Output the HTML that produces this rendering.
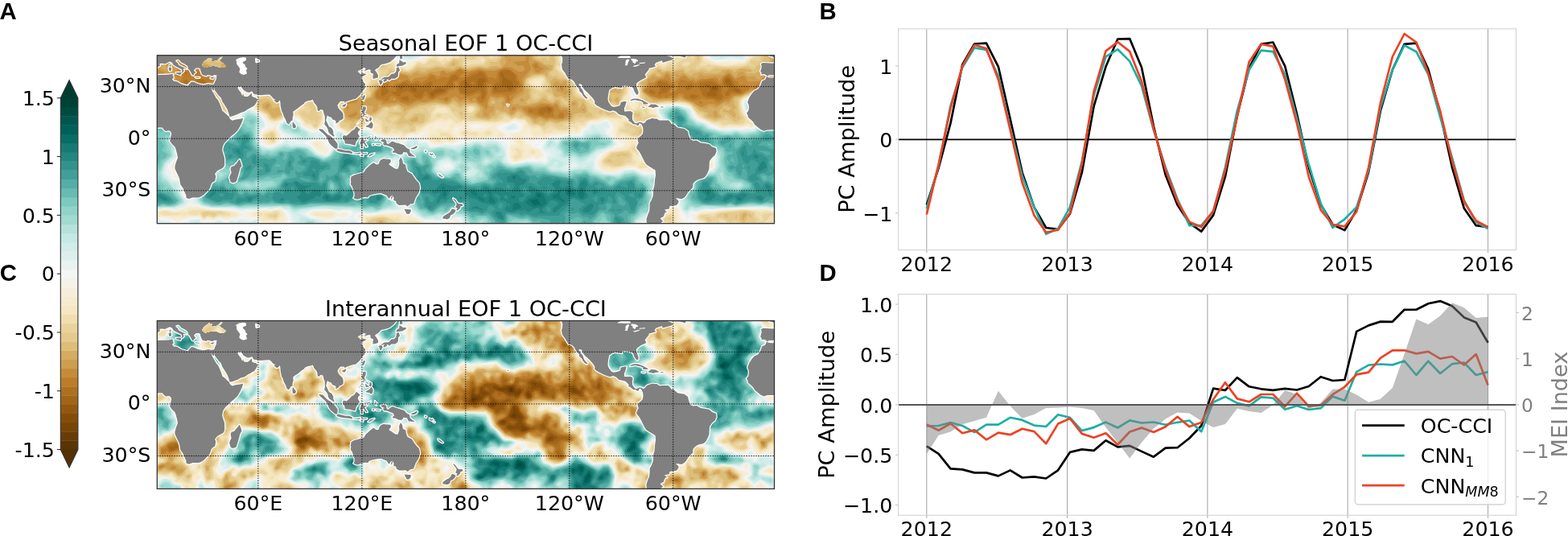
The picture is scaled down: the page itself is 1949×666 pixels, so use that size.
<!DOCTYPE html><html><head><meta charset="utf-8"><title>EOF figure</title><style>html,body{margin:0;padding:0;background:#fff;}svg{display:block;}</style></head><body><svg width="1949" height="666" viewBox="0 0 1949 666" font-family="'DejaVu Sans', 'Liberation Sans', sans-serif">
<rect width="1949" height="666" fill="#fff"/>
<g transform="translate(0,0)">
<clipPath id="clipA"><rect x="195.3" y="68.8" width="767.2" height="208.9"/></clipPath>
<clipPath id="bsA"><path d="M251.1 80.7L252.2 78.5L253.9 76.4L256.5 74.2L259.7 71.9L264.0 73.2L261.8 74.5L264.0 76.4L267.2 75.7L270.4 74.9L273.7 71.4L276.5 70.6L274.7 73.2L272.6 74.5L273.7 76.4L276.9 78.3L281.2 81.8L278.0 83.9L273.7 84.1L269.4 82.4L265.1 81.8L260.8 82.4L256.5 83.5L254.3 83.5Z"/></clipPath>
<g clip-path="url(#clipA)">
<g id="fldA"><rect x="185" y="60" width="790" height="225" fill="#f4f5f5"/><path fill="#e9f2f1" fill-rule="evenodd" d="M491 48l39 1l1 2l-5 5l-3 5l4 6l-1 2l-4 3l-11 3l-11 0l-8 -2l-3 -4l0 -5l-2 -5l0 -5zM718 51l0 -1l6 2l2 -3l3 0l2 7l4 5l-6 2l-13 7l-8 -3l0 -4l8 1zM880 48l48 0l3 8l-1 8l-3 8l-4 3l-13 -2l-21 2l-7 -3l-3 -11zM739 64l3 -1l1 1l-1 1zM786 111l2 -1l1 4l-1 7l-4 -5l0 -2zM926 124l3 -1l5 1l5 3l8 2l3 4l5 -5l3 0l21 2l4 2l10 9l0 59l-7 5l-4 8l6 7l2 8l3 1l0 30l-8 1l-16 -1l-8 1l-11 -2l-27 0l-21 2l-5 -1l-11 2l-8 -1l-8 2l-5 2l-6 -1l-1 2l-1 5l-5 3l0 -6l-4 -2l-4 -8l-3 -3l1 -5l-1 -3l-5 -5l-4 3l0 5l-4 4l-6 2l-6 7l-4 8l-10 8l3 2l0 6l-1 3l-6 2l1 5l-226 0l3 -3l1 -5l-3 -8l0 -7l-2 -2l-5 0l-5 3l-6 -1l-8 2l-18 -1l-11 -4l-8 -7l-13 -2l-8 2l-8 -1l-14 3l-10 1l-11 -2l-6 3l-2 3l7 5l0 11l2 5l0 5l-92 0l5 -5l0 -3l-4 -8l4 -5l0 -2l-2 -8l-10 -7l-14 2l-5 -1l-11 2l-13 0l-5 2l-11 -3l-29 -1l-10 -2l-6 -3l-5 1l-6 -2l-5 5l-11 2l-13 -1l-8 2l-32 -1l0 -103l5 -7l1 -5l-1 -1l-5 2l0 -18l8 3l8 -2l11 2l5 -2l11 3l4 2l5 6l11 5l9 7l13 2l6 -1l8 3l8 -1l9 -2l4 -3l5 0l6 -3l3 -2l2 -8l2 -4l8 1l12 8l8 11l-1 5l-5 4l-2 9l2 3l0 5l8 4l5 -1l14 -6l1 -8l-7 -8l0 -2l2 -5l6 -4l13 -1l6 4l5 7l11 5l8 0l3 -1l2 -5l5 -3l0 -10l6 -2l2 2l-1 5l4 12l8 2l5 5l5 3l8 -1l3 -3l2 -5l6 -2l3 0l5 5l8 3l24 4l5 5l3 -1l5 -7l11 0l3 6l8 -1l5 6l3 1l16 -3l10 1l32 -7l5 2l6 -2l11 1l8 2l5 3l0 18l2 4l6 2l16 -3l13 1l5 -2l3 2l3 -1l0 -8l-6 -8l3 -8l3 -2l8 -4l5 2l13 -4l6 -1l5 2l8 -2l1 -4l9 -9l3 -1l5 1l11 -4l3 1l3 7l-5 5l0 3l7 3l8 10l-7 5l-13 5l-6 5l-2 6l-1 7l10 7l11 1l16 -5l11 0l13 6l8 0l16 -2l11 0l3 -1l1 -3l-1 -5l-5 -8l-1 -8l-2 -5l3 -10l-1 -8l-3 -6l-1 -5l-6 -5l-1 -5l-4 -5l2 -7l21 -3l16 4l3 3l3 8l4 4l11 4l5 4l11 4l19 -1l8 1l8 -2l5 2l3 -1l6 -5l1 -5l-5 -5l-13 -8l-2 -8zM221 196l-6 4l-7 7l6 8l-2 5l4 3l5 1l4 2l1 2l-2 5l4 11l4 3l5 0l4 -11l-1 -13l1 -8l7 -3l0 -5l-8 -8l-11 -3l-3 1l-2 -2zM232 181l-5 3l0 5l2 5l10 -5l0 -2l-5 -6zM391 173l-13 3l1 3l7 2l8 8l11 4l3 -1l3 -5l1 -3l-4 -3l0 -5l-9 -3zM490 201l-3 3l-4 1l4 1l3 -1zM554 204l-3 1l0 2l3 2l8 -2l-3 -4zM798 277l-1 1l1 1l3 -1zM886 191l-17 9l-3 7l1 3l14 3l5 -3l2 -3l1 -13zM386 262l-5 3l1 2l3 3l25 5l8 -3l13 0l4 -2l3 -5l-2 -3l-10 -1l-5 2l-8 -3zM638 153l4 0l3 5l0 2l-14 4l-8 -4l2 -2zM590 158l1 -1l1 1zM666 179l2 -1l2 3l-5 0zM199 273l9 1l2 -1l7 5l3 5l-4 1l-3 4l4 5l1 3l-21 0l0 -5l-3 -5l0 -8l0 -3zM235 273l13 -1l5 5l5 -2l8 1l6 -4l10 4l6 -4l5 2l8 -3l10 3l8 -2l3 3l0 5l3 6l2 7l-1 3l-21 0l-2 -2l-1 2l-43 0l1 -3l-2 -1l-3 4l-32 0l1 -3l4 -2l1 -3l-7 -2l-1 -3l7 -8l4 0zM232 276l-3 2l1 2l2 3l2 -3zM859 275l2 0l1 1l-1 4l-2 3l-5 2l-1 -2l0 -3zM970 275l4 -1l7 1l4 4l8 -4l0 8l-6 10l0 3l-19 0l1 -8l-3 -8zM859 291l3 -2l3 1l1 1l1 5l-10 0zM541 293l2 -1l5 4l-9 0z"/><path fill="#ddefed" fill-rule="evenodd" d="M492 48l31 0l1 2l4 1l-6 10l3 6l-1 2l-4 3l-9 2l-11 0l-8 -3l-1 -2l-1 -5l-2 -5l0 -5zM882 48l45 0l3 8l-1 8l-3 8l-3 2l-13 -2l-13 2l-8 0l-6 -2l-1 -3l-2 -8zM718 56l3 -2l3 3l5 0l1 2l-1 2l-8 2l-3 -2zM786 114l2 -2l0 5l-2 -1zM928 124l6 1l5 3l6 1l5 5l5 -5l3 0l21 2l3 1l11 9l0 43l-2 3l2 2l0 8l-4 5l-5 3l-5 8l-1 5l1 1l3 -2l3 1l3 5l1 5l4 2l0 28l-8 2l-16 -2l-8 2l-11 -2l-27 0l-21 1l-5 0l-11 1l-8 0l-13 3l-6 -1l-5 5l-6 -5l-4 -8l0 -8l-5 -7l-6 -1l-2 1l-2 5l1 5l-2 3l-10 2l1 3l-7 12l-6 4l-10 2l-3 3l5 4l6 1l0 3l-7 5l0 5l-223 0l5 -8l-4 -8l0 -7l-3 -3l-5 0l-5 2l-8 0l-6 2l-10 -2l-8 1l-9 -3l-7 -6l-10 -4l2 -3l-3 -3l-3 0l0 3l-2 3l-6 1l-10 0l-14 4l-10 0l-11 -2l-5 2l-6 -4l-10 -1l-5 2l-11 -2l-19 0l-16 5l11 6l8 1l8 3l3 2l4 1l4 8l2 -3l-3 -5l6 -5l11 1l5 2l2 -3l6 1l2 1l0 3l3 18l-90 0l7 -5l-5 -8l4 -8l1 -5l-5 -8l-10 -4l-14 2l-5 -2l-11 3l-13 -1l-5 2l-11 -3l-29 -1l-8 -1l-8 -4l-5 -1l2 -16l0 -21l6 -2l1 -3l-1 -4l-8 -9l-3 -2l-4 -1l7 0l2 -2l-2 -5l-6 -9l-2 0l-3 3l-6 0l-1 6l-3 2l2 5l-13 11l-3 10l8 9l8 1l3 2l0 6l3 11l7 5l0 3l-5 5l-11 3l-13 -2l-8 2l-13 -1l-6 1l-8 -2l-5 1l0 -101l7 -8l2 -5l-4 -4l-5 2l0 -14l8 2l8 -1l11 2l5 -2l11 2l4 2l4 6l11 5l10 7l32 6l16 -7l5 0l8 -3l5 -11l6 -3l13 8l7 11l0 5l-4 2l-3 11l1 3l0 5l2 2l5 2l8 0l13 -5l6 -6l5 7l3 -3l3 3l10 0l8 3l8 8l11 4l4 -2l3 -5l1 -6l-2 -2l2 -6l3 -2l-1 -3l3 -4l3 -1l5 2l10 8l9 -2l3 -3l2 -5l5 -1l13 7l27 6l5 4l3 -1l5 -6l8 -1l3 1l3 6l8 -1l5 6l19 -3l10 1l32 -6l5 1l6 -2l10 1l4 1l7 8l2 8l0 8l3 2l6 2l16 -3l16 0l5 2l3 0l2 -3l0 -6l3 0l1 -2l-4 -5l-2 1l-3 -1l-1 -3l3 -8l2 -2l7 -3l5 3l5 -3l8 -2l19 0l2 -6l6 -3l2 -5l3 -1l5 2l11 -5l3 2l1 5l-1 1l-6 -1l3 5l0 3l2 2l6 3l5 8l-5 5l-19 8l-2 2l-1 6l0 7l1 3l13 5l11 1l8 -2l5 -3l11 0l13 6l8 0l16 -2l8 1l9 -3l-2 -8l-5 -8l-1 -8l-2 -5l3 -10l-2 -11l-2 -8l-7 -5l-1 -5l-4 -5l1 -6l10 -3l11 0l16 4l5 10l5 5l10 3l6 5l11 3l13 1l6 -1l8 1l8 -2l5 1l8 -4l3 -4l-3 -8l-16 -9l-1 -7l1 -4zM490 199l-3 3l-5 0l-2 3l2 2l5 2l5 -4l1 -5zM548 202l-2 6l0 2l5 2l11 -2l2 -3l-1 -2l-4 -4zM711 204l-8 3l5 2l9 -2l0 -2l-1 -2zM817 238l0 1l5 3l4 -1l-2 -2zM883 191l-2 3l-13 6l-3 7l-3 3l0 2l19 1l5 -2l3 -4l1 -13l-4 -4zM407 147l3 -2l2 2l3 11l-2 5l1 5l-9 5l-11 -2l-8 3l-11 2l-8 -2l-3 -3l-13 -6l-4 -5l0 -2l2 -5l5 -3l13 -1l6 4l2 5l11 7l13 0l6 3l2 -2l-4 -6l4 0l1 -2zM635 155l4 -1l3 4l-1 2l-10 2l-2 -2l1 -2zM243 273l5 -1l2 5l3 1l13 -2l6 -3l10 5l6 -5l5 2l5 -2l13 2l8 -3l2 3l0 8l4 5l0 5l-1 3l-17 0l-4 -5l-2 0l-1 5l-39 0l1 -5l-1 -1l-6 1l-1 -3l1 -2l-2 -1l-3 1l0 5l3 2l0 3l-17 0l-2 -2l-4 -1l1 -5l-6 -5l1 -1l3 0l5 5l2 -4l-1 -8l2 -2zM277 288l0 3l3 0zM197 275l5 -1l8 2l6 3l0 1l-3 3l-2 8l5 2l0 3l-18 0l0 -5l-3 -8zM971 275l6 0l8 6l8 -4l0 4l-7 10l-1 5l-16 0l-1 -3l3 -5l-3 -8zM859 278l1 0l-1 4l-2 2l-3 -1l1 -3zM860 291l5 0l1 5l-8 0zM541 296l2 -2l4 2z"/><path fill="#d2ede9" fill-rule="evenodd" d="M492 48l29 0l1 8l-1 8l1 3l0 2l-11 4l-11 -1l-7 -3l-4 -10l1 -3l2 -2zM883 48l43 0l3 8l-1 8l-5 8l-18 -1l-8 2l-6 -2l-5 1l-3 -2l-2 -9zM927 127l7 -1l5 3l6 1l5 5l8 -6l21 2l14 11l0 39l-3 1l-1 2l3 10l-5 8l-5 3l-5 8l-1 5l3 3l6 2l2 5l6 4l0 26l-8 1l-8 -1l-14 1l-13 -2l-53 1l-11 2l-8 -1l-13 3l-6 -2l-5 4l-5 -2l-3 -8l0 -5l-5 -11l-5 -2l-11 1l-8 -2l-4 4l1 2l11 4l3 4l-3 2l-3 -1l-2 0l-3 3l-5 14l-3 3l-8 1l-9 4l0 5l6 5l3 1l-3 0l-3 5l0 5l-219 0l5 -8l-2 -5l-2 -3l0 -7l-2 -3l-8 -1l-5 2l-8 0l-11 2l-5 -2l-8 1l-7 -2l-9 -8l-6 -2l-2 -6l-6 -2l-5 2l1 3l-4 3l-10 0l-14 4l-10 1l-16 -3l-6 -2l-15 1l-19 -2l-11 0l-16 3l-4 3l3 2l12 5l6 1l7 3l8 5l6 8l4 -6l-1 -5l3 -3l10 1l2 3l3 0l2 -4l5 0l2 3l0 8l3 5l0 5l-15 0l3 -5l0 -3l-3 -1l-2 0l-2 4l1 5l-6 0l-1 -5l-1 2l-6 3l-49 0l2 -8l-3 -2l5 -6l-3 -5l5 -2l0 -3l-1 -2l-5 -2l-6 -6l-5 0l-8 -3l-8 2l-8 -1l-11 2l-13 -1l-5 1l-11 -2l-26 0l-11 -2l-8 -4l-2 -3l-1 -26l2 -8l4 0l2 -5l-1 -3l-7 -10l5 -3l-8 -15l-7 -3l-3 3l-5 0l-3 2l0 3l-4 5l2 5l-13 11l-2 10l9 10l3 2l3 -1l3 2l0 5l3 8l6 8l0 3l-1 2l-14 5l-11 -1l-8 2l-13 -1l-6 1l-8 -2l-5 0l0 -99l10 -12l1 -2l-3 -5l-8 -3l0 -7l11 3l5 -2l11 2l5 -3l11 3l3 1l5 6l10 6l8 6l30 6l5 3l5 -5l8 -1l3 -2l5 0l8 -4l5 -9l6 -4l11 6l8 11l0 5l-3 0l-2 2l-2 11l1 8l3 3l10 3l16 -6l6 -4l1 4l4 2l5 -1l11 1l8 2l8 8l11 4l5 -3l3 -5l1 -11l5 -5l-1 -3l0 -2l3 -2l5 1l10 10l11 -4l3 -6l5 -2l13 8l18 3l14 6l3 0l5 -5l3 1l5 -4l5 7l9 -1l5 6l19 -3l10 2l21 -5l3 -2l8 0l5 2l6 -3l10 1l3 1l6 7l3 8l-2 8l3 2l9 3l16 -4l24 3l5 -7l8 -3l-1 -2l1 -3l-3 -4l-2 -1l-8 1l-3 -1l3 -8l2 -2l6 -2l5 5l5 -5l8 -2l19 0l5 -6l6 -1l0 -5l2 -2l13 9l3 3l8 4l3 7l-3 3l-19 7l-12 11l-1 3l5 -2l3 0l1 4l-1 2l3 5l10 4l11 1l11 -1l5 -4l11 0l13 6l19 -1l2 4l2 -1l0 -2l4 -3l5 2l14 -2l-1 -2l-9 -16l-4 -13l2 -10l-2 -19l-8 -6l-1 -4l-4 -5l-1 -3l2 -3l12 -2l13 0l11 4l3 9l7 6l8 2l6 5l13 4l13 1l6 -2l10 2l14 -1l9 -7l0 -5l-2 -5l-2 -2l-14 -6l-2 -5zM426 280l-4 6l4 0l1 -6zM490 197l-3 3l-8 2l0 3l1 2l7 5l8 -10l-2 -5zM556 199l-8 1l-2 2l-3 8l8 4l12 -4l2 -5zM695 189l-3 0l3 2zM713 199l-10 6l-5 5l2 1l8 0l11 -4l1 -2zM724 205l2 2l2 -2zM883 190l-5 4l-11 4l-3 7l-4 5l-1 3l3 2l5 -2l8 1l11 -1l4 -6l1 -13l-5 -5zM356 150l11 0l8 9l8 4l3 4l4 1l0 3l-4 2l-13 1l-8 -5l-14 -6l-3 -3l0 -5l2 -2zM410 153l0 -1l3 1l1 2l-1 4l-3 -2zM632 158l4 -1l2 1l-2 2l-3 1zM395 168l2 -2l3 2l-1 2zM237 275l8 -2l3 1l1 4l-6 8l-3 1l-4 -7zM270 275l4 0l8 4l6 -4l2 2l8 -2l5 3l0 7l4 -2l-2 -5l12 -4l2 0l0 8l-5 1l1 3l7 2l1 3l-2 5l-11 0l-7 -8l-2 -1l-4 9l-6 0l-3 -3l-5 3l-20 0l1 -7l-5 -3l-1 -6zM274 285l-1 6l2 2l5 2l1 -4l-1 -5l-3 -3zM201 278l7 0l2 8l-2 5l-4 2l1 3l-6 0l1 -5l-2 -11zM970 278l4 -2l5 2l3 4l5 2l0 4l-5 6l-4 2l-8 0l-1 -3l4 -10zM211 293l2 0l2 3l-6 0zM247 293l4 3l-12 0zM859 293l3 -2l3 2l0 3l-6 0zM358 296l4 -1l2 1z"/><path fill="#c4e9e4" fill-rule="evenodd" d="M493 48l26 0l-2 8l2 11l-1 2l-7 3l-11 -1l-5 -2l-2 -8l4 -7l-2 -1zM514 59l-3 1l0 3l4 -2l0 -2zM883 51l2 -3l40 0l3 8l-5 14l-8 1l-13 -3l-5 4l-3 -3l-5 2l-4 -2l1 -5l-3 -1l-1 -4zM928 129l6 -1l5 3l6 0l2 5l3 1l8 -6l20 1l4 2l11 9l0 36l-3 1l-3 4l3 10l-3 6l-7 5l-4 8l-1 5l2 3l16 13l0 24l-8 1l-8 -1l-14 0l-13 -2l-67 3l-5 -1l-13 3l-6 -2l-5 4l-3 -1l-2 -2l-1 -11l-7 -13l-5 -2l-14 1l-5 -1l-3 0l-3 5l1 3l7 4l0 3l-5 5l-2 12l-3 3l-8 -1l-10 7l-1 6l6 5l-3 5l0 5l-216 0l7 -8l-3 -8l-3 -2l1 -5l-4 -4l-8 -1l-16 2l-3 0l-2 -3l-1 3l-2 2l-5 -2l-11 1l-5 -3l-6 -6l-6 -2l-3 -6l-4 -3l-5 -1l-6 -4l0 12l-2 2l-8 -1l-14 4l-10 1l-22 -5l-18 1l-16 -2l-29 3l-6 3l-2 0l-6 -5l-5 0l-5 -2l-51 2l-8 -1l-26 0l-14 -3l-6 -6l1 -5l-1 -8l2 -18l5 -5l-1 -6l-5 -7l4 -6l-5 -7l-2 -9l-10 -3l-6 3l-5 -1l-1 2l-1 5l-3 3l0 2l1 5l-12 10l-3 11l1 3l10 10l6 0l0 5l10 16l0 4l-13 5l-14 0l-5 1l-13 -1l-6 1l-8 -2l-5 0l0 -96l12 -14l1 -2l-5 -8l8 -4l11 1l5 -3l11 3l8 7l21 13l11 1l5 3l8 0l8 4l5 -5l8 0l16 -6l3 -3l2 -6l6 -4l10 5l5 7l0 3l-3 5l-1 16l1 5l4 4l10 3l22 -7l5 3l5 -1l11 1l7 2l8 8l9 3l5 -1l7 -7l2 -11l5 -2l0 -3l-2 -3l2 -3l4 1l11 10l13 -5l3 -7l16 8l8 0l11 3l13 8l8 -5l3 3l3 0l2 -6l2 4l4 2l8 0l5 4l11 -2l8 0l13 2l10 -5l8 -1l6 -2l5 0l5 3l6 -3l10 0l6 5l5 10l-3 8l3 2l8 3l19 -3l24 3l2 -1l6 -7l13 4l1 1l-1 3l-5 4l-5 -2l3 -2l1 -3l-2 -2l-3 1l-1 4l-5 2l1 3l3 1l8 -1l8 3l15 -3l3 -2l5 1l8 -5l2 6l2 3l12 4l19 1l8 -5l11 -1l13 7l8 1l8 -1l5 3l16 -5l8 2l6 -6l5 0l2 4l3 0l8 -3l5 1l11 -1l5 -7l1 -10l-1 -5l-5 -4l-3 1l-5 4l-11 4l-10 13l-5 -3l-6 1l-2 -2l-6 -10l-3 -12l1 -10l-2 -19l-8 -8l-5 -7l0 -3l1 -2l16 -3l8 1l10 4l3 8l8 7l6 1l8 6l13 4l13 1l8 -2l8 2l14 -1l10 -8l0 -10l-8 -9l-8 1l-2 -1l-2 -4zM490 196l-6 3l-11 3l14 13l3 -2l6 -11l-1 -5l-3 -2zM556 197l-10 3l-4 7l1 5l11 3l11 -5l2 -5l0 -2zM588 209l-10 6l1 3l9 0l3 -2l1 -3zM604 199l-1 1l1 2l3 -2zM165 132l2 0l0 2l-2 1zM168 134l5 0l-3 2zM352 153l10 -3l5 2l8 8l6 3l5 8l-11 1l-7 -4l-14 -4l-4 -4l-1 -2zM739 163l3 0l8 5l11 5l2 6l-2 2l-19 7l-13 10l-3 3l-5 1l-8 -6l-5 2l-3 -2l-5 1l-4 -3l1 -6l-5 -3l-3 -4l-8 3l-2 -2l1 -6l4 -3l3 1l5 6l5 -6l3 -2l5 -1l19 0l5 -4l7 -1zM375 270l16 3l3 3l5 2l3 3l5 3l2 7l-2 2l-5 0l-3 3l-31 0l0 -5l5 -11l-1 -2l0 -3zM399 284l-2 4l-3 0l5 1l1 -3zM243 275l4 0l0 3l-7 5l-2 -3l0 -2zM317 275l0 4l-3 -1zM271 278l3 -1l4 3l-4 1l-2 -1l-1 3l-2 3l-5 0l-3 -3l1 -3zM295 278l4 0l1 5l-12 4l-3 2l-3 -3l0 -4l6 -3zM436 278l3 -2l2 2l0 5l-2 2l-5 -2l0 -3zM973 278l2 0l-1 1zM202 280l4 0l-1 2zM976 280l1 0l5 5l3 1l0 2l-3 4l-5 -1l-2 5l-4 0l0 -3l3 -2zM203 286l2 -2l1 2l0 2l-1 0zM306 288l5 -2l3 2l4 3l0 5l-6 0l-3 -2zM292 291l1 -2l2 0l2 2l-1 5l-3 0zM414 291l1 -2l1 2l-1 2zM439 291l3 -2l2 1l1 6l-11 0l5 -3zM266 293l0 -1l3 1l-3 1zM861 293l2 0l1 3l-3 0zM211 296l2 -1l1 1z"/><path fill="#b4e2db" fill-rule="evenodd" d="M494 48l4 0l-3 2zM503 51l3 -3l11 0l-2 6l-7 7l3 9l-11 -1l-5 -4l-1 -4zM886 51l2 -3l8 0l-4 6l2 2l3 0l5 -3l3 2l2 -4l-1 -3l8 0l-2 3l4 5l1 5l1 2l3 0l2 -2l-3 -5l3 -7l3 7l0 3l-2 2l-1 6l-4 2l-12 0l-5 -6l-11 4l-8 -8l1 -5zM197 132l11 3l8 7l24 14l5 -1l8 5l8 -1l8 4l5 -5l11 1l3 -3l10 -4l3 -2l5 -9l3 -1l7 2l4 3l2 5l-3 8l0 18l6 8l2 2l11 0l16 -6l8 3l8 -1l8 1l5 1l9 8l10 4l5 -1l5 -3l4 -8l2 -8l5 0l2 -2l-3 -6l1 -2l3 2l4 6l6 4l14 -7l3 -5l13 8l10 -1l11 3l10 8l1 3l-3 7l-3 0l-5 2l-5 0l-6 4l-5 0l-1 2l1 5l5 2l5 4l1 2l2 3l3 0l4 -3l7 -9l0 -9l6 -5l-2 -5l4 -4l6 1l2 6l8 -3l0 -3l2 -1l11 3l11 -3l8 1l8 1l8 3l7 -6l8 -1l6 -3l5 1l5 2l3 0l3 -2l10 0l5 5l1 3l-3 4l-3 1l0 2l8 -1l-1 7l1 2l11 4l21 -3l8 2l14 1l5 5l4 2l7 -1l8 2l10 -3l19 -1l5 4l11 3l21 2l8 -4l11 -1l10 5l6 1l2 3l8 -3l6 3l8 1l8 -5l10 2l8 -5l5 3l3 1l8 -5l5 1l11 -1l4 -2l3 -6l1 -13l-4 -5l-4 -2l-3 1l-5 4l-11 3l-10 9l-3 -1l-2 -3l-3 5l-3 1l-2 -1l-5 -11l-3 -10l1 -10l-1 -19l-9 -8l-4 -10l15 -5l6 0l10 5l5 10l7 6l7 1l8 6l18 4l8 1l8 -2l8 2l14 -1l9 -6l3 -3l2 -5l-2 -8l9 -10l17 0l7 2l11 10l0 31l-7 6l-1 3l2 13l-2 3l-6 4l-4 6l-1 8l3 5l16 13l0 21l-8 1l-8 -1l-14 1l-10 -2l-22 0l-29 2l-27 -1l-10 2l-6 -2l-5 5l-4 -2l1 -8l-8 -16l-7 -4l-14 2l-8 -4l-2 1l0 2l-4 6l4 5l4 2l1 3l-4 5l0 6l-4 7l-8 -1l-11 8l-1 6l1 3l2 3l-2 10l-212 0l7 -5l1 -3l-6 -15l-5 -5l-11 -3l-10 3l-8 -2l-6 2l-13 2l-16 -12l-8 -9l-11 -6l-3 3l1 6l-1 5l-7 1l-14 5l-16 -1l-5 -3l-11 -1l-45 -1l-18 3l-6 2l-2 0l-6 -5l-5 1l-5 -2l-51 3l-8 -2l-26 0l-13 -3l-5 -5l1 -5l-3 -8l1 -8l3 -3l1 -7l3 -5l-2 -8l-4 -5l4 -6l0 -2l-4 -5l-4 -11l-10 -3l-8 3l-6 -2l0 7l-4 6l1 7l-10 9l-4 12l2 5l7 6l3 5l8 7l7 11l0 3l-10 5l-42 1l-6 -2l-5 -1l0 -92l3 -2l10 -14l1 -2l-3 -5l0 -3l5 -3l11 1zM264 214l0 1l2 1l3 -1l-3 -2zM554 196l-10 4l-4 10l3 4l5 2l8 0l10 -6l7 -10l-1 -1l-8 2l-5 -5l-3 -1zM580 204l4 3l0 3l-7 5l0 3l3 2l8 0l6 -5l1 -2l-7 -7l-5 -3zM604 197l-3 3l0 2l3 2l6 -4zM652 278l-3 0l-1 2l1 2l2 -2zM838 222l0 2l2 -1zM921 228l-8 3l5 2l3 -2zM929 132l4 0l0 2l-3 0zM353 153l9 -2l5 2l8 9l6 3l1 3l-4 3l-5 -3l-19 -6l-4 -4l1 -3zM742 166l3 0l5 5l10 3l2 2l-1 3l-8 5l-11 2l-18 13l-3 0l-8 -5l-5 1l-8 0l-1 -6l-6 -5l0 -3l4 -7l3 -1l13 -2l11 2l5 -4zM683 176l4 0l-4 5l-2 1l0 -3zM380 273l11 2l1 3l-3 6l2 6l6 3l0 3l-22 0l-3 -5zM311 288l4 3l-1 3l-4 -1l-2 -2z"/><path fill="#a0dad1" fill-rule="evenodd" d="M509 51l5 -3l0 3l-7 8l-1 7l-6 0l-2 -2l-1 -3l6 -7zM890 48l4 0l-3 3zM909 48l2 0l-1 2zM909 54l1 -2l2 4l-3 0zM891 61l3 -1l4 1l-4 4l-2 -1zM913 61l2 2l2 4l-2 1l-8 -1l-1 -3l1 -2zM194 134l3 -1l11 3l32 23l5 -2l3 1l-1 5l3 1l11 -4l3 3l5 1l8 -5l8 3l3 -4l13 -7l7 -9l9 2l2 2l1 4l-3 8l1 18l4 7l5 5l6 -1l5 1l16 -6l8 2l8 -1l11 1l10 8l11 5l3 0l5 -3l6 -7l2 -6l8 -5l5 0l5 3l19 -9l5 1l6 4l10 -1l11 4l5 3l-1 8l1 3l-5 3l-5 -2l-3 0l-5 3l-6 0l-2 2l1 12l4 5l0 3l3 2l5 -4l8 6l11 0l1 -2l-3 -7l5 -8l0 -8l5 -5l0 -4l2 1l1 3l2 1l3 0l10 -6l11 0l13 -3l3 0l5 4l3 -1l3 -1l8 5l7 -8l8 0l6 -4l5 1l5 3l16 -2l3 3l0 4l-3 1l-2 -1l-3 -4l-1 3l3 5l-1 5l-9 -2l-3 1l-3 6l1 3l5 1l13 -8l3 0l5 5l6 3l8 1l18 -3l8 3l14 1l2 3l6 2l10 1l6 1l10 -3l16 -1l8 5l13 3l6 -1l13 3l8 -5l11 -1l16 8l6 10l-4 6l8 10l-2 3l0 7l-3 5l-11 1l-8 8l-2 7l0 3l1 3l-1 10l-30 0l-2 -3l-2 3l-99 0l0 -9l-3 3l-8 2l-1 1l0 3l-39 0l-8 -2l-2 2l-14 0l5 -3l6 -7l-6 -6l-5 -10l-5 -4l-8 -1l-3 -3l-2 0l-3 3l-5 2l-8 -2l-8 3l-11 0l-19 -16l-5 -8l-8 -5l-9 5l2 8l-1 3l-19 7l-5 -2l-11 1l-5 -3l-45 -2l-35 4l-2 0l-6 -4l-10 0l-43 1l-8 1l-8 -2l-26 1l-11 -3l-6 -5l-1 -18l4 -5l0 -8l3 -8l-1 -5l-4 -5l4 -6l-1 -2l-3 -5l-4 -11l-2 -2l-5 0l-5 -4l-8 5l-3 -3l-4 -1l-5 13l2 10l-10 8l-5 13l3 8l6 3l12 13l7 10l-1 3l-5 3l-5 2l-40 0l-6 -2l-5 -1l0 -89l4 -2l4 -6l5 3l2 -2l-3 -5l4 -8l-3 -5l0 -3l3 -1l11 1zM264 209l-3 4l0 2l3 3l8 0l2 2l4 -2l-2 -3zM306 228l-2 3l5 1l3 -1zM319 227l-1 1l0 3l4 1l2 -1l-1 -3zM495 231l-2 0l2 4l1 -2zM554 194l-12 6l-3 10l1 3l3 2l5 2l8 1l11 -7l7 2l-3 -6l4 -4l6 7l-6 5l2 5l11 4l3 -1l2 -3l6 0l1 -2l-1 -5l-6 -5l0 -3l-2 -2l-6 -2l-8 1l-5 -7l-2 0l-3 4l-3 0l-8 -6zM601 272l-5 4l-1 2l1 1l3 -3l2 -1zM647 278l-1 2l3 4l3 -1l4 -5l-4 -2zM753 283l-5 1l-2 2l-3 5l2 2l5 -2l3 -7l3 0l1 -1l-1 -2zM596 288l3 3l4 -3l-2 -1zM833 134l8 -1l11 4l6 10l9 8l6 0l6 5l20 6l8 0l8 -2l8 3l16 -3l11 -7l2 -7l1 -10l5 -7l3 -1l13 1l11 5l5 6l3 1l0 27l-9 9l0 11l1 5l-6 5l-6 8l-1 8l0 2l5 6l11 7l5 5l0 19l-8 1l-8 -2l-14 1l-10 -2l-22 0l-16 2l-40 -1l-10 2l-6 -2l-3 1l-2 3l-2 0l2 -8l-6 -13l-6 -6l0 -7l2 -3l10 -3l8 2l4 -4l4 -2l5 1l14 -2l6 -8l-1 -7l1 -6l-2 -5l-7 -3l-3 0l-5 6l-11 2l-8 7l-2 0l-3 -3l-2 0l-6 5l-2 -2l-4 -7l-3 -10l0 -29l-8 -8l-3 -5l0 -2l2 -3zM910 227l-4 4l12 3l6 -3l-1 -3l-2 -1zM894 215l3 7l3 4l-2 -11l-1 -1zM360 153l5 0l6 5l3 5l-1 2l-8 0l-6 -5l-5 0l-2 -2l0 -3zM739 168l6 0l5 5l8 0l2 3l-1 3l-9 5l-8 1l-10 8l-11 3l-8 -4l-5 2l-7 -2l-2 -5l-4 -6l2 -5l3 -2l16 -2l8 2zM810 223l4 -1l6 3l5 1l2 2l0 3l-5 1l-2 0l-6 -4l-5 -2zM832 223l4 1l1 4l-4 3l-5 -3zM382 275l7 0l1 3l-4 8l5 7l-1 3l-12 0l-1 -10z"/><path fill="#8fd3c9" fill-rule="evenodd" d="M506 54l1 0l1 2l-5 7l-2 -2zM197 134l4 0l6 3l26 18l7 8l8 3l13 0l3 -1l5 0l8 -4l8 3l5 -6l11 -5l5 -7l3 -2l8 2l2 4l-4 8l2 18l5 8l5 6l6 -2l5 2l8 -4l8 -2l11 1l5 -2l11 2l10 8l11 5l9 -4l9 -13l6 -3l5 0l5 2l19 -8l5 1l6 3l10 -1l11 4l3 2l-1 8l1 3l-3 2l-5 -3l-8 2l-6 0l-5 4l-1 3l2 7l5 8l1 5l4 2l2 0l3 -3l3 1l3 3l-1 6l5 2l2 2l1 3l-9 8l3 8l-1 2l-6 1l-6 5l-5 1l-5 -3l-11 2l-5 -4l-5 1l-40 -2l-35 4l-8 -3l-10 -1l-43 1l-8 1l-8 -1l-26 0l-11 -3l-4 -4l-2 -13l0 -5l5 -5l0 -8l5 -11l-6 -7l3 -6l-5 -7l-4 -14l-8 0l-5 -7l-6 6l-2 1l-6 -5l-2 -1l-3 4l-5 0l-2 3l7 18l-1 2l-9 8l-2 8l-4 5l3 9l13 10l11 12l1 3l-1 3l-6 4l-8 1l-8 -1l-5 1l-8 -1l-13 0l-6 -2l-5 -1l0 -84l8 -8l5 1l3 -2l1 -5l-3 -2l0 -3l5 -8l8 -2zM264 206l-4 4l-1 5l5 5l10 2l9 -7l-11 -4l-6 -4zM277 206l-1 1l1 2zM319 225l-5 5l-1 -2l-7 -1l-6 1l-2 3l11 3l2 0l3 -2l11 2l13 -3l3 -3l-3 -3l-13 2zM836 134l5 -1l9 4l3 3l4 8l10 8l6 1l5 4l21 6l11 0l5 -2l11 3l13 -3l12 -7l2 -5l2 -13l1 -3l3 -3l15 0l11 5l5 6l3 1l0 25l-3 1l-9 9l2 6l-2 5l2 5l-12 13l0 10l12 13l4 2l6 4l0 17l-8 1l-32 -3l-8 1l-14 -1l-16 3l-8 -2l-5 2l-27 -2l-8 2l-9 -3l-6 -10l0 -11l-6 -1l-1 -4l-1 -2l2 -2l8 0l3 1l2 5l11 -13l5 1l16 -1l3 9l11 7l13 3l8 -5l-4 -5l-15 0l-5 -4l-6 -20l1 -13l-3 -2l-11 -2l-5 5l-11 2l-8 7l-5 -3l-2 0l-6 3l-2 -1l-3 -4l-3 -10l0 -29l-8 -8l-2 -5l2 -4zM354 155l11 0l5 3l1 2l-1 3l-4 0l-7 -8l-2 2zM737 171l5 -2l3 1l3 4l8 1l3 1l-6 5l-11 2l-10 8l-11 4l-8 -4l-8 0l-2 -1l-6 -9l1 -5l5 -2l5 0l8 -1l8 2zM589 181l7 0l5 4l6 -1l4 8l-1 2l-4 0l-5 -2l-5 8l-5 1l-11 -2l-6 -5l-2 -2l5 -8l8 0zM542 187l9 -1l2 3l0 3l-2 2l-11 3l-2 13l2 5l6 3l10 1l11 -6l6 2l3 5l12 7l15 -7l-2 -10l6 -5l13 -5l11 7l8 1l18 -3l8 4l11 -1l8 6l13 1l8 2l8 -3l8 0l5 -2l4 1l7 4l5 1l8 3l6 -2l13 3l8 -5l11 -1l5 2l5 5l3 1l6 9l-2 6l4 7l2 11l-2 4l-13 3l-2 3l-6 6l-2 10l1 10l-2 3l-26 0l-1 -5l-4 -3l4 0l1 -2l-1 -5l-2 -3l-11 5l-3 5l0 6l9 2l-94 0l0 -5l2 -5l-2 -5l0 -5l-2 -2l-9 1l-2 3l1 5l5 5l-8 3l-3 4l-33 1l-2 -3l3 -10l-4 -5l2 -3l-1 -4l-8 1l-5 8l-3 0l-8 -12l-5 -3l-5 0l-6 -6l-2 1l-6 5l-2 0l-8 -2l-8 4l-8 -1l-8 -4l-14 -13l-3 -8l0 -5l-5 -1l-3 -7l4 -5l1 -3l-4 -7l5 -8l-1 -8l4 -2l13 -2l5 -4l8 0zM562 194l2 -2l3 2l-1 3l-2 1zM832 226l2 0l0 2l-2 0zM819 228l3 -1l2 1l-2 3zM383 278l4 0l-4 7l-2 -2zM590 291l3 0l0 2l-1 3l-7 0zM381 293l2 -2l3 0l2 2l0 3l-8 0z"/><path fill="#7ccabe" fill-rule="evenodd" d="M837 134l6 0l9 5l5 12l8 5l8 2l2 3l22 7l13 0l5 -2l11 4l8 -3l5 0l14 -9l5 -21l3 -1l13 1l11 3l4 7l4 0l0 22l-3 0l-5 6l-3 1l-3 -2l-4 2l0 3l6 8l-3 5l3 5l-13 13l1 10l3 6l10 9l5 2l6 4l0 15l-8 1l-32 -4l-8 1l-14 -1l-16 3l-8 -2l-5 2l-40 -2l-7 -8l0 -5l2 -3l6 -2l2 -10l5 -7l5 0l6 -1l8 0l2 2l1 6l7 7l8 2l11 2l13 -6l-8 -6l-10 -2l-3 -3l-7 -2l-5 -18l2 -8l-3 -7l-16 0l-4 4l-10 2l-8 6l-5 -2l-8 2l-2 -1l-5 -12l1 -10l-2 -8l1 -11l-9 -9l-1 -4l1 -2zM198 137l2 -1l4 1l31 21l-1 3l-6 5l-2 4l-4 -2l-1 -10l-3 0l-2 2l0 3l-5 5l-6 0l-1 6l3 7l-1 6l5 5l-1 2l-8 6l-4 10l-1 1l-3 -2l-2 1l6 16l7 5l-2 2l1 3l6 -2l3 2l11 13l-5 5l-6 2l-11 -1l-5 2l-8 -2l-13 0l-6 -2l-5 0l0 -82l8 -7l8 -1l3 -5l-4 -8l2 -3l2 -3l2 -1l6 1zM306 150l8 -2l3 2l-3 5l-3 -1l-2 -4zM301 155l2 -2l4 5l2 1l2 -1l4 8l1 13l9 12l2 1l6 -2l2 2l3 0l10 -5l9 0l13 -3l11 2l2 4l19 9l10 -5l9 -11l3 -2l7 -1l5 1l19 -8l3 1l8 4l10 -2l11 4l2 4l-2 5l-21 3l-6 4l0 4l2 7l5 8l0 5l7 4l5 0l5 8l4 1l0 3l-6 6l-3 10l-8 8l-3 0l-5 -3l-11 2l-5 -4l-5 1l-40 -1l-35 3l-8 -3l-10 0l-43 0l-8 1l-16 -2l-10 1l-8 0l-11 -3l-3 -3l-1 -13l1 -5l4 -5l-1 -8l3 -4l5 7l11 4l5 -2l8 -7l8 -3l-3 -5l-8 2l-5 -6l-16 -4l-5 -6l-2 -5l-4 -3l-3 -7l-2 -11l8 -1l8 1l8 -1l8 -5l11 5l2 -8zM306 225l-12 3l0 3l4 3l5 0l8 2l6 -2l10 3l6 -4l10 -2l1 -3l-1 -2l-5 -2l-13 1l-6 -1l-5 3zM413 229l-2 2l2 2l1 -2zM239 166l6 2l-5 3l-3 0l-1 -3zM742 171l2 3l1 3l5 0l4 2l-4 2l-5 -1l-5 2l-8 8l-11 3l-8 -4l-8 0l-6 -10l0 -3l4 -1l5 0l8 -2l8 3l8 -3l2 1zM588 184l3 -2l6 2l1 5l-2 7l-5 1l-6 -4l-3 1l2 3l-4 0l-6 -5l3 -6l8 1zM548 187l3 1l0 4l-5 2l-8 -1l-3 4l3 8l-1 8l2 2l7 4l10 1l3 0l5 -5l6 0l2 2l3 5l13 6l17 -5l1 -3l-3 -5l1 -2l4 0l0 -3l-1 -3l2 -2l6 0l5 -3l11 6l8 1l18 -3l4 1l4 4l11 -1l8 5l13 1l8 2l6 0l2 -3l8 1l5 -3l3 1l5 4l6 0l10 5l6 -3l2 1l2 2l-3 3l1 2l3 -1l3 -3l8 -2l5 -3l11 -1l5 2l3 4l5 3l5 6l-2 8l2 3l0 5l3 8l-3 1l-2 -1l-8 4l-4 6l-4 3l-5 16l1 7l-2 3l-22 0l1 -10l-2 -6l-9 -11l-3 4l-4 10l-3 5l1 8l-27 0l-3 -2l-3 0l-2 2l-47 0l0 -8l4 -2l0 -3l-3 -3l-1 -5l-4 -3l-6 1l-10 -1l-3 2l-2 4l1 5l-3 5l1 3l-1 5l-24 0l1 -13l-2 -5l0 -5l-3 -3l-8 0l-5 4l-3 0l-8 -7l-5 -4l-5 -1l-2 -2l-4 -2l-2 0l-6 5l-2 1l-6 -2l-10 4l-6 -1l-3 -3l-5 0l-4 -2l-5 -8l-4 -3l-4 -8l0 -5l-7 -5l4 -11l-4 -5l0 -2l4 -6l0 -7l1 -3l11 -2l4 2l2 4l2 2l-1 -6l1 -6l8 0l14 -3zM603 187l4 0l1 2l-1 4l-4 -4zM255 200l1 0l1 2l-2 0zM846 226l3 -1l4 1l2 2l-1 2l-5 -1zM640 280l1 0l0 2zM382 296l1 -2l3 0l1 2z"/><path fill="#67bbb0" fill-rule="evenodd" d="M835 137l6 -2l3 1l8 7l3 7l-1 3l2 2l6 1l3 2l5 1l5 4l11 3l0 4l3 1l5 -2l11 -1l5 1l5 -1l11 4l5 -1l3 -2l8 -1l12 -10l5 -13l0 -5l2 -2l13 0l9 4l2 3l0 10l2 4l6 2l0 6l-6 1l-2 4l-2 -1l-1 -5l-3 1l-2 -6l-10 2l2 3l9 2l-6 8l1 3l6 8l-4 5l3 5l-11 10l-1 3l2 5l-2 5l11 13l16 9l0 13l-8 1l-32 -4l-8 2l-8 -2l-22 3l-8 -2l-5 2l-21 0l-11 -1l-11 -5l-1 -3l0 -5l1 -2l6 -2l0 -9l5 -7l3 -1l13 -1l3 1l1 8l4 2l3 4l10 2l11 2l5 -3l8 -1l2 -3l-2 -3l-8 -5l-8 -1l-5 -6l-5 -2l-3 -7l-2 -10l2 -5l-1 -3l-2 -5l-6 -3l-2 -2l-5 3l-10 2l-3 5l-8 2l-6 4l-5 -1l-8 2l-2 -2l-3 -10l1 -5l-3 -13l1 -11l-9 -10l1 -5zM889 229l-2 2l2 0zM205 142l0 -1l5 3l6 5l6 4l-9 5l-5 -2l-1 4l-7 4l-6 -4l-1 0l1 3l3 3l-3 5l6 4l4 6l-3 6l7 5l-3 5l-5 1l-3 8l-5 2l-2 5l3 2l4 14l2 2l0 5l14 2l9 11l-4 5l-8 1l-8 -1l-5 2l-32 -4l0 -74l1 -2l-1 -2l3 -1l5 -7l11 -3l2 -5l-4 -8l2 -4l2 -1l6 2l5 -1l5 3l3 -2zM991 150l2 -1l0 8l-4 -2l-1 -2zM224 158l2 -2l3 0l3 2l0 2l-6 4l-2 -2zM297 158l4 0l5 5l5 0l3 5l0 11l10 13l3 1l6 -1l2 2l8 -1l3 -4l3 -1l8 1l13 -4l8 2l5 6l14 4l5 3l8 -2l5 -4l11 -11l10 0l8 -5l11 -2l3 -1l8 4l10 -1l3 1l0 3l6 -1l2 3l-3 3l-5 0l-5 3l-8 1l-6 2l-5 9l9 13l-1 3l-3 0l1 2l5 3l10 3l7 7l1 3l-4 5l-1 8l-7 8l-4 1l-8 -2l-8 2l-5 -4l-3 -1l-5 2l-53 -1l-19 3l-8 -3l-21 -1l-32 1l-8 2l-16 -3l-10 2l-8 -1l-11 -3l-2 -5l0 -7l2 -7l5 -2l6 -5l8 2l16 -10l5 2l5 0l1 -4l-9 -10l-5 2l-11 -7l-10 -1l-3 -2l-5 -10l-6 -6l-1 -10l4 -3l5 1l11 -1l8 -4l11 9l4 -7l-2 -3l1 -3zM351 217l-2 3l-3 0l-5 2l-8 -2l-8 3l-6 -1l-5 3l-5 -1l-11 2l-5 -1l-3 3l1 3l7 7l8 -2l5 2l6 -2l10 3l6 -4l10 -2l6 -7l1 -3l6 -3l-2 -3zM410 228l0 6l3 2l2 0l1 -3l-2 -5l-1 -1zM431 221l-1 5l1 3l3 1l2 -2l0 -2l-2 -5zM702 176l6 1l8 -3l8 3l8 -2l2 1l1 3l-3 9l-11 3l-10 -4l-6 -6l-2 -1l-2 -1zM588 187l3 -3l5 3l0 5l-3 1l-2 -1l-3 -3zM577 189l4 0l-1 1zM526 192l6 2l5 11l-1 8l7 6l16 2l8 -5l3 0l1 2l2 5l12 6l22 -5l1 -9l4 -5l-1 -3l4 1l5 -4l11 5l8 1l5 -2l13 -1l8 6l11 0l5 2l24 5l6 0l5 -3l13 -2l5 4l6 1l13 5l5 5l3 0l5 -5l11 -4l11 -2l3 1l4 6l3 1l6 6l-1 8l1 11l-8 6l-6 9l-6 3l0 8l-3 8l0 7l-2 3l-18 0l1 -13l-4 -8l-3 -2l-2 -6l-3 -2l-2 0l-10 10l3 8l-3 5l1 8l-15 0l-3 -2l-5 2l-2 -3l5 -10l-3 -5l1 -3l-1 0l0 3l-7 8l-1 5l-4 5l-42 0l1 -2l2 0l0 -2l-2 1l-2 -2l1 -3l3 -1l1 -4l-3 -3l-2 -5l-4 -3l-2 -1l-8 1l-14 -3l-3 19l0 8l-21 0l4 -10l-3 -6l1 -5l-4 -5l-3 -2l-11 0l-5 4l-13 -11l-11 -5l-4 1l-4 4l-2 1l-3 -4l-3 0l-10 7l-6 -2l-2 -2l-8 -1l-3 -3l-2 -5l-7 -11l0 -2l1 -3l-8 -5l2 -11l-3 -5l0 -2l6 -6l-2 -5l0 -2l4 -3l6 -1l4 6l4 2l2 -2l-1 -8z"/><path fill="#55aea5" fill-rule="evenodd" d="M837 137l4 -1l2 1l8 8l2 5l-1 5l18 6l5 4l7 1l1 5l4 3l1 2l-2 4l-16 2l0 5l-11 5l-13 2l-2 -2l-1 -18l-3 -8l2 -11l-9 -10l0 -3zM962 142l1 -1l11 -1l2 2l-1 3l3 5l-1 3l-6 -2l0 8l-5 1l-2 3l0 3l2 2l6 3l0 3l-2 2l1 5l-5 6l0 2l3 1l2 -1l1 11l-7 7l1 9l-7 7l4 5l8 1l6 7l10 4l6 4l0 10l-8 1l-32 -4l-6 2l-16 -2l-16 4l-8 -3l-5 2l-21 0l-8 -1l-13 -7l2 -5l4 -5l2 -8l3 -5l10 -3l5 0l1 3l-3 8l2 2l8 1l3 3l21 2l5 -3l6 0l5 -2l0 -6l-11 -6l-6 -2l-2 -2l-2 -5l-6 0l-3 -3l0 -3l3 -5l-4 -5l2 -5l5 0l1 -3l-1 -1l-5 1l-3 -2l0 -3l-3 -2l-6 -3l-1 -5l13 -5l8 3l1 2l-2 7l3 4l5 -4l3 -7l8 -1l6 -2l5 0l11 -8l6 3l1 -3l-4 -3l2 -9l4 -4zM910 195l-3 5l6 2l0 -2zM947 219l0 1l3 4l3 -1l0 -3l-3 -2zM955 178l-2 1l3 2l3 0l0 -2zM184 147l2 -1l8 5l4 -1l1 5l1 2l2 1l-2 0l-8 -4l-3 3l-5 -6zM208 147l2 -1l2 1l3 6l-2 2l-5 -2l-1 -3zM991 153l2 -2l0 3zM978 155l1 -1l5 4l0 2l-2 2l-3 -1zM226 160l0 -1l2 1zM294 160l4 0l5 5l6 0l2 2l1 12l10 14l13 3l8 -1l3 -1l2 -5l3 0l3 3l-3 5l3 2l3 -3l0 -4l2 -3l6 0l5 -3l7 3l4 5l8 1l13 6l8 -1l3 -2l8 -1l1 -5l3 -5l4 -1l5 0l10 -6l5 1l-5 3l-1 3l1 0l3 0l11 -9l8 2l8 -1l2 2l0 6l-2 2l-8 0l-6 3l-8 10l3 7l5 4l0 2l-3 3l2 2l4 5l13 3l5 5l0 3l-3 5l-1 8l-6 7l-11 -1l-8 1l-5 -4l-5 -2l-11 3l-45 0l-8 2l-11 0l-8 -2l-16 0l-5 -2l-5 2l-27 0l-8 2l-16 -3l-10 2l-18 -5l-1 -3l1 -10l2 -2l10 -6l6 2l5 -3l5 7l3 0l3 -3l5 3l5 7l3 0l2 -3l3 -1l5 3l8 -2l8 3l6 -4l5 0l8 -4l5 -8l8 -5l-5 -4l-3 -1l-2 2l-16 1l-8 2l-14 1l-13 4l-3 -2l6 -4l1 -4l-12 -14l-2 -1l-6 3l-8 -6l-10 0l-8 -13l1 -5l-1 -3l-3 -2l0 -3l16 -1l5 -2l6 3l8 6l5 -1l-2 -2l4 -8zM343 204l-1 3l7 0l-1 -2l-2 -1zM367 204l-1 1l1 1zM399 219l-1 4l1 2l2 -2zM410 225l-2 3l1 8l4 3l2 -1l3 -2l1 -3l-4 -6l-2 -2zM415 207l0 6l1 -6zM436 208l0 7l-2 3l-3 -1l-2 -2l-4 0l0 3l2 2l2 10l2 3l5 -1l3 -4l-1 -8l5 -7l-1 -3l-3 -2zM439 188l0 4l2 0l1 -3zM988 163l5 0l0 2zM173 168l13 -1l3 1l1 6l6 5l-3 2l-5 11l1 2l8 -2l1 2l-2 8l-6 5l-1 6l6 10l2 13l8 3l5 0l10 10l-2 3l-8 3l-8 -2l-5 2l-11 -3l-21 -1l0 -71l4 -1l0 -5zM713 176l5 0l6 2l8 -1l0 7l-3 2l-5 -4l-3 1l-1 4l-2 1l-8 -7l-1 -2zM513 197l3 0l2 5l6 4l3 -1l3 -8l5 8l-1 8l9 7l16 2l5 -2l3 0l1 3l4 3l13 4l16 -3l11 1l2 -2l-4 -3l-1 -5l7 -8l4 -3l3 0l5 3l11 2l5 -3l13 0l6 6l8 1l5 -1l5 2l24 4l8 1l5 -3l11 -2l4 3l1 3l6 -2l10 5l8 5l3 0l8 -6l19 -4l2 2l3 7l5 -2l5 5l0 3l-5 18l-4 3l-4 8l-7 2l-3 3l2 10l-4 13l-2 3l-14 0l2 -10l-5 -13l0 -6l-11 -4l-4 2l-3 5l-4 3l-1 2l0 8l-1 5l2 3l1 5l-13 0l-4 -5l-1 -13l5 -5l-7 -4l-9 4l-2 5l1 5l-6 13l-35 0l1 -8l5 -8l0 -2l-2 -4l-8 1l-5 -5l-3 -1l-6 2l-16 -4l-2 0l-4 29l-16 0l4 -7l5 2l1 0l1 -3l-2 -6l-3 2l-4 -4l2 -5l-1 -2l-7 -6l-8 1l-8 -1l-2 0l-1 3l-1 -3l-11 -7l-1 -5l-3 2l-8 -3l-5 2l-3 2l-2 -2l-6 0l-10 7l-3 0l-5 -4l-6 0l-2 -2l-3 -5l-6 -8l1 -3l2 -2l0 -3l-5 -3l-6 -2l1 -5l2 -3l-1 -8l4 -5l-3 -8l1 -2zM577 254l-1 0l1 1zM285 220l3 0l-3 6l-3 -1l0 -2z"/><path fill="#419f97" fill-rule="evenodd" d="M839 140l2 -2l10 9l1 3l-5 5l2 2l21 6l5 6l3 -2l3 1l-1 3l3 5l0 3l-5 1l-5 -3l-3 0l-5 8l-8 5l-11 2l0 -7l5 -1l-2 -2l-3 1l-2 -7l2 -2l6 3l5 -1l4 -2l1 -3l-3 -3l-13 2l-3 -2l-2 -5l2 -10l-5 -6zM186 147l4 3l-1 3l-3 0l-1 -3zM966 150l2 5l-1 3l-4 2l-3 -2l1 -3zM300 168l3 -1l6 0l2 4l-2 8l4 5l0 3l-6 2l-1 7l3 0l5 -5l3 0l5 6l8 0l5 2l3 -2l4 0l2 3l-6 6l-1 7l-2 2l-10 3l-5 0l0 -3l2 -4l6 -1l-3 -3l-8 0l-9 13l-5 3l-4 0l4 -8l-1 -8l-1 -1l-6 -1l-2 -3l1 -5l-1 -1l-5 2l-6 1l-7 -5l-3 -6l-6 3l-2 -1l-5 -6l1 -8l2 -2l12 -3l6 2l5 5l11 3l2 -2l-4 -5l1 -3zM280 187l-2 2l2 4l2 -4zM950 168l3 -1l2 0l6 3l5 1l2 3l-2 8l-5 -7l-6 1l-8 0l-5 5l8 0l8 4l5 1l-2 14l-3 -1l-2 3l2 4l3 1l3 8l-9 4l-5 -3l-3 0l-3 2l1 2l3 6l2 0l5 -1l8 5l8 3l11 8l5 1l3 2l3 3l0 6l-6 1l-16 -3l-5 1l-5 -4l-3 0l-11 4l-13 -2l-19 4l-5 -3l-8 2l-11 -1l-13 1l-5 -1l-7 -6l0 -7l7 -15l10 -2l2 1l-3 8l4 4l8 4l0 2l3 2l7 -4l11 1l8 -3l14 0l0 -4l-2 -5l-7 -5l1 -8l-3 -5l-3 0l-2 8l-3 0l-5 -10l-2 2l-4 0l-1 -3l4 -2l3 2l2 0l3 -5l-3 -13l11 -13l3 0l2 4l3 1l1 -2l-1 -3l3 -2l8 -1zM945 187l-2 2l4 0l6 4l5 -1l-1 -3l-2 -1zM958 210l-1 3l1 1l1 -1zM923 204l0 5l2 -2l1 -2zM173 171l8 -2l3 2l1 3l-7 6l-6 -4zM902 171l5 0l2 3l-2 2l-10 4l-2 -4zM186 176l3 -1l2 4l-2 4l-3 1l-1 -3zM713 179l3 -2l4 2l-2 3l-2 2l-3 -3zM907 179l0 -2l2 4l-2 3l-1 0zM165 181l5 0l3 6l5 -3l3 3l2 10l3 2l3 0l3 -2l2 0l-7 13l2 10l5 6l-1 5l4 7l13 5l6 6l-1 3l-5 1l-10 -1l-6 1l-13 -4l-16 1zM176 199l0 4l2 1l0 -5zM181 216l-2 4l6 0l0 -2zM176 225l-1 1l2 2l3 0l-2 -2zM458 181l2 -1l6 1l5 -1l3 2l0 5l-14 3l-5 7l-3 1l-2 -1l1 -3l-2 -5zM427 189l2 -1l5 1l4 5l4 1l2 4l6 -1l0 2l-2 5l-4 4l-1 -2l-7 -1l-2 1l0 7l-3 0l-5 -1l-5 2l4 8l-1 5l5 10l10 -6l6 -1l1 -5l-5 -3l0 -3l6 -9l5 7l9 8l-1 2l-2 0l-6 -3l-2 3l1 5l4 3l3 4l2 0l5 -4l-5 -3l-1 -2l1 -2l14 1l5 5l0 2l-3 4l1 5l-6 7l-3 1l-10 -1l-2 -1l-1 -4l-3 1l0 3l-2 0l-8 -5l-11 5l-45 0l-8 2l-13 0l-8 -2l-6 1l-8 -1l-5 -3l-5 2l-6 -1l-2 2l-6 -3l-8 3l-8 0l-8 2l-13 -4l-13 2l-14 -6l1 -8l5 -4l5 -3l6 1l5 -1l8 6l5 -2l3 0l3 6l5 2l5 -4l5 3l11 -2l3 3l2 0l6 -4l5 1l11 -6l0 -3l5 -7l15 -4l-2 -5l0 -3l3 2l3 0l6 -4l1 -3l-2 -1l-5 -1l-4 -3l4 -3l0 -2l-2 -3l2 -2l5 4l11 0l8 3l2 3l8 0l4 3l-1 6l-5 0l-6 3l-2 4l-1 8l3 2l6 -5l0 -6l5 3l9 -5l1 -2l1 -13l4 -6zM373 220l0 3l10 3l3 -1l0 -2zM410 222l-3 4l0 10l3 4l3 1l5 -2l4 -6l-3 -5zM348 192l1 -1l2 1l-2 2zM361 192l1 0l4 5l0 3l-2 2l-1 3l3 5l-6 3l1 2l-2 1l-2 0l-3 -3l-9 2l-1 -2l2 -2l8 1l1 -7zM512 200l2 -1l2 1l3 5l5 2l8 -3l1 3l-3 3l0 3l10 8l24 2l11 6l10 2l11 0l5 -3l3 0l8 3l5 -5l0 -3l-5 -2l0 -3l8 -7l3 -1l16 4l8 -4l7 3l1 3l2 2l8 0l3 3l8 -4l37 6l3 3l0 4l2 -7l3 -3l8 0l5 7l6 -3l10 4l3 3l5 2l3 0l11 -7l2 0l14 -3l2 8l3 3l5 -2l3 1l1 3l-3 10l-5 3l-4 13l-2 3l-6 0l-2 -3l-3 -1l-3 3l-6 3l6 3l5 10l-2 11l-3 5l-11 0l3 -14l-4 -7l2 -8l-9 -5l5 -5l0 -3l-4 -2l-3 2l1 6l-1 1l-8 0l-4 4l-1 3l-8 5l0 1l0 -4l-8 -1l-6 -5l-7 2l-6 -3l-3 2l-1 2l2 3l-1 5l3 8l-5 13l-10 0l9 -5l0 -3l-4 -1l-8 3l-8 -1l-2 2l2 3l3 2l-13 0l1 -8l4 -2l2 -10l5 3l3 -1l0 -3l-2 -2l-11 -2l-8 0l-8 -4l-6 2l-5 -2l-13 -1l-2 1l0 6l-4 16l-2 -11l-6 -3l-10 -11l-8 2l-6 -2l-8 0l-4 -2l-2 -2l1 -9l-3 0l-7 3l-3 -2l-3 0l-16 2l-10 8l-3 0l-8 -5l-1 -3l1 -3l-7 -18l-8 -2l-1 -3l2 -2l0 -3l-3 -5l4 -5l-3 -11zM687 280l-1 3l1 1l2 0l0 -2zM695 278l1 2l2 0l1 -2l-2 -3zM769 243l-1 3l1 8l5 2l3 -1l1 -3zM516 244l0 -1l4 1l3 5l-1 0zM726 275l2 0l0 3l-2 4l-1 -4zM616 278l1 -2l1 2l-1 3l-2 -1zM726 291l0 -2l3 1l1 3l5 3l-7 0zM617 296l0 -2l6 2z"/><path fill="#31938b" fill-rule="evenodd" d="M841 145l3 -1l3 1l2 2l0 3l-3 1l-2 -1l-3 -3zM843 160l3 -1l2 7l-4 1l-2 -4zM864 166l1 -2l3 2l-3 1zM305 168l4 3l0 3l-4 5l0 2l5 3l-1 1l-6 -1l-1 3l1 7l-2 3l-3 0l-3 -4l-5 -2l-2 -7l10 -1l2 -2l1 -7l2 -5zM952 171l3 0l0 3l-4 0zM273 174l3 0l2 2l-6 3l0 2l-3 3l-5 1l-2 -1l2 -3l2 2l5 -4l0 -3zM864 176l2 0l-4 5l-6 -2zM285 181l2 3l-2 1l-1 -1zM925 181l2 0l2 13l5 -2l2 -3l1 -4l5 6l5 1l7 5l0 13l-1 3l-11 3l-2 2l4 5l-2 1l-3 0l-2 2l-6 -3l0 -4l8 -4l0 -5l4 -5l-1 -3l-5 -3l-3 -1l-5 6l-5 -4l-5 -11l2 -4zM165 184l0 -2l3 0l2 5l3 2l5 0l1 3l-7 8l2 5l-1 5l4 3l1 2l-5 4l-5 9l4 5l1 4l3 2l4 0l4 -6l2 -6l4 -1l0 5l4 8l10 2l4 3l4 2l0 3l-2 2l-13 -2l-3 3l-13 -6l-5 3l-11 0zM453 189l2 -2l2 2l-2 2zM286 192l3 0l0 2l-4 3l-2 -3zM428 192l3 -2l3 1l1 3l5 3l3 5l-1 3l-8 0l-3 2l0 3l-5 1l-3 0l0 -4l1 -7zM315 194l2 -1l1 1l0 6l2 2l-3 2l-3 -1l-1 -6zM359 200l3 0l-1 7l-2 1l-1 -3zM375 200l3 -2l4 2l-4 3l-3 -1zM386 200l3 -1l5 1l5 6l8 -1l-1 2l-4 3l-5 1l-3 12l-3 2l-5 -6l-5 0l-4 -1l0 -3l4 -2l5 -10zM389 209l-1 1l1 2l4 1l-1 -3zM183 202l3 1l1 2l-3 8l-2 -3l2 -3zM327 202l7 3l1 8l-2 1l-4 -1l1 -3zM307 207l4 -2l1 2l-1 4l-5 1l-1 -2zM516 207l3 0l4 3l1 6l3 1l3 -2l5 3l3 6l13 -1l5 2l6 0l18 8l11 0l5 2l5 -5l6 1l5 3l8 -7l3 0l2 2l0 -4l-8 -7l3 -4l5 1l3 -1l5 1l6 0l8 -3l4 1l1 5l6 2l-1 8l3 -1l11 6l0 -2l-3 -3l0 -2l8 -6l3 0l4 0l4 3l5 -2l8 3l11 0l1 2l0 5l4 3l3 -3l2 -8l5 -1l3 0l3 6l2 2l3 0l3 -3l2 0l2 1l-2 2l-4 1l7 4l5 -3l3 3l8 1l8 -6l11 4l0 -3l-1 -3l6 -3l3 3l2 9l3 1l5 -4l3 2l-2 3l-1 5l-2 2l-6 0l2 6l-4 9l-3 1l-4 -10l-5 -6l1 -2l-8 -5l-3 0l-2 5l2 8l-2 1l-3 -1l0 -6l-5 -3l-1 6l-5 5l-6 0l1 6l-8 7l-13 -1l-5 -6l8 -6l-1 -1l-13 -6l-4 2l-1 7l-4 1l-4 5l-3 1l-2 5l-24 0l-6 1l-13 -4l-3 2l-2 -1l-3 -2l-5 1l-8 -1l-3 1l-1 8l-2 2l-8 -4l-5 -6l0 -3l4 -2l-4 -4l-3 -1l-2 2l-1 3l-7 5l-6 -3l-9 0l-2 -2l2 -6l-2 -5l-2 -2l-8 4l-13 -4l-5 4l-6 1l-8 5l-2 3l-3 1l-2 -1l-4 -6l-1 -8l2 -2l2 1l3 6l3 0l3 -5l-9 -6l-5 1l-3 -1l-2 -9l-6 -8l3 -2l1 -6zM530 233l2 2l0 -3zM570 238l0 2l1 -1zM620 253l-1 4l4 3l3 -6l-3 -2zM631 229l-2 2l1 2l3 2l2 -4zM652 232l-3 4l6 4l0 -4zM679 259l2 4l3 -1l0 -4l-3 -1zM681 228l0 4l2 -1zM689 251l-2 1l2 1zM740 244l-4 2l4 5l2 0l1 -7l-1 -1zM782 241l-1 0l2 3l5 2l1 -2l-1 -5zM681 235l-1 4l1 1l3 -1l0 -3zM929 207l2 -1l1 1l-1 6zM918 210l0 -1l1 1zM445 218l2 -3l2 3l0 2l-2 2l-3 -1zM415 220l3 -2l3 2l1 3l-1 2l-3 0zM363 226l4 -2l8 3l19 0l5 5l3 -4l3 -1l0 12l8 4l10 -6l2 4l4 3l3 -3l4 -5l3 -2l3 -1l2 3l-4 8l-9 7l-5 -2l-5 2l-14 0l-18 -1l-11 3l-8 -2l-8 1l-5 -4l-7 4l-9 -3l-3 -3l2 -5l3 -2l7 0l-2 2l4 0l2 -5l-3 -5l3 -5l8 1zM365 231l-4 2l4 6l1 -3zM874 226l6 0l2 7l15 12l8 -5l13 1l5 -3l14 3l2 -2l1 -3l-3 -8l2 -2l3 1l5 7l3 -6l5 -1l5 4l3 10l-2 4l-8 -1l-6 7l-13 -4l-16 5l-3 0l-2 -4l-11 4l-11 -3l-13 3l-5 -2l-4 -4l-1 -7l4 -6zM274 233l3 0l8 7l3 0l2 -2l1 1l0 5l-3 4l-11 0l-5 3l-15 -5l-1 -2l1 -3l5 -5l4 -2l6 2zM274 240l-2 1l2 3l3 1l1 -4zM472 236l2 -1l1 1l-2 3l3 7l-8 6l-8 0l-4 -8l4 -1zM967 239l4 -3l8 7l8 1l1 8l-3 1l-14 -4l-5 1l-2 -4zM305 244l1 -1l11 0l2 -1l2 2l-10 7l-8 -1l-5 2l-4 0l-1 -3l2 -4l8 1zM330 244l3 -1l1 1l-1 3zM446 244l4 -3l2 3l-2 5l-5 -3zM709 260l2 -2l4 2l-4 1zM768 260l4 0l0 2l-12 0l1 -2l5 2zM765 270l1 -1l6 4l0 4l-3 1l-4 -3l-1 -2zM677 280l4 1l3 5l-5 2l-3 -2l0 -5zM769 280l3 -2l3 2l1 3l-2 5l-5 -2zM672 291l1 -1l3 6l-6 0zM766 293l4 3l-5 0zM693 296l2 -1l2 0l1 1z"/><path fill="#23867e" fill-rule="evenodd" d="M165 184l3 3l-1 5l-2 3zM293 187l2 -2l3 1l1 6l-1 0l-4 -3zM923 187l2 5l-2 1zM939 192l4 2l-1 3l-3 0l-3 -3zM431 197l3 0l5 3l0 2l-5 1l-8 6l-1 -2l2 -2l0 -5zM949 200l1 0l2 5l1 3l-9 5l-2 -3l4 -8zM165 210l0 -2l7 5l2 2l-5 3l-1 5l-3 -1zM388 218l1 -3l2 1l1 4l-1 1zM529 218l3 0l2 2l-1 3l-9 1l0 -2zM634 218l7 -2l4 2l2 3l8 2l-3 5l-7 3l3 8l3 2l1 3l-7 2l0 3l4 3l6 -8l6 -3l-4 -5l0 -5l3 0l13 7l6 3l2 3l8 -6l1 -5l-3 -2l-1 -3l6 -4l3 0l2 2l-2 5l5 3l5 -3l3 0l8 5l2 0l4 -10l4 -2l3 2l1 5l-2 2l0 3l3 8l-2 2l-5 3l-11 -4l-5 1l-3 7l-7 4l-9 8l-2 -2l0 -4l7 -5l0 -2l-5 -3l-5 0l-3 5l-7 6l1 2l4 3l-11 0l-3 0l6 -1l-1 -4l-2 -2l-4 2l-7 4l-5 -4l-3 2l-5 -1l-8 3l-8 -2l-1 -2l4 -6l-1 -2l-2 -2l-7 -1l1 -5l-5 -3l-3 0l0 3l4 2l1 3l-4 6l-16 -3l-8 -5l-6 -1l-8 -5l1 -2l7 -4l3 0l8 2l8 -5l8 4l5 -3l8 1l6 5l2 -1l4 -2l3 -5l-1 -4l-8 -1l-1 -6zM601 241l0 3l3 1l2 -1l-2 -3zM628 242l-2 2l1 2l4 2l0 -5zM633 252l-2 2l2 3l1 -3zM367 226l3 0l3 3l8 2l5 -1l1 1l-6 2l-2 3l0 3l4 3l8 -7l3 2l3 -1l2 2l0 4l-2 3l-3 -2l-5 4l-11 4l-3 0l-5 -5l-1 -2l4 -1l1 -4l-8 -11zM705 226l3 0l0 2l-3 1zM355 228l2 0l1 3l-4 1l0 -3zM541 228l3 0l-1 1zM548 228l3 -1l5 3l3 0l3 1l10 -1l3 3l-16 5l-4 8l-1 2l-6 -1l-2 4l-3 1l0 -3l4 -8l-1 -2l-6 2l-4 -2l2 -3l2 1zM951 231l2 -2l4 2l2 10l-1 2l-5 -8zM675 233l1 -1l2 1l-2 2zM165 236l0 -2l3 0l2 1l3 5l4 1l2 3l-3 3l-7 -1l-4 -3zM438 236l4 0l-3 4l-2 -1zM737 236l3 -1l4 4l-7 3zM874 236l7 -1l5 4l4 5l-7 5l-8 0l3 -5l-3 -4l-3 -1zM263 239l3 -1l2 1l0 2l-7 4l-2 -1zM184 241l2 -2l6 1l5 2l3 0l7 4l1 3l-4 0l-7 -4l-8 2l-4 -3zM404 241l3 0l6 4l8 -4l4 3l0 2l-4 3l-16 1l-5 -4l1 -2zM793 241l3 0l0 3zM921 241l2 -1l3 1l2 0l0 3l-7 6l-5 -1l-3 -5l-11 6l-4 -1l4 -5l3 -2l5 0l3 2zM969 241l2 -1l2 1l0 3l-4 2l-1 -2zM281 244l1 -2l2 2zM468 244l3 -1l3 3l-3 3l-3 -1l-1 -2zM939 244l6 -1l2 1l2 2l-2 3l-2 0l-5 -3zM307 246l2 -1l5 1l-2 3l-3 1zM350 246l2 0l1 3l-5 0zM430 246l3 0l-2 2zM571 246l1 -2l3 2l-3 2zM746 246l2 -1l3 1l0 3l-3 3zM734 252l3 2l1 3l-4 5l-2 2l-3 0l-5 -2l1 -2zM532 257l3 -1l1 1l-1 1zM587 257l6 -1l3 2l5 2l-2 1l-8 -2l-5 1zM616 265l1 -2l3 0l3 1l3 6l-1 3l-6 -3zM678 283l3 0l1 3l-3 0z"/><path fill="#167a72" fill-rule="evenodd" d="M638 218l3 1l0 3l-2 1l-3 -2zM550 231l1 0l4 8l-1 5l-4 0l1 -6l2 -2l-2 0l-2 -3zM723 233l1 0l3 8l-3 6l-3 -1l-3 -5l-2 0l-3 2l-8 0l-2 -2l0 -5l5 -2l4 2l4 5l2 0zM604 236l3 0l3 3l0 5l5 5l0 3l-5 0l-3 -3l2 -5l0 -3zM694 236l3 0l-1 5l1 5l5 3l-2 3l-5 -4l-8 -2l0 -4l5 -1l2 -2zM166 239l2 -2l2 2l1 2zM585 239l3 -2l5 2l0 5l-7 -3zM666 239l5 0l4 2l4 8l0 4l-6 4l-10 1l-10 -6l4 -5l8 -3zM878 239l3 -2l1 2l-1 4zM404 244l3 -1l2 3l-2 2l-2 -1zM635 244l1 -1l5 1l-2 3l-3 -1zM594 246l2 -2l7 5l-4 1zM917 246l1 -1l2 1l1 3l-3 0zM641 252l3 0l4 5l-1 2l-8 2l-2 -1l1 -6z"/><path fill="#086d65" fill-rule="evenodd" d="M707 236l3 3l-2 1l-3 -1zM668 241l3 0l2 3l-5 1zM659 249l9 -2l4 7l-9 1z"/><path fill="#f5f2e8" fill-rule="evenodd" d="M165 48l325 0l-4 6l2 15l4 6l8 1l14 -1l8 -2l7 -4l0 -2l-5 -6l3 -5l5 -2l0 -3l-1 -3l180 0l-3 1l-2 2l0 3l2 2l5 -2l2 7l-2 2l-2 -1l-3 -3l-4 2l0 3l4 6l5 0l3 2l5 -3l5 0l3 -4l3 -2l2 0l6 5l4 -1l1 -3l-1 -3l-8 -2l-3 -3l0 -5l-2 -3l148 0l0 13l1 11l11 5l19 -3l13 2l3 -2l6 -13l0 -5l-3 -8l64 0l0 92l-11 -9l-24 -3l-3 0l-5 3l-3 -3l-5 -1l-8 -4l-5 -1l-3 1l-3 4l2 10l16 10l2 6l-1 2l-8 5l-5 -2l-8 2l-8 -1l-16 2l-30 -13l-3 -3l-4 -8l-3 -4l-13 -3l-14 0l-10 2l-2 2l-1 6l4 5l1 5l6 5l5 19l-3 10l3 8l0 5l5 8l1 5l-3 3l-11 0l-16 2l-8 0l-13 -6l-11 0l-16 6l-11 -2l-8 -6l0 -7l8 -11l22 -9l1 -1l-7 -4l-5 -7l-5 -2l0 -3l4 -3l1 -2l-5 -8l-3 -1l-11 5l-8 -2l-4 6l-6 5l-1 3l-2 1l-5 1l-8 -1l-16 3l-8 0l-7 4l-3 2l-1 3l-1 -3l0 -2l-1 -2l-3 0l-2 4l-5 3l1 2l9 3l6 8l-1 5l-8 3l-5 -3l-22 6l-4 -1l-4 -2l-2 -6l1 -10l1 -5l3 -3l-7 -2l-22 -2l-6 2l-5 -2l-11 2l-2 2l-8 -1l-13 4l-8 -1l-6 2l-10 0l-3 -1l-5 -5l-6 1l-2 -1l-3 -5l-11 0l-5 7l-3 1l-5 -5l-24 -3l-8 -4l-5 -5l-3 0l-7 3l-4 7l-8 0l-5 -2l-13 -9l-2 -14l-1 -2l-2 -1l-7 3l-1 10l-5 3l-3 5l-8 0l-11 -4l-5 -8l-5 -4l-14 1l-7 5l-2 5l0 2l5 6l1 9l-8 4l-8 3l-9 -3l0 -5l-3 -3l2 -7l7 -6l0 -5l-2 -3l-6 -8l-9 -5l-1 -3l-11 -4l-3 2l-2 11l-4 4l-9 2l-7 4l-14 3l-4 -1l-4 -3l-6 1l-13 -2l-8 -6l-11 -5l-5 -6l-5 -3l-11 -2l-8 1l-11 -1l-5 1l-8 -3zM591 155l-4 3l4 1l4 -1l-1 -3zM639 151l-6 3l-10 2l-3 2l1 2l10 5l13 -2l3 -3l2 -5zM737 69l-2 3l2 1zM785 111l-2 5l5 7l2 -7l0 -5l-2 -2zM796 63l-1 1l1 2zM796 73l-2 1l2 3l1 -3zM165 150l0 -2l4 2l-4 6zM386 176l11 -2l5 1l2 1l2 5l3 3l1 3l-3 5l-5 0l-8 -4l-8 -9l-3 0zM231 184l3 0l3 3l-1 2l-4 3l-3 -3zM882 194l4 -2l2 2l0 11l-2 4l-5 3l-12 -2l-2 -3l3 -7zM221 197l19 3l8 9l-6 3l-2 3l-1 8l1 13l-3 8l-3 3l-5 -3l-3 -8l-1 -3l2 -5l0 -2l-3 -3l-10 -3l1 -5l-4 -8l5 -7zM992 202l1 27l-3 -3l1 -3l-8 -10l4 -8zM554 207l2 -2l3 2zM835 244l2 0l2 2l-3 2zM831 252l2 -2l3 0l2 4l7 6l1 6l3 1l0 6l8 2l-5 8l2 4l5 -2l5 -7l0 -3l-6 -5l1 -5l6 0l5 -3l8 -1l8 1l11 -2l5 0l21 -1l27 0l11 2l8 -2l16 2l8 -2l0 15l-8 1l-3 -2l-8 0l-5 2l-4 5l2 8l0 8l-99 0l0 -5l-6 -3l-5 3l-1 5l-56 0l0 -5l6 -3l1 -8l0 -2l1 -3l7 -8l2 -4zM234 254l6 2l5 -1l5 2l14 3l26 1l11 3l5 -2l13 0l11 -2l5 1l14 -2l7 6l3 8l0 2l-4 5l4 8l0 3l-4 5l-25 0l-8 -22l-3 -3l-9 2l-9 -3l-8 3l-5 -2l-6 4l-10 -4l-6 4l-8 -1l-5 2l-5 -5l-11 0l-8 2l-8 6l-8 -6l-13 -2l-7 4l0 11l3 5l0 5l-31 0l0 -36l32 1l8 -2l13 2l11 -3zM330 279l-1 1l3 0zM387 262l23 -1l5 0l6 3l8 -1l5 2l0 2l-2 3l-3 1l-11 -1l-8 4l-11 -1l-13 -4l-3 -2l0 -2zM472 265l12 -2l6 1l8 -2l10 1l4 2l5 5l15 5l19 1l5 -2l6 1l2 -3l6 0l2 1l0 7l3 6l-3 1l-7 -1l2 2l8 1l0 2l-1 2l-3 3l-22 0l-6 -5l-3 1l-2 4l-90 0l1 -5l-2 -5l1 -13l-4 -1l-2 -2l2 -3l6 -2l8 2zM215 286l4 0l1 2l-2 3l-4 -3zM992 286l1 -1l0 7zM224 288l3 0l-1 2z"/><path fill="#f6eedb" fill-rule="evenodd" d="M165 48l319 0l1 13l2 3l1 8l4 4l11 2l11 -2l16 -5l1 -4l-5 -6l1 -2l5 2l3 -2l-2 -11l164 0l3 2l3 -1l1 2l1 5l-4 5l1 11l3 2l3 0l3 -3l5 3l10 -3l3 -2l3 -4l4 2l-2 2l-4 3l-1 3l13 4l2 -2l-5 -5l2 -3l4 -1l2 -7l-2 -2l-5 -1l-2 -2l0 -5l-3 -3l143 0l1 8l-1 5l1 6l0 5l12 6l11 -2l11 1l5 -1l5 1l3 -1l7 -12l0 -8l-3 -8l63 0l0 91l-11 -9l-24 -3l-8 3l-3 -3l-5 0l-8 -5l-5 0l-3 0l-3 5l1 10l2 3l14 7l2 6l-2 2l-6 4l-5 -2l-8 2l-8 0l-16 1l-29 -13l-11 -15l-13 -3l-24 2l-4 6l0 3l4 5l1 5l6 5l0 8l3 3l2 8l-3 10l4 16l3 2l2 5l0 3l-5 3l-8 -1l-19 2l-10 -2l-8 -4l-8 1l-19 5l-11 -1l-4 -3l-4 -4l0 -4l8 -11l8 -4l17 -6l1 -2l-12 -8l-3 -8l-2 0l2 0l2 -3l0 -2l-6 -8l-4 -1l-11 4l-8 -1l-5 6l-5 2l-3 6l-3 0l-2 1l-5 -1l-24 2l-11 5l-5 -3l-11 5l-5 -3l-2 4l2 3l2 -1l6 5l8 2l5 7l0 2l-8 4l-5 -3l-22 7l-6 -2l-2 -3l0 -14l3 -4l3 0l-1 -5l-5 -2l-2 -4l2 -2l11 -2l5 -4l1 -7l-6 -1l-3 -2l-2 0l-6 3l-10 2l-5 3l1 2l6 4l5 4l-5 4l-10 -1l-14 2l-5 -1l-11 1l-2 2l-6 -1l-2 -3l-2 0l-4 5l-7 3l-8 -2l-6 3l-8 -1l-8 -4l-2 -6l-6 5l-2 -3l6 -5l-1 -1l-3 0l-5 3l-11 0l-8 8l-5 -6l-13 0l-11 -2l-8 -4l-5 -5l-8 2l-3 2l-3 6l-10 -1l-16 -10l0 -11l-2 -5l-1 -1l-2 -1l-8 5l0 8l-6 5l-2 4l-3 1l-16 -5l-8 -11l-13 -1l-3 1l-10 8l0 5l5 6l-2 8l-4 5l-8 2l-6 -2l-5 -11l1 -2l8 -7l5 0l4 -4l-9 -3l-8 -10l-9 -5l-2 -4l-8 -4l-6 0l-2 3l0 8l-5 6l-8 2l-11 5l-13 2l-5 -4l-6 2l-13 -3l-8 -6l-11 -5l-5 -6l-5 -2l-11 -3l-5 1l-14 -1l-5 1l-8 -3zM314 97l-1 1l4 7l2 -2l0 -5l-2 -2zM429 73l0 2l1 -1zM439 66l3 6l5 -3l1 -2zM543 154l-2 1l2 1l2 -1zM551 61l-2 3l2 1l2 -1zM567 159l-1 1l1 3l3 -1l1 -2zM588 154l-4 4l4 2l14 -2l-3 -3l-8 -1zM657 166l-2 2l2 1l1 -1zM729 85l-3 0l0 2l4 0zM788 107l-3 2l-2 7l2 9l3 1l2 -2l2 -8l-1 -5zM796 61l-3 3l3 5l2 -5l-1 -3zM812 74l-3 0l3 2l1 -2zM814 52l-2 2l2 1l1 -1zM825 63l-2 1l1 3l4 -1l0 -3zM726 100l-1 1l-1 2l2 5l3 1l0 -3zM796 70l-4 4l1 3l3 1l3 -4zM485 48l5 0l-3 2zM711 59l2 -1l0 2zM165 150l1 0l1 3l-2 2zM388 176l6 -1l8 1l2 5l5 6l-2 2l-2 3l-11 -5l-7 -8zM231 189l1 -2l1 2zM884 194l2 0l-2 3l3 8l-1 3l-5 3l-11 -2l-1 -2l1 -5zM217 200l7 -1l1 1l1 5l3 0l8 -3l3 0l6 5l0 3l-4 1l-3 4l-1 8l1 5l0 8l-5 9l-3 -1l-5 -11l3 -5l-1 -5l-10 -3l-1 -5l-4 -8l0 -2zM992 205l1 17l-9 -9l3 -6zM992 226l1 -2l0 2zM832 252l4 1l8 7l0 7l2 6l6 5l-1 8l3 2l4 0l-3 3l0 5l-45 0l-3 -10l2 -4l5 -4l-2 -5l4 -6l1 -3l5 -5zM233 257l1 -2l6 2l5 -1l5 2l11 2l29 2l9 3l2 2l-8 5l-5 -1l-6 2l-10 -2l-6 3l-8 -2l-5 3l-5 -5l-11 0l-10 3l-3 3l-3 0l-8 -4l-13 -2l-5 3l-3 2l0 11l3 5l1 5l-31 0l0 -35l29 1l11 -2l11 2l13 -3zM342 260l7 -1l6 6l2 8l0 2l-4 3l0 2l5 8l-4 8l-6 0l4 -5l-3 -3l-4 5l-5 3l-5 0l-5 -5l-2 -5l0 -3l7 -3l-1 -2l-4 -1l-5 3l-3 -8l-3 -2l-8 0l-2 -3l0 -2l5 -2l16 -2l5 1zM918 260l32 -1l11 2l8 -1l16 1l8 -1l0 13l-11 -1l-11 1l-4 2l-3 5l2 16l-97 0l1 -5l-8 -5l3 -6l3 -2l-7 -8l-2 -3l6 0l5 -4l8 -1l5 1l14 -3zM390 262l23 0l6 3l2 2l8 -3l2 1l1 2l-6 3l-5 -2l-8 4l-14 0l-14 -5l0 -2zM483 265l12 -1l5 1l8 -1l6 5l16 7l21 1l5 -2l5 3l2 2l-1 6l8 6l2 0l0 1l-2 1l-2 2l-17 0l-3 -4l-5 -2l-3 1l-4 5l-6 -2l-1 2l-80 0l-1 -16l2 -7l-5 -3l1 -3l4 -1l8 2zM530 288l0 3l2 -3zM551 289l-1 2l1 1l1 -1zM566 273l4 0l1 2l0 8l-1 1l-3 -1l-4 -8zM801 293l3 -1l2 1l-2 2z"/><path fill="#f6ebcf" fill-rule="evenodd" d="M165 48l273 0l4 4l2 -1l0 -3l38 0l5 24l5 6l10 2l1 2l3 1l2 -3l11 -5l8 0l8 -7l7 -1l-1 -3l-4 -3l-3 -13l21 0l-2 3l3 3l4 -3l-1 -3l137 0l4 16l-1 10l9 2l3 -3l2 1l9 8l2 3l0 3l2 2l8 0l5 -8l3 -1l3 -4l0 -3l-3 -2l3 -1l4 -7l4 -3l-3 -8l-2 -1l-6 1l-2 -2l0 -3l74 0l-3 3l-1 3l2 3l2 1l4 -4l-3 -6l62 0l1 8l-2 5l3 6l-2 5l12 6l16 0l5 2l8 -3l5 1l2 -1l10 -10l-2 -16l-2 -3l62 0l0 91l-11 -10l-11 -2l-18 0l-6 -2l-5 1l-7 -5l-6 0l-3 1l-4 5l1 7l3 7l14 9l1 3l-2 2l-5 3l-5 -2l-8 2l-24 1l-28 -12l-4 -4l-5 -9l-3 -2l-13 -3l-24 1l-4 4l-1 6l4 5l2 8l5 2l0 3l-1 4l-5 4l8 7l3 1l0 2l-3 5l1 11l2 8l5 3l1 4l-1 3l-3 2l-24 0l-5 -3l-8 2l-6 -3l-8 -1l-21 6l-11 -1l-3 -2l-3 -8l6 -9l8 -6l19 -5l2 -3l1 -5l-3 -1l-3 -3l-2 0l-3 2l-3 0l-2 -4l1 -10l-1 -5l-11 -5l-11 3l-8 0l-7 7l-3 1l-3 4l-5 3l-5 -2l-6 2l-18 1l-11 4l-5 -2l-6 2l-2 -1l-6 -8l-7 6l-1 3l3 9l18 7l4 5l-1 1l-2 0l-3 4l-5 -3l-8 1l-3 2l-11 4l-4 -1l-3 -6l1 -5l-1 -5l2 -3l6 -2l-2 -3l0 -5l-5 -3l3 -2l9 -1l4 -5l1 -7l-3 -2l-5 0l-3 -2l-2 0l-6 4l-10 0l-6 2l-2 3l2 4l9 4l1 2l-2 3l-10 -2l-14 3l-5 -1l-16 2l-10 -5l1 -5l3 -3l0 -2l-7 -1l-2 1l-2 5l1 3l4 5l-3 5l-6 1l-5 -2l-6 4l-5 0l-8 -3l-2 -2l0 -16l-1 -1l-13 10l-11 0l-8 7l-5 -5l-16 0l-10 -3l-6 -3l-5 -6l-10 3l-4 7l-2 1l-8 -1l-14 -9l-1 -3l0 -5l-2 -10l-4 -2l-8 4l-2 11l-4 3l-2 4l-3 2l-16 -5l-4 -7l-4 -4l-3 0l-10 -1l-14 8l-8 -1l-8 -10l-9 -5l-4 -5l-4 -3l3 -5l-2 -2l-2 0l-6 4l-2 1l-1 -6l-2 -2l-3 8l3 10l-3 5l-5 4l-5 1l-5 3l-8 2l-6 0l-5 2l-5 -5l-6 2l-13 -1l-8 -7l-11 -4l-8 -8l-13 -4l-19 0l-5 2l-8 -5zM295 110l0 4l3 2l0 3l3 -3l0 -5l-3 -2zM311 95l-2 3l5 4l1 6l-7 6l1 2l2 1l8 -10l2 -6l0 -6l-7 -2zM421 53l-2 1l1 2l3 0l-1 -2zM429 70l-6 6l-2 1l-1 3l3 0l3 -2l3 1l2 -2l1 -5zM434 82l0 3l2 2l4 -2l-1 -2zM439 64l-2 0l-1 3l3 5l-1 5l1 4l5 -1l-2 -6l5 -2l5 0l1 -3l-3 -5l-3 -1l-3 2zM543 152l-4 3l1 3l8 1l6 3l3 -2l-1 -4l-5 1l-5 -4zM548 61l-2 3l5 3l5 -3l7 0l-1 -4l-6 4l-1 -3l-4 -1zM591 153l-8 2l-3 3l8 4l11 0l10 -4l2 -3zM713 86l-1 1l1 2l2 -2zM724 98l-1 5l2 8l9 6l-1 -9l-3 -7zM737 93l-1 8l1 2l3 0l0 -2l-2 -3zM782 87l0 1l2 -1zM793 51l-10 3l10 3l2 2l-2 1l-2 4l3 5l-1 3l-3 2l1 3l5 3l5 -6l-2 -5l2 -13zM817 68l-12 6l1 4l3 1l4 -2zM828 61l-8 3l0 3l8 1l2 -4zM450 82l-2 0l2 3l1 0l1 -3zM556 151l-1 2l1 2l3 -2l0 -1zM788 105l-4 3l-2 8l3 13l3 0l2 -3l3 -7l-1 -8zM798 178l-4 3l2 3l4 -3l1 -2zM336 160l5 -1l2 2l4 5l1 2l-5 9l-2 2l-6 1l-5 -2l-5 -10l2 -3zM390 176l9 0l2 3l-1 2l1 3l-4 2l-3 -2l-5 -5zM875 200l6 -1l5 6l0 2l-5 3l-8 0l-3 -3l0 -2zM216 202l5 -2l2 5l3 1l6 1l5 -3l6 3l-4 6l-4 7l-3 1l-8 -2l-6 -4l-4 -8zM991 210l2 -2l0 11l-4 -4zM233 226l1 -1l3 0l0 8l-1 3l-4 2l-3 -1l-2 -4zM831 254l2 -1l8 7l2 2l-1 5l2 8l6 3l-1 8l2 7l0 3l-39 0l-4 -10l8 -8l-1 -5l4 -8l4 -5zM244 257l17 4l21 0l14 4l2 2l-5 3l-5 0l-6 2l-10 -2l-6 3l-8 -2l-5 3l-5 -5l-11 0l-8 2l-8 -1l-5 1l-16 -2l-7 4l-2 5l0 10l3 4l1 4l-30 0l0 -34l29 0l11 -2l11 2l16 -2l2 -2l6 0zM921 260l24 1l5 -1l11 2l32 -2l0 12l-8 -2l-8 2l-6 -1l-5 4l-3 5l-1 8l2 8l-93 0l4 -5l0 -3l-2 -3l-3 2l-6 -1l3 -3l4 0l1 -5l-8 -8l6 -6zM322 262l8 -1l5 1l11 -2l5 2l2 3l1 8l-3 5l0 7l-2 0l-8 7l-3 1l-3 -2l1 -3l-2 -5l8 -3l1 -2l-10 -2l-8 0l-3 -5l-10 -4l0 -2zM410 262l5 1l2 2l0 2l-7 4l-11 -1l-12 -3l0 -2l4 -2l14 0zM452 267l6 2l16 -3l16 0l5 -1l8 4l5 -3l3 4l19 7l21 1l5 -2l3 2l1 2l-1 4l-3 2l-18 4l-1 -4l-2 -1l-8 -1l-2 2l3 7l0 3l-78 0l0 -16l2 -7l-1 -3zM352 286l3 0l-1 3zM559 288l3 0l3 3l0 5l-5 0l-3 -3zM553 296l1 -2l1 2z"/><path fill="#f5e7c0" fill-rule="evenodd" d="M165 48l270 0l7 6l2 0l4 0l1 -3l-3 -3l5 0l1 3l2 -3l27 0l3 8l-2 5l3 6l0 5l7 7l7 1l4 4l3 1l8 -4l3 -4l5 -1l5 1l13 -9l6 1l2 4l2 -4l4 -1l5 3l3 -2l6 0l1 -2l-5 -13l-3 0l3 -1l1 -5l130 0l1 8l3 8l-2 10l6 4l11 2l1 2l-6 3l1 2l10 11l2 10l-2 3l0 3l9 2l3 4l5 -1l3 -3l1 -2l-4 -6l1 -2l5 -3l-2 -5l1 -5l-3 -6l1 -2l5 -3l3 -8l1 -7l6 -6l-2 -5l0 -5l-1 -3l42 0l-12 2l-2 1l-1 3l2 2l9 3l0 2l-1 6l-6 7l2 6l-4 7l1 6l3 -1l3 -7l0 -3l2 -2l6 2l-5 5l5 3l3 -3l0 -7l2 -3l3 3l5 1l5 -4l6 -8l2 0l5 3l-5 8l3 1l1 -1l4 -6l0 -5l3 -5l5 -4l3 0l3 1l2 0l1 -2l-3 -3l-6 2l-2 -1l-2 -1l-1 -8l42 0l2 8l-2 5l2 6l-2 2l0 3l14 7l21 2l8 -3l5 1l3 -1l11 -10l-1 -12l2 -5l-1 -3l56 0l0 90l-11 -9l-11 -2l-18 -1l-6 -2l-5 1l-5 -4l-8 -1l-7 4l-1 5l1 5l4 8l5 5l7 3l1 3l-2 2l-3 2l-5 -2l-8 2l-14 0l-10 1l-26 -11l-6 -5l-4 -8l-4 -3l-13 -3l-24 1l-8 7l-4 -2l3 6l3 1l4 4l-2 13l2 8l-1 2l-6 3l3 4l8 -1l7 2l-3 5l0 13l4 6l6 4l0 5l-6 2l-26 -3l-8 2l-6 -4l-8 0l-21 5l-5 -1l-6 0l-2 -2l-3 -6l5 -7l8 -7l20 -4l4 -3l3 -7l-11 -6l-2 0l-6 2l0 -4l3 -13l-1 -3l-2 -1l-5 0l-8 -2l-11 3l-8 0l-8 7l-4 1l-4 6l-2 0l-3 -2l-8 3l-10 0l-19 3l-5 -1l-6 2l-3 -3l-2 -6l-3 -1l-2 1l-2 -2l1 -5l-2 -3l-13 -2l-8 4l-8 0l-8 2l-24 -2l-15 1l-6 2l-6 0l-2 5l-2 -5l2 -2l-1 -3l-2 -1l-8 3l-3 -2l-8 2l-10 4l-11 10l-11 0l-8 5l-2 -4l-3 0l-16 1l-13 -5l-3 -3l-2 -5l-3 0l-11 5l-5 6l-11 -1l-10 -8l-1 -17l-6 -3l-1 -3l-3 -1l-8 9l-1 11l-6 7l-4 1l-5 -4l-8 -2l-2 -5l-6 -5l-8 0l-5 -2l-8 6l-6 2l-5 1l-3 -2l-7 -8l-9 -5l-6 -8l3 -5l-2 -5l3 -3l6 -13l0 -5l2 -5l-3 -2l-5 1l-3 -3l-3 0l0 4l-5 8l-8 2l0 3l-3 1l-2 4l-1 3l3 2l1 3l-3 8l3 10l-6 8l-5 1l-5 3l-19 3l-5 -4l-6 2l-13 -1l-8 -6l-11 -5l-4 -6l-4 -2l-8 -1l-5 -2l-13 0l-6 -2l-5 3l-5 -4l-3 -1zM375 96l-1 2l1 1l2 -1zM386 63l-1 4l1 1l3 0l1 -1l0 -3zM407 56l-5 3l-2 2l2 3l9 -5l1 -3zM415 50l0 4l9 7l-2 8l-6 11l2 2l11 1l7 6l5 -2l3 -3l6 5l3 1l4 -5l0 -3l-8 -5l0 -3l6 -2l-1 -5l-4 -6l-16 0l-3 -5l-2 -3l-3 1l-5 -3zM466 155l-1 0l3 2l2 -2zM548 137l4 0l-1 -1zM668 100l-2 1l-1 2l1 3l5 1l2 -6l-2 -2zM780 144l-1 1l1 3l1 -1zM788 96l-2 2l0 5l-5 11l-1 10l5 10l3 1l1 -1l1 -5l3 -5l1 -8l-2 -8l-3 -5l0 -5zM854 49l-3 7l3 3l3 -8zM812 181l2 1l1 -1zM319 116l-1 3l2 0zM407 123l-1 1l1 0zM431 92l-2 1l6 0zM444 91l-1 2l1 1l2 -1zM450 100l-3 3l3 4l2 -1l1 -3l-1 -3zM668 160l0 1l1 -1zM788 173l-3 1l5 2l2 -2l-2 -2zM793 178l-1 3l4 5l2 0l5 -5l1 -2l-3 -3zM798 191l-6 6l4 3l4 -3l0 -3zM796 48l14 0l-3 6l5 4l2 1l6 -5l0 -3l-3 -3l7 0l4 6l1 2l-1 3l-11 5l-5 6l-8 3l-3 -1l-1 -3l3 -8l0 -7l-5 -2zM547 54l1 -2l3 0l5 4l4 0l-1 3l-11 1l-2 3l-7 -2l0 -2l6 -3zM432 69l2 -1l1 1l1 3l-2 2zM717 85l4 0l1 5l2 3l8 -1l0 3l-6 0l-2 -2l-6 -1zM820 158l2 -2l3 2l-3 3l-3 -1zM545 160l9 3l5 -2l6 10l0 3l-3 2l-4 0l-4 -3l-3 1l-3 3l-2 0l-11 -3l-1 -3l1 -4l3 -1l5 2l1 -2l-2 -3zM606 160l3 0l3 2l2 4l-1 2l-12 3l-5 -2l-5 2l-11 -1l-7 -2l-2 -2l2 -3l4 -2l8 2l8 0l6 2zM333 163l8 -2l5 5l-2 8l-3 4l-7 1l-7 -8l-1 -3l1 -2zM619 166l4 -1l3 3l-3 2l-3 -1zM643 174l1 -2l5 3l1 4l-1 5l4 3l-4 10l-8 3l-2 -1l-3 -5l3 -5l-3 -2l-1 -3l11 -3l-3 -5zM391 179l3 -1l2 1l-2 2zM657 187l3 -2l5 1l2 1l0 2l-2 3l-5 1l-3 -1zM874 202l4 -2l5 3l2 2l-1 2l-6 3l-5 -2l-2 -1l1 -2zM217 205l1 -2l3 3l11 3l5 -3l2 1l0 3l-5 4l-2 4l-3 1l-5 -2l-6 -5l-2 -5zM229 233l4 0l-1 2zM830 257l3 -2l7 7l1 13l7 5l-4 8l5 5l0 3l-34 0l-1 -1l-2 -7l8 -13l3 -8l1 -5l1 -1l3 0zM830 262l-1 0l1 1zM238 260l7 -1l16 2l19 1l10 2l5 3l-13 4l-10 -2l-6 3l-8 -2l-5 3l-5 -5l-14 0l-5 1l-29 -1l-8 5l-3 5l0 10l5 5l0 3l-29 0l0 -34l13 1l6 -1l10 2l11 -3l11 3l16 -2zM329 262l6 1l11 -2l3 1l3 5l-9 8l-8 -1l-8 1l-4 -5l-9 -3l1 -2zM894 262l29 -2l22 2l5 -1l11 2l8 -2l13 1l11 -1l0 10l-6 -2l-8 0l-2 2l-5 -1l-1 -1l-7 6l-5 16l-4 0l-1 5l-79 0l4 -5l-3 -5l-2 -8l-7 -5l-1 -3l1 -3l3 -2l16 -1zM390 265l4 -1l11 2l5 -2l5 1l0 2l-5 2l-19 -1l-1 -1zM471 267l19 1l5 -2l4 4l1 4l3 0l5 -2l8 1l19 7l-3 3l-5 -1l-4 4l0 2l2 3l1 5l-76 0l3 -26zM540 280l6 -2l10 1l1 1l-1 3l-2 2l-6 1l-2 -1zM338 283l8 0l-5 4l-4 -1z"/><path fill="#f0deb0" fill-rule="evenodd" d="M165 48l237 0l4 6l-6 5l-1 5l3 2l8 -4l5 -5l5 4l-1 6l-1 1l-3 -1l0 2l-2 3l-6 0l-2 2l0 5l-4 1l-1 2l3 0l2 -2l10 4l7 1l3 2l1 5l3 3l5 1l8 0l3 2l0 3l-4 2l1 3l10 6l3 -6l5 -5l1 -6l1 -2l7 -3l-5 -5l-1 -5l-5 0l-6 -3l4 -3l2 -6l5 2l5 -9l-2 -3l-9 -4l0 -6l22 0l4 8l-3 5l1 3l3 3l0 7l8 7l6 0l3 4l5 1l5 -1l8 -8l8 2l5 -5l8 -4l3 0l3 5l2 1l6 -4l2 3l8 -5l6 1l1 -4l-2 -6l1 -1l5 2l1 -3l-4 -3l-2 1l-3 -3l1 -6l126 0l0 8l4 8l-3 10l4 6l-5 5l9 8l3 0l2 -4l5 6l5 4l2 7l-3 5l0 3l4 4l5 0l6 5l10 -4l1 -3l-3 -8l5 -5l-3 -5l1 -3l4 -10l1 -5l3 -6l-1 -7l8 -6l-4 -5l0 -8l23 0l-5 6l1 2l1 2l10 1l3 2l0 3l-5 7l-7 1l1 2l4 2l2 4l-3 13l3 3l2 5l-3 7l-1 8l-4 5l-1 6l2 4l3 -1l5 6l3 1l4 -3l1 -2l2 -16l-2 -8l-3 -5l1 -8l-3 -2l0 -3l2 0l3 2l5 -1l6 -8l5 0l3 -1l10 -11l1 3l-4 6l6 2l8 -7l3 -6l-1 -2l3 -4l3 -1l5 2l3 -4l3 0l7 3l6 -1l1 -3l-4 -3l-4 -8l16 0l1 8l-1 5l1 6l-1 5l1 4l11 4l16 2l24 -3l14 -12l-2 -6l2 -7l5 -6l48 0l0 89l-11 -9l-40 -5l-5 -4l-8 1l-8 4l0 8l2 8l4 5l3 5l1 2l5 1l-2 2l-3 -2l-2 0l-6 3l-16 -1l-8 2l-2 -1l-3 -2l-8 -1l-13 -6l-6 -5l-8 -10l-5 -3l-10 -2l-24 2l-8 4l-6 -1l-1 2l4 8l5 0l3 3l-3 5l0 14l-5 4l1 8l-1 2l-3 1l-5 -4l-5 0l-6 -5l-5 0l-11 -4l-5 1l-1 -1l1 -7l5 -4l0 -3l2 -2l6 1l3 -1l-3 -7l-2 -2l-8 7l-22 -2l-8 3l-8 0l-5 3l-3 4l-8 -1l0 7l-5 -4l-2 1l-6 4l-13 0l-3 -1l-5 3l-8 1l-5 -7l-3 -1l-5 2l-7 -5l-1 -3l-3 -3l-13 -1l-7 2l-17 2l-30 -1l-8 -1l-10 3l-8 -7l-5 3l-6 -2l-10 4l-16 9l-6 5l-8 0l-5 3l-3 0l0 -2l-2 -2l-6 2l-5 -2l-5 3l-5 -1l-3 -3l-2 -8l-6 -4l-11 3l-13 10l-6 1l-5 -2l-9 -5l-1 -3l1 -5l-2 -5l1 -8l-6 -2l-2 -5l-3 1l-8 7l-1 4l0 5l-7 13l-5 -2l-3 -3l-6 0l-3 -5l-7 -7l-8 0l-5 -3l-3 5l-5 4l-8 2l-6 -2l-5 -7l-10 -5l-4 -8l2 -8l5 -2l1 -3l-3 -2l1 -5l3 0l2 3l3 -3l-3 -6l-2 -5l3 -5l-3 -5l-3 -1l-3 2l-8 -3l-2 7l-4 2l-2 4l-9 2l0 5l-5 8l0 2l5 3l0 2l-3 3l0 3l4 10l-5 7l-5 0l-5 3l-6 -2l-5 4l-8 -1l-3 -2l-8 3l-10 -1l-22 -11l-3 -5l-5 -3l-8 -1l-5 -2l-13 0l-6 -7l-1 2l1 3l-2 3l-4 0l-4 -5l-3 0zM269 58l0 2l2 -1zM274 66l-2 1l-1 2l3 2l4 -2l0 -2zM365 64l0 2l2 -2zM373 94l-2 1l2 5l2 1l3 -1l2 -2l-1 -3zM378 84l-3 4l6 5l3 8l5 0l-4 -6l-2 -8zM386 61l-4 6l0 5l1 2l8 -4l1 -3l0 -3zM405 121l-1 6l3 0l3 -2l1 -4l-1 -1zM418 105l-5 3l5 10l4 -2l-1 -8zM543 134l-4 6l1 2l3 -3l8 2l7 -1l-4 -6zM583 133l-1 1l1 4l2 1l3 -2l0 -3l-3 -1zM599 73l-2 1l2 3l2 0l1 -3zM665 98l-6 3l0 2l6 5l6 1l2 -1l3 -10l-3 -1zM838 70l-1 2l1 1l1 -1zM846 67l-2 0l0 5l6 -3zM945 55l-3 1l0 3l3 2l1 -2zM375 118l-4 6l2 3l5 -3l0 -4zM381 105l-4 3l0 3l4 0l1 -3zM417 48l13 0l1 3l3 -1l2 2l4 4l0 3l-4 1l-1 -1l-4 -8l-5 1l-5 -3zM799 48l6 0l-1 2l-3 1zM836 48l14 0l0 3l-1 3l-3 0l-2 -4l-3 1l-3 5l-2 -2zM822 54l3 -2l2 4l-2 3l-5 2l-2 -2zM547 56l4 -2l2 2l-5 2zM453 61l2 -1l2 1l1 3zM807 61l2 -2l4 2l1 3l-5 5l-5 1l0 -3zM465 160l1 0l2 0zM335 163l6 -1l3 6l-2 8l-4 2l-8 -5l-3 -5zM575 163l5 0l5 2l6 -1l3 2l-1 2l-2 1l-8 -2l-6 1l-4 -2zM604 163l5 0l2 3l-2 2l-5 0l-1 -2zM547 166l1 -2l11 2l4 5l0 3l-4 1l-3 -1l-2 -5l-6 1l-1 -2zM536 171l2 -1l8 1l1 3l-1 2l-1 0zM816 176l2 0l1 3l-3 0zM785 181l3 -2l2 1l6 9l-3 4l-6 -4l0 8l1 2l3 1l-1 3l-3 2l-7 0l-11 3l-8 1l-5 -2l-6 0l-2 -5l0 -2l10 -11l22 -3zM641 187l0 -3l7 3l0 7l-2 3l-5 1l-2 -1l-1 -3l4 -2l1 -3zM662 187l3 2l-2 2l-3 -2zM800 187l4 -3l5 3l5 -1l3 2l3 0l2 -3l3 1l0 11l10 8l0 2l-3 3l-5 0l-4 -3l0 -2l-6 -3l-8 5l-13 2l-2 -2l1 -2l8 -8l-3 -8zM878 202l4 3l0 2l-4 1l-5 -1l1 -2zM223 210l3 -1l3 1l1 5l-4 1l-2 -2l-2 -1zM202 262l5 0l9 3l5 -1l5 1l-5 2l-16 1l-7 -3zM236 262l6 -1l32 1l13 3l0 2l-5 2l-10 -1l-6 3l-8 -2l-5 3l-5 -6l-6 2l-10 -3l-3 2l-3 -2l6 0zM341 262l5 0l2 3l-1 5l-4 4l-10 -2l-3 -2l-2 -5l10 -1zM899 262l27 -1l13 1l6 2l8 -2l10 2l6 -2l5 2l19 -2l0 8l-6 -2l-10 0l-3 -3l-8 2l0 3l-4 3l0 5l-5 10l-4 3l-1 5l-55 0l-3 -3l-3 3l-12 0l3 -5l-5 -5l-1 -11l-7 -2l-2 -3l2 -3l4 -1l13 -1zM915 280l-2 2l0 5l3 -4zM942 285l-2 3l2 5l1 -5zM165 265l0 -2l13 1l6 -1l10 3l2 1l-10 11l2 5l-5 3l10 10l-28 0zM168 292l0 4l3 -3zM173 278l-4 5l1 4l5 -1l4 -8l-3 -3zM321 265l6 0l-2 4l-5 -2zM834 265l2 -1l1 1l2 5l0 5l5 5l-3 8l7 8l-30 0l-2 -5l4 -4l-1 -4l1 -3l2 -2l6 7l2 2l1 -1l1 -3l-3 -5l-4 0l-3 -3l1 -2l5 -7zM461 270l15 -2l16 4l3 -3l2 6l6 2l5 -3l11 1l5 3l1 2l-4 8l3 4l1 4l-9 0l-5 -3l-1 0l1 3l-18 0l-1 -3l-1 3l-40 0l2 -5l-1 -11l3 -7l0 -2zM495 292l-3 1l3 1l2 -1zM548 283l3 -1l2 1z"/><path fill="#e9d39d" fill-rule="evenodd" d="M165 48l87 0l4 2l2 -2l104 0l3 2l1 -2l9 0l3 2l1 -2l10 0l2 8l6 0l2 3l-2 5l2 3l3 2l3 -3l5 1l-5 3l-8 2l-2 -3l1 -5l-10 -7l-5 1l1 3l-3 6l0 10l2 4l2 -1l5 2l-5 2l-5 -2l-4 3l-1 6l-3 0l-5 -3l-2 2l0 3l4 5l0 3l3 -1l2 3l3 1l1 2l-4 2l2 8l-6 8l-1 2l-2 -2l-3 0l0 5l6 5l-3 6l-3 0l-5 -3l-4 8l-4 3l-8 2l-6 -2l-3 -6l-10 -5l-5 -8l2 -6l11 -8l2 -7l-5 -10l3 -4l3 1l3 -2l-6 -3l-3 -3l-2 -7l-3 -1l-3 7l-2 1l-6 -3l-5 8l-8 5l-8 -3l-5 7l-2 5l3 2l0 8l2 5l-1 8l-5 5l0 6l1 2l-1 3l-5 0l-3 -5l-2 -1l-6 7l-8 -2l-8 3l-10 0l-21 -10l-6 -8l-11 -2l-5 -3l-13 0l-3 -5l-3 -2l-13 4l0 -48l8 -4l-2 -2l-6 -1zM173 52l-2 2l3 2l1 5l1 2l2 0l-2 -9zM277 50l-3 1l-2 4l-5 1l-1 5l2 3l-10 -3l-2 5l-4 1l0 2l4 2l2 -3l6 -1l2 3l6 3l2 1l4 -2l2 -3l0 -3l-7 -5l7 -7zM319 60l-1 1l1 1zM335 60l-2 9l3 0zM359 104l-1 4l1 2l3 1l2 -5l-2 -2zM367 61l-5 3l1 3l2 4l5 1l2 -5zM280 110l0 4l1 0zM468 48l9 0l0 3l3 5l-2 8l3 3l1 2l-3 5l8 6l2 2l1 3l2 2l6 -3l8 4l7 -3l6 -6l3 -1l2 2l5 0l6 -6l5 0l11 6l3 -3l5 -1l5 -4l6 1l2 -4l0 -6l5 2l4 -1l-5 -8l-3 -2l6 -6l22 0l0 3l3 1l4 -4l85 0l-1 8l4 8l-3 10l3 6l-4 2l-1 3l12 10l15 6l1 5l-4 5l1 5l5 4l5 1l9 8l2 1l5 -3l3 -8l-2 -11l6 -5l0 -2l-4 -2l0 -4l4 -2l-1 -6l2 -4l6 -6l-3 -8l0 -2l5 -3l2 -3l-4 -5l0 -8l19 0l-4 3l-1 3l2 5l-4 5l4 2l4 1l-2 2l-2 0l-2 3l2 2l8 6l-2 10l-3 3l0 2l6 3l1 5l-3 3l-1 10l-4 5l-1 3l1 10l4 6l-4 3l-5 2l-8 1l-11 -2l-8 3l-14 3l-4 3l-6 -2l-5 3l-8 0l-1 1l3 3l-2 3l-10 0l-11 -4l-8 6l-1 -3l-4 -3l-3 -1l-5 1l-4 -2l-7 -7l-5 0l-6 -2l-5 2l-8 -4l-3 4l-8 3l-10 0l-8 -1l-14 0l-5 -2l-8 2l-10 -10l-4 -6l-4 -2l-11 -1l-7 9l0 5l-1 5l-11 7l-7 1l0 5l-3 1l-11 1l-3 -3l-8 0l-2 -2l-3 0l-5 5l-3 0l-3 -2l-1 -3l-1 -12l-3 2l-1 -3l-2 0l-8 1l-1 2l-5 3l-12 9l-6 2l-13 -6l-1 -3l1 -5l-1 -5l1 -5l-1 -8l1 -3l-5 1l-6 -3l1 -3l2 -3l8 -2l2 -3l-3 -10l-1 -2l-3 0l-5 2l-2 2l2 8l-8 3l-4 5l-6 5l6 5l0 3l-2 5l1 5l-5 11l-4 1l-5 -6l-3 -1l-2 1l-11 -13l2 -3l8 -3l-4 -5l4 -5l-2 -8l1 -2l4 -1l3 1l3 6l2 1l3 -5l-1 -5l1 -1l5 3l2 -2l0 -3l-4 -8l-6 0l-3 -5l1 -4l5 0l5 -4l9 -2l3 5l-4 5l6 4l4 -1l-2 -5l6 -6l2 3l3 7l10 1l3 3l-2 2l1 3l9 5l3 4l5 1l1 -2l0 -6l5 -5l2 -8l8 -2l2 -3l-2 -3l-5 -2l-1 -3l0 -5l1 -2l7 -3l0 -3l-3 -2l0 -6l-6 -7zM591 58l-4 3l1 2l3 1l2 -3zM593 71l-2 3l-6 1l-5 -1l-3 2l-1 4l4 2l5 -2l16 -1l3 -5l-2 -2l-3 -2zM609 67l-1 5l1 1l5 -1l-1 -3zM673 95l-10 2l-6 3l0 3l6 6l10 4l5 -12l-2 -5zM750 129l-1 3l4 0zM402 91l0 3l4 -1l-1 -3zM583 132l-4 2l2 6l4 1l5 -4l0 -3l-3 -2zM860 48l13 0l-3 7l-3 1zM947 51l0 -3l46 0l0 88l-8 -7l-3 -1l-11 -3l-17 -1l-12 -3l-5 -3l-8 1l-6 2l-4 6l2 13l5 7l-1 6l-10 2l-8 -1l-8 1l-5 -4l-8 1l-11 -5l-8 -6l-8 -10l-5 -3l-10 -1l-24 1l-8 3l-6 -1l-3 2l-2 2l3 3l1 5l10 3l-4 5l1 8l-5 10l-1 3l2 3l-2 2l-2 -2l-8 -1l-3 -3l-8 -1l-3 -3l-12 -3l2 -3l5 1l-1 -6l1 -3l8 1l3 -3l-6 -10l-3 -3l9 1l8 -2l3 4l1 2l1 1l2 -1l-3 -5l1 -3l-5 -5l0 -13l-1 -8l-4 -5l2 -8l10 -5l2 -5l1 -1l3 2l8 -5l8 4l8 -6l5 4l3 -5l11 -6l2 -5l8 -1l8 -8l3 9l-1 10l-2 5l5 0l6 -2l2 1l19 2l21 -1l6 -2l5 -7l11 -4l4 -10zM798 151l-1 4l1 2l8 1l2 -3l-2 -4zM852 77l-4 3l3 2l6 -2l0 -3zM859 67l-1 2l1 3l3 1l0 -3zM822 56l2 0l-2 3zM414 61l1 -1l2 1l-2 2zM781 61l2 0l-1 1zM849 64l3 -1l1 1l-1 1zM387 74l2 0l0 3l-3 1l-1 -1zM459 74l3 0l-2 1zM392 82l2 0l0 3l-3 2l-3 -2l1 -2zM383 106l3 -3l3 1l3 4l-6 1zM172 124l1 -2l2 2l-2 1zM734 124l2 0l-2 1zM289 134l1 -1l2 1l-1 6l-2 2l-2 0l3 -5zM544 142l4 0l0 3l-5 1l-1 -1zM334 166l4 -3l4 3l0 5l-1 5l-3 0l-3 -3l-5 -2l0 -3zM558 171l1 -1l1 1l-1 3zM786 184l2 -2l2 1l2 4l-2 1l-3 -1zM761 189l21 -2l4 5l-1 5l0 5l-5 0l-4 3l-7 2l-8 0l-11 -4l-1 -3l1 -2zM805 192l7 -3l5 4l3 -1l2 5l0 3l-8 -2l-3 -4zM808 200l4 0l-1 2l-2 2l-9 1l1 -3zM828 205l5 -1l1 3l-4 2l-2 -1l-1 -1zM252 262l17 1l5 -1l7 3l-4 2l-5 -1l-6 4l-8 -2l-5 3l-4 -6zM917 262l9 -1l11 2l2 2l0 2l5 6l1 3l4 -3l-2 -6l4 -2l10 0l1 2l-4 1l-9 10l-1 2l8 6l-5 5l0 5l-8 0l3 -8l-4 -10l-3 1l-1 4l0 8l2 5l-42 0l-1 -8l-3 1l-5 6l-3 -1l-1 -1l1 -5l-3 -2l-3 0l1 -5l3 -1l-3 0l-6 -7l-5 -3l1 -3l7 0l4 0l4 3l5 -5zM894 272l0 4l5 2l2 5l1 1l3 -2l0 -4l-3 -3l-5 -3zM913 277l-5 14l5 2l3 -2l3 -11l-3 -2zM894 278l-2 2l2 1zM165 265l3 1l16 -2l7 3l0 3l-5 4l-5 2l-5 -3l-11 7zM340 265l3 -1l2 1l1 2l-3 5l-8 -2l-2 -3zM981 265l12 -2l0 5zM832 267l4 0l1 3l-1 5l2 5l0 3l-5 -3l-3 -5l-5 0l0 -3zM469 270l12 0l9 5l7 3l-4 5l4 5l-7 5l-2 3l-36 0l3 -5l-1 -8l2 -8l7 -4zM957 275l4 0l-3 4zM508 278l1 0l-1 2zM517 280l2 -1l2 1l-2 6l0 5l-3 2l-5 -3l-5 -7l2 -3l6 3zM179 291l6 0l1 3l4 2l-17 0zM820 291l2 -3l6 5l10 -3l9 6l-25 0zM500 293l3 -2l6 5l-13 0z"/><path fill="#e4ca8c" fill-rule="evenodd" d="M165 51l1 0l2 5l4 3l0 5l-7 -3zM176 48l75 0l2 4l3 1l4 -5l6 0l-2 12l-6 -1l-2 5l-6 -1l-1 4l7 7l5 -5l5 4l8 2l7 -3l-2 -11l4 -2l0 -8l-5 -3l14 0l3 2l1 -2l18 0l3 8l-2 3l2 5l8 2l5 -1l1 7l4 2l-5 2l-11 -4l-1 2l-1 10l-6 -3l-4 4l-1 3l-3 -4l-2 -1l-3 4l0 3l-3 3l-5 -2l-2 1l-6 10l-5 2l-2 10l2 3l6 2l2 5l-5 8l0 6l-3 1l-5 -1l-6 4l-8 0l-8 3l-10 1l-19 -9l-8 -9l-9 -1l-7 -4l-11 0l-3 -4l-5 -4l-13 5l0 -40l3 -5l2 0l3 3l3 -3l2 -8l6 -3l-3 -2zM269 127l-3 5l0 1l3 -1l2 -3zM293 56l0 3l2 2l3 -1l1 -1l-2 -3zM306 51l0 5l3 1l3 -1zM293 73l-3 1l0 4l3 0l1 -1l1 -3zM309 66l-3 1l2 2l4 0l-1 -2zM268 48l6 0l-5 4l-2 -1zM318 48l6 0l-2 3zM326 48l25 0l0 3l1 -3l8 0l5 5l3 -2l1 -3l3 0l6 6l-3 8l-8 -3l-7 2l2 11l8 3l3 5l0 2l-3 7l-5 -4l-4 2l-6 11l0 3l2 12l3 6l-3 1l-5 7l2 7l-2 11l-11 4l-4 -2l-4 -5l-11 -7l-3 -6l1 -5l2 -2l11 -3l0 -13l-3 -8l5 -2l2 -3l-2 -6l-2 0l-4 -2l1 -2l5 -3l1 -6l4 -5l-2 -10l-3 -2l-5 -1l-5 6l-3 -2l-2 -4l2 -2l5 1l1 -1l-1 -5zM346 97l0 4l3 0l1 -3zM354 81l-2 4l1 2l1 3l3 0l1 -3l-1 -7zM357 61l-1 0l2 0zM359 75l-2 2l0 3l3 0l1 -3zM382 48l5 0l0 6l-4 0zM470 51l1 -2l3 0l2 5l-2 7l-6 -5l-1 -2zM582 48l16 0l1 6l7 5l2 5l-2 5l-2 2l-3 -2l-2 -3l-6 2l-5 4l-9 -3l6 -4l6 1l4 -2l-1 -5l-3 -3l-8 5l-2 -2l4 -5zM609 51l2 -3l75 0l-1 6l-4 7l0 2l3 -1l5 -3l4 2l1 3l-3 8l1 5l-2 5l1 5l4 5l13 8l8 1l0 2l-4 5l3 11l11 4l8 9l8 2l0 -5l3 -2l2 -6l0 -7l-2 -6l11 -10l0 -5l-6 -5l2 -3l12 -10l5 0l4 2l3 3l1 7l-1 3l-4 3l0 5l5 3l3 0l-3 6l-1 9l-4 8l0 5l-1 5l3 6l-16 4l-8 -2l-2 1l-6 -1l-2 4l-8 2l-8 -1l-8 2l-3 2l-13 2l0 5l-8 -1l-8 -4l-3 0l-5 5l-8 -3l-5 0l-11 -9l-5 1l-6 -2l-5 2l-8 -5l-3 1l-4 4l-4 2l-5 0l-5 1l-19 -3l-6 -2l6 -1l4 -10l-2 -2l-5 -1l-5 1l-3 2l2 11l-4 3l-2 -1l-6 -9l-3 1l-2 -1l-3 -5l-16 -3l-13 4l4 8l-3 8l-7 5l-8 0l0 5l-2 3l-4 0l-1 -5l-3 -2l-11 4l-5 -6l-3 -1l8 -6l-3 -2l-9 2l3 3l1 3l-3 0l-5 -2l-1 -4l1 -2l3 0l-1 -3l2 -5l-1 -3l-3 0l-5 6l-8 5l-6 0l-3 5l-7 3l-11 8l-3 1l-5 -4l-6 0l-1 -3l1 -5l-1 -5l1 -16l-2 -4l-5 2l-2 -3l11 -5l-3 -13l5 -3l0 -2l5 -1l1 6l11 8l4 4l8 0l2 -2l-3 -5l1 -3l24 -18l0 -4l-8 1l-6 -3l-1 -4l1 -4l6 -1l2 1l6 9l5 0l5 4l6 -2l8 2l5 -1l8 -7l5 2l11 0l8 -3l9 2l12 -9l10 1l1 3l-1 3l3 3l6 0l10 -2l8 0l3 -1l3 -6l8 1l2 0l2 -3l-1 -3l-7 -5l1 -4l5 -3l2 -6l-2 -2l-2 0l-6 6l-1 -1zM665 95l-8 3l-2 5l8 8l5 3l-5 3l0 3l2 3l5 -2l-1 -5l7 -2l6 -8l-6 -11zM748 128l-3 4l4 2l4 0l2 -2l-1 -3l-4 -2zM761 129l-1 3l4 5l2 2l2 -2l-3 -5l-1 -3zM490 134l-1 0l1 3l3 0l1 -3l-2 -1zM522 137l2 1l2 -1l-2 -2zM681 119l3 4l1 -2l-1 -3zM758 48l14 0l-5 3l2 5l0 4l-5 2l-3 -1l-4 -5zM861 48l11 0l-2 4l-3 1l-2 0zM950 48l43 0l0 87l-8 -7l-14 -4l-8 0l-29 -7l-8 2l-7 5l0 13l5 10l-6 6l-5 0l-11 -4l-13 2l-12 -4l-3 -2l-1 -3l-6 -2l-8 -10l-7 -3l-22 -1l-10 1l-8 3l-6 -2l-5 2l-3 -2l0 -9l-2 -11l-4 -5l1 -2l8 -7l5 -2l8 -8l3 -1l8 4l8 -4l5 3l3 -1l3 -6l5 4l5 1l5 -5l4 -2l2 -10l2 -3l3 0l1 8l-1 5l-5 5l0 3l2 1l8 -2l6 3l8 -4l24 1l18 -3l6 2l1 -1l-1 -1l-3 -1l-1 -3l1 -2l3 0l5 1l3 -2l6 -15zM392 59l5 0l-3 1zM758 67l3 0l1 2l-1 5l-6 -5zM375 72l0 -1l1 1l-1 1zM420 93l1 0l0 2zM390 95l1 -1l4 1l-4 2zM401 98l4 -1l5 4l-5 4l-3 0l-2 -4zM367 108l5 6l-1 5l-4 2l-4 -2zM404 108l4 0l-1 6l-2 -3zM380 116l3 -1l2 1l1 6l-3 0zM386 127l3 -1l2 6l7 5l-1 5l-3 -1l-1 1l4 2l0 3l-3 6l0 3l-3 1l0 -3l3 -1l-3 -4l-4 1l-13 -8l1 -3l3 -1l5 3l4 -4l-5 -8zM785 140l11 -1l2 8l8 -2l0 3l-8 0l-3 2l1 8l2 2l6 -1l2 1l0 6l-5 5l-3 1l-8 -5l-2 1l-3 -2l3 -3l2 1l0 -4l-8 -2l1 -3l5 0l4 -5l-1 -3l-6 -4zM779 155l3 0l-2 3zM478 158l4 -1l0 5l-3 1l-1 -3zM336 166l3 0l2 5l-1 3l-2 0l-3 -6zM771 189l10 0l3 3l-2 5l-6 0l-1 5l-3 3l-6 1l-14 -4l-1 -2l10 -9zM764 196l-2 1l2 2l1 -2zM829 207l1 -1l1 1zM923 262l5 0l9 3l0 5l3 3l-4 10l1 3l-1 5l2 5l-27 0l12 -5l3 -5l5 1l2 -4l-4 -3l-6 5l0 -5l-2 -3l-8 -3l-3 1l-3 3l-1 -3l-9 -5l-6 1l0 -1l0 -3l3 -2l11 -1l8 0zM251 265l5 -2l13 2l-1 2l-2 2l-5 -3l-8 3zM179 267l5 -1l3 4l-6 3l-4 -3zM340 267l3 0l1 3l-4 0zM165 270l0 -2l3 5l-3 3zM830 270l4 0l0 3l-4 0zM876 270l5 0l4 5l-4 1zM462 273l12 -3l5 1l2 2l1 3l5 8l5 1l3 3l-5 2l-4 6l-33 0l7 -6l0 -2l-2 1l-2 -6l2 -8zM466 277l-4 3l1 4l6 -1l0 -3zM474 288l0 3l2 2l3 -1l3 -4l-3 -2zM906 283l1 -2l0 6l-4 1l0 -2zM510 286l6 -1l0 6l-5 -3zM888 286l1 -2l2 0l1 2l-1 3l-2 3zM901 293l1 -1l4 4l-6 0zM179 296l2 -2l1 2zM501 296l2 -1l3 1zM826 296l12 -2l2 2zM946 296l1 -2l1 2z"/><path fill="#ddbe78" fill-rule="evenodd" d="M181 51l3 2l1 -5l64 0l4 6l3 2l0 3l-3 3l-3 -2l-3 4l2 5l7 7l5 1l3 -3l8 4l10 -5l2 -1l-2 -8l6 -6l2 1l7 8l-2 2l-8 5l2 6l4 1l2 -2l2 -7l1 -3l3 0l13 4l1 4l-9 5l-5 -1l-8 8l-3 -2l-3 0l-5 12l-5 2l-3 2l0 5l-2 11l-4 2l-3 8l-4 2l-1 6l-10 5l-10 2l-19 -8l-8 -9l-8 -1l-8 -5l-8 1l-11 -8l-13 4l0 -35l9 -1l4 -10l8 -4l1 -7l3 -2l-6 -5l-3 0zM287 51l2 3l-1 1l-2 -1zM300 48l2 0l-1 8l-2 -2zM329 48l18 0l-2 3l6 5l-1 5l2 6l-1 1l-2 2l-7 -3l-2 -3l1 -2l4 -3l-4 -1l-6 -4l-3 0l-2 -2zM356 51l1 -2l8 7l2 -1l3 -3l3 0l3 2l0 2l-3 2l-16 -2l-2 -2zM584 48l3 0l-2 1zM591 51l2 -2l2 2l1 4l-3 0l-2 -1zM622 48l48 0l1 3l5 -1l0 -2l8 0l-5 11l-8 5l-3 3l-1 5l4 2l5 -2l5 4l2 -2l0 -7l4 -3l2 -1l1 1l-1 5l1 8l-2 10l-4 3l0 3l3 2l5 -1l3 3l5 0l7 4l5 13l0 5l3 2l11 3l2 3l4 12l5 3l-2 3l-6 1l-3 -2l-2 0l-3 2l-5 -2l-3 4l-2 2l-14 2l-5 2l-8 -3l-5 2l-3 3l-3 0l-2 -2l-8 0l-6 -7l-5 -2l-6 0l0 -3l-2 -1l-8 5l-8 -5l-3 0l-4 1l-4 5l-5 0l-5 2l-11 -1l-3 -1l-3 -2l0 -3l4 -5l0 -3l-3 -4l-11 0l-8 5l-5 -3l-3 -3l-8 2l-13 -2l-19 3l-15 5l-6 8l1 2l2 2l10 -8l3 0l9 1l0 8l-2 3l-10 0l-5 3l-5 -3l-11 2l-2 -2l4 -6l1 -3l-10 -2l-1 -1l-3 0l0 -1l14 -1l1 -2l-4 -5l-3 -1l-8 3l-2 -1l-6 1l-5 6l-5 3l-7 2l-4 4l-5 2l-11 8l-3 0l-2 -6l-5 -1l-2 -2l-2 -5l2 -16l-2 -5l4 -5l0 -12l2 -1l8 5l8 8l5 1l6 0l2 -1l1 -3l-2 -8l9 -4l16 -14l1 -3l7 3l6 -2l10 2l11 -6l8 1l11 -1l5 -2l11 2l10 -10l7 3l-2 3l4 2l7 3l13 -3l11 1l4 -1l1 -2l-1 -3l9 0l5 -5l-1 -3l-6 -5l0 -3l4 -2zM663 94l-8 4l-2 5l2 4l6 4l-1 5l1 8l7 1l8 -7l3 1l2 5l3 1l4 -1l1 -3l-4 -5l-6 -2l4 -6l1 -2l-6 -11l-5 -2zM697 121l0 3l3 5l5 2l2 -2l-2 -4l-2 0zM863 48l7 0l-3 3l-2 0zM960 48l33 0l0 87l-6 -8l-16 -4l-8 0l-4 -2l-4 -6l-10 3l-11 -2l-8 2l-10 6l2 18l3 5l-6 4l-2 0l-11 -9l-3 5l-10 3l-11 -4l-2 -1l-1 -5l-5 -1l-10 -10l-7 -2l-9 -2l-6 2l-8 -2l-18 3l-6 -2l-2 1l-3 -2l1 -4l-5 -7l0 -8l-3 -3l1 -2l6 -3l1 -3l6 -2l9 -8l8 3l8 -1l5 1l8 -3l3 0l5 5l5 -4l8 2l6 -2l8 3l8 -4l24 1l16 -3l8 4l11 -13l6 -15l-1 -5l5 -2zM259 54l2 -1l2 3l-4 0zM759 54l2 -2l3 1l3 3l0 3l-5 0l-3 -3zM305 59l6 2l0 3l-5 0l-2 -3zM356 69l1 -1l1 1zM867 69l1 0l1 3l-2 3zM340 74l3 1l6 -2l3 4l-2 5l0 11l-7 5l3 5l5 2l4 3l0 6l-3 2l1 5l-4 5l-3 0l-8 -4l-2 -3l1 -5l-2 -3l0 -10l5 -8l-2 -13zM367 77l3 2l0 1l-5 0zM765 77l4 0l4 3l2 7l-5 3l-1 3l0 9l5 1l2 3l-1 8l-4 7l0 8l-2 3l-5 -4l-3 -1l-3 2l-2 1l-3 -3l-4 -8l3 -5l-1 -3l-3 -3l9 -7l4 -8l-3 -3l-5 -2l1 -3zM764 118l-2 1l2 1zM471 80l3 -2l3 2l1 2l-4 2zM367 116l3 -2l0 3l-3 1zM276 121l4 1l2 2l-5 5l-3 -2zM322 124l8 -2l5 2l6 5l2 -1l6 2l2 4l0 9l-2 2l-8 3l-3 -1l-5 -7l-6 -3l-5 -5l-1 -5zM272 132l2 -2l3 4l-11 4l0 -1l3 0zM756 134l2 -1l3 4l1 3l-3 2l-3 1l-4 -3l0 -3zM745 137l4 0l0 3l-4 1l-1 -1zM571 140l4 -2l0 6l-3 -2zM787 142l6 -1l3 1l-3 4zM794 163l2 -2l5 0l3 2l0 3l-6 4l-4 -4zM766 192l11 -1l4 1l-3 2l-6 -1l-3 2l-2 -1zM754 200l4 -3l3 5l9 0l-9 0zM920 265l6 -2l5 2l3 2l0 4l-3 -2l-2 0l-2 6l-1 2l-3 0l-4 -4l0 -6zM899 267l3 -2l3 1l0 4l-3 1zM914 267l3 0l-2 6l-1 -3zM470 273l7 0l6 10l-9 2l-3 -1l0 -4l-4 -5zM465 288l1 -2l2 2l0 4l3 0l5 4l-6 0l-2 -2l-4 2l-9 0l10 -5zM484 291l1 5l-5 0zM925 293l4 -2l2 0l3 1l2 4l-15 0z"/><path fill="#d4ac62" fill-rule="evenodd" d="M188 48l60 1l2 5l-5 7l2 8l-4 3l2 2l3 -1l5 4l16 8l3 -1l2 1l1 -5l2 -3l5 -2l3 1l1 4l-5 5l3 5l-1 3l-3 5l-6 2l-2 3l1 5l-1 5l-3 2l-5 1l-3 2l-5 -2l-3 2l4 6l-1 4l-6 1l-1 3l1 1l3 -3l3 0l2 2l-1 5l-9 4l-11 1l-16 -7l-8 -10l-8 -1l-5 -4l-11 0l-8 -7l-3 0l-13 4l0 -32l11 0l2 -3l1 -8l2 -1l5 -2l2 -2l3 -8l3 -2l0 -3l-7 -2zM202 115l0 1l3 0zM332 48l2 0l-1 2zM624 48l43 0l-1 6l5 5l-1 2l-5 3l-2 8l3 2l7 3l4 3l10 1l0 5l-6 4l0 6l-5 -4l-13 1l-10 5l-1 8l3 4l3 1l-1 5l2 5l-5 6l1 1l2 1l11 -2l8 -5l8 5l3 1l5 -4l3 1l2 6l11 3l3 -9l5 -1l3 5l-1 6l3 -2l4 -6l4 7l0 6l-3 1l-5 -1l-8 2l-2 5l-3 2l-16 3l-8 -2l-8 2l-3 -2l-2 0l-6 3l-5 -6l-8 -4l-5 -4l-3 -1l-8 6l-8 -5l-5 0l-6 -3l-2 8l-3 0l-5 4l-14 -3l0 -3l4 -5l0 -3l-6 -6l-14 1l-5 3l-5 -5l-3 -1l-8 4l-16 -3l-13 3l-5 0l-17 7l-2 3l-2 -6l-6 -4l-11 3l-6 -1l-4 2l-8 7l-8 1l-3 6l-8 2l-5 -1l-3 3l-2 -2l-6 -1l-2 -3l-2 -4l0 -18l4 -5l0 -7l21 11l8 -2l6 -13l16 -14l5 -2l3 1l8 -3l13 1l8 -4l8 3l5 -3l11 -3l21 2l3 -3l5 0l5 3l6 0l13 -3l8 2l11 -3l8 1l-2 -6l3 -5l-4 -8l2 -3l-1 -5l3 -5zM711 134l-3 0l3 1zM612 124l-2 3l1 2l4 0l1 -2zM960 51l1 -3l32 0l0 85l-6 -8l-8 0l-8 -3l-8 -1l-2 -1l-6 -7l-5 0l-5 3l-11 -2l-13 6l-7 1l-2 3l1 7l3 3l-5 3l2 1l2 4l-2 5l-8 -7l-6 -1l-1 -2l1 -2l6 3l5 -4l-8 -3l-3 0l-1 3l-4 3l0 4l3 4l-8 3l-6 -3l-4 0l1 -5l-10 -3l-13 -10l-13 -3l-6 2l-5 -1l-21 1l-14 -12l0 -3l2 -5l-2 -2l-2 -1l5 -1l3 -5l8 -5l2 -1l3 4l3 0l2 -3l-4 -2l-1 -3l3 0l2 3l3 0l5 -2l6 3l5 -3l8 -1l1 3l9 4l3 -3l11 -2l2 2l16 0l5 -1l1 -3l8 -1l5 1l3 3l5 -4l5 -1l11 2l0 2l-3 1l-2 -2l-1 2l1 2l5 -1l3 1l5 -3l5 2l3 -1l-1 -3l-4 -2l0 -3l1 -2l7 -4l2 1l2 -3l-2 -3l-2 -1l0 -3l2 -3l9 0l-1 -4l-6 -4zM372 54l1 0l0 2zM300 72l5 0l3 2l-2 3l-5 2l-3 -2zM564 77l2 3l-2 2l-3 -2zM343 80l3 0l3 7l-3 6l-3 0l-2 -3zM764 80l5 -1l3 3l-1 3l-5 6l-2 -1l-7 -5zM687 98l2 -1l8 3l6 -1l2 2l1 7l4 6l0 2l-5 5l-2 1l-6 -3l-5 2l-3 -2l-3 -8l-2 -10zM762 98l5 0l-3 3zM337 101l1 -2l3 0l2 4l-5 2zM757 103l2 0l1 3l-4 2l-2 -2zM762 106l2 -2l2 0l3 4l-3 3l3 2l0 -5l3 -1l1 1l-1 6l-3 3l-3 -2l-8 0l-2 -1l1 -3l4 -3zM347 108l2 -1l2 0l2 4l-2 2l-5 1l-1 -3zM345 119l4 0l1 2l-4 3l-2 -3zM757 121l1 -1l3 4l3 0l2 -3l3 0l0 6l-3 1l-2 -3l-3 -1l-3 3l-2 0l-1 -3zM330 127l3 -1l2 1l2 2l1 5l3 1l2 -2l4 1l3 8l-9 4l-3 -1l-3 -5l-9 -6l0 -5zM756 137l2 0l1 3l-3 0zM516 145l3 -1l1 6l-6 2l-5 -2zM924 265l4 0l0 2l-5 7l-1 -4zM471 275l3 -1l1 1l5 5l-1 2l-5 -1zM928 293l3 0l4 3l-10 0z"/><path fill="#cd9d50" fill-rule="evenodd" d="M191 48l50 0l6 6l-5 5l3 8l-4 2l-1 3l4 5l1 5l3 1l5 -2l3 0l16 8l8 -1l1 2l-1 4l-10 7l-1 2l3 5l-3 4l-5 1l-6 2l-5 -1l-8 7l0 3l3 3l-2 5l2 2l2 2l6 -3l0 2l-8 4l-8 2l-16 -6l-11 -12l-8 -2l2 -7l-2 -3l-3 -1l-5 0l-8 6l-11 -5l-13 5l0 -29l11 0l6 -7l-1 -4l5 3l3 -5l3 -10l5 -5l0 -3l-7 -5zM202 68l-2 17l8 3zM216 72l-2 2l2 2l1 -2zM224 68l0 3l2 3l3 2l3 -1l-1 -3l-5 -4zM186 90l3 3l0 -5zM202 95l0 3l3 0l1 -3zM627 48l13 0l3 3l3 5l-7 3l-6 5l8 1l3 -1l5 -13l3 1l3 -1l0 -3l10 0l-2 6l1 2l3 3l-5 5l-1 10l8 3l14 8l-7 5l-8 2l-8 -2l-5 5l-4 6l1 13l-1 2l-2 2l-3 1l-2 2l-5 3l-3 6l8 -1l3 2l10 0l16 -4l14 2l5 -2l5 7l8 0l5 6l0 5l-2 2l-13 3l-11 -2l-5 2l-8 -4l-6 3l-12 -7l-6 -6l-3 0l-8 7l-3 -3l-1 -8l-6 0l-1 5l-1 -3l1 -2l-2 -3l3 -5l-1 -1l-2 -1l-6 2l-5 -3l-3 2l-2 6l2 3l5 0l1 2l-3 6l-3 0l-2 5l-6 0l-1 -3l0 -8l-9 -7l-6 1l-5 -3l-8 3l-8 -5l-2 0l-2 4l-4 2l-13 -3l-16 2l-5 0l-14 5l-8 -1l-5 -3l-19 2l-5 -2l-2 8l-6 3l1 -8l-6 -1l-3 1l-3 5l-6 0l1 5l7 3l-4 2l-3 1l-5 -1l-6 1l-5 -3l-3 -8l0 -10l3 -6l3 -2l8 1l8 4l2 4l3 -4l7 -3l3 -7l9 -12l8 -6l5 1l3 0l8 -6l13 3l5 -4l3 0l3 2l8 0l5 -3l5 0l11 -2l5 1l8 0l8 -4l11 4l13 -4l8 2l19 -1l7 -8l-4 -8l0 -2l3 -3l4 -8l-2 -6zM649 84l-1 1l1 1zM963 48l15 0l1 2l6 1l3 -3l5 0l0 55l-6 -2l-8 -2l-4 -4l-1 -3l-3 1l-3 5l3 -1l3 1l3 5l2 1l6 -1l8 3l0 24l-6 -7l-8 1l-4 -3l1 -5l-2 -2l-4 0l-2 5l-2 1l-5 -2l-2 -4l2 -2l4 -1l-1 -3l-3 -3l-3 1l-3 4l-7 1l-3 3l-11 -1l-13 6l-8 1l-4 4l-2 5l-8 -1l-8 6l-2 0l-6 -3l-2 1l-3 3l-8 -1l-8 -6l-16 -6l-8 3l-5 -2l-18 1l-9 -4l-7 -6l0 -3l4 -5l3 -8l3 -1l3 -3l2 2l8 0l6 -6l2 0l4 3l3 5l1 1l3 -4l-2 -2l2 -2l3 3l5 -3l8 6l5 -1l3 2l2 -1l3 -5l5 2l24 -1l3 -4l3 -1l2 1l6 6l2 1l3 -6l5 -1l6 6l10 0l1 3l5 1l1 -4l7 -5l3 -10l4 -6l0 -5l6 -4l3 -3l4 -1l4 -2l-6 -1l-2 1l1 -5l-7 -1zM985 70l-5 4l2 2l7 -4zM280 77l3 0l0 3l-3 2l-3 -2zM765 82l2 0l-1 3zM949 82l1 -1l0 1zM688 103l4 -2l5 3l6 -3l1 2l0 8l3 3l-2 2l-2 2l-8 -4l-3 0l-1 -3l0 -3l-3 -2zM249 124l4 -2l2 2l-2 2l-3 0zM646 124l1 -2l2 0l3 2l-3 3l-2 -1zM712 127l3 0l1 2l-3 3l-3 -3zM331 129l4 0l0 3l-2 3l-3 0l-1 -3zM723 137l1 -2l2 0l1 2l-1 1zM886 140l3 -3l2 2l1 6l-4 0zM928 296l1 -1l4 1z"/><path fill="#c48b3a" fill-rule="evenodd" d="M195 48l26 0l3 2l2 -2l13 0l4 6l-6 4l-3 -3l-2 0l-3 3l-5 0l-6 -3l-2 -5l-8 -1l-1 5l2 2l1 2l8 1l5 5l-5 5l-16 -6l-8 -12zM633 48l6 1l3 5l-1 2l-2 0l-3 -1l-2 -1zM657 48l4 0l-1 3l-3 -1zM989 51l4 -1l0 22l-7 -8l4 -5l-4 -3l0 -2zM652 56l2 3l-2 2l-3 1l0 -3zM982 56l0 3l2 2l-2 1zM194 64l2 0l4 12l-3 5l-6 -1zM231 64l6 -2l2 2l1 3l-3 5l4 5l-1 3l-6 -5l-2 -6l-4 -2zM974 64l3 3l-4 0zM657 67l1 2l-1 8l3 8l-1 2l-10 11l1 10l-1 5l-10 7l-6 9l-2 0l-3 -2l0 -4l-3 -3l-8 1l-8 -2l-3 8l0 7l-2 2l-3 -4l-8 -5l-2 -5l-3 0l-3 4l-2 -3l-3 -1l-8 3l-5 -5l-5 1l-6 6l-13 -4l-16 4l-8 -1l-11 5l-13 -4l-19 2l-2 -3l-6 -1l-3 -4l1 -6l9 -12l7 -4l8 1l8 -8l8 2l5 7l5 -4l14 -2l5 -4l11 4l2 -6l3 -1l5 3l3 -1l5 -1l8 -4l8 4l3 0l13 -3l8 2l11 0l13 -5l8 1l8 5l5 0l3 -2l0 -4l-3 -2l-5 1l-6 -5l14 -1l2 -2l-1 -5zM490 122l-2 2l2 1l2 -1zM495 100l-1 1l5 0l-1 -2zM630 69l2 0l-1 2zM966 69l3 -1l3 6l-1 6l3 4l19 -12l0 20l-6 -2l-5 -5l-3 2l1 3l7 5l-2 3l-6 -1l-2 -6l-3 -3l-8 5l-1 0l-8 -11zM221 74l10 6l3 3l5 -1l1 -2l0 2l8 4l2 0l6 -3l8 4l5 5l7 1l-2 2l-5 2l-5 11l-3 -3l-5 0l-4 6l-9 8l-1 5l2 5l-1 3l2 5l-8 0l-11 -3l-13 -14l-4 -1l1 -5l-5 -8l1 -3l4 -5l0 -3l1 3l5 4l3 -4l-3 -5l-3 1l-1 -1l1 -3l3 1l4 -4zM216 105l2 4l6 -1l0 -2zM633 74l0 -1l2 1l-2 2zM208 77l0 -1l2 -2l6 6l-3 4l-3 -1l-2 -3zM661 80l4 -3l3 1l5 6l4 1l-8 5l-3 0l-5 -8zM181 87l1 0l0 3l4 4l3 1l3 -2l2 -6l3 0l8 3l-7 5l6 8l0 3l-18 7l-5 -3l-16 4l0 -15l3 -6l2 -2l6 0zM827 93l3 -1l5 9l3 1l11 -8l3 0l5 5l5 0l3 2l8 -4l2 1l14 -2l4 2l1 3l3 -5l8 -5l2 0l7 7l9 -4l3 1l3 6l2 1l14 -1l5 -6l5 5l8 -3l6 6l2 -2l3 5l10 5l-5 7l-5 -7l-11 -7l-5 -2l-5 6l-6 1l-5 4l-8 -2l-13 7l-9 1l-7 7l-3 -1l-8 5l-3 1l-5 -2l-5 0l-8 4l-6 -2l-5 -4l-10 -3l-6 -5l-8 4l-5 -1l-13 1l-11 -3l-9 -6l0 -3l4 -3l2 -5l3 -1l3 1l5 -4l8 -2zM696 108l4 -1l0 6l-4 -2zM986 108l7 1l0 3zM988 116l5 -1l0 13l-6 -9zM430 124l4 -3l11 3l-1 3l-2 1l-8 1l-2 3l2 2l-3 3l-1 -10zM673 129l8 0l6 2l5 -2l3 6l2 2l6 -1l2 1l2 5l-7 6l-5 0l-11 -1l-5 1l-8 -3l-6 1l-2 -1l-7 -3l-7 -8l3 -1l13 -1zM449 132l2 0l0 2l-2 0zM636 134l3 -1l3 1l-3 3l-3 1zM441 140l1 -2l2 2l0 3l-8 3l-3 -1l1 -2zM603 142l1 -2l1 2z"/><path fill="#bb7d2a" fill-rule="evenodd" d="M199 48l1 0l1 3l-1 1zM228 48l9 0l0 3l-8 0zM202 54l3 2l0 3l-3 0zM221 54l0 -2l3 0l3 2l-3 1zM637 54l2 -2l1 2zM990 54l3 -2l0 4zM211 61l5 0l3 3l-1 2l-2 -1l-3 -1zM991 64l2 -2l0 7l-3 -2zM963 77l3 -1l3 1l2 8l-5 4l-5 -4l-1 -3zM990 77l3 -1l0 15l-6 -4l-2 -5zM664 80l3 0l1 4l-3 0zM223 87l1 -1l2 2l6 -3l5 2l5 -1l8 4l6 -5l2 2l-2 4l-4 2l-1 2l5 2l8 -4l1 2l-2 6l-10 4l-5 7l-8 1l-3 8l4 6l-1 2l-6 -1l-2 4l-3 2l-5 -2l-8 -13l5 -8l5 -3l1 -2l-3 -5l4 -6l-2 -1l-5 1l-3 -2zM234 107l0 2l2 -1zM569 87l3 -1l5 4l-5 3l0 3l3 1l10 -6l11 -4l8 3l3 6l5 0l5 2l1 -8l2 -2l8 -3l5 1l10 7l1 5l4 8l0 2l-4 1l-3 6l-9 4l2 5l-3 3l-1 -6l-2 -2l-5 -2l-8 1l-4 -2l-1 -2l2 -8l-3 -2l-3 2l0 10l-2 8l-3 3l-2 1l-3 -1l-3 -3l0 -3l3 -2l0 -3l-3 0l-10 4l-11 -3l-5 -9l2 -2l0 -3l-2 -2l-2 2l2 5l-3 4l-5 0l-5 6l-8 1l-8 5l-6 -2l-2 -3l-3 1l-3 4l-5 0l-11 4l-9 -1l-7 -6l-5 -2l-3 2l0 3l-5 2l-5 -3l-6 -1l-1 -3l0 -3l10 -13l7 -1l-1 4l1 3l3 0l5 -5l6 -1l8 -4l5 4l8 -3l5 3l8 -5l3 -4l3 -1l2 2l3 4l8 -4l5 2l4 -4l7 -3zM169 95l4 -1l5 1l3 -2l3 1l2 3l4 1l2 3l2 0l3 -2l3 1l1 3l0 3l-7 0l-2 3l-6 2l-2 -6l-8 4l-2 -6l-5 -2l-1 -3zM901 95l4 -2l2 0l6 7l4 1l2 5l2 0l2 -1l6 1l3 2l-1 3l-10 6l-11 0l-3 3l-2 2l-3 0l-8 5l-3 0l-5 -4l-8 1l-5 -2l-3 2l-8 1l-8 -2l-3 -2l-2 -4l-3 -1l-2 0l-6 5l-5 -2l-5 3l-3 -2l-5 2l-10 -3l-8 -5l0 -3l4 -2l3 -3l3 1l5 -6l3 -2l10 1l8 6l-6 8l1 2l8 -4l2 -9l3 -4l3 0l5 2l5 0l6 3l5 -4l16 -2l3 1l5 5l3 -1l1 -5zM165 103l3 1l2 7l-5 2zM947 103l3 -1l1 1l-3 3l-3 1l-3 4l-4 0l-2 -3l3 -2zM209 106l1 -2l1 2l-1 2zM990 119l3 0l0 1zM553 121l4 0l-1 4l-4 -1zM869 127l1 -2l3 2l0 2l-4 0zM672 132l9 -1l8 3l-1 6l1 5l-5 0l-5 1l-23 -6l0 -3l1 -3l8 1zM696 140l4 0l1 2l0 3l-4 2l-4 -2z"/><path fill="#ad7021" fill-rule="evenodd" d="M991 80l2 -2l0 11l-5 -4l0 -3zM625 87l8 0l6 4l2 4l0 4l4 4l-1 3l-8 8l-21 1l-3 -4l3 -7l6 -3l-1 -11zM229 90l3 -1l0 4zM240 90l2 -2l5 2l-5 6zM595 90l4 -1l2 2l5 7l1 3l-3 2l-1 8l1 5l-1 3l-2 3l-2 2l-1 -3l1 -2l-1 -5l-2 -2l-13 5l-11 -2l-1 -4l1 -9l16 -9l5 -1zM585 102l0 1l3 3l3 -3l-3 -2zM561 95l3 -2l3 0l3 5l-7 3l0 7l-7 3l-2 4l-11 3l-5 4l-3 -1l-5 -8l-3 2l-3 6l-2 1l-6 -1l-3 -5l-7 -3l-8 3l0 3l-3 1l-7 -4l-2 -2l7 0l-1 -6l2 -2l9 -4l5 3l11 -1l5 3l11 -6l3 2l-3 5l3 3l5 -4l5 1l6 -2zM904 95l3 1l7 10l7 5l1 3l-1 1l-3 1l-8 -2l-3 1l-1 4l-4 0l-1 -3l5 -5l-2 -3l-5 -2l0 -5l1 -3zM171 98l10 -2l3 2l-1 3l-5 2zM248 98l9 3l-9 8l-3 0l-5 -3l5 -7zM228 101l4 -2l2 2l-1 2l-4 3l6 8l-3 2l-3 0l-3 -2l3 -8zM885 101l13 7l-2 8l3 3l-3 5l-18 -3l-4 -2l-2 -3l0 -2l-3 -6l1 -5zM817 103l3 -2l9 2l5 5l-6 8l-6 0l-2 3l-2 -3l2 -2l0 -6l-3 -1zM165 106l0 -1l3 3l-3 3zM854 106l5 -2l2 2l1 2l-5 4l-3 0l-2 -1l0 -3zM475 108l1 -1l3 1l5 6l-8 6l-2 -1l0 -8zM846 111l0 -1l1 1zM806 114l3 -3l3 1l3 4l-3 1zM221 116l3 1l2 4l4 8l-1 3l-3 0l-2 -7l-5 -4zM858 119l1 -2l11 2l-8 4l-5 -2zM498 121l0 -1l2 1l6 -2l3 5l-3 1l-6 -1zM673 134l8 -2l5 2l1 3l-3 4l-3 1l-2 -3l-3 3l-3 1l-4 -3l0 -3zM658 137l4 0l-2 3z"/><path fill="#a16518" fill-rule="evenodd" d="M991 82l2 -1l0 7l-3 -3zM623 90l2 1l1 4l5 4l5 2l2 5l-2 5l-3 1l-5 -6l-3 1l-2 -1l2 -8l-3 -5zM594 98l5 -1l4 1l0 3l-2 2l-2 6l-6 -1zM903 98l3 0l6 10l-2 1l-8 -5l-1 -3zM577 103l3 -2l5 7l-2 2zM499 106l4 0l-1 2l-2 3l-2 1l-3 -4zM876 106l2 -1l3 0l2 2l6 -1l2 0l3 5l-3 3l-1 2l2 3l-3 1l-10 -1l0 -3l3 -2l0 -3l-1 -3l-3 0zM510 108l6 1l2 2l-1 3l-3 0l-3 -2zM615 108l2 0l1 3l-3 1zM542 111l4 -1l6 1l0 3l-12 2l-2 4l-2 -1l-1 -4l3 -1zM824 111l1 -1l1 1l-1 2zM912 111l1 -2l2 1l3 1l2 3l-5 0zM680 134l4 0l1 3l-4 1z"/><path fill="#93580f" fill-rule="evenodd" d="M886 108l4 0l1 3l-5 1l-2 -1z"/></g>
<path d="M179.3 95.1L177.4 99.0L173.7 100.5L171.4 106.7L168.4 110.8L164.1 112.8L160.8 116.2L157.6 121.2L155.5 127.0L157.0 130.2L157.4 133.4L156.5 137.8L154.4 140.6L155.9 143.3L156.1 145.7L159.3 148.5L162.6 151.5L164.1 154.5L167.3 157.3L171.6 160.8L175.9 162.7L180.2 161.4L185.6 161.2L189.9 161.4L194.1 159.3L197.4 158.6L201.7 158.6L204.0 161.4L206.0 162.9L208.1 162.5L210.3 162.3L212.6 164.0L213.1 166.8L212.2 170.0L212.0 173.3L210.9 174.8L213.5 178.7L217.4 182.5L218.4 185.1L219.9 190.5L221.0 195.9L218.9 201.3L217.4 206.6L217.4 209.4L218.9 213.1L222.1 219.6L223.2 222.8L224.2 229.3L227.5 233.8L229.6 238.9L231.3 242.8L231.5 245.8L233.9 246.9L235.0 247.1L239.3 245.4L247.0 245.4L250.0 244.3L253.2 242.2L257.5 237.9L260.8 234.2L262.1 230.3L262.7 228.2L264.0 226.7L267.2 224.9L268.3 219.6L267.2 215.7L270.4 212.0L274.7 209.9L278.0 207.7L279.2 204.5L279.0 195.9L276.9 189.4L276.2 186.2L276.9 181.9L278.6 178.2L281.2 175.4L284.4 172.2L287.6 169.0L290.9 166.6L295.2 162.5L298.4 157.1L301.2 150.7L302.2 146.8L298.4 147.7L293.0 148.5L288.7 149.8L285.5 147.4L285.1 145.3L283.3 143.8L280.8 141.4L278.0 138.8L276.5 138.0L275.0 133.4L272.4 127.0L271.1 124.4L268.5 121.4L265.5 115.8L264.0 113.4L262.1 108.0L261.6 104.8L258.6 104.2L256.0 105.0L252.2 105.5L246.2 104.2L241.4 102.0L238.2 101.4L235.0 104.4L233.9 106.5L230.7 105.9L225.3 104.4L220.4 101.4L216.1 100.7L213.9 98.4L215.9 96.4L214.6 93.6L215.6 92.3L213.1 91.9L209.2 92.8L202.7 93.0L198.4 93.0L194.1 93.6L189.9 96.0L187.3 96.6L182.3 96.4ZM953.0 95.1L951.0 99.0L947.4 100.5L945.0 106.7L942.0 110.8L937.7 112.8L934.5 116.2L931.3 121.2L929.1 127.0L930.6 130.2L931.0 133.4L930.2 137.8L928.0 140.6L929.5 143.3L929.8 145.7L933.0 148.5L936.2 151.5L937.7 154.5L940.9 157.3L945.2 160.8L949.5 162.7L953.8 161.4L959.2 161.2L963.5 161.4L967.8 159.3L971.0 158.6L975.3 158.6L977.7 161.4L979.6 162.9L981.8 162.5L983.9 162.3L986.3 164.0L986.7 166.8L985.8 170.0L985.6 173.3L984.6 174.8L987.1 178.7L991.0 182.5L992.1 185.1L993.6 190.5L994.7 195.9L992.5 201.3L991.0 206.6L991.0 209.4L992.5 213.1L995.7 219.6L996.8 222.8L997.9 229.3L1001.1 233.8L1003.2 238.9L1005.0 242.8L1005.2 245.8L1007.5 246.9L1008.6 247.1L1012.9 245.4L1020.7 245.4L1023.7 244.3L1026.9 242.2L1031.2 237.9L1034.4 234.2L1035.7 230.3L1036.3 228.2L1037.6 226.7L1040.9 224.9L1041.9 219.6L1040.9 215.7L1044.1 212.0L1048.4 209.9L1051.6 207.7L1052.9 204.5L1052.7 195.9L1050.5 189.4L1049.9 186.2L1050.5 181.9L1052.2 178.2L1054.8 175.4L1058.0 172.2L1061.3 169.0L1064.5 166.6L1068.8 162.5L1072.0 157.1L1074.8 150.7L1075.9 146.8L1072.0 147.7L1066.6 148.5L1062.3 149.8L1059.1 147.4L1058.7 145.3L1057.0 143.8L1054.4 141.4L1051.6 138.8L1050.1 138.0L1048.6 133.4L1046.0 127.0L1044.7 124.4L1042.1 121.4L1039.1 115.8L1037.6 113.4L1035.7 108.0L1035.3 104.8L1032.3 104.2L1029.7 105.0L1025.8 105.5L1019.8 104.2L1015.1 102.0L1011.8 101.4L1008.6 104.4L1007.5 106.5L1004.3 105.9L998.9 104.4L994.0 101.4L989.7 100.7L987.6 98.4L989.5 96.4L988.2 93.6L989.3 92.3L986.7 91.9L982.8 92.8L976.4 93.0L972.1 93.0L967.8 93.6L963.5 96.0L960.9 96.6L956.0 96.4ZM188.8 78.8L189.2 76.4L189.4 73.2L187.3 70.8L182.3 69.3L181.3 68.0L182.3 66.7L183.4 53.8L256.5 21.5L406.9 10.7L503.6 21.5L496.1 58.1L493.9 67.8L489.6 73.2L484.3 77.5L477.8 79.6L474.6 80.1L472.9 81.1L470.7 83.9L467.1 86.1L466.0 87.2L468.1 89.7L470.1 93.6L469.9 96.4L467.7 97.1L463.6 98.1L463.4 94.7L464.1 91.7L461.3 90.8L460.2 89.1L460.8 87.2L459.1 86.3L454.8 87.4L452.7 88.7L453.5 86.9L454.8 85.0L452.0 84.1L448.8 86.5L445.6 87.8L444.7 89.3L446.7 90.4L447.7 92.1L451.2 91.0L455.3 92.1L454.6 93.0L451.0 94.7L448.4 96.8L450.5 98.4L451.8 102.0L454.0 103.9L454.0 105.7L453.1 107.2L454.2 108.0L453.1 110.6L451.2 112.8L449.0 115.6L447.7 117.7L445.6 119.7L442.4 122.7L438.7 123.5L435.9 124.4L432.7 125.5L429.7 126.6L429.0 128.5L428.0 126.1L425.2 125.7L423.0 126.1L421.1 128.3L419.4 131.1L420.9 134.5L423.0 137.1L425.6 139.5L426.7 142.5L426.7 147.4L424.1 149.2L421.9 149.8L420.9 151.7L417.2 153.7L417.6 150.9L416.4 149.6L413.3 148.5L411.6 145.7L408.8 144.9L406.9 143.3L405.2 149.6L406.7 152.4L407.5 154.3L409.0 157.3L412.1 159.1L414.2 162.5L414.4 166.2L416.1 169.2L414.4 169.4L412.3 167.9L409.7 166.0L408.0 163.6L407.5 160.4L405.8 157.6L403.2 154.5L403.9 150.7L403.7 144.2L402.2 140.3L401.5 136.7L398.7 136.0L396.2 138.2L394.7 137.3L394.4 133.4L392.9 130.6L390.4 127.8L389.7 125.9L388.6 123.8L386.5 124.8L383.3 125.3L381.5 125.7L379.0 127.0L377.9 128.7L374.7 130.9L372.5 132.8L369.3 135.2L366.7 136.9L364.3 138.8L364.6 143.1L363.7 146.4L363.5 150.0L361.8 150.2L360.1 153.0L358.5 154.8L356.4 152.8L354.9 148.5L352.7 144.6L351.7 141.0L350.0 137.8L348.7 131.5L348.4 127.0L347.8 124.4L345.7 127.0L343.5 127.4L340.3 124.2L342.9 123.1L340.3 122.9L339.0 121.6L336.6 118.8L334.9 117.5L329.5 117.7L324.2 118.2L318.8 117.5L315.1 116.7L313.8 114.1L312.6 113.6L309.8 114.9L307.0 114.5L302.7 112.1L301.2 109.8L299.4 107.2L296.9 107.6L295.2 108.7L296.2 110.8L297.7 113.0L299.4 114.7L299.9 116.2L301.2 119.0L302.2 116.0L302.9 119.2L304.8 120.1L308.0 120.1L311.3 117.3L312.6 115.6L313.2 117.7L313.2 119.5L315.6 121.0L317.9 121.4L320.5 123.8L318.4 128.1L316.2 131.3L314.1 132.4L311.3 134.1L308.0 135.8L304.2 138.6L299.4 139.9L295.2 142.1L288.7 144.6L285.5 144.9L284.0 139.9L282.3 135.6L279.0 130.2L276.2 125.9L274.7 121.6L271.5 118.4L268.3 114.1L266.6 111.9L267.2 108.7L266.4 110.2L265.7 112.6L264.0 111.3L262.1 107.8L261.4 105.0L265.5 104.8L266.1 104.2L267.2 101.6L268.3 99.4L269.1 96.8L268.9 95.1L269.8 93.4L268.3 93.4L266.6 93.0L264.0 94.5L260.8 93.6L257.8 93.0L256.5 94.3L252.2 93.2L250.7 91.9L250.0 89.3L248.9 87.2L249.4 85.2L251.1 85.2L254.3 83.9L253.2 84.8L250.0 85.6L248.3 85.4L247.9 84.4L244.0 84.4L242.5 85.4L241.0 87.2L242.1 88.7L243.6 90.0L241.4 91.5L240.4 93.8L238.6 93.0L237.8 90.8L237.1 89.7L235.4 86.9L233.5 85.2L233.9 83.9L232.8 81.8L229.6 79.6L225.3 77.5L223.2 74.9L221.4 73.8L218.4 74.5L218.4 76.4L221.0 78.3L222.1 80.7L226.4 83.1L230.7 84.8L231.8 85.9L229.2 85.0L227.7 85.4L228.7 88.2L226.6 90.4L225.5 90.4L226.4 88.4L225.7 86.1L222.1 84.4L218.4 82.4L215.6 80.7L213.9 77.7L210.9 76.6L208.1 77.9L204.9 79.4L201.7 78.8L198.4 79.0L198.9 81.8L196.7 83.1L193.9 84.6L191.4 87.2L192.4 88.7L190.5 91.2L187.5 93.2L182.3 93.2L180.0 94.7L178.5 93.0L175.9 92.1L172.7 92.5L173.1 90.6L171.6 88.7L172.9 83.9L173.1 81.8L172.0 79.6L174.8 78.1ZM962.4 78.8L962.8 76.4L963.1 73.2L960.9 70.8L956.0 69.3L954.9 68.0L956.0 66.7L957.0 53.8L1030.1 21.5L1180.5 10.7L1277.2 21.5L1269.7 58.1L1267.6 67.8L1263.3 73.2L1257.9 77.5L1251.5 79.6L1248.2 80.1L1246.5 81.1L1244.4 83.9L1240.7 86.1L1239.6 87.2L1241.8 89.7L1243.7 93.6L1243.5 96.4L1241.4 97.1L1237.3 98.1L1237.1 94.7L1237.7 91.7L1234.9 90.8L1233.8 89.1L1234.5 87.2L1232.8 86.3L1228.5 87.4L1226.3 88.7L1227.2 86.9L1228.5 85.0L1225.7 84.1L1222.4 86.5L1219.2 87.8L1218.4 89.3L1220.3 90.4L1221.4 92.1L1224.8 91.0L1228.9 92.1L1228.2 93.0L1224.6 94.7L1222.0 96.8L1224.2 98.4L1225.5 102.0L1227.6 103.9L1227.6 105.7L1226.7 107.2L1227.8 108.0L1226.7 110.6L1224.8 112.8L1222.7 115.6L1221.4 117.7L1219.2 119.7L1216.0 122.7L1212.3 123.5L1209.6 124.4L1206.3 125.5L1203.3 126.6L1202.7 128.5L1201.6 126.1L1198.8 125.7L1196.7 126.1L1194.7 128.3L1193.0 131.1L1194.5 134.5L1196.7 137.1L1199.2 139.5L1200.3 142.5L1200.3 147.4L1197.7 149.2L1195.6 149.8L1194.5 151.7L1190.9 153.7L1191.3 150.9L1190.0 149.6L1187.0 148.5L1185.3 145.7L1182.5 144.9L1180.5 143.3L1178.8 149.6L1180.3 152.4L1181.2 154.3L1182.7 157.3L1185.7 159.1L1187.8 162.5L1188.1 166.2L1189.8 169.2L1188.1 169.4L1185.9 167.9L1183.3 166.0L1181.6 163.6L1181.2 160.4L1179.5 157.6L1176.9 154.5L1177.5 150.7L1177.3 144.2L1175.8 140.3L1175.2 136.7L1172.4 136.0L1169.8 138.2L1168.3 137.3L1168.1 133.4L1166.6 130.6L1164.0 127.8L1163.3 125.9L1162.3 123.8L1160.1 124.8L1156.9 125.3L1155.2 125.7L1152.6 127.0L1151.5 128.7L1148.3 130.9L1146.2 132.8L1142.9 135.2L1140.4 136.9L1138.0 138.8L1138.2 143.1L1137.3 146.4L1137.1 150.0L1135.4 150.2L1133.7 153.0L1132.2 154.8L1130.0 152.8L1128.5 148.5L1126.4 144.6L1125.3 141.0L1123.6 137.8L1122.3 131.5L1122.1 127.0L1121.4 124.4L1119.3 127.0L1117.1 127.4L1113.9 124.2L1116.5 123.1L1113.9 122.9L1112.6 121.6L1110.3 118.8L1108.5 117.5L1103.2 117.7L1097.8 118.2L1092.4 117.5L1088.8 116.7L1087.5 114.1L1086.2 113.6L1083.4 114.9L1080.6 114.5L1076.3 112.1L1074.8 109.8L1073.1 107.2L1070.5 107.6L1068.8 108.7L1069.9 110.8L1071.4 113.0L1073.1 114.7L1073.5 116.2L1074.8 119.0L1075.9 116.0L1076.5 119.2L1078.5 120.1L1081.7 120.1L1084.9 117.3L1086.2 115.6L1086.8 117.7L1086.8 119.5L1089.2 121.0L1091.6 121.4L1094.2 123.8L1092.0 128.1L1089.9 131.3L1087.7 132.4L1084.9 134.1L1081.7 135.8L1077.8 138.6L1073.1 139.9L1068.8 142.1L1062.3 144.6L1059.1 144.9L1057.6 139.9L1055.9 135.6L1052.7 130.2L1049.9 125.9L1048.4 121.6L1045.2 118.4L1041.9 114.1L1040.2 111.9L1040.9 108.7L1040.0 110.2L1039.4 112.6L1037.6 111.3L1035.7 107.8L1035.1 105.0L1039.1 104.8L1039.8 104.2L1040.9 101.6L1041.9 99.4L1042.8 96.8L1042.6 95.1L1043.4 93.4L1041.9 93.4L1040.2 93.0L1037.6 94.5L1034.4 93.6L1031.4 93.0L1030.1 94.3L1025.8 93.2L1024.3 91.9L1023.7 89.3L1022.6 87.2L1023.0 85.2L1024.7 85.2L1028.0 83.9L1026.9 84.8L1023.7 85.6L1021.9 85.4L1021.5 84.4L1017.6 84.4L1016.1 85.4L1014.6 87.2L1015.7 88.7L1017.2 90.0L1015.1 91.5L1014.0 93.8L1012.3 93.0L1011.4 90.8L1010.8 89.7L1009.0 86.9L1007.1 85.2L1007.5 83.9L1006.5 81.8L1003.2 79.6L998.9 77.5L996.8 74.9L995.1 73.8L992.1 74.5L992.1 76.4L994.7 78.3L995.7 80.7L1000.0 83.1L1004.3 84.8L1005.4 85.9L1002.8 85.0L1001.3 85.4L1002.4 88.2L1000.2 90.4L999.2 90.4L1000.0 88.4L999.4 86.1L995.7 84.4L992.1 82.4L989.3 80.7L987.6 77.7L984.6 76.6L981.8 77.9L978.5 79.4L975.3 78.8L972.1 79.0L972.5 81.8L970.4 83.1L967.6 84.6L965.0 87.2L966.1 88.7L964.1 91.2L961.1 93.2L956.0 93.2L953.6 94.7L952.1 93.0L949.5 92.1L946.3 92.5L946.7 90.6L945.2 88.7L946.5 83.9L946.7 81.8L945.7 79.6L948.4 78.1ZM297.9 198.0L299.9 203.4L300.5 206.4L298.6 208.8L296.9 215.3L294.1 224.9L293.0 226.2L289.1 227.3L286.6 226.0L285.1 220.6L285.9 218.1L287.6 214.8L286.6 209.9L287.6 207.1L290.9 206.2L293.4 203.4L295.2 201.3L296.7 199.1ZM363.7 158.2L363.5 154.5L363.9 151.1L366.1 153.7L368.0 156.5L367.4 158.9L365.0 159.5ZM396.8 160.1L401.5 161.0L404.1 164.0L407.8 167.5L410.1 168.5L414.4 172.2L416.4 174.4L419.8 178.7L419.4 184.7L416.6 184.7L411.8 180.8L409.0 177.6L407.3 173.3L404.8 169.0L402.6 166.8L399.4 164.0L396.6 161.4ZM418.1 186.8L419.8 184.9L424.7 185.8L429.2 187.1L434.2 187.1L437.8 188.8L438.1 190.9L432.7 190.1L428.4 189.6L424.1 189.0L420.7 188.1ZM426.2 169.0L427.5 167.9L430.5 168.8L434.8 165.3L437.0 162.5L440.2 161.0L443.0 157.1L444.7 158.2L447.7 161.0L445.6 162.9L444.7 165.7L447.3 170.0L445.2 171.1L444.5 173.9L442.4 176.5L441.7 180.8L438.1 180.0L434.8 179.1L431.6 178.7L428.8 178.4L428.4 175.4L426.7 172.8L426.0 170.5ZM448.6 184.0L450.7 184.3L450.7 178.4L452.0 178.0L455.0 182.5L456.8 182.1L453.1 176.3L457.0 174.1L452.7 174.4L451.2 173.3L452.0 171.1L457.4 170.5L461.1 168.8L459.1 171.3L453.1 171.6L450.3 171.3L449.5 172.0L447.3 178.2L448.6 179.7ZM473.1 174.4L476.7 173.1L480.0 174.1L480.6 177.6L482.1 179.3L487.5 175.4L492.9 177.4L495.0 177.8L502.5 180.4L505.8 184.0L509.0 185.5L509.6 189.4L512.2 191.8L516.1 194.6L513.3 194.4L507.9 193.9L505.8 189.6L501.5 189.0L500.2 191.6L498.2 192.2L495.0 191.8L490.7 189.6L489.0 190.3L487.7 188.3L490.1 186.8L488.6 183.8L484.3 182.1L480.0 180.6L477.8 180.8L475.7 178.4L477.8 177.4L475.7 176.3L473.9 175.4ZM510.7 184.3L514.4 183.0L517.6 181.2L519.1 181.9L517.6 184.0L514.4 185.5L510.9 185.1ZM544.4 215.7L547.7 217.4L550.9 220.2L549.8 220.6L546.6 218.7L544.4 216.6ZM436.3 219.6L437.4 219.1L440.2 217.4L443.4 216.6L447.7 215.3L452.0 214.2L454.8 209.9L457.4 207.5L460.6 204.5L464.5 201.9L467.5 204.3L470.3 204.3L472.0 200.2L473.5 198.5L477.0 197.0L478.9 197.6L485.3 198.0L486.0 200.6L483.4 204.5L486.4 206.4L491.4 209.7L494.6 209.7L496.3 204.5L496.1 199.3L498.2 195.2L500.2 199.1L501.0 203.2L504.2 204.5L504.7 208.2L506.4 213.1L511.8 215.9L514.4 219.8L516.9 223.2L521.0 227.7L522.1 233.6L520.8 238.9L518.6 242.8L516.9 245.2L514.4 251.9L514.1 252.9L510.1 253.6L506.6 256.4L503.6 254.4L502.1 254.7L496.1 254.9L492.9 252.9L492.0 250.1L489.0 248.8L489.6 246.5L488.6 243.2L487.5 246.0L486.4 248.2L486.0 245.8L488.1 242.2L485.3 244.3L483.8 247.1L482.5 245.8L480.4 242.8L475.7 241.1L473.5 240.0L469.2 240.5L462.8 241.7L458.5 243.2L457.6 245.2L453.1 245.0L448.8 246.3L445.6 247.6L442.4 247.6L439.3 246.0L440.6 243.9L440.6 240.2L439.1 235.7L437.4 231.0L435.9 229.3L436.3 225.2L435.7 223.9L436.3 221.7ZM502.7 259.8L510.7 260.3L510.7 263.1L508.5 265.9L505.8 266.1L504.0 263.1L503.0 260.9ZM563.1 246.3L565.9 248.0L568.1 251.4L570.2 253.2L574.5 253.2L575.6 255.5L572.4 256.6L571.9 258.8L568.7 261.8L567.2 261.1L568.5 259.0L565.9 257.2L567.2 255.5L567.4 252.5L563.8 248.0ZM563.1 259.4L566.6 261.1L565.5 263.7L563.3 266.1L559.9 267.8L559.0 271.0L555.8 272.5L549.8 271.2L550.9 269.1L553.7 266.9L558.4 264.3L560.6 261.5L561.6 259.4ZM450.1 122.7L451.8 124.8L454.0 119.5L453.1 117.7L451.2 119.5ZM425.4 130.9L429.5 128.9L430.5 130.0L428.4 132.8L425.6 132.4ZM466.0 168.3L467.1 170.0L468.6 171.1L467.1 172.2L468.1 173.9L466.6 173.3L466.2 170.5ZM467.1 179.1L473.1 179.5L472.4 180.6L467.5 180.0ZM462.8 178.9L465.4 179.1L464.9 180.4L463.0 180.2ZM261.4 96.8L266.4 95.3L265.1 97.7L261.8 97.5ZM242.5 95.6L248.5 96.2L247.9 96.8L243.6 96.8ZM218.6 90.2L225.5 89.7L224.4 93.2L218.6 91.2ZM209.6 84.1L212.6 83.5L213.1 87.2L211.3 88.4L210.1 87.8ZM210.5 80.7L212.2 79.6L212.4 81.8L211.8 83.1L210.7 82.2ZM697.7 68.0L699.2 72.7L698.9 78.1L697.9 80.1L698.7 85.2L699.6 87.2L702.4 90.8L703.7 93.4L706.5 97.9L711.0 99.0L713.8 101.8L714.9 104.2L716.6 107.0L718.5 108.7L720.2 111.3L719.6 112.6L721.7 114.5L723.4 116.2L724.7 119.0L727.1 121.6L729.5 122.9L730.5 121.8L728.6 120.1L726.0 116.7L724.3 111.9L721.7 108.7L719.1 104.2L722.8 104.8L724.5 108.7L727.1 112.3L730.3 115.1L733.5 118.4L737.0 122.3L739.4 125.9L738.9 128.5L741.5 131.1L746.4 133.7L751.0 136.0L755.0 137.5L758.3 138.6L761.9 137.3L765.8 138.8L769.0 142.1L772.2 142.9L776.5 143.8L777.6 144.4L779.8 146.4L781.5 148.5L781.3 150.7L783.0 151.1L785.1 152.8L787.3 154.5L790.1 154.5L792.6 156.3L793.7 155.8L794.8 153.0L796.9 153.9L798.0 156.1L799.1 158.0L799.5 162.5L798.7 166.6L796.3 169.0L793.7 171.1L792.6 174.4L793.7 177.2L791.6 181.5L790.9 184.0L793.7 187.3L795.9 190.5L799.1 197.0L801.2 201.3L803.4 204.5L807.7 207.3L812.0 209.9L814.6 211.6L815.0 217.4L814.1 222.8L813.5 230.3L812.0 235.7L811.8 243.2L809.8 248.6L807.7 252.3L807.5 258.3L807.0 262.6L805.5 265.9L803.4 272.3L803.8 276.6L803.4 284.2L815.2 292.8L823.8 290.6L819.5 284.2L818.4 279.9L820.2 277.7L824.2 275.1L820.6 271.2L824.9 269.1L825.5 266.9L827.0 263.7L829.2 263.9L826.0 260.5L831.8 259.6L832.4 256.2L841.0 255.1L842.1 253.8L843.8 250.6L842.5 248.6L839.9 246.5L841.4 246.3L847.4 247.3L850.7 245.4L852.6 243.2L856.0 237.9L861.2 233.1L861.4 228.2L863.6 225.8L866.1 223.9L870.0 222.4L873.2 221.7L875.6 220.6L877.5 218.5L879.3 215.3L881.4 210.3L882.0 200.2L885.1 195.9L888.7 192.7L890.6 188.3L890.0 184.0L885.1 182.3L881.8 179.3L877.5 178.2L871.1 177.4L865.7 174.4L861.4 174.8L858.2 173.3L857.5 171.6L856.0 167.9L855.0 163.2L850.7 160.1L846.4 159.3L842.1 158.6L837.8 154.5L834.6 153.7L831.3 149.6L828.1 149.4L823.8 149.4L819.5 149.6L816.3 147.4L813.1 147.4L810.9 146.8L808.1 147.9L805.5 148.5L803.4 149.8L801.7 152.2L799.5 153.5L798.0 152.2L794.8 151.5L791.6 153.3L789.0 152.8L786.2 148.9L785.8 145.3L786.6 140.1L784.0 138.0L779.8 138.2L776.1 138.4L775.9 134.5L777.6 130.2L778.7 125.9L775.5 125.9L771.6 127.0L771.2 129.6L770.1 131.3L766.9 132.2L762.6 133.0L759.8 131.7L758.3 129.6L756.5 127.0L755.5 123.8L755.9 118.4L756.8 114.1L757.2 111.9L761.5 109.1L764.7 108.0L769.0 108.7L773.3 109.3L773.3 107.0L776.5 106.5L780.8 107.0L785.1 107.8L787.3 109.8L788.1 113.0L789.9 115.8L791.6 117.9L793.3 117.1L793.7 114.5L792.4 110.8L790.9 106.5L791.1 103.7L793.7 101.6L796.9 99.4L800.2 97.7L803.4 96.2L801.7 92.8L802.5 91.5L804.3 89.3L806.6 86.5L806.6 84.8L810.9 83.9L815.2 82.6L815.2 82.2L813.5 80.7L815.2 78.1L819.5 76.6L822.7 75.3L823.8 77.9L829.2 76.2L834.6 74.7L836.7 73.2L834.6 71.0L828.1 68.9L828.1 64.5L836.7 62.4L845.3 60.2L836.7 43.0L707.8 32.3L686.3 53.8L697.0 64.5ZM838.2 69.7L845.3 69.7L851.7 71.7L852.6 69.9L850.7 66.7L846.4 65.6L846.4 61.1L843.1 61.5L838.8 67.8ZM783.0 125.0L785.1 123.3L788.3 122.5L792.6 122.5L798.0 124.2L802.3 126.6L806.2 128.7L803.4 129.4L799.1 129.4L799.5 127.6L796.9 125.7L792.6 125.0L789.4 124.2L786.2 124.8L783.2 125.3ZM805.5 132.6L809.2 129.4L815.2 129.8L818.9 132.2L818.0 133.0L815.2 133.0L812.0 134.3L809.2 133.2L805.8 133.0ZM797.4 132.6L801.9 133.0L800.6 133.9L797.6 133.2ZM821.2 132.4L824.7 132.6L824.7 133.4L821.2 133.4ZM630.2 129.8L632.5 130.2L631.3 131.5ZM439.1 189.6L440.6 190.3L439.6 191.1ZM441.3 190.1L442.8 190.1L442.4 191.4L441.3 191.1ZM443.0 190.5L447.7 189.6L447.9 190.9L443.4 191.6ZM449.5 190.3L456.3 189.9L455.9 190.9L449.9 191.4ZM457.4 194.4L460.6 191.6L465.6 190.3L464.9 191.1L459.6 194.2ZM447.7 192.9L451.6 193.1L451.0 194.4L448.2 193.5ZM528.3 186.8L530.5 187.9L529.4 189.4L527.9 187.9ZM533.7 189.9L537.6 192.0L536.9 193.3L534.1 192.0ZM537.3 190.3L539.1 192.2L538.4 192.9L536.9 191.1ZM538.6 194.2L540.8 194.8L540.1 195.5L538.6 194.8ZM473.3 99.0L474.6 97.7L477.8 95.8L483.2 95.6L485.3 93.0L487.1 91.5L489.6 91.7L492.0 89.3L492.9 86.1L492.6 84.4L495.4 83.3L496.1 85.0L497.2 87.2L495.0 89.7L495.0 92.5L494.6 95.1L492.4 97.1L490.7 97.7L486.4 97.7L486.0 98.4L483.8 100.1L482.1 98.4L477.8 98.1L474.6 99.0ZM476.7 101.2L477.8 101.8L480.4 100.5L481.5 98.8L478.9 98.1L476.7 99.2ZM470.5 100.5L472.4 99.2L474.6 99.9L475.7 101.2L474.4 104.6L472.9 105.5L471.8 104.8L471.6 101.8L470.7 101.6ZM492.9 82.9L495.4 82.2L500.0 81.8L504.9 79.0L504.2 76.8L501.5 77.5L496.5 74.2L496.1 78.5L493.9 79.2L492.9 80.7ZM496.9 73.2L500.4 72.7L499.3 65.6L497.2 65.6ZM451.0 132.4L454.6 132.4L454.8 135.6L453.1 138.8L453.3 141.6L458.5 144.2L458.7 145.3L456.3 143.1L452.0 142.9L451.2 141.4L449.9 140.1L449.5 137.1L450.7 136.7L451.2 132.8ZM459.1 145.3L461.7 145.9L462.1 148.5L460.6 150.7L458.5 149.4L459.6 147.4ZM454.2 146.8L456.3 148.5L456.8 150.7L455.3 151.7L454.2 149.6ZM457.0 148.7L458.5 150.2L457.4 151.5L456.3 150.2ZM452.0 145.9L453.1 143.6L450.5 143.1L451.6 145.3ZM454.2 157.1L457.0 155.4L458.5 154.5L461.7 151.1L463.8 154.5L463.2 158.2L461.5 160.1L458.9 158.4L454.8 157.6ZM443.9 154.1L448.8 149.6L449.2 147.7L446.7 150.7Z" fill="#808080" stroke="#fff" stroke-width="2.4" stroke-linejoin="round" paint-order="stroke"/>
<g clip-path="url(#bsA)"><use href="#fldA"/></g>
<path d="M293.0 74.2L297.3 71.9L302.7 71.0L305.9 71.7L306.1 74.7L302.7 76.4L301.6 77.9L304.8 80.7L305.5 83.5L307.6 85.2L305.9 87.2L307.0 91.5L302.7 93.0L299.4 91.7L297.3 89.7L298.4 85.4L296.2 82.2L294.1 79.6L294.1 76.4ZM317.1 72.1L319.9 72.5L322.9 74.2L323.3 76.8L320.5 78.5L317.5 77.9L317.1 74.9ZM767.7 71.7L772.2 71.9L776.5 72.1L779.8 72.1L783.8 72.1L783.4 69.9L780.8 67.8L774.4 67.8L767.9 71.0ZM777.0 81.3L777.6 78.5L777.4 76.4L778.7 74.2L780.8 73.4L782.3 74.2L781.3 76.4L780.4 78.5L779.8 81.3ZM784.0 73.4L786.2 72.9L790.5 73.4L792.6 74.7L793.3 76.2L790.9 76.2L790.1 78.3L788.6 79.6L788.1 78.3L786.4 77.7L786.6 76.2L784.9 74.7ZM786.4 82.4L789.4 82.9L793.7 81.6L795.9 80.1L792.6 80.5L788.3 81.6ZM794.1 79.0L798.0 78.9L801.7 78.5L801.9 77.3L799.1 77.7L795.0 78.1Z" fill="#ffffff"/>
<line x1="320.9" y1="68.8" x2="320.9" y2="277.7" stroke="#000" stroke-width="1" stroke-dasharray="1.5,1.5" opacity="0.85"/>
<line x1="449.9" y1="68.8" x2="449.9" y2="277.7" stroke="#000" stroke-width="1" stroke-dasharray="1.5,1.5" opacity="0.85"/>
<line x1="578.8" y1="68.8" x2="578.8" y2="277.7" stroke="#000" stroke-width="1" stroke-dasharray="1.5,1.5" opacity="0.85"/>
<line x1="707.8" y1="68.8" x2="707.8" y2="277.7" stroke="#000" stroke-width="1" stroke-dasharray="1.5,1.5" opacity="0.85"/>
<line x1="836.7" y1="68.8" x2="836.7" y2="277.7" stroke="#000" stroke-width="1" stroke-dasharray="1.5,1.5" opacity="0.85"/>
<line x1="195.3" y1="107.6" x2="962.5" y2="107.6" stroke="#000" stroke-width="1" stroke-dasharray="1.5,1.5" opacity="0.85"/>
<line x1="195.3" y1="172.2" x2="962.5" y2="172.2" stroke="#000" stroke-width="1" stroke-dasharray="1.5,1.5" opacity="0.85"/>
<line x1="195.3" y1="236.8" x2="962.5" y2="236.8" stroke="#000" stroke-width="1" stroke-dasharray="1.5,1.5" opacity="0.85"/>
</g>
<rect x="195.3" y="68.8" width="767.2" height="208.9" fill="none" stroke="#333" stroke-width="1.3"/>
<text x="578.9" y="63.2" font-size="27.2" text-anchor="middle">Seasonal EOF 1 OC-CCI</text>
<text x="187.4" y="115.2" font-size="25.3" text-anchor="end">30°N</text>
<text x="187.4" y="179.8" font-size="25.3" text-anchor="end">0°</text>
<text x="187.4" y="244.4" font-size="25.3" text-anchor="end">30°S</text>
<text x="320.9" y="304.6" font-size="25.3" text-anchor="middle">60°E</text>
<text x="449.9" y="304.6" font-size="25.3" text-anchor="middle">120°E</text>
<text x="578.8" y="304.6" font-size="25.3" text-anchor="middle">180°</text>
<text x="707.8" y="304.6" font-size="25.3" text-anchor="middle">120°W</text>
<text x="836.7" y="304.6" font-size="25.3" text-anchor="middle">60°W</text>
</g>
<g transform="translate(0,329.7)">
<clipPath id="clipC"><rect x="195.3" y="68.8" width="767.2" height="208.9"/></clipPath>
<clipPath id="bsC"><path d="M251.1 80.7L252.2 78.5L253.9 76.4L256.5 74.2L259.7 71.9L264.0 73.2L261.8 74.5L264.0 76.4L267.2 75.7L270.4 74.9L273.7 71.4L276.5 70.6L274.7 73.2L272.6 74.5L273.7 76.4L276.9 78.3L281.2 81.8L278.0 83.9L273.7 84.1L269.4 82.4L265.1 81.8L260.8 82.4L256.5 83.5L254.3 83.5Z"/></clipPath>
<g clip-path="url(#clipC)">
<g id="fldC"><rect x="185" y="60" width="790" height="225" fill="#f4f5f5"/><path fill="#e9f2f1" fill-rule="evenodd" d="M165 51l0 -3l3 6l-3 0zM213 51l1 -3l23 0l4 6l4 13l-2 13l6 7l0 19l3 8l1 1l1 -4l4 -3l8 2l3 -2l3 -5l10 0l6 3l1 2l-3 6l5 5l-1 5l-10 3l-6 -2l-4 7l2 2l0 2l-4 -2l-1 -2l-6 -2l-16 1l-5 3l1 6l-6 7l-6 2l-9 -7l-4 -9l-6 -3l-5 -7l-5 -2l-3 1l-1 2l1 11l-8 0l-2 2l-1 4l-2 0l-6 4l-8 2l-1 3l4 4l5 -5l2 4l-2 3l-2 3l-6 -1l-5 2l0 -27l1 -4l-1 -6l3 -2l5 3l3 7l5 -2l1 -2l-6 -9l-8 3l-3 -3l0 -47l3 3l5 1l7 12l-3 6l1 6l8 -2l8 3l4 -2l2 -7l2 0l3 -1l4 -5l1 -11l3 -2l0 -3l-3 -5l-5 -3l3 -5l2 1l1 -1zM237 57l-1 2l0 2l4 2l1 -2l0 -2zM333 51l2 -1l1 1l-1 1zM348 48l4 0l-3 3zM462 48l43 0l3 1l2 2l-4 8l6 5l1 3l-2 3l-7 2l-1 3l-3 2l0 5l3 2l1 3l0 8l-9 2l-4 4l-1 6l-8 1l1 3l4 4l8 -1l3 2l2 -1l3 -3l9 -17l3 -15l-2 -6l6 0l4 -2l-5 -8l1 -3l5 -2l2 -8l-1 -3l21 0l1 3l1 0l3 -3l80 0l-8 4l-8 0l-2 2l-1 2l3 4l10 0l8 -8l2 -4l11 0l-3 11l1 2l5 -3l1 3l-1 3l-5 4l-3 5l-13 4l-11 -9l-3 4l0 2l6 8l3 8l2 3l3 1l11 -4l5 2l10 11l3 5l5 6l1 10l-3 0l-3 -2l-5 5l-8 1l-5 2l-3 0l-11 -3l-8 -7l-32 3l-10 -2l-8 6l1 5l-9 9l-5 -7l-8 -2l-3 2l0 3l4 3l2 7l0 8l-3 5l-5 3l-1 3l4 8l7 7l8 2l32 0l13 2l3 4l4 11l6 4l8 10l3 2l11 2l3 2l-6 7l-8 2l-6 -1l-3 3l4 4l10 2l8 -6l6 1l8 -4l8 3l5 -3l6 5l1 8l1 3l11 5l13 -2l7 -6l3 -5l6 -3l5 4l5 -1l4 5l7 5l21 0l5 6l2 8l0 13l-2 2l1 3l2 0l3 -4l5 -4l8 3l7 7l1 3l-4 5l5 8l-26 0l-1 -1l-4 1l-59 0l-1 -6l-3 1l1 5l-20 0l1 -3l-5 3l-5 0l-4 -8l-2 -2l-3 0l-4 2l3 8l-14 0l1 -5l-5 -5l-6 -11l-2 -1l-5 0l-3 -5l-5 5l-5 1l0 3l1 5l-1 5l2 8l-4 0l-1 -2l-3 0l0 2l-14 0l0 -3l4 -7l-3 -6l-1 -5l-12 -7l-2 -8l-4 -7l-10 -7l-3 -3l-5 0l-8 -1l-12 -6l-2 -3l-3 -10l-1 -8l-3 -5l-8 -4l-1 -6l-7 -4l-8 0l-6 2l-2 -1l0 -3l1 -2l-1 -2l-6 0l-1 2l-1 5l-6 5l-1 3l4 4l6 1l-1 3l-7 2l5 5l0 3l0 3l-6 2l3 16l-8 8l-3 1l-2 0l-2 -4l0 -5l-4 -5l0 -6l1 -2l-1 -5l1 -6l-3 -5l-3 -2l-8 0l-5 -7l-8 -1l-6 -4l-5 2l-8 -6l-13 -1l-5 -2l-7 -5l-6 -8l3 -5l0 -2l-5 -6l4 -2l5 1l8 0l16 -5l7 4l4 6l5 -1l3 0l8 -5l2 1l3 -1l0 -3l-3 -2l-2 1l-2 -7l2 -5l-2 -3l4 -7l-3 -11l-5 -1l-1 1l2 5l-1 3l-2 1l-11 -1l-2 -3l2 -3l5 0l5 -4l0 -6l-3 -2l0 -3l9 -6l8 4l5 -11l6 -8l2 -1l2 1l-1 3l2 1l3 0l2 -3l3 0l3 3l1 -1l-1 -3l-6 0l-6 -8l-8 -2l-2 -26zM484 134l-2 0l0 3l2 -1l1 -2zM495 132l-4 2l4 3l2 -3zM506 134l-2 3l4 2l7 -5l-4 -2zM663 272l-2 3l4 2l2 -2l0 -2zM769 282l-1 1l-1 3l2 2l3 0l1 -2l-1 -3zM463 201l-3 4l3 2l3 -2zM707 48l4 0l5 4l10 1l3 -2l0 -3l7 0l-1 6l7 11l5 -4l1 -5l-7 -8l32 0l-3 11l2 5l4 5l-2 13l1 3l13 12l13 1l5 3l6 2l3 8l-3 6l-10 4l0 6l7 4l5 0l6 4l5 -1l13 8l8 -6l6 1l10 1l5 -3l5 -6l9 -7l3 -8l0 -3l-5 -5l0 -8l-4 -7l-2 -3l-6 1l-7 -7l1 -8l-4 -4l-6 -1l1 -10l-1 -3l-5 -2l1 -6l97 0l-4 8l1 3l1 10l9 8l2 5l2 0l6 -3l1 1l2 2l-3 3l-4 0l-2 -2l-2 4l-3 0l3 1l5 10l5 2l2 -2l0 -3l1 -2l4 -3l1 -3l3 1l9 -11l0 -5l4 -8l-2 -16l8 0l0 94l-11 -5l-3 -5l-5 3l-3 -2l-8 0l-5 9l-7 0l-1 8l3 5l-5 5l0 3l7 8l11 -2l13 5l6 -2l2 4l6 3l0 16l-2 2l2 1l0 8l-6 1l-10 5l-6 -1l-2 -1l-8 -12l-3 -1l-13 6l-16 2l-6 -2l-2 0l-6 1l-5 3l-5 -2l-3 0l-8 6l-5 2l0 2l0 5l2 2l9 4l3 5l7 0l5 3l6 -1l2 2l3 4l8 0l5 4l2 -2l0 -5l1 -1l5 1l6 -2l5 2l5 7l0 3l-2 4l-6 0l-8 4l-2 3l2 3l14 1l5 6l5 0l3 6l3 0l-3 -6l5 -4l2 4l4 3l8 0l0 26l-31 0l-4 -5l0 -3l2 -2l-2 -6l0 -2l-4 -5l-7 -5l-2 0l-8 5l-6 -7l-4 -1l6 -5l0 -3l-3 -3l2 -5l-1 -3l-2 -1l-3 1l-5 6l-11 -4l-13 0l-6 2l-5 -2l-8 -4l-1 -3l1 -10l3 -5l-3 -2l-8 -1l-8 -5l-5 -5l-11 -1l-3 6l-2 1l-16 -5l-13 3l-2 1l-2 2l-3 11l4 4l13 6l2 5l-4 6l-6 -1l-5 4l-5 0l-8 -5l-8 0l-9 -6l-18 -17l-5 0l-3 -7l-3 -1l-13 3l-6 6l-3 -8l-1 -20l-9 -2l-7 4l-2 -5l-3 -5l-1 -5l-10 -8l2 -3l6 -2l5 3l18 5l6 -3l8 0l6 5l1 3l-2 5l3 6l2 0l6 -1l8 3l10 -6l14 -2l21 4l11 -2l8 3l8 -3l2 1l6 -2l4 -4l2 -2l-1 -3l-8 0l-1 -3l1 -2l3 -2l2 1l8 -4l4 -16l-1 -4l-11 3l-5 -3l-11 1l-5 6l-4 2l3 3l0 2l-4 3l-8 -1l-3 -1l-3 -6l-8 -3l-7 -7l-6 -1l-3 -2l-2 -3l-3 -8l-8 -5l-8 -2l-5 -5l-7 0l-2 -3l0 -5l0 -5l-2 -3l-3 -1l-1 -7l1 -5l3 1l2 -1l2 -5l-2 -6l5 -5l-7 -7l-3 -1l-1 -2l1 -3l-2 -2l-6 2l-2 -2l1 -6l-4 -1l-5 0l-6 -4l-2 0l-2 3l3 5l-1 2l-3 1l-8 -2l-1 -1l2 -3l4 -2zM814 163l0 1l3 -1zM942 143l-1 4l1 3l3 1l4 -4l-4 -4zM966 121l-8 2l0 4l13 2l1 -2l-1 -3zM969 112l-1 2l3 5l1 -5zM971 100l-2 1l2 1l2 -1zM742 201l0 3l4 1l1 -3l-2 -2zM753 204l-2 3l2 4l3 0l1 -4l-1 -2zM841 196l-2 1l2 0zM857 180l-2 1l2 1zM942 167l-2 4l2 1l3 -1l1 -3l-1 -1zM721 48l4 0l-1 2zM778 48l5 0l-3 2zM265 56l1 -1l3 1l-3 2zM350 59l4 -2l2 2l-1 2l-4 0zM701 69l2 -1l3 4l-3 3l-3 -3zM345 72l4 2l0 3l-6 11l-1 -1l1 -7l-1 -6zM330 74l3 -1l3 1l-4 6l2 5l3 2l0 3l-4 3l5 8l3 2l-3 11l3 5l0 2l-6 -1l-2 1l-3 19l-3 4l-6 3l2 6l5 2l0 3l-1 2l-2 2l-6 0l-2 1l-11 10l-8 -4l-3 3l-7 -2l-6 2l-2 -2l-3 0l-5 3l-3 1l-5 -2l-6 2l-8 -2l-4 -12l4 -10l3 -2l1 7l2 4l4 -1l4 -5l5 0l8 -3l5 3l6 -4l21 3l4 -5l1 -6l9 -4l1 -3l-3 -7l5 -8l-7 0l-3 -3l0 -2l5 -6l1 -2l-8 -13l2 -6l8 -7l1 -3zM304 80l2 -1l3 3l-3 2l-2 -2zM305 90l4 3l-3 3l-2 -3zM741 95l1 -2l2 2l-2 3zM364 98l1 0l0 4zM305 101l5 2l-1 3l-3 2l-8 2l0 -4zM726 108l3 2l0 4l-3 0l-2 -3zM688 114l2 0l1 7l-2 3l-3 0l-1 -8zM366 121l5 0l-3 3l-3 1l-2 -1zM363 132l4 -2l6 2l1 5l-1 3l-3 1l-5 -1l-2 -6zM276 140l1 -2l2 2l-2 1zM401 155l1 -1l1 1zM165 163l0 -2l1 5l7 2l7 6l4 1l8 -3l5 1l5 -3l6 1l5 2l5 -3l3 0l7 6l-11 3l0 8l4 3l16 -1l8 2l5 -1l4 2l-6 1l-4 12l-2 1l-8 -3l-2 1l-3 3l-8 -3l-3 0l-8 5l-5 0l-5 4l-3 1l-5 -4l-3 -12l-11 -1l-5 5l-8 0zM325 171l5 -1l8 4l5 -2l14 0l10 6l3 0l3 -4l2 0l3 4l3 0l2 -4l1 0l-1 10l-2 1l-11 -3l-13 6l-6 -4l-8 0l-5 -2l-13 0l-6 -6l0 -2zM298 205l3 -2l16 1l10 3l11 0l8 4l9 12l4 3l1 2l0 3l-6 4l-11 2l-10 1l-6 6l-8 1l-5 5l-11 0l-5 3l-3 -1l-2 -2l-4 -1l-4 3l-8 3l-3 3l-2 0l-1 -4l4 -2l-2 -6l1 -2l5 -11l7 -10l1 -10l6 -4zM974 215l1 0l-1 1zM648 223l1 -2l3 1l1 1l-1 4zM165 228l0 -1l2 1l1 5l2 2l19 1l4 8l-4 7l-5 -1l-3 -3l-7 5l2 8l-4 10l-7 5zM441 231l6 -1l5 8l3 8l-3 3l2 8l-1 3l-6 2l-5 -4l-8 3l-8 -4l-8 -1l-3 1l-5 8l0 2l5 6l6 2l1 5l-1 5l-6 4l-8 3l-4 4l-6 0l-3 -2l-2 2l-16 0l3 -3l1 -2l0 -3l-4 -5l0 -5l6 -3l2 -2l-3 -3l-11 2l-10 -5l-2 -2l4 -5l-1 -3l2 -3l18 -9l2 -1l6 1l5 -5l5 -1l16 2l6 2l2 -1l4 -6l-1 -3l3 0l2 3l3 -1zM402 271l-2 7l2 1l8 -4l0 -2zM931 231l3 -1l3 3l-3 4l-5 -4zM831 246l5 0l0 3l-8 2l-2 -2l2 -1zM186 260l3 -3l4 13l1 1l7 -6l4 -1l8 1l3 6l8 2l3 2l0 5l4 3l1 3l-6 5l0 2l6 -2l1 2l-1 3l-49 0l-1 -8l2 -1l5 1l0 -5l2 -5l-7 -8l-1 -8zM249 267l1 -1l5 9l3 1l6 -6l1 10l-1 2l-6 -1l-4 5l1 2l9 5l0 3l-20 0l3 -5l-1 -18zM313 267l6 -1l4 1l2 21l5 5l0 3l-26 0l3 -5l1 -5l-7 -6l0 -2l6 -8zM444 278l3 0l0 4l-3 1l-1 -3zM165 288l0 -2l3 10l-3 0zM910 288l3 -2l2 2zM867 296l3 -2l4 2z"/><path fill="#ddefed" fill-rule="evenodd" d="M165 51l0 -1l1 1l-1 3zM215 48l22 0l3 4l0 4l-3 1l-2 2l2 5l3 0l2 -2l2 5l-2 13l6 7l0 19l2 10l3 1l2 -6l3 -2l6 2l5 -1l5 -7l11 1l3 4l-4 8l6 3l-2 5l-8 2l-6 -1l-5 6l-16 -5l-4 3l-9 3l0 8l-6 7l-5 2l-8 -7l-5 -10l-6 -2l-2 -5l-5 -4l1 -5l-2 -1l-2 1l-1 3l-4 2l1 13l-8 0l-10 10l-8 1l-2 5l2 3l7 2l-12 4l0 -25l2 -5l-2 -5l3 -1l3 1l5 8l6 -3l1 -2l-7 -10l-11 1l0 -46l3 3l5 1l6 11l-3 6l2 8l8 -3l6 3l5 -1l2 -2l1 -6l5 -1l3 -4l4 -13l3 -2l-2 -10l-6 -1l1 -3l2 3zM189 118l0 2l4 -1zM192 105l-1 3l1 1l2 -1zM463 48l40 0l6 3l-1 3l-2 2l-3 1l0 2l5 2l3 3l1 3l-3 2l-6 3l-4 5l-1 3l2 5l4 2l-1 8l-5 -1l-7 7l-1 5l-6 0l-3 2l1 3l5 5l8 -1l3 2l2 -1l3 -3l10 -18l2 -18l1 -2l6 -1l2 -2l-1 -3l-4 -2l0 -3l0 -3l7 -2l-1 -11l20 0l-2 4l-3 2l6 6l3 -1l-4 -5l6 -2l1 -4l17 0l1 3l2 1l2 -4l42 0l-4 6l-1 2l4 5l1 0l-3 13l4 8l3 2l2 6l3 4l3 1l10 -5l3 1l13 12l2 5l5 6l2 9l-3 0l-3 -2l-2 1l-3 4l-8 1l-8 3l-11 -3l-8 -7l-32 3l-10 -2l-9 6l1 5l-8 7l-3 -5l-12 -2l-2 2l0 3l3 3l3 7l0 8l-2 4l-6 3l-1 4l5 8l4 5l11 5l32 -1l13 2l3 4l1 5l3 6l6 5l8 10l3 2l10 1l3 2l-5 6l-5 2l-8 -1l-6 3l-2 -1l-2 2l4 2l16 4l3 0l5 -5l6 1l8 -4l8 3l5 -3l6 4l0 8l2 4l6 1l5 4l13 -3l7 -6l4 -5l5 -2l5 4l5 -1l6 7l5 3l21 -1l4 6l3 8l-3 15l2 4l2 1l1 8l5 1l2 -3l-1 -3l-6 -3l2 -5l5 -3l6 0l9 8l0 3l-4 5l2 5l3 3l-24 0l-2 -2l-4 2l-58 0l0 -5l2 -3l-1 -8l-4 8l-3 3l1 5l-18 0l1 -3l-1 -2l-6 4l-3 1l-5 -9l-2 -2l-5 1l-3 2l4 8l-13 0l2 -5l-7 -5l-6 -11l-2 -2l-5 0l-3 -4l-11 6l2 8l-8 13l-13 0l1 -3l5 -7l6 3l1 -1l-1 -2l-3 -2l-3 1l-4 -5l-1 -5l-13 -7l-4 -14l-12 -9l-3 -3l-8 0l-17 -6l-2 -3l-3 -10l0 -8l-4 -6l-9 -4l1 -8l-11 -1l-11 1l-1 -3l2 -2l-1 -3l-10 0l0 7l-6 3l-1 3l-1 3l2 3l7 2l0 3l-8 2l6 5l0 3l-6 5l3 8l0 5l-8 11l-2 1l-2 -1l-1 -8l-5 -5l0 -6l2 -2l-2 -5l1 -6l-3 -7l-3 -2l-5 1l-3 -1l-5 -5l-3 -2l-5 -1l-6 -4l-5 3l-8 -6l-10 0l-8 -3l-6 -4l-2 -2l0 -4l-4 -2l2 -7l-4 -6l3 -2l13 2l6 -3l5 0l5 -2l6 3l5 7l8 -1l5 -4l3 -1l2 1l4 -2l-1 -4l-5 -4l1 -8l-2 -3l4 -7l-3 -8l-1 -3l-4 -2l-6 -8l1 -3l7 -5l8 4l5 -11l3 6l2 -2l0 -2l-4 -3l5 -6l5 3l8 -2l3 2l2 -2l-2 -4l-6 0l-2 -2l-3 -5l-8 -2l-3 -26zM482 134l-1 3l1 1l2 -1l3 -3l-3 -1zM492 131l-2 3l5 4l1 -1l2 -3l-2 -2zM511 132l-5 1l-3 4l3 2l2 0l8 -5zM663 271l-2 2l-1 2l5 2l3 -2l0 -2l-3 -2zM668 282l0 2l3 0l3 -1zM679 282l-2 1l2 3l0 -3zM463 199l-4 6l4 4l4 -4l-1 -4zM636 48l9 0l-3 11l-2 2l4 3l3 -3l1 0l-7 11l-2 2l-11 2l-8 -7l-1 -5l1 -2l5 -1l8 -8zM708 48l3 1l7 5l-5 4l-2 -2zM730 48l5 0l0 6l5 10l-6 3l0 -6l-2 -2l-3 -2l-5 3l-4 -4l1 -2l5 1l3 -1zM742 48l31 0l-1 6l-3 2l0 3l2 5l5 5l-1 8l-2 5l1 5l3 1l11 10l13 0l5 4l5 1l3 8l-2 5l-11 5l0 6l8 5l5 0l6 3l5 -1l13 9l8 -7l6 2l10 0l5 -2l6 -7l8 -5l4 -10l-1 -3l-4 -5l0 -8l-5 -8l-2 -2l-6 -1l-6 -5l-1 -2l1 -6l-8 -7l1 -3l-1 -8l-5 -2l-1 -3l1 -3l6 1l2 -1l87 0l-3 6l0 5l-4 5l0 8l3 2l3 -2l3 1l5 4l1 5l-4 4l0 4l6 2l5 8l13 4l3 -2l0 -2l-3 -2l-2 2l-3 -5l8 -5l9 -10l1 -8l4 -8l-2 -16l7 0l0 94l-9 -5l-1 -3l2 -2l0 -3l-3 0l-8 4l-2 -1l1 -5l-3 -6l2 -2l1 -5l-2 -2l-5 -1l2 8l-5 1l-2 -1l0 -3l-3 0l-1 3l1 2l-7 6l2 1l8 -1l5 2l0 3l-3 0l-5 9l-5 -1l-6 4l-5 -2l-2 5l2 4l8 0l3 4l-6 5l0 3l7 8l7 1l8 -1l10 4l6 -2l1 3l7 4l0 14l-3 0l0 3l3 2l0 7l-6 1l-10 4l-6 0l-2 -1l-8 -13l-3 -1l-14 6l-13 3l-2 0l-8 -3l-6 1l-5 3l-5 -2l-6 2l-5 4l-5 1l-1 4l1 5l2 3l8 3l3 5l8 1l5 3l6 -1l5 6l8 0l3 4l3 0l2 -7l5 0l6 -2l5 3l4 6l0 2l-1 3l-6 -1l-8 5l-3 4l1 3l16 2l3 5l7 2l3 6l3 -1l2 -4l-3 -3l3 -3l1 3l2 3l11 1l0 25l-30 0l-4 -5l2 -8l-3 -8l-8 -6l-5 -2l-8 5l-4 -5l-4 -2l5 -5l0 -3l-2 -3l1 -5l-2 -3l-5 -1l-8 5l-5 -2l-16 -1l-6 2l-5 -2l-6 -3l-2 -3l1 -10l3 -5l-4 -3l-6 0l-9 -5l-6 -6l-3 0l-8 -1l-5 7l-16 -4l-13 2l-3 2l-5 10l2 5l14 8l3 3l-3 6l-8 1l-4 3l-3 0l-4 -3l-13 -2l-3 -2l-12 -8l-12 -13l-5 -1l-3 -6l-3 -1l-5 3l-8 0l-5 7l-4 -8l1 -10l-2 -5l3 -5l-12 -2l-5 3l-2 0l-5 -9l0 -5l-8 -6l-2 -2l2 -3l5 -1l5 3l18 5l6 -3l8 0l2 1l4 6l-2 5l2 5l-5 5l1 3l3 1l4 -6l7 -2l8 3l10 -7l11 -1l13 1l11 3l11 -3l8 5l8 -4l5 4l1 -5l4 -2l4 -5l-1 -8l3 -1l1 3l4 2l2 -2l-6 -5l3 -5l1 -7l3 -6l0 -3l-3 -3l-8 4l-8 -3l-11 1l-8 7l-2 1l-6 -1l-2 2l2 5l6 -4l2 2l1 2l-6 2l-6 -2l-5 -6l-7 -2l-1 -2l-8 -6l-5 -1l-3 -2l-5 -11l-8 -5l-8 -2l-5 -5l-6 1l-2 -3l0 -10l-6 -7l0 -4l0 -2l7 -3l1 -5l-2 -6l5 -2l0 -3l0 -2l-3 -1l-5 -7l-1 -5l4 -5l2 -6zM942 166l-2 2l0 3l2 2l4 -2l1 -3l-2 -2zM753 203l-2 2l0 5l2 2l3 0l2 -5l-2 -3zM707 61l4 -1l2 1l1 3l-8 0zM702 69l3 3l-2 2l-2 -2zM343 74l3 -1l2 1l1 3l-3 4l-3 -3zM328 77l2 -1l2 1l-1 5l4 5l-3 6l0 2l8 8l-1 8l-5 3l2 2l4 3l-2 1l-2 -1l-1 -2l0 2l-4 2l0 6l-1 5l0 8l-3 3l-7 4l2 6l5 4l-1 3l-4 2l-3 -1l-13 11l-8 -4l-3 4l-7 -3l-6 2l-2 -1l-11 3l-5 -2l-6 3l-2 0l-6 -3l-4 -11l4 -9l6 9l5 -2l3 -4l5 0l8 -3l8 4l0 4l3 -9l21 4l5 -7l0 -5l10 -5l1 -3l-4 -7l1 -3l5 -3l0 -2l-2 -2l-6 1l-2 -2l0 -2l5 -6l0 -2l-7 -13l2 -4l10 -9zM957 82l4 -2l1 2l-1 2zM302 103l4 -2l3 2l-3 5l-5 0l-2 -2zM688 121l1 -2l0 4zM441 129l1 -1l2 6l-2 4l-6 -2l-2 1l-4 -3l1 -2l3 0l2 2l1 -2zM364 132l3 -1l6 2l1 4l-2 3l-2 1l-4 -1l-2 -6zM177 153l1 -1l0 2zM168 168l4 0l12 7l2 1l6 -3l5 0l5 -2l6 0l5 3l3 -1l2 -3l3 1l3 5l-8 3l0 8l8 7l8 -4l5 0l7 2l3 2l-4 11l-11 -2l-3 3l-3 0l-5 -3l-3 0l-8 5l-5 0l-5 5l-3 0l-4 -3l-1 -3l0 -5l-3 -5l-11 0l-5 4l-8 1l0 -32zM326 171l6 0l3 4l3 0l5 -2l14 0l10 6l3 0l3 -4l2 0l3 6l3 1l-3 1l-8 -2l-4 3l-7 0l-2 2l-6 -2l-8 0l-5 -3l-12 0l-6 -5l0 -2zM843 179l2 0l1 2l-2 3l-3 -1l-1 -2zM299 205l2 -1l16 0l8 3l13 0l8 6l13 16l-4 4l-12 4l-10 1l-6 5l-8 1l-8 6l-8 0l-5 2l-8 -4l-3 1l-2 3l-5 1l-6 -5l0 -4l5 -11l8 -10l0 -10l6 -2zM165 228l2 3l1 4l2 1l19 1l3 7l-1 2l-5 4l-2 -1l-3 -4l-8 7l1 8l-4 10l-5 5zM442 231l5 0l5 8l2 5l-3 5l2 8l-1 3l-5 1l-5 -3l-8 2l-8 -3l-11 -1l-6 9l-1 5l-6 -1l-3 9l3 3l10 -6l1 -2l6 2l2 3l0 2l-6 8l-10 4l-3 4l-4 0l-1 -4l-5 1l-1 3l-14 0l3 -3l1 -5l-5 -8l1 -2l6 -3l2 -2l-4 -4l-14 1l-6 -3l-2 -2l4 -5l-1 -3l1 -3l10 -3l8 -5l8 -1l5 -4l5 -1l16 2l6 2l2 -2l3 -4l10 -3zM933 231l3 2l-2 2l-4 -2zM185 262l4 -2l1 2l1 8l-2 3l-4 -3zM202 265l11 1l3 5l8 2l2 2l0 5l4 3l1 3l-6 5l-2 5l-39 0l-1 -8l6 2l1 -7l3 -5l-1 -3zM250 267l4 8l4 3l0 2l-5 6l0 2l9 5l1 3l-18 0l2 -3l1 -13l-2 -7zM314 267l7 0l3 13l0 8l3 3l2 5l-24 0l6 -10l-8 -6l-1 -2l6 -8zM444 280l0 -1l3 1l-3 2zM165 288l2 8l-2 0zM614 293l2 3l-2 0zM225 296l4 -2l1 2zM868 296l2 -2l3 2z"/><path fill="#d2ede9" fill-rule="evenodd" d="M216 48l20 0l3 6l-5 5l3 6l5 0l1 2l-2 13l7 9l-2 17l4 12l3 1l2 -3l1 -2l2 -4l6 1l5 0l3 -2l2 -4l3 -1l5 2l3 -1l3 3l-6 8l6 3l0 4l-8 2l-6 -1l-5 6l-3 0l-10 -5l-8 1l-3 3l-8 3l0 2l3 3l-1 3l-7 7l-3 1l-7 -6l-6 -10l-5 -3l-7 -8l1 -5l-3 -2l-8 4l-5 -2l-2 3l1 2l6 1l1 2l-1 10l-8 -1l-6 9l-10 2l-3 6l5 5l-7 3l0 -24l2 -2l1 -8l4 3l2 5l2 1l8 -4l0 -2l-8 -10l-11 0l0 -44l3 2l5 2l5 10l-3 6l2 8l1 1l8 -2l3 10l5 1l2 -5l-2 -3l8 -5l-1 -3l7 -8l4 -10l4 -3l0 -2l-3 -13zM463 48l39 0l6 3l0 3l-2 1l-5 1l1 3l6 3l3 5l-8 4l-5 6l-1 3l2 5l4 3l0 5l-7 0l-6 8l-1 5l-5 -1l-3 3l2 6l4 2l5 0l6 1l5 -3l12 -21l-1 -3l2 -14l6 -1l3 -3l1 -3l-4 -1l-3 -4l3 -3l5 0l-1 -13l17 0l-5 3l1 3l7 8l10 1l6 -2l-2 -2l-8 -3l-1 -2l2 -6l14 0l1 6l2 1l4 -1l2 -6l39 0l-4 6l0 2l3 8l-2 8l2 8l-1 2l5 3l3 5l4 5l3 0l11 -4l2 0l12 12l2 5l5 6l2 7l-2 1l-3 -2l-2 1l-3 4l-16 5l-11 -4l-8 -7l-16 2l-5 -1l-11 2l-10 -2l-10 7l-1 5l-4 5l-4 -5l-13 0l-3 5l7 10l0 8l-1 3l-6 3l-1 5l4 8l5 6l11 4l32 0l13 2l6 14l7 5l8 10l3 2l9 1l3 2l-4 5l-5 2l-3 1l-5 -1l-6 1l-5 0l-2 3l5 3l18 4l3 -1l5 -4l6 0l8 -2l8 2l5 -3l5 3l0 8l3 5l5 1l6 3l13 -2l8 -6l4 -6l4 -2l5 4l5 0l5 6l6 4l8 0l5 -2l6 0l5 6l3 8l-2 15l4 15l6 0l3 -4l-1 -3l-5 -3l0 -3l5 -4l6 0l8 7l0 3l-4 5l3 8l-21 0l-2 -3l-3 1l-2 2l-56 0l2 -10l-2 -7l-3 1l-2 8l-4 3l2 5l-16 0l1 -3l-2 -5l3 -5l-3 -2l-10 -1l-2 -2l3 -5l-5 -3l-6 3l-1 2l8 5l-1 3l-9 3l-3 2l4 5l1 3l-12 0l3 -5l-7 -5l-6 -11l-3 -2l-5 -1l-3 -4l-12 7l2 8l-3 3l-3 0l-4 -3l-6 -2l-3 -8l-12 -6l-4 -13l-16 -13l-8 1l-16 -6l-3 -3l-2 -10l-1 -8l-3 -5l-8 -5l-1 -2l1 -6l-1 -2l-3 1l-19 -1l2 -6l-2 -2l-5 2l-5 -1l-2 1l2 5l-3 3l-3 0l-4 5l0 3l7 5l-6 5l7 5l0 3l-7 5l4 8l0 5l-8 11l-1 0l-2 -3l1 -3l-1 -2l-5 -5l-1 -3l3 -5l-2 -5l1 -8l-5 -8l3 -5l-2 -5l-3 -2l-3 1l-2 6l2 5l-2 1l-11 -8l-5 -1l-6 -5l-5 4l-8 -6l-8 1l-6 -2l-7 -3l-4 -4l0 -3l-3 -3l1 -7l-4 -6l2 -1l13 2l6 -3l5 0l5 -2l7 4l1 7l5 -3l6 0l5 -4l6 0l4 -2l0 -3l-6 -5l-1 -3l2 -5l-2 -3l3 -7l-3 -11l-2 -2l-1 -7l-5 -1l-1 -3l3 -3l3 0l8 4l5 -9l2 3l2 0l2 -3l-1 -5l1 -4l5 1l8 -1l5 3l2 -1l-4 -7l-6 -1l-5 -6l-6 -2l-1 -3l-3 -23zM490 131l-8 2l-2 4l2 2l5 -4l3 0l5 3l4 -4l-1 -2l-3 -1zM508 132l-6 5l3 3l3 0l10 -6l-4 -2zM577 57l-1 2l1 2l2 -2zM596 59l3 2l0 -2l0 -1zM607 82l-2 3l2 2l4 -2zM636 51l1 -3l8 0l-4 11l-3 2l5 6l-2 5l-2 1l-11 2l-7 -8l1 -3l3 -1l5 -7l3 -1zM710 51l1 -1l4 4l-2 2l-2 -1zM732 48l1 0l1 11l-3 -3zM743 48l29 0l0 5l-4 3l0 3l7 10l0 8l-3 10l5 3l11 9l13 0l8 5l4 7l-2 5l-11 5l1 6l2 2l6 4l5 0l3 2l8 0l13 8l8 -6l6 3l10 -1l5 -2l6 -7l8 -5l5 -11l-1 -3l-4 -5l-1 -8l-5 -9l-2 -2l-6 -1l-5 -4l-1 -2l1 -6l-6 -7l1 -4l-3 -7l-5 -4l0 -2l5 0l4 -2l85 0l-2 3l-4 3l1 5l-3 5l0 8l4 3l3 -2l3 0l4 4l1 4l-4 4l-1 5l10 7l3 4l8 3l5 0l3 0l1 -3l-4 -4l-2 1l-2 -3l7 -3l4 -7l5 -3l3 -5l0 -5l3 -11l-3 -13l7 0l0 93l-4 -1l-1 -3l2 -3l-5 -7l-11 4l-2 -10l2 -4l0 -4l-8 -4l-3 1l-2 4l-5 2l-1 3l1 2l-3 4l-6 -6l-1 2l2 8l2 1l11 -1l1 0l0 3l-4 7l-8 1l-3 2l-5 -2l-3 2l0 8l3 2l7 1l2 2l-4 4l-2 5l-6 4l0 3l3 2l4 -2l1 -3l3 0l5 5l6 0l5 -1l13 3l6 0l8 6l0 13l-3 -1l-1 1l0 3l4 2l0 6l-6 1l-10 4l-6 0l-2 -1l-7 -12l-4 -1l-16 6l-11 2l-2 0l-8 -3l-6 0l-5 5l-5 -3l-11 6l-5 0l-2 6l2 7l2 2l6 2l3 5l10 2l5 3l6 -1l8 7l5 0l1 2l4 1l3 -1l3 -6l8 -1l5 3l3 4l0 2l0 2l-7 -2l-1 3l-8 5l-2 3l1 3l9 2l8 1l2 6l7 1l4 6l8 -5l11 0l0 25l-30 0l-2 -8l3 -5l-2 -3l-1 -5l-16 -9l-8 4l-6 -5l3 -5l1 -3l-2 -11l-2 -1l-5 0l-8 4l-21 -2l-6 2l-10 -5l-2 -3l1 -10l4 -5l-3 -3l-8 -1l-9 -4l0 -3l-5 -2l-2 -4l-3 2l-5 -2l-3 1l-5 8l-16 -5l-13 2l-3 2l-5 9l1 7l17 11l-2 5l-8 1l-3 2l-3 0l0 -3l-2 -1l-6 2l-10 -2l-3 -1l-11 -8l-13 -15l-3 1l-2 -2l-3 -5l-3 -1l-5 3l-8 1l-5 5l-3 -6l0 -5l1 -5l-1 -5l3 -5l-6 -2l-8 -1l-2 1l-3 2l-2 0l-4 -8l1 -5l-3 -3l-6 -3l-2 -2l2 -3l4 -1l5 3l18 6l6 -4l8 0l2 1l3 6l-1 5l1 5l-3 3l-1 2l0 3l4 2l3 -2l3 8l2 0l3 0l2 -3l0 -3l-2 -4l-6 -1l8 -3l6 3l6 -5l7 -3l11 -1l21 5l11 -3l4 2l4 4l4 -4l4 0l2 3l3 0l2 -6l3 -1l7 -9l6 0l1 -3l-5 -5l4 -8l-2 -2l4 -8l-2 -6l-2 -1l-8 4l-5 -2l-14 0l-5 5l-5 2l-19 1l-3 -4l-5 -4l-11 -4l-3 -9l-2 -3l-8 -5l-8 -1l-5 -5l-6 0l-1 -2l1 -10l-8 -11l9 -5l0 -8l4 -3l0 -7l-5 -3l-4 -10l6 -11l-4 -6l-3 0zM865 212l0 3l2 0l3 -2l-3 -2zM722 56l2 -1l2 1l-2 3zM702 72l1 -1l0 1l0 1zM345 74l2 0l0 3l-1 1zM322 85l8 -1l3 3l-3 8l2 3l6 5l1 3l-1 5l-3 1l-2 -2l-1 4l1 2l-3 2l-12 -2l0 -2l5 -8l-3 -5l-3 -8l3 -3zM303 103l3 -1l2 1l-1 3l-4 1l-2 -1zM964 116l2 -1l0 4zM324 124l3 -2l3 2l0 5l-2 3l1 8l-2 2l-5 3l-5 -1l-1 -2l6 -3l4 -5l-4 -6zM440 132l2 0l0 4zM365 134l2 -2l3 1l3 1l0 3l-3 3l-3 0zM316 147l1 -1l5 9l3 0l2 3l-2 3l-6 -1l-13 12l-8 -5l-3 4l-7 -2l-6 1l-2 -1l-8 3l-8 -2l-8 3l-4 -2l-2 -5l-2 -3l0 -5l2 -4l3 7l3 1l5 -3l4 -4l12 -3l6 3l0 5l5 6l3 -3l-3 -5l2 -5l13 0l6 2zM816 168l4 -2l1 2zM165 171l5 -2l11 6l5 1l6 -3l16 -1l7 4l0 11l5 5l1 4l3 0l5 -4l5 -1l9 1l3 2l-1 3l-3 6l-2 1l-8 -3l-3 4l-3 0l-5 -4l-11 6l-5 1l-5 4l-3 0l-4 -5l0 -5l-4 -6l-11 0l-8 5l-5 0zM328 171l2 0l5 4l3 1l5 -3l16 1l2 2l1 5l3 -2l3 2l-3 2l-6 -2l-2 3l-14 -1l-5 -3l-11 1l-4 -2l-2 -3l1 -2zM217 174l1 -2l3 1l1 3l-4 0zM375 176l1 3l-1 1l-2 0l-1 -1zM841 181l3 -1l0 1l0 2zM300 205l17 0l8 2l12 0l9 6l6 10l6 5l-4 5l-11 3l-10 1l-6 4l-8 2l-8 6l-8 0l-5 3l-5 -3l-5 -1l-5 4l-2 0l1 -3l-2 -2l-3 1l-3 -1l0 -1l4 -5l2 -7l7 -11l1 -3l-1 -2l1 -4l2 -2l5 1l0 -3zM165 228l3 8l18 2l3 1l2 5l-2 3l-3 1l-5 -4l-8 6l-1 4l1 6l-8 14l0 -29l2 -1l-2 -4zM439 233l3 -2l5 1l5 7l1 5l-2 5l1 8l-1 3l-4 1l-5 -3l-8 2l-5 -4l-14 -1l-8 14l-5 -2l-4 8l4 16l-3 2l-2 -2l-6 0l-1 5l-12 0l2 -3l2 -7l-4 -3l-1 -3l1 -2l5 -1l2 -4l-2 -3l-5 -2l-11 2l-5 -3l-2 -2l4 -5l-1 -3l1 -3l9 -3l8 -5l5 1l8 -5l8 -1l16 3l-6 5l1 2l2 1l5 -3l0 -3l6 -7zM186 265l0 -2l3 0l1 4l-1 4l-3 -2zM201 267l4 -2l5 1l3 2l3 4l8 1l1 2l1 7l3 1l1 3l-6 5l-2 5l-36 0l5 -8l0 -5l4 -5l1 -5zM316 267l3 0l2 3l3 10l-2 7l-3 1l-2 0l-8 -4l-6 -4l0 -2l5 -3l4 -5zM250 270l6 8l1 2l-4 3l-2 5l11 8l-16 0l3 -5l-2 -5l3 -6l-2 -2l-1 -5zM410 278l5 -3l6 3l-6 8l-8 4l-3 -2l0 -8zM601 288l0 -1l6 4l1 2l-1 3l-11 0l0 -3zM667 288l1 -2l3 1l5 -1l2 2l-5 6l-2 1zM309 291l2 -3l5 8l-10 0zM319 291l0 -2l6 0l4 4l0 3l-12 0zM869 296l1 -1l3 1z"/><path fill="#c4e9e4" fill-rule="evenodd" d="M217 48l19 0l1 6l-4 5l1 5l-2 3l2 2l7 -2l1 2l-3 5l1 6l7 10l-1 11l-2 5l4 5l2 9l3 1l3 -3l2 -7l13 0l3 -5l3 -1l3 3l5 -2l2 2l-2 4l-3 2l-1 2l6 5l-2 2l-11 0l-2 1l-3 5l-3 1l-13 -8l-8 0l-2 7l-7 3l-1 2l3 3l-1 3l-8 5l-7 -3l-4 -10l-8 -4l-5 -7l0 -5l-5 -3l-2 -2l-1 -3l8 -10l1 -5l7 -15l5 -4l-4 -15zM213 99l-1 2l1 4l2 -2l0 -2zM464 48l37 0l5 3l1 3l-7 1l0 1l0 3l10 5l0 3l-7 3l-5 6l-2 6l7 8l-8 2l-5 7l-3 1l-5 -7l-6 -1l-5 -6l-5 -1l-2 -3l-2 -15l0 -11zM527 48l10 0l0 6l9 10l16 0l2 -2l1 -3l-10 -3l-1 -2l0 -6l12 0l0 8l6 1l3 4l2 2l3 -2l1 -2l-4 -5l1 -6l36 0l-4 8l3 8l-2 8l2 8l-1 1l-5 -1l-3 2l0 6l3 0l5 -2l5 0l4 7l7 3l8 -4l5 0l11 11l2 5l6 8l0 5l-3 -2l-2 1l-3 4l-16 5l-13 -5l-6 -5l-16 2l-5 -1l-11 2l-10 -3l-8 5l-5 7l-19 0l-4 6l2 5l5 5l1 8l-7 5l-2 6l10 14l11 4l29 0l16 2l2 8l6 8l4 3l9 11l3 1l8 1l3 2l-3 4l-5 3l-8 -1l-6 1l-2 -1l-6 2l-1 3l7 4l18 3l3 0l5 -4l11 -2l11 2l5 -3l5 2l0 8l3 5l5 1l6 4l13 -3l8 -5l5 -7l3 -1l5 4l5 0l4 5l7 4l8 1l5 -2l6 0l5 5l3 8l-3 15l4 16l-6 2l-1 3l-55 0l3 -10l-3 -9l-3 1l-2 8l-5 5l2 5l-15 0l2 -5l-1 -3l2 -5l-4 -3l-8 -1l-2 -1l2 -7l-6 -3l-8 4l-2 3l5 2l4 3l0 3l-9 2l-6 3l-5 -1l-8 -13l-3 -2l-2 0l-6 -5l-13 8l2 8l-2 2l-3 -1l-2 -2l-7 -2l-1 -5l-2 -2l-12 -6l-4 -13l-6 -6l-8 -4l-3 -4l-8 1l-16 -5l-2 -3l-3 -10l0 -8l-3 -5l-8 -5l-1 -3l1 -5l-2 -3l-3 1l-16 -1l-1 -7l-7 1l-5 -1l-3 2l1 5l-1 2l-3 -1l-5 6l-6 1l0 3l3 2l3 -1l5 4l-2 3l-5 2l10 5l0 3l-8 5l5 7l0 5l-5 6l-3 0l-6 -7l-1 -3l3 -5l-2 -5l1 -6l-1 -7l-3 -3l2 -5l-3 -7l-3 -1l-3 1l-5 10l-8 -6l-5 -1l-6 -5l-5 4l-8 -7l-10 2l-12 -6l-5 -10l1 -5l-2 -3l2 -2l10 1l6 -3l2 0l3 1l5 -3l6 3l0 8l2 1l4 -3l7 -2l5 -3l8 0l3 -2l0 -4l-7 -8l1 -5l-1 -3l2 -7l-3 -13l0 -8l2 -2l3 1l5 -7l3 1l3 -1l0 -8l2 -2l8 -1l3 0l4 3l-3 5l0 3l4 4l3 2l11 1l4 -2l6 -11l3 -2l3 -6l4 -2l-3 -5l1 -12l6 -2l6 -7l-1 -2l-5 0l-2 -3l2 -3l3 0l2 3l1 -3zM554 69l2 2l2 -2l-2 -2zM570 65l-2 2l4 2l0 -4zM596 55l-1 1l0 3l4 3l2 -3l-2 -3zM695 270l-2 3l2 0l1 0zM484 132l-4 2l-1 3l3 3l5 -4l3 0l5 3l5 -2l3 3l5 0l14 -6l8 1l2 -1l-8 -3l-2 3l-11 -3l-5 1l-6 4l-1 -4l-4 -2zM638 48l6 0l-3 9l-7 2l8 8l-1 2l-2 4l-11 1l-5 -7l8 -9l2 0zM748 48l20 0l3 3l-4 5l1 5l7 11l-4 18l6 1l11 8l13 0l8 7l3 5l0 3l-3 2l-7 3l-4 2l4 8l7 5l5 0l3 2l8 0l13 8l3 -1l5 -6l6 5l5 -2l5 0l6 -3l5 -5l5 -3l3 -3l5 -12l0 -3l-4 -5l-2 -11l-5 -7l-8 -3l-5 -4l-1 -1l2 -6l-4 -5l0 -5l-5 -10l1 -3l4 -3l67 0l3 1l13 -1l-6 6l0 5l-2 5l0 8l5 4l6 -2l2 2l2 4l-5 5l0 5l11 8l3 5l4 0l3 3l-12 13l-6 -2l-4 4l0 6l2 2l5 2l8 0l1 1l-1 5l-3 2l-5 0l-3 2l-5 -2l-3 1l-2 10l13 5l-11 12l-1 4l1 2l3 1l8 -4l5 3l14 0l14 3l9 5l1 12l-6 -1l1 5l5 3l0 5l-3 -1l-11 5l-8 1l-2 -2l-3 -6l-5 -7l-8 1l-11 5l-11 2l-16 -4l-2 1l-3 4l-5 -2l-11 6l-5 0l-2 2l-1 5l2 8l-2 2l-5 -3l-6 0l-5 -4l-3 0l3 0l5 -5l-8 -3l-5 2l-5 -6l-3 2l-5 -1l-3 1l-5 9l-3 -1l-2 -2l-8 -1l-16 0l-10 13l2 7l2 3l15 8l-1 4l-3 1l-8 0l-5 -2l-6 2l-10 -1l-3 -2l-11 -7l-11 -16l-5 0l-6 -8l4 -1l3 -4l1 -3l-4 -5l2 -2l6 4l8 -8l13 -2l27 4l8 -3l3 2l5 5l5 -4l8 3l4 -7l9 -9l3 2l2 5l1 0l1 -11l-5 -5l0 -2l4 -3l1 -3l-1 -5l4 -5l-5 -8l-2 -2l-8 6l-5 -2l-14 0l-8 7l-16 0l-2 1l-3 -1l-3 -4l-16 -7l-1 -8l-4 -4l-8 -4l-8 -2l-5 -5l-6 0l1 -11l-8 -11l10 -5l0 -8l4 -3l-1 -9l-5 -4l-3 -7l2 -7l4 -1l-1 -3zM867 157l-1 3l6 0l-2 -3zM881 209l-2 1l2 1zM934 115l0 4l1 0zM937 120l-1 1l3 0zM985 180l-2 4l2 3l1 -3zM987 48l6 0l0 9l-3 1l-1 -2zM711 54l2 -1l1 1l-1 1zM991 61l2 -1l-1 20l1 0l0 61l-3 -1l2 -6l-6 -7l-1 -2l-8 4l-3 -3l-1 -5l2 -7l-1 -3l-6 -3l-1 -2l7 -1l2 -2l0 -2l-2 -6l1 -2l4 -7l6 -3zM165 74l8 5l1 3l3 5l-3 6l2 2l0 6l2 1l6 0l2 3l3 8l3 1l-3 0l-3 5l3 6l3 -2l2 2l-2 7l-6 -3l2 -2l-4 -3l-8 -8l-11 0zM327 85l3 1l2 4l-2 2l-6 3l3 4l3 0l5 4l3 3l0 2l-3 2l-2 -3l-3 8l-11 2l-1 -3l5 -6l1 -2l-4 -5l-1 -8zM305 103l1 0l-1 3l-2 0zM486 103l2 0l-1 2zM443 116l1 -1l3 1l-3 3zM952 121l1 -2l1 2zM325 124l2 -1l3 3l-3 5l-2 0l-2 -4zM170 129l0 -1l3 4l3 2l6 -2l2 2l-5 8l-9 1l-1 2l-2 5l3 5l-5 2l0 -21zM327 134l0 -1l2 4l-2 4l-5 3l-4 -2l7 -3zM367 134l4 0l1 3l-2 3l-3 -2zM314 150l3 -2l2 2l2 5l5 3l-1 2l-6 -2l-13 13l-8 -4l-5 2l-2 -1l1 -5l-3 -5l1 -3l3 -1l10 0l6 4l3 -3zM276 153l5 2l0 5l5 6l-1 2l-5 0l-11 3l0 -7l-4 4l-9 4l-3 -1l-1 -3l1 -3zM250 158l0 -2l0 6zM166 171l4 -1l11 6l5 1l6 -3l10 -2l7 2l4 3l1 10l4 5l2 8l-10 7l-8 1l-2 3l-3 -1l-2 -3l-1 -5l-5 -7l-11 0l-8 5l-5 1l0 -29zM324 174l6 -3l8 7l1 -2l4 -2l14 -1l3 3l-1 3l-5 3l-11 1l-5 -4l-8 2l-5 -2l-2 -3zM699 176l4 -1l8 5l8 1l7 3l6 -3l9 0l3 6l0 10l-3 3l-1 2l2 5l3 2l3 -1l0 2l-1 3l2 2l-1 3l-6 2l-5 0l-5 2l-2 -7l3 -5l-2 -5l2 -5l-7 -3l-10 0l-3 3l-5 -8l0 -7l-8 -4l-2 -2zM231 192l11 0l3 2l-1 3l-4 6l-8 -3l-6 4l-2 -2l0 -2zM298 207l3 -2l16 0l10 3l9 -1l10 7l3 4l1 5l6 5l-2 3l-8 4l-13 2l-6 3l-8 2l-8 7l-8 -1l-5 3l-8 -4l-5 1l-5 -4l-1 -8l10 -13l0 -3l-1 -5l2 -1l5 1l2 -2l0 -3zM889 226l6 0l3 5l17 6l6 0l6 7l-9 4l-21 -2l-6 2l-4 -2l-6 -3l-1 -4l1 -8l9 -3zM165 231l0 -2l0 4zM439 233l5 -1l3 1l4 6l1 5l-2 5l1 8l-1 3l-3 0l-5 -3l-8 2l-5 -5l-11 0l1 -2l3 -3l0 -3l4 -5zM165 239l0 -3l3 2l13 0l8 3l1 3l-4 2l-5 -3l-8 5l-2 4l2 8l-6 7l-2 6l0 -27l3 -2zM944 241l1 -1l3 1l-3 2zM276 244l3 0l-2 2zM393 244l9 -2l10 2l-1 8l2 2l-6 12l-2 1l-3 -1l-2 1l-3 11l3 10l-3 1l-6 -3l-5 -2l-3 -3l-2 2l-3 -1l0 -2l3 -1l2 1l4 -5l0 -2l-2 -3l-7 -3l-11 2l-4 -2l-2 -2l4 -5l-1 -3l1 -3l8 -2l8 -5l5 0zM956 244l2 -1l1 1l-1 2zM934 246l8 0l3 1l2 -2l3 1l1 3l-4 2l-3 3l-1 3l0 3l2 1l16 3l2 8l6 -2l5 7l8 -5l11 0l0 24l-29 0l-1 -5l1 -3l6 -2l-1 -3l-3 0l-3 -3l-2 -7l-3 -1l-13 -7l-8 3l-5 -3l3 -5zM476 249l0 -2l1 2l-1 1zM187 267l2 -1l0 3zM203 267l2 -1l5 1l6 6l9 2l0 3l-2 5l6 3l-3 0l-2 4l-3 6l-24 0l-5 -1l-2 -2l2 -10l5 -5l0 -5zM314 270l3 -1l3 1l0 5l3 5l-1 4l-3 2l-2 0l-10 -6l5 -5zM249 273l1 -1l5 6l-1 2l-1 1l-5 -6zM772 275l5 -2l3 1l6 6l0 3l-4 5l4 8l-18 0l-2 -3l6 -2l4 -5l-2 -5l-4 -3zM412 278l7 0l-6 8l-6 3l-1 -1l1 -8zM311 291l1 0l2 5l-8 0l3 -4zM320 291l2 -1l3 0l3 3l0 3l-9 0zM383 291l0 -1l2 1l4 3l0 2l-9 0l3 -3zM600 291l1 -2l3 1l3 3l0 3l-10 0zM653 291l4 2l1 3l-11 0l2 -4zM670 291l1 -1l3 1l-3 1zM249 293l1 -1l6 0l4 4l-13 0z"/><path fill="#b4e2db" fill-rule="evenodd" d="M218 48l17 0l1 6l-5 5l1 5l-2 3l5 5l2 7l3 1l6 10l0 11l-4 2l-1 3l4 2l2 3l1 8l-5 2l1 6l-2 2l-5 0l-2 3l-1 8l-8 3l-3 -1l-5 -11l-5 -2l-7 -8l-1 -7l-6 -3l1 -3l4 -2l0 -5l3 -3l1 -8l6 -10l4 -3l1 -3l-3 -7l-1 -8l3 -8zM213 97l-2 1l0 3l2 6l3 -4l0 -4zM465 48l35 0l1 3l-2 5l0 3l10 5l0 3l-6 1l-5 6l-3 8l3 5l-8 11l-3 0l-5 -5l-6 -2l-5 -6l-6 -3l-2 -15l1 -6l-1 -5zM527 48l9 0l1 6l7 10l9 3l0 5l3 1l6 -5l2 -1l8 4l3 -2l0 -5l5 -1l1 -2l-2 -7l0 -6l15 0l2 1l17 -1l-5 8l0 3l4 5l-3 8l3 5l0 3l-3 0l-2 -2l-3 2l-2 10l2 1l8 -4l3 -1l2 2l2 5l9 4l8 -4l5 0l3 5l4 3l12 15l-5 3l-4 5l-15 4l-11 -4l-8 -5l-16 1l-5 -1l-11 2l-10 -2l-10 5l-3 4l-8 3l-11 0l-6 6l3 8l6 4l0 6l-6 4l-3 7l9 13l5 3l8 3l29 0l16 3l1 6l6 8l4 3l10 12l3 1l6 0l4 2l-7 6l-8 -1l-3 2l-8 -2l-5 3l-1 3l9 5l21 2l5 -4l11 -1l11 1l5 -3l3 1l2 4l-1 5l3 5l6 2l6 4l13 -3l8 -5l5 -7l3 -1l5 4l5 1l3 3l8 5l8 1l5 -3l6 0l4 5l4 10l-3 13l3 13l-1 3l-5 1l-2 4l-52 0l3 -10l-4 -10l-5 2l-2 8l-4 2l3 8l-14 0l4 -13l-6 -4l-8 -1l1 -8l-7 -3l-9 3l-3 5l2 2l5 1l3 2l0 2l-1 1l-10 2l-3 2l-5 -1l-2 -3l0 -3l-3 -3l-3 -4l-5 -2l-6 -4l-4 0l-10 8l2 5l-1 4l-5 -3l-6 -1l-2 -7l-14 -6l-1 -2l-1 -11l-7 -8l-6 -2l-6 -5l-8 2l-17 -8l-3 -10l0 -8l-3 -5l-9 -7l0 -9l-2 -2l-6 2l-10 -1l-2 -1l-1 -7l-3 0l-5 3l-5 -2l-3 2l-1 4l-7 7l-8 3l-6 -5l-4 0l-6 9l-4 -1l-4 -5l-5 0l-6 -6l-5 3l-8 -6l-8 4l-14 -6l-4 -10l0 -8l5 -1l5 2l6 -4l2 0l3 3l2 0l3 -6l5 3l-1 8l4 2l3 -1l3 -3l5 -1l5 -3l11 -2l1 -2l0 -3l-7 -8l1 -5l-1 -3l2 -7l-3 -13l1 -8l6 3l0 -6l2 -3l6 -1l1 -9l9 -2l5 2l-2 5l1 6l7 4l11 1l5 -3l5 -10l6 -3l0 -5l5 -1l1 -2l-3 -5l0 -10l11 -8l3 -5zM593 53l0 3l3 6l3 1l2 -2l1 -2l-3 -4zM695 269l-3 4l3 2l2 -1l2 -4zM484 131l-2 1l-4 5l4 3l8 -4l5 4l5 -1l8 2l14 -5l10 1l2 0l0 -3l-4 -2l-6 -1l-5 1l-11 -2l-8 3l-5 -3l-5 -1zM511 175l-2 1l1 3l3 0l2 -3zM555 48l9 0l0 7l-2 2l-4 -1l-3 -2zM638 51l1 -3l3 0l-1 8l-2 2l-2 -2l-1 -2zM749 48l17 0l4 3l-6 5l9 16l-3 18l2 2l5 0l11 8l13 -1l8 10l1 2l-1 4l-10 4l-2 2l5 8l7 5l8 3l8 0l13 9l8 -8l3 2l3 4l2 -2l8 -1l8 -4l3 -4l5 -2l3 -4l6 -13l0 -3l-5 -8l-1 -8l-6 -9l-6 -1l-7 -5l1 -6l-3 -5l1 -5l-4 -10l1 -3l3 -3l64 0l4 2l5 -2l7 0l-2 2l-4 1l-2 13l1 8l5 6l6 -3l2 2l1 3l-4 2l-1 3l0 5l5 5l5 3l1 3l-2 2l1 6l2 -3l3 -2l5 2l-6 8l-4 2l-7 0l-4 3l-4 0l-1 -3l4 -2l-2 -2l-5 1l-2 3l2 5l3 3l3 5l10 4l5 -1l3 2l-3 4l-10 1l-6 -1l-2 2l-3 8l5 5l7 2l-3 5l-5 6l-1 5l2 3l11 -3l5 3l25 2l2 3l0 5l4 5l1 8l6 5l0 1l-3 0l-8 4l-11 2l-2 -2l-2 -5l-6 -8l-8 2l-11 4l-11 2l-10 -4l-8 0l-3 4l-5 -1l-11 6l-6 0l-3 3l1 13l-11 -2l-1 -3l7 -3l2 -5l-2 -5l-8 5l-8 -1l-3 1l-1 -3l-2 -2l-7 0l-6 2l-5 8l-5 -2l-4 0l-2 -4l-5 3l-8 1l-5 -2l-12 15l2 2l2 7l16 9l-1 2l-2 2l-8 0l-5 -2l-6 2l-12 -2l-12 -8l-3 -7l-5 -4l-2 -5l-6 -1l-2 -3l-1 -3l5 -5l1 -4l3 1l0 -2l8 -8l13 -3l27 5l8 -3l2 1l6 8l2 -1l3 -5l8 3l11 -13l2 -1l2 4l3 2l2 -2l1 -11l-4 -5l0 -2l4 -3l1 -5l1 -3l9 -3l-3 -5l-5 2l-8 -12l-3 1l-5 7l-5 -3l-14 0l-10 8l-14 0l-2 1l-6 -5l-15 -7l-1 -7l-5 -5l-8 -4l-8 -1l-5 -6l-2 0l-3 -13l-6 -8l9 -2l1 -3l-2 -5l6 -6l-2 -7l-3 -6l0 -5l-4 -2l0 -4l6 -2l1 -2zM931 166l0 4l3 -2l1 -2zM988 48l5 0l0 8l-3 0l-2 -2zM568 59l2 0l2 2l-5 3l-1 -3zM630 61l1 -1l10 7l-2 5l-8 1l-4 -1l-1 -5zM521 64l3 -1l2 1l-2 3l-2 -1zM991 64l2 -2l0 15l-3 2l-2 -5l2 -6l2 -1zM238 69l2 0l0 1zM165 77l0 -2l3 2l8 10l-6 2l-1 4l4 0l2 2l0 6l13 13l-4 8l-8 -7l-11 0zM987 80l6 1l0 52l-2 -4l-6 -5l-6 3l-2 1l-2 -1l-1 -6l3 -8l3 -2l0 -3l-3 -1l-3 2l-4 -1l1 -1l5 -1l1 -5l-2 -6l1 -2l4 -6l7 -2zM326 87l1 -1l3 1l0 4l-3 1l-2 -2zM321 98l1 -1l10 6l-3 11l-2 1l-8 0l6 -9l-4 -5zM275 108l2 0l3 3l2 0l3 -4l0 4l-3 0l-2 3l0 2l2 5l4 0l-12 1l-8 7l-5 -2l-6 -6l4 -7l13 -1zM191 127l1 -2l1 2l-1 1zM324 127l3 -2l2 2l-2 3l-2 -1zM170 132l0 -1l6 3l5 -1l1 1l-4 7l-2 1l-6 0l-2 3l-2 5l2 5l-3 1l0 -19l3 -1zM327 137l0 -1l0 3zM367 137l3 -1l1 1l-1 1zM992 137l1 -1l0 4zM315 150l2 -1l1 1l1 5l-2 5l-11 10l-5 -3l-6 -1l-5 -8l3 -3l10 0l3 5l3 1l1 -3l3 -3zM272 155l5 -2l3 2l-1 8l4 3l-1 1l-2 -1l-6 3l-2 -1l1 -8l-3 -2zM266 160l0 3l-4 5l-6 3l-3 -3l5 -5zM168 171l2 0l16 7l3 0l3 -3l10 -2l6 1l3 2l2 4l0 9l4 3l0 5l2 3l-9 6l-8 1l-2 3l-4 -3l-1 -5l-6 -7l-11 0l-8 4l-5 1l0 -28zM325 174l5 -2l3 2l2 5l-5 1l-5 -1zM340 176l3 -1l14 -1l2 2l-7 5l-6 1l-4 -1l-3 -2zM701 176l2 0l5 4l10 2l6 3l2 0l8 -4l6 0l2 2l0 14l-2 3l-1 2l3 8l5 5l0 3l-5 1l-10 1l-2 -5l1 -2l6 -3l-3 -1l-2 -4l2 -5l-2 -3l-6 -1l-10 0l-3 2l-4 -6l0 -8l-4 -2l-5 -1l-1 -2zM987 181l3 0l3 3l0 8l-5 -3zM229 194l3 -2l10 1l2 1l0 3l-4 4l-11 -3zM299 207l2 -1l16 -1l10 3l11 1l8 6l2 3l0 5l4 3l2 2l-1 3l-10 4l-10 1l-8 4l-6 0l-8 8l-5 -1l-8 3l-13 -4l-5 -7l0 -3l7 -10l3 -2l0 -9l3 2l4 -2l2 -2l-1 -3zM290 226l-1 5l4 1l1 -4l-1 -2zM470 207l1 -2l5 5l3 -2l3 2l-3 3l-3 -2l-5 1l-2 -2zM472 218l2 -2l11 4l1 3l-9 5l5 4l2 4l0 3l-5 4l-5 -1l-4 -3l0 -3l3 -5l-2 -5l2 -6zM884 231l10 -1l19 7l8 1l4 3l0 3l-4 2l-32 1l-8 -6l0 -3zM440 233l4 0l7 6l1 5l-3 5l1 9l-8 -1l-8 1l-3 -4l-8 -2l0 -6l3 -4zM170 239l11 -1l7 3l0 3l-2 1l-5 -3l-5 3l-3 -1l-3 -1zM395 244l7 -1l8 1l0 8l2 5l-5 7l-2 2l-6 -1l-2 13l1 8l-1 2l-3 -4l-7 -1l0 -3l3 -5l-1 -3l-11 -6l-11 2l-3 -1l-2 -2l3 -5l0 -6l8 -1l8 -5l5 0zM167 246l3 -1l1 1l1 14l-4 6l-3 1l0 -20zM937 246l4 0l5 3l-4 8l1 5l-6 4l-3 -1l2 -8l-1 -8zM946 265l1 -2l6 1l5 0l3 2l0 4l-3 1zM202 270l3 -2l5 1l6 5l8 1l0 5l-4 3l3 3l0 2l-3 8l-19 0l-9 -3l1 -10l6 -5l-1 -5zM315 273l2 -3l1 5l4 4l0 4l-5 2l-8 -5zM964 273l5 -2l2 5l3 2l8 -5l11 0l0 23l-28 0l-1 -5l6 -3l2 -2l-1 -3l-5 -2l-3 -3zM250 275l0 -1l0 2zM774 275l6 0l5 5l-4 8l3 8l-6 0l-6 -3l5 -7l-2 -6l-4 -2zM409 280l4 -1l1 1l-1 5l-3 1l-3 0zM322 291l3 0l3 5l-8 0l0 -3zM601 291l3 0l2 2l0 3l-9 0zM252 293l4 0l2 3l-9 0zM309 293l2 0l2 3l-6 0zM650 293l5 -1l3 4l-11 0z"/><path fill="#a0dad1" fill-rule="evenodd" d="M219 48l16 0l-1 5l-3 3l-2 2l-3 0l-1 1l1 3l3 -3l1 2l-2 6l5 5l1 5l-1 3l7 2l2 3l3 8l0 8l-5 2l-1 3l7 5l0 5l-4 5l1 6l-6 2l-3 2l-2 9l-6 2l-2 -1l-6 -12l-5 -1l-6 -7l0 -5l-5 -5l4 -5l0 -3l2 -3l5 9l3 -2l1 -4l-1 -5l-5 -3l-1 -2l0 -4l6 -4l0 -5l5 -3l-4 -10l-1 -8l3 -8zM466 51l0 -3l33 0l0 3l-2 5l1 3l10 5l0 3l-5 0l-6 7l-4 8l3 5l-6 10l-3 0l-4 -4l-7 -3l-4 -5l-6 -3l-3 -15l2 -6l-2 -5zM529 48l5 0l2 6l6 7l1 6l5 0l6 7l2 0l8 -5l11 3l1 -5l6 -6l-2 -7l1 -6l10 0l2 3l-1 5l4 8l8 -3l0 -2l-5 -5l0 -3l2 -3l10 0l-4 3l-2 8l5 2l1 3l-1 3l-3 4l0 3l-5 3l0 10l-4 6l3 3l7 -6l7 -3l2 3l0 3l11 6l11 -6l3 2l0 3l5 3l11 15l-9 8l-5 0l-8 3l-11 -4l-5 -4l-5 -1l-11 1l-11 -1l-10 3l-8 -3l-5 4l-13 5l-3 3l-11 0l-5 4l-14 -4l-5 1l-11 -1l-8 2l-10 -4l-12 6l-1 3l2 2l3 2l8 -4l5 4l11 0l18 -5l11 3l4 6l5 2l1 6l0 2l-5 3l-5 8l13 15l11 4l29 0l13 3l3 1l1 5l5 8l5 3l10 12l3 2l5 -1l4 2l-9 6l-3 -2l-5 2l-8 -2l-7 4l0 3l9 5l22 3l8 -4l19 0l5 -3l3 1l1 3l-1 5l3 5l7 3l6 3l16 -4l5 -3l5 -7l3 -1l18 11l8 3l3 0l5 -3l6 0l3 4l4 10l-3 13l-1 8l3 5l-1 2l-4 1l-7 5l-46 0l4 -10l-5 -13l-3 0l2 -3l-2 -2l-3 0l-5 2l-1 3l6 5l-2 6l-5 4l4 8l-12 0l3 -8l4 -2l-1 -3l-7 -4l-8 -3l0 -7l-8 -4l-2 -3l-2 5l-6 2l-3 6l-5 0l-6 3l-2 -2l-1 -3l-7 -3l-3 -3l-3 -1l-5 1l-10 8l2 7l-3 -2l-5 -7l-3 1l-16 -8l-1 -9l2 -3l-6 -5l0 -3l3 -2l0 -3l-3 -1l-5 5l-5 -2l-6 -5l-8 2l-16 -7l-4 -10l0 -8l-2 -5l-9 -8l-1 -11l-2 0l-6 1l-10 -1l-1 -4l-2 -3l-8 3l-5 -2l-3 1l-2 6l-9 7l-5 1l-8 -4l-3 1l-5 7l-3 1l-5 -6l-5 0l-6 -6l-7 -1l-6 -3l-2 0l-1 3l-5 2l-13 -5l-5 -10l2 -7l8 2l6 -5l2 0l6 5l2 -7l4 1l0 3l-1 5l5 3l3 0l4 -5l6 -2l3 -2l8 0l4 -2l1 -2l-1 -6l-5 -5l-1 -8l1 -10l-2 -11l3 -3l3 1l2 -3l-1 -5l1 -1l6 -1l2 -11l3 -1l5 0l3 1l-2 11l7 4l14 1l6 -3l4 -8l8 -5l0 -4l3 0l3 -4l-3 -5l-1 -10l11 -8l3 -4l3 -1l-3 -2l-1 -4zM570 79l-3 1l5 0zM591 66l-4 3l1 2l3 -2l1 -2zM514 173l-9 3l1 3l5 2l3 -1l2 -4zM524 166l0 3l3 1l2 -2l-2 -2zM468 131l-1 1l1 2l2 -2zM557 48l5 0l1 6l-1 1l-5 -1zM751 48l7 2l2 -2l5 0l1 3l-8 5l-5 -4zM859 51l3 -2l4 2l-4 5l-3 -2zM868 48l55 0l6 3l3 0l2 3l-2 7l1 11l6 7l3 -3l3 0l1 1l0 3l-4 4l0 6l3 4l6 4l1 3l-1 7l2 6l-8 1l-6 -5l-7 4l-2 2l3 5l5 6l1 4l8 2l8 0l1 1l0 3l-3 1l-14 -2l-5 6l-2 5l2 3l7 5l1 3l-3 4l-9 4l1 10l3 3l3 -5l5 1l8 -2l5 2l24 2l2 2l1 8l3 5l4 10l-3 3l-15 3l-1 -1l-4 -7l-5 -7l-8 2l-11 5l-11 1l-13 -5l-5 0l-6 5l-5 0l-8 5l-8 1l-5 -3l-8 1l-3 3l-3 0l-13 -6l-8 4l-5 7l-9 -3l-1 -5l2 -4l8 2l11 -12l2 0l5 4l2 -1l3 -10l-2 -5l-3 -3l0 -2l6 -3l0 -5l2 -3l6 0l2 5l3 0l1 -2l-7 -11l-2 -1l-5 1l-5 -10l0 -3l10 -3l4 -5l4 -1l5 -8l5 -11l0 -3l-5 -8l-1 -5l-5 -11l-1 -5l-6 2l-7 -4l1 -6l-3 -5l1 -5l-1 -5l1 -3l3 1l2 -2zM988 48l5 0l0 7l-4 -1zM638 54l1 -2l2 2l-2 2zM760 61l1 -2l3 0l7 10l1 3l-4 2l2 6l-1 11l3 2l8 1l8 7l13 -1l8 11l0 3l-4 2l-8 3l-2 2l1 3l13 11l5 1l3 3l8 -1l5 4l-3 3l1 5l-8 7l-16 0l-6 -4l-13 -5l-2 -3l0 -5l-3 -5l-8 -4l-11 -2l-7 -8l-1 -7l-6 -11l9 0l1 -5l-2 -5l3 -3l2 -3l-5 -13l1 -6l-4 -1l0 -3l1 -1l7 1zM793 107l-1 1l1 3l3 0l1 -3zM629 64l2 -2l2 3l3 0l3 2l0 2l-2 3l-8 0l-2 -5zM992 69l1 7l-4 -2l1 -3zM165 77l0 -1l2 1l1 3l-3 1zM608 77l1 -1l1 1l-1 1zM989 82l4 0l0 47l-8 -6l-8 4l-3 -3l3 -9l4 -4l1 -3l-4 -5l-1 -9l5 -7l5 2zM165 85l3 -1l1 1l0 2l-2 3l0 3l7 2l0 6l6 7l4 2l2 4l-2 6l-3 -1l-5 -5l-11 1zM327 90l0 -1l1 1zM325 103l2 -1l3 1l-1 8l-2 3l-4 0l3 -8zM957 106l4 0l-3 3zM262 114l15 0l1 5l-1 2l-5 1l-3 5l-3 1l-2 0l-7 -7zM178 134l3 0l-3 6l-2 1l-8 0l-3 9l0 -11l3 0l2 -4l6 1zM846 140l1 0l3 5l-1 5l-11 -3l3 0zM832 145l1 -1l5 3l-5 2l-2 -2zM317 150l1 3l-2 7l-5 4l-1 -1l1 -5l4 -3l0 -2zM165 153l0 -3l0 4zM274 155l3 -1l2 1l-2 5l-3 -2zM294 155l9 1l2 4l4 4l0 2l-1 2l-2 1l-11 -5l-4 -6zM274 163l3 -1l1 4l-4 2l-1 -2zM258 166l3 -3l1 3l-1 1zM165 174l5 -2l19 8l5 -5l8 -1l6 1l5 9l-3 5l6 3l-1 5l0 3l-5 5l-8 0l-2 3l-3 -1l-4 -10l-4 -3l-11 0l-8 4l-5 1zM326 174l4 -2l2 2l2 5l-4 1l-4 -1zM342 176l9 0l2 3l-5 2l-5 1l-2 -3zM699 179l4 -2l2 2l-2 2zM710 184l6 -2l10 4l6 -3l8 -1l2 2l0 3l-1 7l-3 6l2 8l-3 0l-3 -2l0 -1l2 -5l-4 -4l-11 0l-3 -1l-5 1l-3 -4zM990 189l3 -2l0 5zM230 194l4 -1l3 3l3 1l2 -3l1 3l-11 1zM773 197l15 -2l24 5l5 -4l4 1l5 8l0 5l-4 1l-5 0l-3 -2l-2 1l-8 11l-4 2l-2 3l4 5l-1 5l11 4l5 4l0 2l-8 2l-8 -3l-3 2l-10 0l-14 -10l-2 -7l-6 -4l-2 -5l-6 -1l-2 -5l5 -4l4 -1l0 -5zM307 207l10 -1l10 3l11 1l8 6l2 2l-1 5l6 5l-4 4l-8 3l-8 1l-8 4l-3 -1l-3 -6l-2 0l-1 8l-5 6l-5 0l-8 2l-10 -4l-3 -1l-4 -8l6 -5l1 -3l0 3l2 2l5 -2l-3 -11l1 -2l5 -3l3 -7l2 1zM739 213l6 1l1 4l-4 1l-10 -1l0 -5zM475 220l7 0l1 0l1 3l-5 2zM882 220l1 -1l1 1zM474 231l2 -2l6 4l2 3l-1 3l-4 3l-5 0l-3 -3l-1 -3zM441 233l4 0l5 6l1 5l-3 5l1 5l-2 3l-13 0l-3 -3l-5 -4l-1 -4l3 -5zM888 233l3 -1l8 1l11 3l3 2l8 1l3 2l0 3l-3 1l-16 2l-8 -1l-6 1l-9 -6l0 -2zM176 241l2 -1l1 1zM398 244l10 0l1 2l-1 6l3 5l-4 6l-2 1l-8 -4l-3 1l0 3l3 1l1 5l-4 12l-5 0l-1 -2l4 -5l-1 -3l-2 -2l-11 -5l-11 3l-4 -3l3 -5l-1 -3l1 -3l7 0l8 -5l5 -1zM165 249l3 -1l1 1l2 11l-6 6zM936 249l3 -2l4 2l1 3l-2 2l-2 8l-1 1l-2 -2l0 -7zM957 265l2 2l-1 2l-3 -2zM199 273l6 -3l5 1l6 7l4 -3l4 3l-8 7l-11 -9l-3 1l-2 -1zM965 273l4 0l2 7l11 -6l11 0l0 22l-3 0l0 -2l-3 -1l-1 3l-21 0l1 -5l8 -3l-3 -7l-5 -1l-2 -2zM777 275l5 5l-2 4l0 -4l-6 -2zM313 278l1 -2l3 1l3 3l-3 3l-3 -1l-3 -2zM199 280l6 2l8 4l8 1l0 4l-3 5l-15 0l-1 -3l-8 0l-1 -2l0 -5l1 -4zM644 280l3 -1l10 -1l5 2l-3 3l-7 1l-5 3l-3 -1l-1 -3zM777 288l0 -1l3 0l0 6l-3 0l-2 -2zM321 293l4 -1l2 4l-5 0zM599 293l2 -2l3 1l1 4l-7 0zM654 293l3 3l-9 0zM250 296l3 -2l4 2zM308 296l1 -1l3 1zM779 296l1 -2l3 2z"/><path fill="#8fd3c9" fill-rule="evenodd" d="M220 48l7 0l2 6l-4 2l-2 5l4 3l1 5l5 5l-1 4l-4 2l6 3l6 0l3 4l1 6l0 5l-5 5l0 3l6 5l0 5l-4 3l0 8l-7 3l-2 8l-3 2l-5 -1l-6 -12l-5 0l-5 -7l-3 -9l3 -4l2 0l3 6l3 1l1 -3l0 -10l-5 -11l10 -13l-4 -10l-1 -8l4 -5zM230 48l4 0l-2 3zM467 48l31 0l0 3l-4 10l4 0l8 3l0 2l-3 -1l-3 3l-4 6l-4 8l2 5l-4 9l-3 0l-3 -3l-7 -3l-3 -5l-7 -3l-3 -15l2 -6l-2 -5zM531 51l1 -2l8 11l1 1l-1 4l-2 0l-6 -3l-2 -8zM582 48l8 0l2 3l-2 5l4 5l-1 3l-9 5l1 4l3 0l8 -7l11 -4l3 2l-1 3l-3 2l-2 5l-3 2l-10 3l-6 -1l-1 2l4 5l8 0l3 -2l1 4l-4 6l3 4l2 1l5 -5l6 -4l3 0l2 6l11 5l5 -5l6 -1l2 1l0 4l6 2l9 13l0 2l-7 7l-8 1l-5 2l-19 -9l-13 2l-13 -2l-8 3l-8 -3l-3 1l-3 3l-13 4l-3 4l-10 0l-5 3l-14 -3l-5 1l-11 -1l-8 2l-9 -4l-1 -2l-4 4l-4 2l-5 3l-1 3l6 4l8 -3l5 3l11 1l18 -5l11 4l3 4l5 3l1 5l-9 12l-3 1l16 16l11 4l29 0l14 3l7 13l6 4l10 12l10 2l-4 4l-6 -1l-5 2l-8 -2l-8 5l-2 3l10 5l24 3l8 -4l19 1l5 -3l3 0l0 3l-2 5l4 5l3 3l5 0l6 4l16 -4l5 -3l5 -8l3 0l10 6l16 8l3 0l5 -3l6 0l3 3l4 10l-5 18l-4 3l0 8l-4 5l-45 0l4 -10l-4 -11l0 -8l-2 -1l-6 0l-6 4l-1 3l0 2l5 3l0 3l-3 2l-5 -3l-3 -5l-3 2l-6 -2l0 -8l-7 -2l-2 -3l-3 -1l-9 6l-2 6l-11 3l-2 -4l-14 -7l-7 2l-9 7l-5 -3l-3 0l-12 -4l-4 -4l0 -5l3 -4l-6 -5l3 -5l-2 -5l-3 0l-5 3l-5 -2l-3 -4l-3 -1l-3 4l-5 1l-16 -7l-3 -10l0 -8l-2 -5l-9 -8l0 -10l-4 -2l-8 1l-3 -1l-3 -1l-3 -5l0 -3l6 2l3 -1l3 -6l-1 -3l-13 2l0 6l-5 4l-11 -1l-3 6l-8 8l-5 1l-5 -3l-6 0l-5 7l-3 1l-5 -6l-5 0l-7 -9l-1 -8l2 -5l3 -2l5 -1l3 -2l5 0l8 -1l1 -4l-1 -6l-4 -5l-2 -8l1 -10l-1 -10l7 -3l-1 -8l8 -2l0 -8l2 -3l8 0l-3 11l1 2l6 1l2 2l6 2l10 -2l7 -5l3 -6l9 -5l3 -4l2 -4l-4 -5l-1 -9l13 -11l3 -2l13 1l5 11l3 1l5 -9l6 -2l4 2l1 2l-7 6l5 1l4 -1l4 -13l6 -6l-3 -7zM524 165l-1 1l-1 2l2 3l3 0l4 -3l-2 -2zM468 129l-3 3l1 3l6 -1l-1 -4zM871 48l50 0l8 4l2 0l2 2l-2 3l-3 2l4 13l8 10l2 11l9 8l-1 10l-3 2l-2 0l-3 -3l-3 -1l-8 4l-2 3l3 5l5 6l2 7l-7 8l-1 5l1 3l7 5l0 3l-1 2l-9 6l1 10l1 3l3 1l5 -4l8 -2l19 2l5 2l6 -1l2 1l2 9l5 10l0 3l-3 5l-6 1l-2 1l-4 1l-2 -6l-6 -9l-2 -1l-10 2l-9 4l-13 1l-11 -5l-5 1l-6 5l-5 1l-8 4l-8 0l-5 -2l-8 1l-6 2l-10 -5l-5 -1l-2 2l-6 4l-3 5l-8 -4l0 -3l5 1l6 -2l8 -10l10 4l3 -13l-3 -8l3 -2l2 0l3 3l3 1l1 -7l6 -3l-1 -5l-5 -5l-1 -4l-8 -1l-4 -8l4 -4l6 -1l7 -5l6 -8l5 -13l-11 -27l0 -5l-3 -2l-2 3l-3 0l-7 -3l2 -6l-3 -5l0 -8l6 -5zM966 187l-1 2l1 1l5 -1zM989 48l4 0l0 7l-3 -1zM629 67l2 -2l5 1l2 3l-2 2l-5 0l-2 -2zM760 67l4 -2l2 0l4 4l-5 8l4 8l-1 5l1 3l3 1l8 1l10 8l8 -3l3 1l2 2l4 11l-4 2l-8 3l-3 2l14 13l7 3l1 3l3 0l5 -2l4 2l2 2l-2 3l1 5l-7 6l-16 0l-6 -4l-12 -5l-1 -2l0 -5l-7 -8l-1 -4l-8 2l-8 -2l-4 -4l-1 -3l-1 -7l-5 -8l0 -1l6 1l4 -5l-3 -8l4 -6l-5 -15l2 -5zM764 100l0 3l2 1l2 -1l-1 -2zM793 105l-3 2l0 3l3 2l3 0l3 -4zM991 72l2 -2l0 6l-3 -2zM944 77l1 0l0 2zM989 85l4 -2l0 23l-4 5l4 0l0 15l-8 -4l-8 4l-2 -2l2 -7l6 -6l0 -3l-5 -5l-1 -8l5 -6l5 2zM165 87l0 -1l2 1l-1 6l2 2l6 0l0 3l-1 3l5 8l7 5l-1 3l-3 1l-5 -5l-11 1zM327 106l0 6l-1 -1zM260 116l6 -2l10 5l-4 2l-6 7l-3 -1l-4 -6zM951 134l3 0l-1 2zM172 137l7 0l-3 3l-4 0zM845 142l1 -2l1 2l1 3l-2 2l-3 -2zM165 145l0 -2l0 4zM292 158l3 -2l6 1l2 1l5 8l-2 2l-11 -6zM311 160l3 -2l0 3zM866 166l4 -2l2 2l-5 6l-1 -4zM411 171l4 -1l3 4l5 1l3 3l4 3l-2 3l2 5l-4 0l-3 -2l-2 -1l-2 6l-4 1l-13 -5l-2 -7l-2 -2l1 -5l8 1zM423 171l0 -1l3 1zM167 174l11 2l11 5l5 -5l8 -1l5 1l2 5l0 8l5 3l1 2l-5 11l-2 0l-6 -1l-2 2l-8 -12l-8 -2l-6 1l-8 5l-5 1l0 -25zM327 174l4 0l2 2l0 3l-6 0l-1 -3zM343 176l3 0l4 3l-4 2l-3 0l-1 -2zM712 184l6 -1l6 4l10 -4l6 0l1 4l0 5l-4 5l-19 -3l-5 1l-2 -3zM231 194l4 0l0 3l-3 0zM775 197l10 -2l11 2l5 3l0 3l2 -3l4 0l5 2l5 -5l3 0l2 3l3 5l0 5l-6 0l-5 -4l-10 14l-6 3l0 3l4 5l-2 5l1 4l5 -1l6 2l3 3l-2 2l-4 1l-8 -3l-5 2l-8 1l-14 -11l-2 -8l-4 -2l-4 -6l-6 -2l0 -3l3 -3l5 0l1 -7zM737 202l0 4l-1 -1zM310 207l7 0l10 3l9 0l10 7l0 7l5 4l-2 3l-8 3l-8 1l-8 4l-6 -8l-2 0l-3 2l1 8l-4 5l-5 0l-8 2l-11 -4l-2 -5l11 -8l0 -3l-3 -5l0 -3l5 -3l3 -5zM732 215l10 -1l3 1l0 3l-6 0l-2 -2zM479 223l0 -2l3 2zM476 231l6 2l1 3l-1 4l-6 2l-4 -3l-1 -3zM439 236l3 -2l2 1l6 5l0 4l-3 10l-11 3l-10 -8l0 -3l3 -4zM888 236l3 -2l11 0l11 5l8 1l2 1l0 3l-8 -1l-5 2l-19 1l-7 -5l0 -2zM391 246l14 -2l2 1l1 1l-1 6l3 5l-5 7l-8 -5l-3 1l-2 5l5 5l-3 9l-2 -1l1 -3l-2 -7l-8 -1l-5 -4l-8 3l-6 -1l2 -3l1 -7l8 -1l6 -5l5 0zM937 249l2 -1l3 1l1 3l-4 2zM165 252l0 -3l3 3l2 5l0 3l-5 6zM939 257l0 4l-1 -1zM202 273l2 0l0 2l-3 0zM965 275l1 -2l3 0l0 6l-3 0zM982 275l3 4l4 -4l4 0l0 21l-2 0l1 -5l-2 -1l-5 3l0 3l-19 0l0 -3l3 -3l5 2l3 -3l5 1l1 -2l-1 -4l-3 0l-2 2l-4 -6zM313 280l1 -1l2 1zM646 280l3 0l2 3l-4 3l-4 -3zM653 280l7 0l-3 2zM195 283l5 -2l4 2l-2 3l0 5l-5 2l-3 -1l-1 -6zM209 288l9 1l1 2l-3 4l-3 0l-5 -4zM686 291l3 -1l4 6l-11 0zM601 293l3 0l0 3l-4 0zM204 296l1 -1l1 1zM251 296l2 -1l2 1zM324 296l1 -2l0 2zM649 296l6 -1l1 1z"/><path fill="#7ccabe" fill-rule="evenodd" d="M221 48l3 0l0 3zM467 48l30 0l0 3l-5 10l9 3l-7 13l-6 8l4 2l-2 8l-3 0l-3 -4l-6 -1l-11 -16l-2 -7l2 -6l-2 -5zM583 48l5 0l2 3l-1 8l2 2l-1 3l-7 4l-1 -1l3 -6l-2 -5zM872 51l4 -3l43 0l7 5l6 1l-6 2l2 11l10 15l4 12l3 4l5 3l-3 11l-2 0l-3 -4l-3 0l-8 4l-3 4l2 5l6 6l2 7l-4 6l-6 2l0 3l3 5l7 5l0 3l-2 2l-6 3l-2 3l1 10l2 5l3 1l5 -5l8 -2l19 2l5 3l6 -2l2 1l0 8l6 7l0 6l-14 7l0 -5l-6 -8l8 -5l-2 -2l-5 -2l-6 7l-10 2l-8 3l-11 -1l-5 1l-8 -6l-5 2l-6 6l-5 1l-8 4l-8 0l-5 -2l-14 2l-6 -2l-1 -2l5 -3l0 -8l3 -2l-2 -8l1 -2l6 4l2 -9l6 -4l-3 -8l-3 -2l-2 -7l-6 1l-2 0l-2 -7l2 -3l8 -2l5 -4l7 -9l4 -13l0 -3l-3 -5l-8 -19l1 -5l-6 -5l0 -3l-6 0l-4 -5l1 -8l5 -5zM915 183l-2 1l0 5l4 -5zM992 48l1 6l-3 -3zM532 54l0 -1l8 8l-2 2l-4 -2zM220 56l2 0l0 5l1 3l9 10l-2 3l-4 1l-2 -1l-6 -10l0 -8zM597 67l4 0l3 2l0 4l-5 3l-11 1l-1 -3zM630 69l1 -1l2 0l4 1zM758 69l6 -2l3 2l-6 12l-4 -7zM532 72l3 -2l11 2l1 5l7 5l2 0l7 -5l-1 -3l2 -3l5 1l2 2l-7 3l-1 3l4 2l5 1l8 -7l5 9l3 2l5 -1l6 1l-5 6l5 6l2 0l3 -1l3 -5l5 -3l3 0l1 5l4 1l8 5l5 -5l6 -1l2 5l6 2l8 12l0 2l-6 5l-13 4l-11 -4l-5 -4l-16 1l-13 -2l-6 3l-5 0l-5 -2l-3 0l-4 4l-12 3l-5 5l-8 0l-5 2l-3 -2l-11 -1l-8 1l-8 -1l-8 2l-7 -3l-1 -3l1 -3l7 -1l8 -5l3 -7l8 -2l2 -3l7 -10l-6 -3l-2 -8l4 -2l3 -5zM532 102l-1 1l1 3l4 0l1 -3zM564 100l3 2l5 -1zM575 87l-1 3l1 0zM865 77l2 -2l4 5l-6 0zM219 82l5 -2l5 3l11 1l2 3l2 6l-1 5l-5 5l0 3l6 5l0 3l-2 1l-5 1l3 3l0 5l-6 5l-5 10l-3 0l-4 -5l-4 -13l-1 3l-4 2l-4 -7l-3 -8l2 -2l2 1l3 5l3 0l1 -1l1 -11l-2 -13zM990 85l3 -2l0 22l-7 6l4 2l3 -1l0 12l-6 -3l-2 -1l-6 4l-2 1l-1 -4l2 -5l6 -5l0 -3l-5 -5l2 -5l-2 -3l3 -4l3 2l-2 5l4 1l2 -1l-2 -5l3 -4zM762 87l2 -2l2 0l1 5l2 4l3 2l8 0l9 7l-1 5l2 5l6 0l5 -4l3 1l1 4l-12 3l-5 4l10 7l8 8l6 1l0 3l-1 2l6 3l-1 2l1 3l1 -3l-1 -5l3 -2l5 0l1 2l-2 3l1 5l-5 5l-8 1l-8 -1l-6 -4l-10 -4l-2 -2l0 -5l-6 -8l0 -3l2 -2l-5 -1l-8 3l-9 -2l-3 -6l-3 -13l7 -5l5 3l3 -3l0 -3l-8 -2l-1 -5zM165 95l0 -2l3 3l5 0l0 3l-2 2l1 2l4 2l2 5l6 4l-2 2l-6 -4l-6 2l-5 -1zM474 103l2 3l-1 5l-3 5l10 3l5 3l1 2l0 3l-12 6l-2 0l-3 -5l-3 -1l-6 5l3 5l9 -1l8 6l8 -3l5 3l13 0l16 -4l8 3l3 1l3 4l5 3l1 4l-9 11l-14 2l0 2l2 3l4 1l8 -3l13 13l11 5l21 0l3 1l5 -1l11 2l2 2l8 13l6 3l10 12l8 1l-5 3l-3 -1l-5 3l-8 -4l-3 1l-2 4l-8 3l0 3l5 4l3 -1l10 3l19 2l8 -4l19 1l5 -3l3 2l-4 5l4 5l16 8l21 -7l5 -7l3 -2l10 7l16 8l3 0l5 -4l6 0l3 5l3 8l-4 12l-1 4l-4 2l-2 6l1 5l-3 5l-43 0l3 -5l1 -5l-4 -11l0 -8l-3 -3l-8 2l-8 8l-8 1l-4 -2l3 -8l-2 -2l-5 1l-8 -4l-3 1l-11 11l-5 1l-3 0l-2 -3l-11 -5l-12 2l-7 6l-5 -3l-5 0l-8 -3l-4 -2l-1 -5l4 -6l-5 -5l2 -5l-4 -6l-8 2l-5 -3l-3 -3l-3 0l-5 5l-3 0l-8 -5l-8 -2l-3 -9l1 -8l-2 -5l-9 -8l0 -11l-3 -2l-10 1l-3 -1l-1 -2l8 -11l0 -2l-2 -2l-13 2l-5 9l-11 -1l-2 2l-1 5l-8 8l-5 1l-5 -3l-6 0l-8 8l-5 -7l-5 0l-6 -9l1 -11l13 -4l8 1l2 3l2 -2l0 -14l-6 -7l-1 -6l3 -10l-2 -8l2 -2l2 0l2 -3l1 -8l5 0l2 -2l-2 -6l3 -5zM794 103l4 -2l3 0l1 5l-1 2zM262 116l4 0l5 3l-5 8l-2 -1l-4 -5zM295 158l6 1l5 7l-3 0l-8 -5zM410 174l3 -3l2 0l3 3l5 3l4 4l-1 3l-5 0l-3 3l-1 5l-2 0l-13 -5l0 -6l-3 -2l0 -3l3 -1l5 1zM165 176l3 -1l10 2l6 2l5 5l3 -2l1 -3l3 -3l8 0l3 3l0 2l-2 3l3 5l5 5l-2 8l-3 3l-8 -2l-8 -10l-8 -3l-19 8zM327 176l3 -2l2 2l-2 3zM343 179l3 -1l2 1l-2 1zM715 184l4 0l5 4l12 -4l4 0l1 5l-1 3l-11 3l-5 -1l-3 1l-3 -2l-5 1l-1 -5l1 -5zM853 194l5 3l-1 1l-3 1l-2 -2zM777 197l11 -1l10 4l1 5l3 0l2 -3l2 -2l5 5l-7 13l-7 5l0 3l4 5l-2 5l2 5l-1 3l-2 1l-10 1l-10 -7l-3 -3l-2 -8l-4 -2l-5 -8l-4 0l-1 -3l2 -2l5 1l3 -4l0 -5l5 0l-1 -5zM815 200l5 -2l4 9l-2 2l-3 -2l0 -2l-3 -3zM845 202l1 -2l2 2l-2 1zM315 207l5 0l26 11l-1 5l1 3l4 2l-9 6l-8 0l-8 4l-6 -8l-2 -1l-5 4l1 8l-2 4l-5 0l-8 3l-10 -4l-1 -3l1 -2l9 -8l0 -3l-3 -5l1 -3l3 -1l5 -7l6 -3zM739 215l4 0l0 3zM474 233l2 -1l3 0l3 4l0 3l-6 2l-2 -1l-2 -4zM441 236l1 -1l6 4l2 2l-1 3l-4 10l-9 2l-9 -7l0 -3l4 -5zM891 236l6 -2l5 1l12 6l-4 3l-19 1l-6 -4l1 -2zM803 241l3 -1l7 4l-4 2l-5 -2zM918 241l3 0l0 2zM394 246l11 -1l2 1l-1 6l2 5l-3 5l-3 0l-5 -4l-3 1l-5 8l-3 0l-6 -2l-2 -5l-3 1l-2 4l-6 0l0 -8l3 -2l5 1l6 -6zM165 252l3 5l-3 7zM976 280l1 0l0 3zM985 280l5 -2l3 3l-1 5l-5 3l-4 -6zM196 283l5 0l-1 8l-3 1l-3 -2l0 -4zM645 283l2 -2l3 2l-3 3zM211 291l3 0l-1 2zM686 293l3 -1l3 4l-9 0zM966 293l3 -2l5 2l5 -1l3 1l1 3l-17 0zM992 293l1 -1l0 4z"/><path fill="#67bbb0" fill-rule="evenodd" d="M468 48l28 0l-1 6l-4 2l-1 5l2 3l6 0l1 3l-7 12l-6 6l-1 2l5 3l0 3l-3 1l-3 -5l-1 1l-4 0l-7 -13l-5 -3l-1 -7l2 -6l-2 -5zM585 48l3 3l0 5l-3 2l-1 -4zM874 51l6 -3l38 0l7 6l-1 5l2 10l5 3l3 5l8 19l1 2l5 3l1 2l-2 7l-8 -3l-8 4l-4 5l2 5l6 6l1 7l-5 6l-6 2l0 3l6 7l6 3l0 3l-3 2l-5 1l-2 2l-1 5l1 8l3 5l4 1l11 -6l5 2l11 -1l10 5l6 -3l0 8l8 9l-2 4l-6 2l-6 -1l-1 -7l6 -5l-7 -5l-3 0l-3 1l-2 5l-3 1l-11 3l-5 -1l-5 2l-6 -1l-5 1l-6 -6l0 -5l-2 -2l-3 -1l-4 3l-3 13l-14 6l-19 -1l-8 -4l-1 -6l1 -3l3 0l4 -2l2 -13l5 -3l2 -3l-4 -8l-4 -3l0 -7l-9 0l-1 -5l2 -3l6 0l12 -13l5 -15l0 -3l-11 -24l1 -5l-7 -10l-6 0l-2 -3l0 -8zM899 162l-1 1l7 10l1 -5zM923 167l-1 4l4 0l0 -3zM926 157l0 4l3 -3l0 -2zM883 144l3 4l3 0l2 -3l-5 -2zM883 180l-1 1l1 4l3 -1l1 -3zM221 67l3 0l6 7l-4 2l-2 -2zM596 69l3 -2l4 2l1 3l-3 2l-5 0l-2 -2zM760 69l3 0l1 3l-3 4l-3 -2l0 -3zM535 72l8 1l1 1l0 3l10 6l5 -1l3 -2l3 2l7 3l-2 5l5 2l2 -1l3 -4l3 -1l5 4l4 -3l3 0l-1 3l-2 3l7 7l2 1l8 -8l3 -2l2 4l6 2l8 4l8 -4l5 5l6 2l5 7l1 5l-4 4l-13 4l-3 0l-8 -4l-5 -4l-13 2l-16 -3l-6 4l-5 0l-5 -3l-3 0l-5 5l-3 -1l-8 3l-5 5l-8 0l-5 2l-3 -2l-19 1l-8 -2l-8 2l-6 -2l-1 -3l2 -2l11 -5l5 2l3 -2l-3 -6l2 -3l9 -2l2 -6l6 -7l-3 -3l-3 0l-2 -5l4 -5l1 -3l6 -3zM564 99l-2 4l2 1l8 -1l2 -2l-2 -2zM530 102l-1 1l3 4l6 0l1 -1l-1 -4zM567 72l2 2l-5 1l0 -1zM220 82l4 -1l10 5l6 0l3 7l-1 5l-5 5l2 5l4 3l0 3l-6 0l-2 2l4 8l-5 4l-5 9l-6 -3l-3 -13l-3 -5l2 -2l0 -3l-1 -3l2 -5l-2 -5l1 -5l-2 -6zM991 85l2 -1l0 19l-4 -10l2 -3zM764 87l4 8l0 3l-4 0l-2 -3zM165 98l0 -2l4 7l5 3l1 2l-1 3l-4 2l-5 -1zM169 98l3 0l-2 1zM775 98l2 -1l3 0l7 6l1 8l3 5l-6 5l-13 6l-3 1l-8 -2l-4 -7l1 -5l-2 -6l5 -4l5 3l3 0l3 -7zM772 111l-1 3l3 1l0 -3zM984 101l3 0l5 2l-2 1l-3 4l-2 -1l-4 -4zM796 103l5 0l0 1zM470 106l1 -1l3 1l0 5l-3 2l-2 -5zM209 114l1 -1l5 6l0 2l-2 3zM798 114l3 -3l1 3zM983 114l2 -2l2 2l3 0l3 -1l0 10l-6 -4l-2 0l-6 4l-2 -2l2 -4zM262 119l2 -2l5 2l-3 7l-4 -2zM463 119l3 -2l5 2l8 -1l8 6l0 3l-3 1l-5 1l-3 3l-2 -1l-3 -4l-6 0zM784 127l1 -2l8 1l5 3l11 11l0 4l4 1l4 7l4 -5l-2 -5l3 -1l1 1l-1 3l1 5l-3 3l-8 2l-8 -2l-6 -3l-9 -3l-2 -2l0 -8l3 -3l-2 -1l-3 0l-3 -1l-1 -3zM471 137l11 5l8 -3l5 3l11 1l18 -4l8 3l6 6l5 2l0 3l-8 9l-3 2l-8 -1l-5 3l1 5l10 3l1 0l1 -3l3 -1l13 13l11 5l11 -1l15 2l3 -1l8 1l5 3l8 13l6 3l12 12l-7 4l-6 -4l-5 0l-4 6l-8 2l1 5l4 6l13 -1l21 2l8 -3l19 1l5 -3l1 1l-4 5l1 3l7 5l8 3l3 2l3 1l21 -7l8 -8l26 14l3 0l5 -4l6 0l3 4l2 8l-3 10l-8 10l-1 14l-42 0l3 -10l-3 -13l0 -6l-1 -2l-3 -3l-8 2l-8 8l-8 2l-2 -1l2 -8l0 -3l-8 0l-8 -3l-3 1l-11 11l-5 0l-16 -7l-16 3l-1 3l-2 1l-2 -2l-8 0l-7 -2l-4 -2l-1 -3l0 -2l5 -6l-6 -5l2 -5l-8 -15l0 7l-5 2l-8 -5l-3 0l-5 5l-3 0l-8 -5l-8 -2l-2 -8l1 -8l-1 -5l-10 -8l-1 -13l-3 -1l-10 0l-1 -1l6 -13l-3 -3l-13 2l-5 8l-8 0l-5 -2l2 -1l0 -3l-8 -2l0 6l4 5l0 3l-7 9l-5 1l-8 -3l-3 1l-8 7l-5 -7l-5 -1l-5 -7l0 -8l2 -4l11 -2l6 1l4 3l5 -1l-2 -5l0 -8l3 -3l-8 -7l-2 -6l2 -6l2 1zM411 174l2 -2l2 1l8 5l1 3l-6 4l-3 6l-11 -4l2 -3l-1 -5l-4 0l6 -2zM199 176l3 0l3 3l-1 5l1 3l7 7l-3 8l-1 1l-4 -1l-3 -2l-1 -4l-3 1l-5 -6l-8 -2l-6 1l-8 6l-5 1l0 -18l3 -3l14 3l3 2l4 7l3 -1l2 -8zM328 176l2 -1l1 1l-1 2zM713 187l3 -2l2 0l4 4l0 3l-9 0zM732 187l5 -1l3 3l-11 5l-4 -2l1 -3zM779 197l6 -1l5 3l6 0l2 6l3 1l5 -4l3 3l-5 12l-8 6l0 3l4 5l-2 5l1 5l-1 3l-10 1l-12 -9l-2 -8l-5 -4l-2 -4l0 -5l5 -7l3 -1l0 -7zM308 210l11 -2l24 10l1 5l2 5l-7 5l-6 1l-6 3l-2 0l-3 -6l-5 -3l-6 5l1 8l-1 2l-5 0l-8 4l-8 -3l-2 -3l1 -2l9 -8l5 -3l0 -2l-4 -6l1 -2l1 -3zM475 233l1 -1l4 1l1 3l0 3l-5 1l-2 -1l-1 -3zM894 236l8 0l8 5l-3 3l-5 1l-12 -1l-3 -3l1 -2zM437 239l5 -2l7 4l-5 12l-8 2l-8 -6l-1 -3l5 -5zM806 241l5 3l-5 0zM398 246l7 0l1 11l-1 4l-11 -3l-3 2l-3 5l-2 1l-4 -1l-1 -3l1 -2l-4 -3l0 -3l2 -2l11 -5zM165 257l0 -1l0 2zM369 257l1 -1l4 1l-1 6l-3 0zM986 283l1 -2l3 -1l1 3l-1 3l-3 0zM195 286l2 -2l2 2l-2 4l-2 -2zM968 293l3 0l7 3l-11 0zM684 296l5 -2l2 2z"/><path fill="#55aea5" fill-rule="evenodd" d="M469 48l15 0l0 6l5 10l9 3l-6 11l-10 11l-4 -2l0 -2l-2 -3l0 -5l-8 -2l-2 -6l4 -8l-3 -5l2 -2zM485 51l2 -3l8 0l0 4l-5 3l-4 -1zM876 51l6 -3l35 0l6 6l-1 5l2 10l7 5l10 24l6 3l1 2l-1 3l-2 1l-6 -1l-8 4l-5 6l0 6l5 2l3 3l1 7l-4 5l-5 1l-3 2l1 5l5 6l-4 2l-1 8l-4 8l11 12l6 -1l8 -5l5 3l8 -2l5 1l2 2l-4 7l-3 1l-5 0l-6 4l-16 -2l-5 2l-4 -4l0 -5l-2 -3l-2 -1l-3 0l-7 4l0 5l-3 3l2 2l-1 3l-7 2l-5 3l-19 -1l-6 -4l-1 -5l6 -3l2 -2l2 -3l-1 -5l1 -5l5 -3l1 -3l-9 -13l4 -8l-4 -2l-2 0l-3 3l-3 0l0 -3l3 -1l3 1l10 -14l5 -2l3 -18l-8 -16l-3 -8l0 -5l-5 -10l-2 -2l-6 1l-1 -2l0 -8zM894 159l-2 1l8 8l2 6l3 1l5 -5l3 0l0 -2l-6 -1l-5 -6zM910 59l-1 2l1 2l4 -2zM883 178l-4 6l4 3l3 -1l2 -5zM883 141l-2 4l1 2l4 2l5 -2l1 -2l-1 -2zM902 187l-1 2l1 1l1 -1zM891 167l-1 1l1 3l4 3l1 -6l-2 -1zM598 69l2 0l2 3l-3 1l-3 -1zM528 80l2 -3l2 1l6 0l2 3l6 -1l5 4l8 0l3 -2l2 2l4 1l0 5l6 5l-4 3l-6 0l-3 5l1 3l13 -3l8 -13l1 3l7 1l5 3l5 9l2 -5l6 -7l11 3l8 5l8 -4l5 5l3 0l5 5l4 6l-1 2l-3 2l-2 0l-14 5l-8 -4l-5 -4l-13 2l-11 -1l-5 -2l-8 4l-8 -3l-3 1l-5 4l-5 0l-8 3l-3 4l-3 1l-13 -2l-19 2l-10 -1l-6 1l-5 -1l0 -3l11 -6l8 2l2 -3l5 -1l-7 -2l-1 -3l3 -2l7 -1l1 -5l3 -1l2 4l6 2l3 1l2 -2l0 -5l-8 -2l-4 -2l3 -5l0 -3l-6 -3zM546 89l-6 6l0 4l3 0l2 -1l0 -3l4 -5zM222 82l2 0l8 5l8 0l2 6l-1 5l-5 3l0 5l4 5l-5 3l-1 2l0 3l4 2l0 3l-4 3l-5 9l-6 -2l-2 -13l-2 -5l2 -5l-2 -3l2 -5l-2 -5l2 -5l-3 -6zM992 85l1 13l-3 -3l0 -2zM165 101l0 -3l3 7l5 3l-1 3l-7 0zM778 101l2 -3l6 5l0 5l3 8l-9 7l-11 4l-8 -2l-2 -6l1 -5l-2 -3l0 -3l3 -3l3 1l8 14l5 -6l-1 -3l-6 -3l1 -2l1 -3l2 -1l3 2zM983 103l2 -1l3 1l-1 3l-2 -1zM470 108l1 -2l2 2l-2 3zM992 114l1 7l-4 -2l-1 -3zM983 116l2 -1l1 1zM263 119l3 0l0 5l-2 0zM466 119l5 2l8 -2l6 5l0 3l-11 1l-3 -4l-5 -1zM979 119l3 -2l1 2l-4 2zM790 129l3 -2l3 1l8 6l3 6l1 5l4 1l2 7l-5 1l-18 -7l-3 -2l0 -5l4 -6zM467 140l4 -2l8 4l11 -1l5 2l11 0l18 -3l8 3l4 4l5 3l0 3l-9 10l-8 0l-7 3l0 2l-6 3l-11 2l-3 6l-7 0l-2 -5l-6 -4l-3 1l-3 3l2 7l4 3l0 3l-6 8l-2 2l-11 -4l-3 1l-5 5l-3 1l-2 -6l0 -6l-3 -1l-5 2l-3 -2l-1 -8l1 -3l3 0l5 0l8 -1l5 4l8 0l-4 -11l1 -5l4 0l1 -3l0 -2l-10 -3l-3 -8l1 -2zM932 155l3 0l0 3l-4 2l0 -2zM412 174l3 0l7 5l-7 8l0 2l-3 0l-5 -8l0 -2zM521 174l11 2l3 -5l13 12l11 6l11 -1l13 3l5 -1l11 2l2 2l4 6l2 5l8 4l9 11l-4 3l-5 -3l-6 -1l-5 6l-3 1l-5 -3l-3 0l3 13l5 4l8 0l6 -1l21 2l8 -4l13 1l16 13l6 1l5 4l3 0l21 -7l8 -8l26 14l3 0l5 -4l6 0l2 4l2 7l-2 8l-9 10l-1 16l-38 0l1 -13l-4 -10l2 -6l-1 -3l-5 -3l-8 1l-6 7l-2 2l-6 1l-2 0l2 -7l-2 -5l-6 0l-10 -2l-3 1l-8 6l-4 0l2 2l-1 3l-13 -3l-2 -2l1 -5l-2 -1l-5 4l-29 5l-6 -1l-4 -2l-1 -3l1 -2l3 -3l1 -3l-6 -5l3 -5l-4 -5l-4 -11l-2 -1l-1 1l-4 8l-11 -4l-5 5l-3 0l-16 -7l-2 -10l2 -5l-2 -8l-9 -5l-1 -13l-12 -3l0 -2zM167 179l3 -2l11 2l4 5l-1 3l-10 5l-4 3l-5 2l0 -14zM195 179l5 -2l4 2l-2 5l1 3l3 5l4 2l-2 8l-5 -2l0 -6l-9 -5l-1 -2zM715 187l3 0l0 2l-2 2l-3 -1zM728 189l4 -1l2 1l-5 4l-2 -1zM976 192l3 -1l3 1l2 5l-7 4l-5 -1zM783 197l13 4l2 5l3 1l6 -2l-1 5l-2 6l-9 7l0 3l4 5l-2 5l1 5l-2 3l-8 1l-3 -4l-8 -5l-3 -10l-5 -3l-1 -3l0 -5l4 -5l4 -3l1 -7zM309 210l13 -1l18 9l3 2l0 8l-5 5l-5 0l-6 3l-2 0l-3 -8l-5 -3l-3 1l-4 7l1 8l-13 5l-7 -2l-2 -3l1 -2l8 -7l5 -2l1 -4l-3 -8zM314 215l-1 3l1 2l3 -1l0 -4zM476 233l3 1l2 2l-2 3l-5 0l0 -3zM896 236l6 0l4 3l0 2l-4 3l-8 0l-5 -3zM439 239l3 -1l5 3l1 3l-4 8l-2 2l-6 1l-7 -6l-1 -3l5 -5zM388 249l14 -2l2 2l1 11l-3 0l-5 -3l-3 0l-4 3l-1 2l-3 1l-3 -1l3 -2l-5 -3l-2 -3l2 -2zM968 296l1 -2l5 2z"/><path fill="#419f97" fill-rule="evenodd" d="M471 48l12 0l-1 6l5 16l3 2l1 -5l5 0l0 2l-3 3l-2 5l-7 6l-1 -1l-2 -5l-10 -2l-3 -3l0 -5l6 -4l2 -4zM489 51l2 -3l2 0l-1 4l-2 0zM880 51l4 -3l32 0l6 6l-1 10l2 5l8 5l2 3l3 10l0 3l4 5l0 6l6 2l-1 2l-6 -1l-13 10l-1 2l1 7l7 4l1 7l-3 4l-8 2l-2 7l6 6l-3 2l-2 11l-4 5l-3 -1l-2 -4l-6 -1l-2 -2l0 -4l-8 0l-6 -2l-1 1l3 5l-2 3l-5 1l-10 -12l5 -6l8 1l3 -3l1 -2l-2 -4l-11 -1l3 -8l6 -1l2 -2l-2 -5l2 -16l-7 -13l-7 -23l-4 -4l-6 2l0 -3l0 -6l6 -3l2 -5zM902 68l-1 1l1 3l2 -3zM910 58l-3 3l1 3l11 0zM921 74l-3 3l5 1l0 -2zM878 62l-1 2l1 1l1 -1zM469 56l2 -1l1 1l-1 3zM531 80l4 -1l5 3l-3 3l-5 2l-2 -2zM545 82l3 2l0 2l-5 2l-6 10l-2 1l-4 -1l1 -4l8 -7l0 -2zM220 85l4 -2l3 2l3 5l10 -1l2 4l0 2l-2 3l-8 3l5 10l-5 5l0 3l4 5l-7 10l-3 1l-2 -3l-4 -16l3 -5l-2 -3l2 -5l-3 -5l2 -5l-3 -6zM551 87l5 -2l6 1l2 4l5 3l2 2l-7 2l-4 4l0 2l2 4l8 -1l7 1l1 -6l5 -6l8 1l4 2l6 10l4 -2l0 -5l4 -3l10 0l9 5l8 -4l5 7l-1 5l3 8l-10 3l-8 -4l-5 -4l-13 2l-6 -1l-5 0l-5 -3l-3 1l-2 3l-3 2l-6 -2l-2 -2l-8 5l-5 -1l-8 4l-6 5l-8 -3l-10 3l-14 0l-10 -2l-6 3l-4 -1l0 -3l10 -5l8 2l2 -2l6 -1l1 -2l-1 -2l-6 -3l8 -1l3 -4l11 4l2 0l3 -7l5 -5l-1 -3zM991 93l2 -3l0 7zM780 103l2 -1l2 1l2 13l-9 7l-2 -2l4 -5l0 -2l-7 -8l2 -1l3 2zM165 106l0 -2l2 4l-2 1zM643 108l1 -1l5 2l2 5l-2 2l-2 -1zM760 108l1 -1l3 1l0 5l-4 -2zM762 116l2 -2l2 1l6 9l-3 2l-4 -2l-4 -5zM991 116l2 -1l0 5l-2 -1zM475 121l4 -1l4 4l-1 3l-8 -3zM793 129l3 0l7 5l3 6l0 10l6 -3l0 6l-3 0l-3 -3l-5 0l-12 -5l1 -5l3 -6zM471 140l8 3l11 -1l5 2l11 0l18 -3l8 3l7 6l1 3l-8 9l-13 2l-3 1l-2 3l-6 3l-8 0l-5 6l-3 -1l-10 -9l-8 7l2 6l-2 3l-3 0l-2 -7l5 -2l-2 -6l0 -10l-12 -5l-2 -6l2 -2zM492 162l-1 1l1 1l2 -1zM466 166l4 2l-4 3zM887 171l2 0l5 5l5 -3l6 5l5 -6l8 3l5 1l1 3l-3 0l-3 -2l-8 5l-3 0l-2 -3l-10 13l0 2l2 2l5 -3l3 1l-11 6l-4 0l3 -6l-4 -1l-2 1l0 6l-11 0l-6 -4l-1 -2l1 -2l11 -4l2 1l3 -1l3 -4l5 -3l-5 -1l-5 -4l-1 -2zM535 174l24 16l11 -2l13 4l5 -1l5 2l6 0l2 2l6 12l8 3l7 8l0 2l-2 2l-5 -4l-6 0l-5 6l-3 1l-5 -4l-3 0l-2 2l3 8l-1 6l8 4l6 0l8 -1l21 1l8 -3l5 1l8 -1l5 6l11 8l1 2l-1 2l-5 2l-8 -1l-5 6l-8 1l-3 3l-3 1l-3 -1l-2 -2l1 -5l-1 -3l-3 0l-5 5l-29 6l-6 -1l-4 -5l1 -2l4 -3l0 -3l-5 -5l2 -8l-4 -2l-3 -11l-4 -4l-5 7l-3 1l-8 -1l-5 5l-3 0l-8 -4l-5 -1l-3 -3l-1 -8l2 -5l-2 -8l-9 -6l0 -7l-1 -5l-2 -2l-8 -1l-2 -2l5 -10l10 4zM546 199l-1 3l3 4l2 -4l-1 -2zM570 205l-1 2l3 2l4 -4l-1 -2zM572 217l-2 1l2 2l2 -2zM410 176l3 -2l2 1l5 4l-1 2l-6 4l-4 -4l-1 -2zM879 176l2 -1l1 1l-4 3zM169 179l7 0l5 1l3 4l-14 10l-5 2l0 -11zM197 179l3 -1l3 1l-2 5l2 5l0 3l-8 -5zM440 179l2 -3l2 1l11 0l12 4l1 3l6 1l5 -1l2 3l-5 2l-2 6l-14 -2l-5 5l-3 1l-2 -12l-6 -4l-2 0zM944 179l9 3l4 -3l3 0l3 2l-2 5l-3 1l-5 -1l-6 5l-10 -1l-11 -3l1 -3l10 -1zM207 194l1 3l0 2l-2 -2zM978 194l4 0l0 3l-7 3zM779 200l6 -2l10 4l3 5l6 0l1 3l-4 8l-5 2l-1 3l0 3l3 5l-2 5l1 5l-2 3l-7 0l-3 -4l-8 -5l-1 -4l1 -5l-6 -3l-2 -3l2 -7l7 -6zM311 210l11 0l8 5l8 3l2 2l-2 3l3 2l0 3l-3 4l-5 0l-6 3l-2 -1l4 -11l-7 3l-3 -1l-2 -2l2 -8l-2 -2l-3 0l-2 5l1 5l-4 10l0 8l-11 4l-5 -1l-3 -3l2 -2l6 -6l6 -2l1 -5l-3 -8l1 -3zM475 236l1 -2l4 2l-4 3zM893 239l6 -2l5 2l1 2l-3 3l-5 -1l-5 -2zM434 241l8 -2l5 2l0 3l-5 9l-6 -1l-6 -3l0 -3zM713 244l3 -1l5 1l19 10l2 3l3 -1l8 -5l4 3l2 8l-3 8l-11 3l0 2l2 3l0 18l-36 0l0 -18l-2 -5l1 -8l-5 -5l-7 -3l0 -3l10 -4zM390 249l12 0l2 8l-2 2l-5 -3l-3 0l-5 3l-8 -4l0 -1zM692 254l4 0l1 3l-7 10l-3 3l-6 0l1 -5l-2 -5l1 -2l8 -1z"/><path fill="#31938b" fill-rule="evenodd" d="M473 48l9 0l-2 6l2 2l4 16l2 2l0 3l-4 4l-2 -7l-11 0l-3 -3l0 -3l9 -7l0 -5zM886 48l24 0l0 2l3 -2l5 3l3 3l-1 5l-2 1l-8 -4l-3 1l-1 4l0 3l1 1l8 1l6 3l0 3l-8 3l-2 2l12 3l2 -3l0 -3l4 0l3 3l3 10l-4 3l0 3l3 -1l5 3l-3 6l1 2l-2 3l-10 8l-1 2l2 8l6 3l1 7l-2 3l-2 1l-6 -1l-5 -3l-3 2l0 2l6 2l0 3l-4 7l5 5l-2 11l-2 3l-5 -5l-6 -1l0 -5l-2 -4l-6 4l-10 -5l-1 5l2 5l-1 1l-6 -1l-6 -8l4 -4l8 1l4 -5l1 -5l-5 -4l-6 0l0 -4l3 -2l3 1l6 -1l-5 -5l0 -6l3 -10l6 -8l-2 -3l-6 5l-6 -10l-3 -13l-3 -5l0 -5l-3 -5l5 -3l0 -3l-3 -1l-2 1l-1 6l-5 1l-2 -1l0 -3l5 -4l3 -6l7 -2zM889 56l-2 3l2 8l4 -6zM902 66l-4 6l1 1l6 -1l1 -3l-1 -3zM905 90l0 6l2 -1l6 2l3 -2l1 -2l-2 -2zM905 103l-1 3l2 2l1 1l4 -1l-1 -2zM491 69l1 -2l3 1l0 2l-3 1zM532 82l4 0l-1 1zM221 85l3 -1l2 1l1 2l0 3l2 2l3 0l5 -2l3 1l1 2l-1 4l-6 0l-5 4l1 2l4 2l1 6l-5 8l3 5l-2 5l-2 3l-3 1l-3 -9l-1 -8l3 -5l-2 -3l0 -2l2 -3l-4 -5l3 -5l-4 -6zM553 87l3 -1l3 1l3 4l5 2l0 2l-5 3l-3 2l-1 3l4 6l2 0l6 -2l3 1l1 3l-7 7l-5 -2l-3 1l-7 4l-4 5l-8 -4l-10 4l-11 0l-13 -3l-4 4l-4 0l0 -3l5 -3l11 2l2 -3l7 -1l1 -3l-1 -2l7 -5l10 4l10 -15l0 -5zM548 110l-2 1l2 3l3 1l0 -4zM582 98l3 0l-1 5l1 1l3 -1l0 -5l5 -1l5 9l3 4l3 -1l3 -7l8 -3l5 0l8 4l8 -3l2 3l0 5l3 11l-5 1l-3 -7l-4 1l-1 4l-8 -5l-13 2l-6 -1l-5 0l-5 -3l-3 0l-4 5l-4 1l-4 -3l0 -3l6 -5l-3 -3l0 -2zM646 111l1 -1l2 0l0 4zM781 111l1 -1l0 3zM476 121l3 0l1 3l-4 0zM768 124l1 -2l1 2zM795 132l6 2l4 6l0 2l-1 6l-3 1l-10 -4l-1 -3l4 -5zM473 142l6 2l5 0l3 2l3 -2l16 1l18 -3l8 4l7 7l-7 7l-16 3l-3 5l-7 3l-6 -1l-5 5l-7 -4l-2 -5l-7 -5l-2 2l3 3l-1 2l-3 2l-2 -2l1 -5l-2 -5l-2 -3l-8 -1l-3 -3l-1 -4l1 -1l3 -2zM492 159l-2 2l-1 2l3 3l3 0l1 -3zM471 149l-1 1l1 1l4 -1zM886 174l3 -1l3 3l-3 2l-3 -2zM910 174l4 2l-1 3l-3 1l-3 -1zM411 176l2 -1l2 1l3 3l-3 3l-2 1l-3 -2l-1 -2zM471 176l3 0l1 3l-1 2l-3 -2zM521 176l3 -1l6 4l1 2l-1 4l-6 1l-5 -1l0 -4zM899 176l2 3l-3 5l0 3l-4 4l-5 0l-2 -2l2 -3l8 -5l-1 -2zM199 179l1 0l0 2zM448 179l16 2l4 6l6 2l0 3l-3 2l-11 -3l-5 6l-3 0l-1 -10l-5 -3l-1 -3zM168 181l2 -2l3 0l7 2l2 3l-9 6l-5 4l-3 1l0 -9zM535 181l3 -2l5 1l16 12l11 -3l13 4l5 -1l5 4l6 -2l5 6l2 7l9 4l5 7l0 2l-5 -3l-6 0l-5 6l-3 0l-2 -3l-6 0l-4 3l4 5l0 3l-2 5l-6 -8l0 -5l-8 -4l-5 -6l-5 5l2 5l-4 3l3 2l-4 1l-5 5l-3 1l-13 -5l-2 -2l-1 -8l3 -3l3 2l2 -1l2 -3l-2 -2l-5 1l-2 -4l-1 -8l6 2l2 6l3 -2l0 -6l0 -2l-5 -3l-3 1l-3 4l-2 1l-6 -1l-1 -2l0 -6l-1 -5zM562 212l-4 3l1 2l3 0l5 -2zM572 202l-4 3l0 2l4 5l3 -1l6 -9l-4 -2zM588 199l-4 3l4 4zM942 181l3 -1l6 4l-4 5l-2 1l-8 -1l-5 -2l7 -3zM955 181l3 -1l3 1l0 3l-3 2l-3 -2l-1 0zM871 194l4 -2l6 2l2 0l2 3l-7 1zM780 200l5 -1l8 3l5 6l6 2l-3 7l-6 3l-1 6l3 5l-2 5l1 5l-3 2l-5 -1l-3 -4l-8 -5l0 -2l1 -5l0 -3l-6 -1l-1 -2l-1 -5l2 -2l7 -6zM308 213l3 -2l2 2l-3 5l2 5l-5 10l1 6l-7 5l-6 0l-3 -3l1 -2l5 -5l5 -1l3 -2l-2 -13zM318 213l4 -2l8 6l6 1l2 2l-3 2l-8 -1l-5 4l-3 -1l0 -4l1 -2zM573 223l2 0l0 3l-2 0zM330 226l3 -3l5 4l0 3l-8 1l-1 -3zM327 233l0 -1l1 1zM476 236l2 0l-2 1zM895 239l2 -2l5 1l2 3l-2 2l-5 -1l-3 -1zM436 241l6 -1l3 1l1 3l-4 7l-3 1l-8 -5zM593 241l3 -2l8 3l11 -2l21 2l8 -3l11 0l2 1l6 6l8 5l1 3l-4 3l-8 -2l-5 7l-8 0l-6 4l-4 -1l1 -8l-5 -3l-5 7l-2 1l-22 3l-8 2l-5 -2l-1 -3l1 -2l5 -3l0 -3l-6 -5zM712 246l4 -1l8 2l14 7l4 6l8 -6l6 0l2 6l-3 7l-12 6l3 10l0 13l-34 0l1 -16l-3 -7l1 -8l-6 -8l-3 0l-1 -3l7 -3zM721 286l-3 5l0 2l3 0l2 -2l0 -3zM740 265l-3 2l-1 3l1 1l4 -1zM391 249l6 3l2 -1l2 1l1 5l-5 -2l-8 2l-7 -3zM683 260l9 -1l-1 6l-4 4l-3 0l-2 -2z"/><path fill="#23867e" fill-rule="evenodd" d="M474 48l7 0l-2 5l-3 0zM887 48l21 0l0 3l2 2l5 -2l3 2l1 1l-1 4l-3 -1l-5 -3l-3 1l-2 7l-6 3l-2 5l-6 2l6 1l2 4l0 3l0 -3l7 -5l1 -4l6 -1l3 2l-1 2l-5 3l-2 6l2 1l8 -2l5 3l6 -7l2 3l2 9l-4 3l-1 3l1 1l5 0l3 1l-3 6l0 5l-11 7l-1 3l3 8l6 3l1 2l-1 5l-5 2l-11 -4l-2 -6l-3 3l4 8l1 13l6 8l-3 10l-3 -2l0 -4l-2 -1l-3 2l-2 -3l1 -2l-2 -5l-2 -3l-3 1l-3 5l-5 0l-4 -3l5 -6l1 -5l-5 -5l1 -3l5 -2l-6 -5l0 -3l3 -13l3 -1l5 3l8 -2l3 -3l0 -2l-7 -5l1 -3l6 1l2 -1l6 -5l1 -3l-1 -3l-8 3l-3 -1l-2 -2l-1 -5l0 3l-4 5l-2 8l-2 1l-5 1l-3 2l-2 -2l-3 -5l-3 -13l-3 -5l0 -5l-2 -3l5 -5l0 -3l-6 -5l1 -2l5 0l2 2l2 11l2 2l5 -5l0 -3zM891 81l0 3l3 0l1 -2zM897 64l-1 0l2 0zM894 89l-1 4l1 2l3 -2zM478 56l1 -2l1 7l3 6l0 2l-4 3l-8 1l-1 -4l9 -8zM223 85l1 0l2 2l-2 2l-3 -2zM556 87l7 8l-5 3l0 8l6 6l4 -4l3 0l2 3l-2 3l-4 3l-5 -3l-11 6l-3 5l-2 0l-6 -5l-10 5l-11 1l-4 -2l1 -3l8 -2l1 -5l5 -4l5 1l5 4l6 -2l5 3l2 -2l-1 -3l-3 -3l-1 -2l4 -8l-1 -3l0 -2zM556 95l0 2l1 -2zM235 93l5 -1l0 3l-6 0zM224 95l2 -2l8 2l-2 1l-6 5l-3 -3zM590 101l1 -2l2 0l3 7l5 5l-5 3l-5 -5l-3 0l-5 7l-3 0l-2 -2l1 -3l4 -3l5 -2zM613 101l4 -2l8 5l11 -2l1 4l-1 4l-2 1l-7 0l-2 4l-5 -3l-11 2l-4 0l-3 -3l7 -8zM226 106l6 -1l3 3l-6 10l-3 1l-1 -3zM638 116l1 -1l0 2zM225 121l1 -2l3 0l1 2l1 6l-2 4l-3 0l-2 -7zM798 134l3 2l3 6l-3 5l-7 -2l-2 -3zM884 134l3 0l-1 2zM472 145l5 0l-3 1zM481 145l3 0l3 5l5 -6l14 1l18 -1l6 2l8 7l-6 6l-16 3l-8 8l-2 0l-6 -2l-5 6l-6 -3l-1 -3l2 -1l5 0l2 -1l1 -7l-8 -4l-3 -4l-11 8l-2 -4l2 -2l1 -6zM460 147l3 -2l3 1l3 7l-6 0l-2 -3zM880 153l4 0l2 2l0 5l-3 0l-5 -4zM484 160l3 -2l0 5l-3 -1zM412 176l5 3l-2 2l-2 0l-2 -2zM910 176l1 0l-1 3zM520 179l2 -3l5 2l2 3l-1 3l-4 1l-4 -1zM169 181l4 -1l4 1l2 3l-14 11l0 -8l3 -2zM447 181l3 -2l5 3l8 0l5 7l-2 1l-6 0l-5 6l-2 -2l-1 -7l-4 -3zM539 181l4 0l5 5l7 3l4 5l8 -4l10 2l6 3l7 -1l-7 6l-6 -1l-7 0l-5 6l0 2l4 3l2 3l-1 1l-3 0l-5 -6l-3 5l-4 2l1 3l3 1l5 -1l3 2l-5 6l-5 2l1 3l-2 2l-13 -4l-2 -3l2 -6l5 0l4 -2l1 -3l-2 -5l3 -10l6 0l-1 -2l-5 1l-3 -1l-5 -4l-6 2l-2 4l-3 2l-2 -2l4 -3l-5 -4l0 -4zM944 181l5 3l-2 3l-2 1l-3 -1l0 -3zM889 187l2 -2l6 2l-3 3l-3 0l-2 -1zM597 197l2 -1l4 4l1 7l-3 3l0 3l3 1l3 -4l5 0l5 5l-8 2l-5 5l-3 0l-2 -3l-3 0l-8 2l-11 -4l-1 -4l4 -6l3 -2l5 4l3 -9zM782 200l3 0l3 2l5 2l5 5l5 1l-2 6l-8 4l0 6l3 5l-3 11l-5 -1l-3 -5l-6 -3l-2 -2l3 -8l-9 -5l1 -3l8 -8l0 -5zM785 212l-1 1l1 0zM543 205l3 2l0 4l-3 1l-1 -5zM320 213l4 0l5 5l-7 5zM308 215l1 0l0 2zM332 218l1 0l0 2zM306 220l0 -1l3 0l1 4l-1 3l-3 -1zM331 228l2 -1l1 1zM587 228l1 -1l3 0l0 4l-3 0zM297 236l6 -1l2 1l0 3l-4 4l-4 1l-4 -3zM896 239l6 0l1 2l-6 1l-1 -1zM438 241l4 0l3 3l-3 5l-3 1l-6 -4l1 -2zM595 241l1 -1l8 3l11 -2l21 2l8 -3l11 0l2 1l1 3l-1 7l3 -5l11 6l-1 2l-5 1l-5 -3l-3 1l-2 7l-8 1l-6 4l-3 0l2 -8l-7 -5l-3 2l-2 6l-3 0l-2 0l0 -3l0 3l-6 3l-13 0l-8 4l-4 -2l-1 -3l2 -2l5 -3l2 -5l5 -3l-6 -1l-3 1l-2 -3zM713 246l11 1l13 7l2 3l0 5l-5 8l3 3l3 0l4 5l2 8l-1 6l-2 4l-20 0l1 -10l-3 -5l-1 5l-4 5l1 2l3 3l-6 0l-1 -10l1 -6l-2 -7l2 -6l-7 -13zM734 284l-1 2l1 1l5 -1zM388 252l3 -2l3 2l0 2l-5 2l-2 -2zM748 257l8 -2l1 5l-5 7l-7 2l-2 -2l-1 -2zM686 260l3 0l2 2l-2 4l-2 2l-3 -1l0 -2l0 -4z"/><path fill="#167a72" fill-rule="evenodd" d="M475 48l5 0l-4 3zM888 48l8 0l-5 3zM899 48l8 0l-2 3zM914 54l3 0l-2 1zM893 56l1 -2l8 1l2 1l1 3l-3 4l-3 -1l-5 -3zM478 64l3 0l1 3l-3 2l-4 0l1 -2zM882 67l1 -2l5 7l-1 5l2 8l2 2l0 6l2 5l-2 1l-2 -1l-3 -5l-1 -8l-4 -8l1 -5l-2 -3zM893 74l4 3l-3 2l-2 -2zM904 74l3 -1l1 4l-3 4l-3 1l1 3l-4 7l-3 -5l1 -2l5 -3l0 -5zM928 80l1 -2l0 4l3 3l-1 2l-4 3l-1 2l-2 -5l0 -2l3 -3zM911 82l4 -2l6 2l-8 6l-3 -3zM555 90l2 0l-1 1zM898 95l1 -1l0 2zM931 95l4 0l0 3l-3 3l0 5l-9 5l-3 5l4 8l5 3l2 2l-2 3l0 1l-11 -3l-1 -3l-4 -4l-5 6l5 11l-1 5l1 5l6 8l-1 2l-3 -3l-5 -1l-1 -3l2 -3l-4 -5l-4 0l0 2l-5 0l-1 -7l-3 -3l4 -5l-1 -3l-5 -2l1 -11l1 -4l3 0l5 4l4 0l8 -8l1 -2l-3 -3l1 -2l8 -5l5 5l2 0zM553 101l3 2l5 8l-1 3l-4 2l-6 -10zM615 101l2 -1l3 1l2 2l0 5l-2 3l-5 -1l-6 3l-2 0l-2 -2l2 -3zM590 106l1 -2l2 0l5 7l-2 1l-3 -1zM626 106l7 -2l2 2l-2 2l-5 1l-2 -1zM228 108l4 -2l1 2l-4 6zM568 111l2 -1l1 1l-1 3l-2 0zM526 114l4 -3l5 1l4 4l0 3l-9 6l-13 -1l0 -3l7 -1zM579 114l1 -2l2 2l-2 1zM542 116l4 -1l2 1l2 3l-2 3l-2 1l-5 -4zM225 124l1 -2l3 0l0 7l-3 -1zM798 137l4 3l0 2l-1 2l-4 -2zM513 145l9 0l8 2l5 6l-5 6l-11 2l-5 -2l-2 7l-6 3l-6 -3l1 -6l-2 -2l-10 -8l3 -4l14 0zM462 147l1 0l2 0l1 5l-3 0zM480 147l2 -1l2 1l-2 5l-3 1zM893 153l1 -2l3 2l0 1zM880 155l3 -1l0 4zM489 168l5 0l2 3l-4 0zM521 179l3 -1l2 1l2 2l-1 3l-5 0zM170 181l5 0l2 3l-2 3l-5 0l-1 0zM448 181l3 0l3 3l-4 0zM456 184l7 -1l2 4l-2 2l-5 0l-3 6l-1 -8zM539 184l4 -2l3 5l0 2l-3 3l-3 -1l-5 2l-1 -4zM944 184l3 0l-2 3zM891 187l4 0l-4 2zM165 189l0 -1l4 1l-1 3l-3 2zM549 189l5 0l1 5l-1 2l-3 -1zM565 192l2 0l2 2l-5 6l-2 -3l-1 -3zM570 194l2 -2l7 2l0 3l-4 1l-3 -1zM593 200l6 -3l3 3l0 7l-5 3l8 8l-1 2l-8 -3l-8 2l-10 -4l-1 -2l6 -6l5 4l2 -1zM556 202l8 -2l0 2l-8 11l-2 -1l-1 -2l1 -6zM782 202l0 -1l3 1l3 3l-2 2l-4 1zM788 205l5 0l8 5l0 3l-1 2l-7 3l-1 8l2 7l-4 7l-4 -7l-6 -1l-1 -1l3 -8l-2 -4l-4 -1l-2 -3l6 -3l1 3l4 1l1 -1zM608 213l1 -2l3 0l2 2l0 2l-6 0zM322 215l0 -2l3 5l-2 0zM551 220l3 -1l11 1l-3 4l-8 1l0 6l-11 -3l-1 -2l1 -3zM298 236l4 0l1 3l-2 3l-3 1l-3 -2l0 -2zM899 239l2 2l-3 0zM642 241l5 0l8 1l1 10l-4 6l-5 2l-6 4l-1 -2l1 -2l4 -3l-1 -2l-5 -1l-3 -5l2 -5zM435 244l4 -2l4 2l-1 3l-3 1l-4 -2zM595 244l1 -2l4 2l-4 2zM607 244l8 -3l10 2l8 2l3 4l-8 5l0 2l-5 -2l-3 2l0 4l-2 2l-3 1l-8 -2l-8 4l-6 0l-1 -3l1 -2l6 -2l2 -5l6 -3l0 -1l-2 -3zM714 249l7 -2l3 1l5 5l5 1l3 3l0 5l-4 11l7 2l3 5l0 11l-2 5l-15 0l0 -8l-2 -8l-8 0l-3 -7l2 -3l1 -2l5 2l3 -5l-7 -5l-1 -1l-3 2l-2 -2l-2 -5l0 -2zM734 282l-3 4l1 3l7 -1l3 -2zM389 252l3 0l0 2l-4 0zM663 252l5 0l0 2zM755 257l1 0l0 3l-3 1l-3 5l-5 1l-2 -2l1 -3l4 -3zM685 262l2 -1l2 0l0 4l-2 2l-2 -2zM714 283l2 -2l2 0l1 5l-3 3l-2 -3z"/><path fill="#086d65" fill-rule="evenodd" d="M890 48l3 0l-2 1zM894 56l8 0l2 3l-2 2l-3 0l-4 -2zM882 69l1 -1l4 4l-1 2l-3 0l0 4zM913 82l4 0l-1 3l-3 2l-2 -2zM889 87l1 3l-1 4l-3 -4l0 -1zM921 98l5 5l4 0l1 3l-8 2l-5 8l-3 0l-11 13l1 3l7 8l-2 3l-3 -1l-5 1l-3 -1l-2 -5l2 -5l-1 -3l-4 -2l-1 -3l2 -5l-1 -4l3 -1l5 4l5 0l9 -10l0 -2l-1 -3l1 -2zM617 101l3 2l-3 4l-2 -4zM552 106l2 -2l2 2l4 5l-1 1l-3 2zM608 108l1 -2l3 0l1 2l-1 3l-3 1l-3 -1zM528 114l4 -2l3 1l2 3l-1 3l-7 5l-10 0l0 -1l5 -2zM544 119l2 -3l2 3l-2 3zM917 119l1 -1l3 1l1 5l3 3l1 2l-8 -5l-2 -3zM492 147l19 0l5 -2l6 1l3 1l5 6l0 5l-11 2l-5 -4l-4 2l-1 2l2 3l-1 3l-4 3l-4 -3l0 -8l-7 -7l-3 -1zM912 153l1 0l0 1zM522 181l2 -1l2 1l-2 2zM171 184l2 -2l3 2l-3 2zM459 184l4 0l1 3l-1 0l-6 0zM165 189l2 0l0 3l-2 1zM564 194l1 0l-1 1zM573 194l3 0l-1 2zM596 200l3 -2l2 2l1 5l-9 5l-1 -3l0 -5zM556 205l1 0l0 2l-1 4l-2 -1zM790 207l3 -1l5 5l2 2l-2 2l-2 1l-6 -2l-1 -1zM583 210l5 4l5 -4l6 5l-16 0l-2 -2zM786 218l2 -1l2 1l1 8l-1 3l-8 3l-2 -1l0 -3l4 -5l-1 -3zM545 223l5 0l2 5l-6 0l-3 -2zM789 233l2 0l-1 4l-1 -1zM297 239l4 -2l1 2l-4 3zM644 241l9 3l1 8l-5 5l-11 -5l2 -8zM437 244l5 0l-3 3zM610 244l5 -2l16 3l2 1l0 3l-5 2l-3 -1l-7 4l1 6l-2 1l-2 1l-6 -4l-2 0l-8 7l-5 0l-1 -4l6 -1l5 -7l5 -1l3 3l3 -1l1 -2l-1 -2l-6 -1l-1 -3zM719 249l5 0l3 3l-3 8l-3 1l-3 -5l-5 3l-3 -2l1 -5l2 -1l3 1zM730 257l2 -2l2 1l2 6l-4 9l-6 3l-2 -1l2 -11zM746 262l2 -1l2 1l-2 4l-3 -1zM715 273l1 -2l2 0l5 4l-5 4l-2 -2zM733 278l4 -2l3 1l1 3l-1 2zM726 280l0 -1l6 0l1 1l-4 7l-3 -2zM716 283l1 3l-1 1zM729 291l1 0l-1 1zM732 291l5 -1l4 1l-2 5l-3 0l-4 -3z"/><path fill="#016058" fill-rule="evenodd" d="M897 59l2 -1l3 1zM917 101l4 -2l3 4l-1 3l-4 2l-1 5l-3 -2l3 -3l-2 -5zM556 111l0 -2l1 2zM530 114l3 0l2 2l-4 5l-4 2l-1 -2zM899 119l9 2l-1 3l-5 5l-5 -1l-3 -3zM901 134l4 1l5 5l-8 2l-3 -5zM497 147l6 2l5 -1l6 2l1 -3l4 0l3 1l6 7l-1 2l-8 2l-3 -6l-2 0l-6 3l-2 -1l-6 0l-4 -5zM505 166l1 -1l1 1zM593 202l6 -2l2 2l-1 3l-7 3zM792 210l1 -2l1 2zM785 220l3 -1l1 1l1 6l-5 4l-3 0l0 -2l2 -2zM545 226l3 -2l1 2l-1 1zM612 244l6 0l3 2l-1 5l-3 -2l-6 -3zM642 244l2 -2l7 2l2 5l-1 4l-3 1l-9 -2zM627 246l4 0l0 3l-3 0zM719 252l2 -2l3 0l1 2l-1 4l-3 0zM711 254l2 -1l2 1l-2 3zM613 257l3 0l1 3l-2 1l-2 -1zM730 260l2 -3l2 5l-4 8l-4 0l2 -8zM594 262l6 0l-4 3zM716 275l0 -1l2 0l1 1l-1 1zM736 293l1 -2l1 2l-1 2z"/><path fill="#01564d" fill-rule="evenodd" d="M920 101l2 2l-1 2l-3 -2zM529 116l3 0l-2 5zM899 121l4 0l1 3l-5 4l-3 -1l-1 -3zM902 137l3 -1l1 4l-4 0zM500 150l2 0l-2 1zM506 150l5 0l0 3l-3 1zM517 150l2 -1l6 6l-3 1zM644 244l5 1l3 4l-2 3l-9 -1l0 -4zM730 262l2 -2l1 2l-1 2z"/><path fill="#004b40" fill-rule="evenodd" d="M897 124l2 -1l2 1l-1 3l-2 0zM644 246l5 0l-1 3l-4 1l-1 -1z"/><path fill="#f5f2e8" fill-rule="evenodd" d="M166 48l46 0l-8 13l7 6l1 2l-2 5l-1 8l-4 7l-3 2l-3 -1l-3 8l-4 0l-6 -2l-8 2l-1 -5l1 -3l3 -2l4 -1l-4 0l-7 -13l-6 -1l-3 -4l0 -14l4 -1zM184 80l2 6l1 -6l-1 -2zM189 72l-2 2l2 3l1 -3zM238 48l96 0l-2 3l1 3l2 0l2 -3l-1 -3l11 0l-1 4l-6 2l3 2l6 -2l4 -6l108 0l0 3l-2 8l3 26l1 2l5 0l3 3l-1 3l-7 4l-5 8l-3 8l-8 -3l-3 0l-7 6l0 3l4 5l-1 3l-4 3l-5 1l-3 3l1 3l2 1l11 1l3 -2l1 -3l-2 -2l0 -3l4 0l1 5l3 6l-5 7l1 3l-4 1l0 2l3 4l2 9l-7 5l-3 0l-5 0l-3 -5l-8 -4l-16 4l-16 0l-2 2l1 3l4 3l1 2l-5 5l6 8l11 7l14 1l10 7l5 -2l6 4l8 1l4 3l1 4l8 0l3 2l2 4l-1 6l2 2l-2 11l4 5l-1 5l2 3l4 2l5 -2l9 -8l-5 -13l2 -3l3 0l1 -2l-1 -6l-3 -5l5 -1l1 -4l-6 -2l-3 -3l7 -8l1 -5l6 0l-2 2l2 5l2 0l8 -2l8 1l3 2l3 6l8 4l3 5l1 8l4 13l13 7l8 1l3 -1l2 0l8 9l3 0l3 2l3 13l4 4l9 4l4 11l-4 10l-190 0l2 -3l4 -1l5 1l0 -2l8 -8l-2 -8l-6 -3l-4 -5l0 -2l4 -7l3 -1l8 1l5 3l11 -2l5 4l3 -1l4 -2l-1 -11l4 -3l-5 -10l-5 -7l-5 1l-8 5l-3 -1l-2 -3l-3 0l-1 8l-4 4l-6 -3l-16 -2l-5 1l-5 5l-4 0l-2 -2l-6 4l-15 8l-1 3l1 3l-5 5l1 2l12 6l8 -3l3 0l2 3l-2 2l-3 1l-3 2l1 8l3 2l0 3l-1 2l-3 3l-44 0l0 -3l-5 -5l-2 -21l-2 -2l-16 4l-5 8l-1 3l7 6l1 2l-5 8l-38 0l1 -9l-5 3l-6 -4l3 -4l6 1l2 -3l-1 -10l-4 1l-3 4l-2 0l-6 -11l-5 9l0 20l-1 3l-11 0l1 -3l-4 -5l2 -2l0 -3l-4 -3l-3 -7l-9 -3l-3 -5l-3 -1l-8 -1l-4 2l-4 4l-5 -15l4 -10l-1 -6l-3 -3l-19 -2l-2 -5l-3 -1l0 -24l8 0l5 -5l8 0l3 2l2 10l6 5l8 -5l5 -1l8 -5l11 4l5 -4l11 2l3 -11l7 -3l-2 -3l-5 0l-3 1l-4 -1l-1 -2l-8 2l-6 -1l-5 1l-3 -1l-1 -7l1 -2l7 0l7 3l2 -3l-8 -4l-5 -6l-3 0l-5 3l-5 -2l-6 0l-5 2l-5 -1l-8 3l-4 0l-7 -7l-5 -1l-2 -6l4 -1l8 2l2 -8l-2 -5l-5 4l-3 -2l0 -2l8 -2l6 -4l3 0l2 -6l8 0l1 -2l-1 -10l3 -2l5 2l5 7l6 3l4 8l9 8l8 -3l2 -5l2 -2l0 -6l4 -3l20 1l4 4l5 2l3 6l3 -2l0 -2l-3 -4l-3 0l-2 -4l0 -3l2 -3l6 3l1 -2l4 -1l11 3l-1 -2l-4 -3l1 -5l-1 -3l-4 -2l2 -6l-1 -2l-6 -5l-13 1l-1 6l-2 1l-2 0l-6 -2l-5 4l-3 -2l-1 -11l1 -11l-5 -4l-2 -3l3 -13l-3 -11zM266 53l-3 3l3 3l4 -3zM295 90l0 1l3 -1zM303 78l0 4l3 4l4 -4l-4 -4zM338 66l-3 6l-10 3l-4 7l-7 5l-2 6l9 13l0 2l-5 6l-1 2l2 3l7 0l0 2l-3 3l-1 3l0 2l4 5l-1 3l-9 3l-2 2l0 5l-3 4l-8 0l-13 -3l-6 4l-5 -3l-8 3l-5 0l-6 6l-3 0l-1 -5l1 -6l-2 -2l-4 5l-4 10l4 8l-1 3l2 2l8 2l6 -3l8 2l5 -3l3 0l2 2l6 -2l7 2l3 -2l3 -1l2 3l3 0l11 -9l2 -1l3 0l5 -3l2 -2l-1 -3l-6 -4l0 -4l8 -5l5 -21l6 1l1 -3l-2 -5l2 -11l-5 -5l-2 -5l8 -3l5 -5l2 -8l-2 -5l-2 -1l-3 1l-2 2l0 11l-3 2l-2 -2l-3 -5l4 -6l2 -5zM351 56l-3 5l6 2l3 -2l0 -2zM362 97l2 6l2 0l0 -5l-1 -2zM397 128l-1 1l1 4l1 -4zM402 152l-3 3l3 2l3 -1l0 -3zM460 249l0 5l3 -2l6 0zM495 253l-1 4l4 2l1 -2zM511 261l-2 1l2 3l1 0l1 -3zM556 249l-3 3l1 2l2 0l2 -2zM444 277l-2 3l1 3l4 0l2 -5zM186 224l-2 2l2 2l3 -1l0 -2zM248 226l-2 2l2 1zM240 178l-3 3l1 3l2 2l2 -2l0 -3l1 -2l-1 -3zM303 89l-1 1l1 3l3 4l5 -4l-5 -4zM298 204l-12 9l-1 10l-7 10l-6 13l2 6l-5 2l3 4l2 2l3 -4l13 -7l5 4l8 -3l11 0l5 -5l8 0l6 -7l21 -2l3 -1l3 -4l0 -5l-4 -3l-10 -13l-8 -4l-13 0l-8 -3l-16 -1zM325 170l-7 4l0 2l5 5l28 4l6 4l5 -4l8 -2l3 0l5 3l5 0l3 -12l-3 -2l-2 4l-3 0l-3 -3l-2 0l-3 4l-3 0l-10 -5l-14 0l-5 2l-5 -4zM365 121l-3 3l3 2l5 -1l2 -4l-2 -1zM303 100l-7 6l0 2l2 4l3 1l0 -2l5 -1l6 -9l-3 -1l-3 -2zM367 129l-5 3l0 2l3 6l5 2l4 -2l1 -8zM301 114l-1 5l1 1l2 -1zM509 48l15 0l0 8l-7 5l0 3l5 8l-3 1l-5 -1l-3 2l3 6l-2 7l0 6l-9 19l-3 3l-2 0l-3 -2l-8 2l-3 -4l0 -3l6 -1l1 -1l1 -5l3 -3l8 0l3 -2l-1 -9l-3 -7l3 -3l0 -5l6 -1l2 -4l0 -3l-6 -5l4 -8zM547 48l3 0l-2 2zM628 51l4 0l-7 8l-10 -1l-2 -2l2 -3l8 0zM646 48l60 0l3 8l0 3l-6 5l8 4l7 -1l0 -3l-3 -5l1 -2l2 0l6 4l7 0l1 8l2 1l3 -1l3 6l5 1l5 6l-5 5l3 6l-3 1l-3 -2l-1 1l-1 2l1 6l-2 7l1 7l5 -3l0 7l4 8l7 1l5 5l8 1l8 6l2 7l3 4l3 2l5 0l7 7l9 4l2 4l4 4l8 0l4 -4l2 -2l-3 -3l7 -7l11 -1l5 4l8 -3l3 2l-3 13l-1 3l-12 4l-1 3l1 4l5 0l3 2l-2 2l-3 3l-6 -1l-10 5l-8 -3l-11 3l-5 -2l-16 -2l-14 1l-10 6l-8 -3l-6 1l-2 -1l-3 -4l3 -5l-4 -6l-4 -3l-8 1l-6 3l-18 -5l-5 -3l-6 1l-2 3l-7 -2l0 3l7 0l9 8l1 5l4 5l2 6l2 -1l5 -3l7 3l0 8l3 5l-1 5l3 8l2 1l8 -7l10 -2l3 3l0 3l-1 2l1 2l3 -2l5 1l17 15l10 6l5 0l11 5l5 0l5 -4l6 1l5 -5l3 5l8 -1l1 -2l-1 -4l-11 1l-2 -5l-17 -9l0 -4l3 -8l2 -2l14 -3l16 5l3 -1l3 -6l10 1l13 10l10 2l-2 5l-1 10l1 4l13 5l6 -2l13 1l13 6l1 -1l0 -5l2 -3l4 0l1 3l-2 5l3 3l0 3l-6 2l-1 3l6 2l6 7l2 0l6 -5l2 0l5 4l6 13l-2 2l1 3l4 5l-87 0l-4 -3l-4 3l-74 0l2 -5l-4 0l-2 -3l3 -5l-1 -3l-8 -9l-10 -2l-6 8l-2 -1l2 -3l0 -13l-3 -8l-5 -7l-21 1l-6 -5l-5 -6l-5 1l-5 -4l-6 4l-4 5l-7 5l-12 2l-11 -4l-1 -3l0 -8l-4 -4l-3 -1l-11 0l-3 -2l0 -3l-3 -3l-7 0l-5 -3l-12 -2l-10 -11l-5 -4l-4 -11l-4 -5l-13 -1l-32 0l-10 -4l-8 -13l1 -3l4 -1l2 -5l2 -10l-1 -7l-4 -3l-1 -3l2 -1l8 2l5 7l10 -10l-1 -5l7 -5l10 2l24 -1l8 -2l8 7l14 3l5 -3l8 -1l5 -4l3 2l4 -1l-1 -10l-5 -6l1 -2l-3 -3l-4 -2l-11 -11l-5 0l-8 3l-3 -1l-3 -5l-2 -7l-5 -6l0 -2l2 -2l11 8l13 -4l3 -5l6 -5l1 -5l-2 -2l-2 1l-2 -2zM687 113l-3 3l1 3l-1 5l3 1l4 -1l0 -8l3 -2zM700 69l0 4l3 2l4 -3l-4 -5zM721 68l-1 1l4 3l1 -3zM726 74l3 3l2 -3l-2 -2zM841 165l0 2l1 -1zM910 285l-1 3l1 2l8 -2l0 -3zM937 280l-4 3l0 3l1 0l7 -6l-2 -1zM724 108l-2 3l4 4l3 0l1 -4l-1 -3l-3 -1zM712 48l8 0l2 3l-6 1zM737 48l3 0l7 8l-2 7l-3 0l-1 -2l-5 -7zM774 48l3 0l3 3l4 -3l62 0l-1 6l5 2l1 3l-1 8l-2 2l4 2l5 0l3 3l-1 6l0 2l8 8l6 -1l3 4l2 5l1 8l4 8l-2 7l-16 15l-3 1l-16 -2l-8 6l-13 -8l-5 1l-6 -4l-5 1l-4 -2l-3 -2l1 -6l9 -3l3 -7l-2 -8l-1 -2l-6 -1l-5 -3l-13 -1l-8 -6l-4 -8l1 -13l-4 -5l1 -3l-2 -2zM944 48l41 0l1 16l-4 8l1 5l-9 9l-3 -1l-3 5l-3 3l-2 6l-2 0l-3 -3l-2 -6l2 -3l5 -2l2 -3l-2 -2l-2 -2l-6 3l-2 -1l-4 -6l-6 -5l1 -8l-3 -5zM237 59l2 0l1 2l-3 1zM472 95l3 0l0 3l-4 0zM969 114l3 0l-1 4zM171 121l5 -2l5 8l-3 3l-2 0l-2 -6zM960 124l9 -2l3 5l-3 1l-3 0zM165 129l0 -1l0 4zM492 134l3 -1l1 1l-1 2zM506 134l5 -1l3 1l-6 4l-3 -1zM963 134l6 0l5 2l5 -2l3 4l11 5l0 36l-5 -3l-3 -5l-6 3l-16 -7l-8 3l-6 -7l0 -3l4 -2l1 -3l-3 -5l1 -8l7 0zM942 145l3 0l1 2l-1 3l-3 -2zM452 163l1 0l-1 3zM941 168l4 0l-3 3zM955 200l3 -2l3 1l8 12l6 2l-2 2l1 3l3 -2l0 -3l4 -3l12 -3l0 63l-6 0l-2 -1l-6 -7l-5 5l-8 -1l-5 -5l-8 -2l-6 0l-1 -2l1 -3l8 -4l6 1l3 -5l-1 -5l-5 -7l-5 -1l-6 2l-5 -1l-3 2l-5 -7l-7 4l5 6l-3 0l-3 0l-3 -6l-8 0l-5 -3l-5 1l-4 -5l-11 -6l1 -7l3 -1l8 -6l3 -1l5 3l5 -4l6 -1l2 0l6 3l16 -2zM742 202l3 -1l1 1l-1 2zM462 205l1 -2l1 2zM752 207l1 -2l3 1l0 4l-3 -1zM641 223l3 -2l3 1l4 6l-4 4l-6 -1l-8 6l-12 -4l-1 -2l3 -3l8 1l8 -3zM936 236l3 1l0 5l-4 -3zM178 249l3 0l7 5l0 3l-7 5l2 8l7 8l-1 2l-2 6l-6 2l0 8l-12 0l-2 -8l-2 -3l0 -9l8 -6l1 -5l3 -3l1 -2l-4 -6l1 -2zM402 273l5 0l1 2l-6 3l-1 -3zM663 273l3 0l0 2l-4 0zM617 275l6 -1l10 1l7 11l5 5l-1 5l-26 0l0 -5l-2 -3l1 -5l-1 -5zM768 286l4 -2l1 2l-1 1zM657 288l3 -2l3 0l3 5l2 5l-8 0zM699 293l1 -1l0 4l-1 0z"/><path fill="#f6eedb" fill-rule="evenodd" d="M167 48l42 0l-5 13l6 8l-1 13l-4 7l-7 1l-1 5l-2 3l-6 -3l-3 0l-5 2l-2 -2l-1 -3l3 -3l3 1l3 -3l5 -15l-6 0l-1 5l-3 3l2 5l-3 1l-6 -12l-7 -2l-3 -5l0 -12l3 0l1 -1zM238 48l11 0l7 4l8 8l2 0l3 -1l2 -3l-2 -3l-5 -2l-2 -3l70 0l-1 6l2 1l5 -1l5 3l3 0l1 2l-1 2l8 4l3 -2l1 -4l-2 -3l-5 -2l2 -6l107 0l0 5l-2 3l3 29l-1 2l-5 6l5 1l1 -4l2 -1l6 1l-6 5l-5 8l-3 8l-11 -2l-8 6l0 4l3 3l0 5l-3 2l-5 1l-2 2l-2 5l7 2l8 1l5 -6l4 3l0 5l-8 8l0 3l5 10l0 3l-3 2l-3 2l-8 0l-3 -5l-8 -4l-24 5l-8 -1l-5 6l-8 4l-3 -3l-2 1l-3 2l-3 0l-2 -2l-19 -2l-8 2l-8 -4l-8 1l-5 4l3 5l5 4l8 -1l18 4l6 5l4 -4l9 -4l3 0l5 4l8 0l0 -11l3 -5l2 1l2 2l1 2l-4 3l-1 2l5 9l5 1l11 7l13 0l8 7l5 -2l6 4l8 0l3 3l2 5l3 2l2 1l3 -2l3 1l0 9l2 2l-2 11l4 5l1 2l-5 3l-8 -4l-4 -4l-1 -5l-3 -6l-3 -2l-5 1l-8 5l-3 -1l-2 -3l-3 0l-2 9l-3 3l-6 -2l-10 -1l-8 -3l-8 7l-6 -3l-2 1l-1 3l-4 2l-14 8l-2 3l0 3l-5 5l1 2l18 8l0 8l-1 3l5 2l1 3l-1 2l-4 3l-43 0l0 -3l-3 -5l-3 -18l1 -3l-1 -5l-19 7l-5 7l-1 4l6 6l1 2l-4 8l-38 0l3 -8l-2 -2l-5 2l-5 -2l2 -3l6 2l2 -4l0 -11l-2 -1l-6 5l-2 0l-6 -12l-6 11l1 18l-1 2l-1 3l-10 0l2 -3l0 -2l-3 -3l0 -5l-3 -3l-3 -7l-2 -2l-8 -1l-3 -6l-19 -1l-4 -6l1 -5l3 -8l-2 -9l-3 -2l-8 1l-11 -1l-1 -5l-4 -2l0 -23l8 2l5 -7l8 1l3 3l1 8l4 5l3 1l8 -5l5 -1l8 -5l11 4l5 -3l11 1l3 -10l2 -3l6 -2l-1 -3l-7 -1l-3 1l-3 -2l3 -12l-8 2l-3 0l-8 -4l-5 -5l-3 0l-5 4l-8 -3l-8 3l-5 -2l-8 4l-5 -3l-3 -5l-6 -1l-2 -2l0 -3l2 -1l4 1l2 3l5 -3l-1 -2l1 -8l-1 -3l4 -4l4 -1l2 -5l7 0l2 -3l-1 -5l1 -5l3 -1l3 2l5 7l6 3l3 7l10 8l9 -3l1 -5l3 -2l0 -6l3 -2l11 1l8 -1l4 5l4 3l2 2l-2 8l-8 1l-6 7l-2 -1l-1 -2l1 -8l0 -2l-3 -1l-4 3l-5 13l4 8l-1 3l3 3l8 2l6 -3l8 2l5 -4l3 1l2 2l6 -3l7 3l6 -3l2 3l3 0l5 -3l4 -5l4 -2l3 0l3 -1l4 -5l0 -3l-6 -5l0 -3l8 -5l4 -20l6 1l2 -2l-2 -7l2 -11l-5 -5l0 -5l3 -1l5 2l3 -5l6 1l0 -3l-5 -2l-1 -3l2 -5l-2 -5l-3 -2l-5 2l0 1l-1 -6l-2 -3l-3 2l0 3l-3 3l-8 2l-4 8l-6 4l-3 4l-4 -3l4 -2l0 -3l-5 -5l-3 0l-1 3l1 7l-8 2l-2 1l2 3l6 -2l3 7l-9 7l-1 3l0 3l4 5l-1 5l4 1l4 -3l1 -3l-3 0l0 -5l3 0l8 -10l3 -1l4 6l-6 8l0 2l2 4l5 0l-3 9l4 5l-1 3l-9 3l-2 2l1 5l-3 3l-8 1l-13 -4l-6 4l-3 -1l-2 -3l4 -5l0 -2l-7 -6l-1 -5l1 -1l6 3l2 -4l3 -1l10 5l2 -2l-2 -4l-2 -1l0 -8l-4 -2l0 -8l-5 -5l2 -3l-1 -2l-7 5l-9 0l-3 2l1 3l-2 2l-7 -2l-5 3l-1 -1l-2 -10l2 -8l-1 -3l-6 -5l-1 -2l2 -6l-1 -15l-4 -8zM288 95l-2 0l2 1zM357 68l-1 1l1 2l2 -2zM362 95l-1 0l0 3l2 5l4 1l0 -7l-2 -2zM383 128l-2 1l2 1zM397 127l-2 2l2 6l2 -6zM399 152l-1 3l7 3l1 -3l-1 -4zM184 225l-1 1l3 3l3 1l1 -4l-1 -3l-3 0zM248 225l-3 3l0 3l4 -3l0 -2zM192 158l-2 2l2 1l1 -1zM301 202l-16 11l0 10l-8 10l-5 11l-1 2l1 6l-4 2l1 3l5 4l3 -4l11 -6l2 -1l3 1l2 3l8 -3l11 0l5 -5l8 0l6 -7l24 -3l4 -5l1 -5l-5 -3l-11 -14l-11 -4l-10 1l-8 -3zM365 120l-4 4l2 5l-2 3l0 2l4 7l5 1l4 -2l2 -8l-8 -5l6 -6l-4 -2zM370 110l-2 4l5 3l0 -3zM248 257l-1 3l3 0zM337 48l9 0l-1 3l-4 1zM512 48l12 0l1 3l-2 5l-9 7l-6 -4zM647 48l56 0l2 2l3 6l-8 11l-1 5l1 2l3 2l3 -2l2 -4l10 -2l11 10l3 -6l5 -1l3 5l5 2l2 4l-3 5l1 4l-3 -1l-3 3l1 8l-4 7l4 9l2 1l3 2l3 6l2 2l6 0l5 5l8 2l7 5l2 7l4 5l3 2l5 0l5 6l11 5l1 3l5 5l8 0l8 -7l3 0l-1 -2l-2 0l-2 -1l4 -6l11 -1l3 4l10 -2l2 2l-2 11l-2 3l-6 0l-5 3l-2 4l2 5l6 1l0 2l-3 3l-6 -2l-8 5l-10 -2l-11 2l-5 -2l-16 -2l-14 2l-10 5l-8 -3l-6 1l-2 -1l-2 -3l3 -5l-9 -9l-8 0l-6 3l-18 -5l-5 -3l-6 2l-2 2l-8 -2l-2 1l1 3l9 2l8 6l1 5l4 5l3 6l2 0l5 -4l6 3l0 8l3 5l-1 5l3 10l3 0l8 -8l10 -1l2 5l-1 2l2 3l5 -2l5 2l1 2l-5 3l2 3l4 -3l4 0l19 15l5 0l11 5l5 0l5 -4l6 1l2 -3l3 0l3 3l2 0l6 0l2 -4l0 -3l-5 -3l-3 2l-2 0l-3 -1l0 -4l4 -1l-4 -7l-1 1l1 6l-3 1l-13 -6l-3 -3l2 -8l4 -5l13 -2l13 4l6 0l2 -5l3 -2l8 2l13 9l9 2l-3 15l0 3l2 2l13 4l6 -2l13 1l11 6l5 0l5 5l-5 0l-2 5l2 2l5 1l3 5l3 2l2 0l6 -6l3 1l8 13l-1 5l2 5l-2 3l-13 0l-3 -2l-1 2l-63 0l-7 -5l1 -3l-2 -2l-5 5l3 0l2 2l-1 3l-73 0l3 -5l-7 -3l0 -2l3 -3l-1 -3l-9 -12l-10 -1l-6 4l0 -11l-2 -9l-6 -6l-21 0l-6 -4l-5 -7l-5 1l-5 -3l-7 4l-3 5l-7 5l-12 2l-10 -4l-1 -3l-1 -8l-7 -6l-11 0l-4 -7l-25 -5l-11 -12l-5 -3l-4 -11l-4 -5l-45 -2l-10 -3l-4 -5l-3 -8l7 -8l1 -8l4 -5l-3 -2l-1 -3l-3 -3l-1 -3l4 0l4 3l2 5l3 1l11 -11l-1 -5l6 -4l5 2l8 0l3 -1l21 -1l3 -2l2 0l8 7l14 3l5 -3l8 0l5 -4l6 2l2 -2l-2 -10l-4 -6l2 -5l-8 -2l-12 -12l-5 0l-8 4l-3 -2l-2 -4l-4 -10l1 -2l3 0l5 3l3 0l10 -3l3 -6l7 -5l1 -5l-4 -5zM684 113l-1 6l-5 2l5 6l9 -2l0 -6l5 -6l-5 -1zM721 108l-1 3l6 6l3 -1l2 -5l-2 -4l-3 -1zM732 98l-2 3l2 3l1 -3zM841 163l-4 5l1 3l5 -5l-1 -3zM785 260l-2 2l2 5l2 -5zM833 237l-2 2l2 1l3 0l1 -1l-1 -2zM849 245l-2 1l2 3zM910 275l0 5l5 -1l1 -1l-1 -4zM939 276l-5 4l-2 3l0 3l2 1l9 -7l-1 -3zM910 283l-2 5l1 3l6 0l5 -3l-2 -4zM712 48l8 0l-2 3zM737 51l3 -2l2 5l3 2l1 3l-1 3l-3 -1l-2 -5l-3 -2zM775 51l2 -2l3 3l4 -4l61 0l0 6l4 2l1 3l-1 8l-2 2l5 5l2 -2l3 0l3 2l-2 6l1 4l4 1l3 5l7 0l3 3l2 13l4 8l-2 7l-15 14l-21 0l-6 5l-13 -8l-5 1l-6 -4l-8 0l-3 -2l1 -6l8 -3l4 -7l-2 -8l-2 -3l-6 0l-2 -3l-16 -1l-7 -6l-3 -8l2 -2l-3 -6l1 -5l-4 -5l6 -3l-1 -2l-6 -3zM944 51l1 -3l39 0l2 16l-5 8l1 5l-2 3l-6 5l-3 -2l-3 2l-1 5l-6 7l-3 -2l-1 -5l1 -1l5 -2l3 -5l-1 -2l-4 -3l-6 3l-2 -2l-9 -9l2 -8l-4 -5zM963 61l-1 0l1 2zM614 54l8 0l2 2l-9 1zM716 59l2 -1l6 4l5 0l1 2l0 5l-4 1zM515 67l1 -2l5 7l-6 0l-2 -3zM507 72l2 0l0 2l5 6l-3 7l0 7l-3 3l-2 -4l-1 -11zM617 72l3 2l-3 1zM336 77l5 -1l0 3l-3 2l-3 -1zM494 101l6 -3l6 1l1 2l-1 5l-6 8l-5 -2l-5 2l-3 0l-3 -4l8 -4zM173 121l3 0l2 2l2 4l-2 2zM962 124l7 -1l2 4l-6 0zM446 132l1 -2l0 4zM507 134l6 0l-2 3l-3 1l-2 -1zM963 137l3 -2l8 2l5 0l3 3l11 3l0 35l-4 -2l-4 -6l-6 3l-16 -7l-8 3l-5 -6l0 -3l5 -2l0 -3l-3 -5l1 -6l8 -2zM944 147l1 -1l0 1zM172 150l1 -2l1 2zM218 181l0 -1l6 0l5 4l5 -1l2 4l-4 1l-6 -2l-5 2l-3 -1zM495 192l3 9l2 1l6 -4l8 0l4 2l4 7l7 3l3 5l3 16l3 6l8 3l2 3l7 1l4 2l3 -2l2 0l6 8l7 2l4 13l2 3l10 5l2 3l1 10l-2 5l0 3l-35 0l-3 -1l-2 1l-139 0l2 -5l4 -3l3 -5l0 -3l-2 -5l-7 -4l-3 -4l0 -2l3 -6l3 -2l5 1l8 4l11 -3l5 4l3 0l5 -3l0 -3l-2 -5l2 -4l3 1l2 8l3 -3l3 1l2 2l3 -4l5 2l6 -2l5 -6l6 -3l-3 -2l-3 -11l5 -3l-1 -8l-2 -2l3 -3l2 -5l-2 -2l-5 -1l-2 -2l9 -11zM508 261l-1 1l2 3l2 1l3 0l0 -5l-3 -1zM554 249l-3 5l0 3l3 1l5 -6l-3 -5zM444 276l-3 4l1 3l5 1l3 -6l-3 -2zM495 251l-3 3l1 3l5 3l3 0l-2 -6zM950 202l8 -2l3 1l8 11l3 1l1 5l1 1l3 -1l1 -5l4 -3l11 -3l0 62l-6 1l-2 -2l-6 -7l-5 4l-3 1l-5 -1l-5 -5l-8 -2l-6 0l3 -5l8 -2l3 0l4 -5l0 -2l-7 -11l-5 -1l-8 3l-6 -2l-3 -5l0 -2l-2 -5l-2 2l1 5l-7 5l-11 -1l-5 -3l-5 0l-2 -3l-12 -6l0 -5l11 -8l3 -1l5 3l5 -4l6 -1l2 0l6 3l10 -2l6 0zM753 207l3 0l0 2zM643 223l4 1l3 4l-3 3l-6 -1l-8 6l-11 -3l-1 -2l2 -2l5 1l11 -3zM928 246l3 3l-2 4l-3 0l-1 -4zM176 252l2 -2l3 0l5 4l0 3l-2 2l-6 -1l-2 -2zM175 267l1 -1l2 -1l3 2l7 11l0 2l-2 3l-6 5l-1 8l-10 0l-1 -8l-3 -4l0 -7l8 -6zM376 273l5 -2l1 2l-1 2zM401 275l4 -2l1 2l-4 2zM630 275l3 0l6 11l5 5l0 5l-25 0l0 -5l-2 -5l0 -10l6 3zM658 288l2 -1l3 0l3 4l1 5l-6 0zM407 293l3 -1l5 4l-9 0z"/><path fill="#f6ebcf" fill-rule="evenodd" d="M167 48l16 0l1 2l1 -2l22 0l0 6l-4 7l6 8l-1 13l-3 6l-8 1l-3 8l-8 -4l-2 3l-4 -1l-1 -2l2 -2l5 1l3 -6l4 -14l-7 -1l-2 6l-6 3l-2 -6l-3 -1l-4 -1l-4 -7l0 -9l3 0l2 -2zM239 48l9 0l5 4l10 9l0 6l3 2l1 -2l-1 -6l5 -2l0 -3l-2 -4l-3 -1l-2 -3l67 0l-1 6l5 10l-1 5l-3 3l-9 2l-1 6l-4 4l-3 0l-6 -7l-5 -1l-2 4l1 5l-1 1l-6 2l-5 5l-2 0l-11 6l-5 -1l-3 1l-3 2l-2 6l-6 -2l-5 3l-3 -10l3 -5l0 -3l-1 -3l-7 -7l2 -6l-1 -2l0 -13l-4 -8zM337 48l8 0l-2 3l-2 0zM353 51l1 -3l104 0l2 3l-3 5l2 5l0 16l1 8l-2 4l-6 2l0 4l0 2l7 -2l2 3l-7 10l-2 1l-8 -2l-5 6l-5 -1l-1 2l1 2l0 3l5 5l-1 3l-4 2l-5 1l-5 10l18 0l5 -4l3 0l1 4l-1 2l-8 8l0 3l5 10l0 3l-5 4l-6 0l-2 -1l-3 -4l-8 -4l-13 2l-3 -2l-1 2l-7 3l-8 -1l-5 4l-8 4l-3 -1l-8 1l-2 -1l-19 -2l-8 2l-8 -3l-11 1l-2 4l0 2l8 7l8 0l18 3l6 6l5 -5l8 -3l3 0l5 4l8 1l3 -5l5 7l5 1l8 6l14 0l10 7l5 0l6 2l8 1l2 2l2 5l4 6l2 1l3 -4l3 1l1 12l-2 5l4 8l0 2l-6 2l-8 -6l-1 -6l-4 -7l-3 -2l-8 3l-5 3l-5 -3l-3 0l-2 1l-1 8l-2 3l-6 -3l-10 -1l-8 -4l-6 1l-2 7l-8 -2l-2 4l-17 9l-3 7l-6 7l9 3l5 4l6 2l1 4l-3 8l4 0l3 3l-5 5l-41 0l0 -3l-3 -5l1 -5l-3 -3l0 -9l3 -4l-5 -6l-3 0l-6 4l-10 3l-5 7l-2 5l7 8l-1 3l-3 2l0 3l-36 0l3 -8l-3 -5l2 -5l-2 -3l1 -5l-3 -2l-6 4l-2 0l-6 -16l-2 0l-2 4l2 2l0 3l-3 3l-3 -2l0 1l1 3l2 21l-3 5l-8 0l2 -3l-3 -5l0 -5l-4 -5l-3 -7l-9 -1l-1 -5l-3 -2l-19 -2l-2 -1l-1 -8l4 -8l-6 -22l-8 4l6 5l-3 2l-6 0l-7 -2l-3 -5l-3 0l0 -22l3 0l5 2l2 -1l3 -6l8 1l3 10l5 7l3 0l8 -5l5 -1l8 -5l11 4l5 -3l11 1l4 -11l1 -2l6 -1l1 -2l-1 -3l-9 -2l-2 -2l-1 -4l4 -7l10 3l6 -3l8 1l5 -3l3 1l2 3l6 -4l5 2l8 -1l2 2l3 0l11 -10l8 -1l4 -4l1 -5l-6 -5l0 -3l7 -5l4 -18l10 -3l-2 -6l6 1l2 -2l-1 -3l-7 0l1 -10l-1 -3l8 -7l6 1l1 -2l-2 -3l-6 -5l1 -5l-1 -5l-1 -2l-6 -1l-6 -13l1 0l6 3l0 2l2 2l7 4l3 5l3 1l1 -4l-3 -5l2 -5l-1 -3l-5 -2zM365 77l-3 3l2 5l-1 2l2 2zM367 89l-1 1l-1 3l-6 0l-1 2l4 8l5 3l2 -3l0 -8l4 -2zM397 126l-3 3l3 8l3 -5l0 -3zM407 144l-2 6l-6 1l-2 4l8 5l2 0l1 -2zM458 225l-1 8l3 2l2 -2l0 -5l-2 -4zM234 246l-1 0l3 0zM240 246l-1 3l1 4l2 -1l1 -6zM248 224l-4 4l-1 3l2 2l7 -7zM298 202l-13 11l0 9l-10 14l-4 10l0 3l-4 5l2 4l5 4l4 -5l12 -6l3 0l2 4l8 -4l11 1l8 -4l5 0l6 -8l24 -3l5 -6l1 -5l-4 -3l-3 -5l-7 -5l-3 -5l-11 -3l-10 0l-8 -2l-16 -2zM349 102l0 2l2 0l1 -1l-1 -2zM367 110l-3 4l4 2l-1 3l-5 2l-1 3l1 5l-3 3l3 8l5 3l8 -3l1 -3l2 -8l-6 -2l6 -1l0 3l3 2l2 0l2 -2l-4 -5l0 -3l-6 -1l-1 -1l0 -8l-4 -3zM256 223l-2 3l5 0l-1 -3zM293 256l-3 4l3 0zM333 274l-1 1l1 2zM512 51l2 -3l9 0l1 3l-2 5l-6 3l-2 3l-3 -1l-2 -2zM648 48l54 0l3 4l2 4l-7 10l-1 6l1 3l3 2l8 -5l7 -2l11 9l5 -7l3 1l3 4l5 3l0 2l-6 8l0 11l-2 3l-2 -1l-2 -5l-4 0l-2 5l-8 5l-1 4l8 5l3 0l5 -8l3 3l2 7l6 3l3 5l2 2l6 0l8 7l5 0l6 4l3 7l4 5l3 2l6 1l2 6l13 5l2 5l4 4l8 -2l5 -4l9 -3l0 -3l-5 -3l1 -2l8 -1l3 1l0 2l-4 6l0 5l1 1l5 -4l3 -7l6 -1l2 0l0 5l-2 7l-6 0l-2 2l-5 7l2 7l3 -1l2 2l-2 2l-6 -2l-8 4l-10 -1l-11 3l-5 -3l-6 -1l-5 1l-11 -1l-8 1l-10 5l-8 -3l-6 1l-2 -1l-1 -2l3 -5l-10 -10l-8 1l-6 2l-8 -1l-15 -6l-3 0l-5 3l-11 -2l0 5l3 1l8 2l6 5l2 5l5 5l1 5l2 2l2 0l5 -4l5 2l1 5l-1 6l3 2l-1 5l3 8l0 3l-4 2l-3 1l-5 -3l-3 1l-5 4l-3 5l-7 5l-9 2l-11 -4l-2 -3l-2 -10l-6 -5l-11 0l-2 -6l-27 -5l-11 -12l-5 -3l-4 -13l-4 -4l-42 -1l-12 -3l-4 -5l-2 -8l5 -8l2 -8l16 -13l4 -5l-1 -5l4 -3l6 2l8 1l3 -3l21 0l3 -2l2 0l8 7l14 3l5 -3l8 -1l5 -2l6 0l4 -2l0 -3l-3 -2l0 -5l-4 -6l2 -5l-9 -2l-12 -13l-5 1l-8 3l-3 -1l-3 -9l1 -5l8 2l3 -2l7 -2l4 -6l6 -5l2 -8l-4 -3zM673 175l-2 1l0 3l2 0l4 -3zM692 111l-8 1l-3 5l-5 4l5 6l6 0l6 -3l1 -5l3 -3l1 -2l-1 -2zM713 48l6 0l-3 2zM739 51l1 0l0 3zM777 51l2 3l-2 1l-1 -1zM785 48l60 0l-1 6l5 5l-2 8l-2 2l7 7l5 -3l2 1l-2 6l0 5l5 1l3 5l2 1l6 -1l2 2l2 13l4 8l-2 7l-12 10l-8 3l-18 0l-2 0l-1 2l-2 0l-2 -2l-9 -2l-5 0l-6 -4l-8 1l-2 -2l0 -3l2 -3l6 -2l5 -8l-1 -3l-4 -9l-6 0l-2 -3l-16 -2l-6 -4l-2 -5l3 -5l-5 -6l1 -5l-3 -5l7 -3l-3 -7zM838 78l0 3l2 -1zM945 51l1 -3l36 0l3 16l-1 3l-3 2l0 8l-1 3l-6 3l-5 -2l-8 -6l-6 3l-2 -1l-9 -8l1 -2l4 -6l-2 -2l-3 -3zM961 61l0 3l3 0l1 -3l-2 -1zM741 59l1 -3l3 3l-3 2zM722 64l6 0l-2 3zM508 77l0 -1l3 1l2 3l-3 5l0 8l-2 2l-2 -13zM463 90l4 0l-1 1zM959 90l4 0l-2 4l-3 -1zM290 95l0 -2l11 0l2 5l-2 3l-6 2l-2 6l-3 -1l-4 -7zM340 95l1 -1l2 4l-2 1zM495 101l5 -2l6 2l-3 9l-3 3l-5 -2l-5 3l-3 0l-2 -3l7 -5zM313 103l4 -2l3 5l-6 8l0 2l0 3l6 2l-1 8l3 4l0 3l-3 2l-8 1l0 8l-2 2l-8 1l-16 -4l-2 4l-2 0l-2 -3l3 -5l-2 -6l-3 -2l5 -3l3 -4l5 2l5 5l3 -1l1 -1l-3 -8l7 -3l7 -5l0 -2l-2 -3zM199 127l1 -2l2 -1l3 2l5 7l4 1l7 11l8 6l8 -1l3 -3l-1 -2l4 -5l0 -6l5 -2l16 2l6 6l1 7l-1 3l-6 0l-6 7l-3 -2l3 -10l-2 -3l-11 5l0 8l-2 5l0 3l4 5l-5 6l-10 1l-6 -2l-5 -6l-3 0l-5 4l-8 -3l-8 3l-2 0l-3 -5l-4 5l-4 2l-4 -2l-2 -5l6 -3l-3 -5l1 -11l2 -3l5 -1l3 -6l6 0l2 -3zM242 149l-1 1l3 0zM189 158l-2 2l2 2l3 1l3 -3l-1 -2l-2 -1zM508 134l4 0l-4 3zM965 137l4 -1l8 4l10 1l6 3l0 19l-3 3l3 1l0 10l-4 -1l-1 -2l-1 -6l-2 1l-6 3l-4 -1l-1 -3l-11 -4l-8 3l0 -2l3 -2l-5 -15l0 -3l10 -3zM552 140l2 -1l0 1l0 3zM170 160l2 0l1 3l-3 1zM952 160l3 0l-2 3zM388 174l3 -1l2 3l-4 3l-2 -3zM219 181l5 0l1 3l-4 2l-2 -2zM492 200l8 3l6 -4l8 -1l2 2l5 7l7 3l4 7l5 19l10 5l0 3l-4 5l8 -1l-1 6l1 4l5 1l3 -4l5 -1l-4 -5l2 -4l2 1l4 6l8 2l4 14l3 3l9 4l2 3l1 10l-3 5l1 3l-33 0l-1 -3l-3 0l-7 3l-67 0l-3 -2l-2 2l-27 0l0 -3l-1 3l-5 0l-1 -5l-4 -1l-1 1l3 5l-24 0l1 -5l8 -8l-3 -8l-7 -5l-3 -5l2 -6l3 -1l8 2l5 4l11 -4l5 4l3 -1l13 -6l5 2l6 -3l5 4l0 -3l8 -8l5 -2l3 2l-3 3l0 6l6 3l5 -1l-3 -6l-5 -5l3 -18l-5 -5l-1 -3l0 -3l6 -2l-3 -2l-1 -9l-7 -2zM506 259l-3 1l11 9l1 -9zM516 270l-1 3l4 5l3 1l1 -4zM551 284l-1 2l1 2l3 -2zM556 275l-1 3l1 2l2 -2zM429 282l-2 1l3 0zM444 275l-4 5l0 3l2 1l5 1l7 -10zM487 262l-2 3l2 2l2 -2zM535 258l-3 3l0 3l3 0l5 -2l0 -2zM952 202l6 -1l3 2l13 16l3 0l2 -6l3 -2l11 -3l0 60l-6 1l-3 -2l-2 -5l-3 -1l-5 3l-3 1l-5 -1l-5 -4l-8 -4l-4 1l1 -3l8 -3l3 2l4 -7l0 -5l-4 -5l-2 -5l4 -5l-2 -2l-6 7l-10 3l-6 -3l-5 -13l-3 3l1 7l-6 4l-11 -1l-5 -3l-3 0l-2 -3l-14 -5l0 -3l8 -4l1 -3l2 -3l3 0l5 2l5 -3l8 -1l6 2l10 -2l8 1zM848 215l9 1l13 9l7 1l-2 21l6 0l10 4l6 -2l5 1l8 0l11 6l3 1l1 3l-2 2l0 3l3 3l5 1l5 6l0 3l-4 2l-1 3l0 5l6 -1l6 -4l2 -3l-1 -7l1 -2l2 1l1 3l6 8l0 5l1 5l-3 3l-9 0l-1 -3l-3 -1l-1 4l-36 0l0 -3l-3 1l0 2l-24 0l-5 -5l0 -7l-3 0l-8 6l0 6l-65 0l3 -5l-6 -3l1 -8l-6 -10l2 -8l0 -3l-3 -1l-3 2l-5 0l5 5l-2 2l-11 -2l-8 -21l-24 1l-5 -4l-3 -5l1 -3l10 -10l8 -1l3 1l-1 5l1 3l5 1l2 -2l3 1l0 2l-3 3l0 3l3 2l5 -4l3 0l8 7l5 3l6 6l5 -2l13 6l8 -4l6 1l2 -2l6 2l8 0l4 -5l0 -3l-3 -2l2 -5l-3 -6l-6 4l-4 -6l-4 -2l-1 4l2 3l0 3l-3 -1l-11 -4l-2 -3l2 -8l3 -4l13 -3l19 6l2 -2zM859 274l-1 6l1 1l6 -3l-2 -3zM910 274l-2 4l1 5l-3 8l7 1l8 -2l1 -2l-3 -5l-2 -8l-2 -2zM809 272l-1 1l1 1zM830 280l0 1l2 -1zM846 246l3 5l2 -5l-2 -2zM641 226l3 -2l5 4l-2 2l-3 0l-4 -2zM622 231l14 -2l2 2l-2 3l-3 2l-9 -3zM489 233l4 3l1 3l-2 2l-2 -1zM827 241l3 0l0 3l-3 0zM552 246l2 0zM455 249l3 3l-3 3l-1 -3zM926 249l3 -1l1 1l-1 2zM177 252l4 0l4 2l0 3l-4 1l-3 -1l-2 -3zM175 270l1 -2l2 0l3 2l4 8l0 2l-1 2l-3 2l-3 12l-8 0l-1 -8l-4 -5l0 -5zM627 278l4 -2l2 0l10 15l-1 5l-23 0l2 -5l-3 -5l1 -3l1 -3zM628 284l-1 2l1 1l2 -1zM658 288l2 -1l3 1l3 5l0 3l-5 0zM410 293l3 3l-6 0zM862 293l3 0l0 3l-5 0z"/><path fill="#f5e7c0" fill-rule="evenodd" d="M168 48l12 0l4 4l2 -1l1 -3l18 0l0 6l-2 7l4 8l1 12l-3 7l-3 0l-5 -1l-3 8l-5 -2l0 -3l2 -13l3 -5l-8 -2l-2 5l-6 3l-2 -5l-6 -1l-2 -3l1 -5l-1 -1l-3 0l0 -7l4 0l1 -2zM240 48l6 0l7 5l8 8l1 6l4 3l3 -1l-2 -5l1 -3l4 -2l1 -3l-8 -8l44 0l2 2l3 -2l15 0l-1 6l2 2l2 13l-3 3l-7 1l-2 7l-3 3l-3 0l-5 -6l-6 -2l-2 2l-1 8l-18 10l-5 -3l-5 1l-7 8l-1 4l-3 0l-8 -4l-1 -3l2 -5l0 -3l-7 -10l3 -6l-3 -2l0 -13l-4 -8zM272 79l-3 3l3 2l3 -2zM277 51l0 3l5 0l-1 -3zM327 60l-2 3l0 4l3 0l2 -3l0 -3zM277 71l-2 1l2 2l3 2l2 -1zM338 48l7 0l-2 2l-2 0zM354 51l2 -3l2 0l-1 6zM361 48l8 0l1 4l3 0l2 -4l66 0l3 2l3 -2l9 0l2 2l0 4l-2 2l2 5l0 16l1 8l-1 3l-8 2l0 3l2 6l3 0l3 -3l2 2l-5 8l-3 2l-2 0l-3 -2l-3 -5l-2 0l-1 2l2 3l-2 5l-2 1l-5 -1l-3 3l1 5l6 5l0 3l-4 2l-6 -2l-2 8l-5 3l-1 2l3 2l8 -2l11 1l5 -4l3 0l0 5l-10 8l6 13l0 3l-4 3l-6 0l-2 -1l-3 -4l-8 -4l-12 0l1 -2l-4 -3l0 -2l2 -8l-3 -3l-2 0l0 5l-3 3l-4 0l-2 5l8 5l-1 3l-1 1l-3 1l-8 -1l-10 7l-8 0l-3 1l-5 -1l-6 0l-21 -3l-16 0l-3 1l-4 5l1 2l5 5l4 2l8 0l18 4l3 5l3 1l2 -1l3 -4l11 -3l5 4l8 2l3 -2l5 4l5 1l1 0l-3 3l13 2l11 0l10 7l19 3l2 4l-4 2l4 1l5 7l-2 13l-5 -9l-3 -1l-13 6l-5 -3l-3 0l-3 2l0 8l-2 2l-8 -3l-11 -1l-5 -4l-8 0l0 6l-9 0l-2 5l-16 8l-4 8l-4 2l-3 -2l-2 -1l-5 6l10 4l8 2l5 4l6 2l0 6l-3 3l-1 2l1 2l5 0l2 1l-1 2l-4 3l-39 0l-3 -8l8 -18l-5 0l-1 -5l-7 -5l-3 0l-7 5l-6 0l-3 2l-5 6l-3 7l7 8l-2 4l-3 -4l-2 0l0 3l3 5l-34 0l3 -8l-3 -5l2 -5l-1 -8l-2 -2l-2 -1l-6 4l-2 -1l-6 -16l-2 1l-6 5l-2 7l3 6l1 18l-3 5l-5 0l0 -3l-2 -5l-1 -5l-7 -13l-8 0l-1 -3l1 -2l-5 -4l-5 1l-15 -2l-1 -3l0 -5l4 -8l-5 -21l-2 -2l-12 5l1 2l3 0l4 3l-4 1l-5 -1l-7 -5l-4 -1l0 -21l4 1l4 3l3 0l2 -8l6 0l2 2l2 8l6 8l3 0l8 -6l5 0l8 -6l11 4l3 0l5 -3l8 2l2 -2l1 -6l2 -4l3 -1l3 1l2 -5l-2 -4l-7 -1l-3 -3l0 -3l3 -5l9 2l6 -4l8 2l5 -3l3 0l2 4l6 -4l5 2l8 -1l2 2l8 -4l6 -6l5 0l0 1l11 -11l5 3l-3 -7l-2 0l-3 1l-5 -3l1 -3l4 -2l2 -3l1 -5l2 -5l0 -6l17 -7l2 -5l-1 -3l-8 -3l1 -4l3 2l2 -1l2 -2l-1 -2l-6 -2l0 -1l5 -6l6 3l4 8l6 5l-4 6l1 5l-4 5l0 5l-2 3l4 9l5 3l10 -4l1 -7l5 -1l3 -3l-4 -8l-7 -4l0 -7l-6 -4l1 -9l5 -4l-8 -6l-1 -5l1 -2l3 -1l3 1l3 -3l-3 -3l-6 3l-6 -5l-3 -8l5 -5l-2 -3l2 -5zM389 80l-2 2l4 0zM394 123l0 11l3 4l2 -1l2 -5l0 -3zM410 77l0 3l3 0l0 -2zM418 146l-2 1l2 2l1 -2zM421 86l-1 7l3 1l3 -1l-1 -3zM426 55l-1 1l1 1l2 -1zM436 72l0 1l4 -1l-1 -1zM248 223l-6 8l5 10l-2 4l-5 -1l-3 2l-5 -3l-3 1l3 3l4 2l4 5l2 -1l3 -6l5 -3l-3 -11l3 -5l3 -2l5 1l3 -1l-3 -4zM256 211l-3 2l0 2l3 2l2 -2zM288 181l0 1l1 -1zM298 181l-1 0l4 1l2 -1l-2 -1zM413 120l0 4l3 -3zM423 103l-1 0l1 1l1 -1zM426 80l-2 2l5 4l1 -1zM237 273l-1 2l1 1l2 -1zM298 201l-14 12l1 7l-10 13l-5 16l-4 4l3 6l5 4l5 -6l11 -6l3 3l-3 3l-1 3l4 1l2 -4l8 -5l6 1l18 -3l3 -1l3 -8l8 -1l10 -2l6 0l5 -6l1 -6l-5 -6l-1 -3l-8 -4l0 -8l1 -3l-1 0l0 3l-6 3l-8 -4l-10 1l-8 -3zM330 250l0 2l3 0zM513 51l2 -3l7 0l1 3l-1 4l-6 2l-2 3l-3 0l0 -4zM649 48l6 1l3 -1l42 0l3 6l0 5l-5 10l2 7l3 1l13 -7l2 0l14 14l1 -2l-1 -2l2 -6l2 0l7 6l0 2l-5 8l0 11l-1 1l-5 -6l-3 0l-4 7l-7 5l-1 3l1 4l8 3l3 0l5 -7l3 3l1 5l7 4l3 5l8 1l8 8l5 0l4 3l4 7l5 6l8 5l1 2l13 6l3 5l5 5l6 0l-1 6l3 -1l1 -7l3 -3l10 -3l4 5l3 1l-3 7l0 7l-8 4l-8 -1l-13 3l-5 -4l-8 0l-3 1l-13 -1l-6 0l-5 4l-5 2l-16 -4l3 -3l0 -2l-11 -11l-8 1l-6 3l-8 -2l-15 -6l-8 3l-14 -3l-10 3l-1 4l1 1l2 0l8 -3l5 4l11 3l5 8l6 5l0 5l3 3l2 0l5 -5l4 2l2 3l-3 8l4 2l0 5l2 8l0 3l-3 1l-8 -2l-3 1l-5 4l-3 6l-5 4l-3 1l-8 1l-10 -4l-4 -12l-7 -7l-8 1l-2 -5l-30 -6l-11 -11l-4 -3l-5 -13l-4 -5l-42 0l-11 -3l-5 -5l-1 -6l6 -16l19 -18l2 -2l-1 -3l1 -3l3 -1l5 4l5 1l3 0l3 -4l8 0l5 -2l5 2l6 -3l2 0l8 6l14 4l6 -4l18 -2l6 -3l2 -5l-6 0l0 -5l-3 -6l1 -6l-3 -1l-5 0l-6 -7l-8 -6l-15 2l-3 -8l0 -2l8 1l4 -4l6 -1l5 -7l5 -2l3 -11zM671 110l0 2l1 -1zM673 107l-1 1l1 2zM689 110l-5 2l-3 4l-7 5l7 7l11 -2l2 -2l1 -5l3 -3l1 -2l-2 -3zM801 180l-2 4l2 4l2 -4l0 -3zM804 175l0 5l1 -4zM714 48l4 0l-2 1zM784 51l1 -3l59 0l-1 6l5 5l-2 6l-2 3l0 4l10 8l3 6l5 1l3 5l8 1l-1 2l0 3l4 3l0 5l3 8l-1 7l-11 9l-10 3l-5 -1l-6 1l-16 0l-5 -2l-5 0l-3 -3l-5 -2l-6 1l0 -3l2 -3l5 -2l6 -11l-2 -1l-5 -9l-6 0l-2 -3l-16 -2l-6 -5l-1 -3l3 -5l-5 -6l0 -7l6 -6zM822 107l-2 1l3 0zM838 75l-1 5l1 2l3 -2l0 -4zM947 48l13 0l1 2l13 -2l8 4l1 12l-4 5l1 5l-2 6l-4 2l-13 -9l-6 4l-7 -5l-2 -3l0 -2l5 -3l-2 -5l-4 -4zM963 59l-4 2l2 5l6 -2l0 -3zM343 64l5 3l-5 1zM351 72l0 -2l9 4l1 11l-2 3l-8 -6l1 -8zM856 74l2 0l-1 3zM507 80l1 -2l3 0l1 2l-4 7zM181 93l1 0l-1 1zM293 95l5 -1l3 1l0 3l-1 3l-5 0l-2 4l-3 0l-3 -4zM498 101l7 0l0 2l-2 6l-3 2l-5 -2l-5 4l-3 -1l0 -2l5 -2l3 -6zM314 103l3 -1l3 4l-6 7l-3 0l-1 -5zM308 119l3 -2l3 4l3 0l1 3l0 8l4 2l-2 3l-5 0l-1 -4l-3 2l-2 5l0 7l-6 3l-13 -4l-5 -3l-6 -9l9 -5l5 3l1 2l4 2l3 -4l-2 -5zM200 127l2 -1l3 1l3 5l5 4l4 6l9 8l3 1l11 0l4 2l1 2l-3 4l-3 1l1 3l5 3l1 2l-4 5l-10 1l-6 -2l-5 -5l-3 0l-5 3l-4 -2l-1 -2l-3 0l-8 5l-4 -5l3 -6l-2 -3l-2 -1l-6 3l-2 0l-2 -1l2 -13l5 0l3 -7l5 1l2 -2l2 -3l-2 -5zM244 134l6 -1l11 3l1 1l-1 3l-5 -1l-14 8l-2 -2l4 -5zM967 137l4 0l6 4l8 0l8 3l0 18l-14 10l-3 -1l-2 -5l-6 -3l-2 -6l-8 0l-4 -7l-1 -3l2 -3l8 0l3 6l3 0l1 -3l-1 -2l-4 -5zM261 140l5 -1l2 1l1 4l-3 2zM259 147l2 -1l2 1l-5 8l-2 -2zM832 158l6 0l1 2l-1 2l-2 1l-5 -3zM846 163l6 -2l2 2l-2 8l-5 0l-2 -3zM185 166l4 0l-5 5l-2 -3zM991 168l2 0l0 9l-3 -1l-2 -2l0 -3zM388 176l3 -1l1 1zM506 200l2 -1l7 1l3 2l2 5l7 3l5 8l4 18l2 3l7 2l0 3l-5 5l8 2l0 6l6 5l2 0l3 -4l5 -1l3 -4l8 1l5 15l5 5l8 4l1 10l-5 3l3 5l-31 0l-2 -4l-3 0l-5 0l-3 4l-66 0l-3 -4l-3 4l-25 0l-1 -6l-6 0l-5 -3l-4 4l4 5l-9 0l-1 -3l-3 1l-1 2l-7 0l1 -5l7 -7l5 3l2 -4l-1 -3l-6 -1l-2 -4l0 -2l7 -6l-8 -1l-5 4l-3 -3l0 -5l3 -3l6 1l6 5l1 2l6 -5l5 -2l5 4l5 0l2 1l1 4l4 -2l-1 -3l-3 -2l8 -3l5 1l6 -2l5 3l11 -12l1 0l0 11l7 2l5 0l3 1l7 7l1 3l5 7l3 0l3 -2l0 -3l-10 -8l1 -6l3 -4l-3 1l-13 -2l-5 -7l1 -18l-6 -8l1 -3l6 -2l-4 -5l-1 -8l-6 0l3 -2l3 2l5 0l3 -2zM532 248l-1 4l1 3l3 -2l2 -4l-2 -2zM554 262l-3 5l2 6l-8 5l4 5l0 5l2 2l3 -1l1 -6l4 -3l0 -3l-5 -4l2 -6zM444 274l-7 6l1 3l4 3l5 -1l9 -10l-4 -2zM487 261l-3 3l0 3l-3 3l3 0l7 -5l-1 -5zM492 280l-2 0l1 3l1 2l3 -1l0 -3zM535 256l-3 2l-1 4l1 6l6 -4l7 -2zM482 287l-1 1l1 2l2 -2zM543 281l-3 2l1 3l7 0zM950 205l3 -2l5 1l5 2l8 12l3 2l3 -1l3 -6l2 -2l11 -2l0 59l-3 1l-4 -2l-4 -6l-3 -1l-8 4l-5 -1l-5 -5l-6 -1l-1 -3l4 -1l3 2l5 -9l0 -5l-6 -8l1 -2l4 -5l-2 -3l-5 0l-3 6l-10 4l-6 -5l-5 -13l-4 5l0 8l-7 3l-8 -1l-10 -6l-11 -4l-1 -2l6 -4l3 -5l3 -1l5 2l8 -5l5 1l6 2l10 -2l6 2l5 3l3 0l3 -4l-1 -1l-2 1zM821 218l4 -1l11 5l8 1l5 -6l5 0l3 0l2 3l8 3l2 3l6 0l2 2l-3 16l1 5l6 -1l8 3l8 -2l16 3l10 8l-1 7l-2 3l6 1l3 -2l2 1l3 5l-3 5l-2 11l10 -3l1 -2l7 -3l0 -3l3 0l3 3l-2 3l3 7l-4 3l-6 0l-2 -5l-3 -2l-2 7l-33 0l1 -2l8 0l8 -2l3 -4l-4 -5l-3 -10l-4 -1l-6 3l-1 3l1 5l-2 9l-1 -1l-5 0l-2 5l-21 0l-4 -5l-1 -8l-2 -3l1 -7l-3 -1l-8 1l-1 2l-1 6l2 2l6 -2l1 2l-7 5l-4 8l-61 0l4 -5l-6 -5l2 -3l-1 -3l-6 -10l0 -3l3 -5l-2 -8l2 -2l3 0l8 4l5 2l8 -3l6 1l5 -2l13 1l6 -6l4 3l-3 2l0 3l4 2l1 -2l0 -5l2 -6l-1 -2l-2 -2l-5 4l-5 -2l1 -5l-4 -9l-6 3l-8 -6l-3 4l1 5l-9 -3l-4 -2l2 -8l3 -3zM859 243l0 3l3 3l1 -3zM875 271l-1 2l1 1l2 -1zM806 272l0 1l3 3l2 -3l-2 -3zM830 278l-2 2l2 2l3 0l0 -4zM462 223l1 -2l1 2l-1 3zM744 223l5 0l1 8l5 2l3 8l-5 2l-13 2l-4 -1l-4 -4l-2 -4l1 -3l9 -9zM643 226l2 0l2 2l-5 0zM625 231l3 1l5 -2l4 1l-1 2l-3 2l-8 -2zM456 236l7 1l5 7l-2 2l-6 -1l-4 -4l-1 -4zM766 239l3 0l8 6l5 3l3 4l1 2l-1 3l-3 2l-6 1l0 2l4 2l0 1l-3 1l-8 -3l-6 -17zM561 249l1 -1l3 1l-1 2zM455 252l1 0l-1 1zM177 254l1 -1l4 1l-1 2zM244 262l1 -1l1 1l1 3l-2 1zM177 270l2 0l3 8l-4 2l-2 3l3 3l-3 10l-6 0l0 -8l-5 -8l4 -5l4 -1zM629 278l4 -1l9 14l-5 2l0 3l-5 0l2 -5l-3 -7l-4 -4zM619 283l4 -2l2 2l0 3l4 5l-2 5l-7 0l3 -8l-3 -1l-1 -1zM659 288l4 0l3 5l-1 3l-3 0z"/><path fill="#f0deb0" fill-rule="evenodd" d="M169 48l9 0l14 14l3 -1l0 -2l-6 -5l0 -5l14 -1l1 6l-2 7l4 8l1 11l-2 6l-3 2l-5 -2l-4 1l1 6l-3 0l1 -16l3 -5l-3 -2l-7 -1l-2 5l-5 2l-1 -4l-7 -2l1 -11l2 -3l3 1l1 -1l-4 0zM178 59l0 4l5 -2l-2 -2zM202 77l-2 3l2 2l1 -2zM245 51l3 0l4 3l8 7l-2 2l-6 1l2 3l4 2l3 -1l8 3l2 -2l-3 -5l1 -3l5 -2l1 -3l9 -2l0 -3l-8 -3l29 0l1 3l5 0l4 -3l9 0l-1 6l3 5l-2 5l0 5l-5 5l1 6l-3 3l-3 -1l-5 -6l-6 -1l-3 2l-3 8l-7 5l-8 3l-2 -6l-6 4l-5 1l-8 12l-8 -6l2 -8l-6 -8l0 -2l4 -6l-5 -2l1 -11zM269 78l-2 4l2 2l6 1l1 -3l-2 -2l-2 -3zM274 70l-2 2l1 2l7 3l2 0l2 -3l-2 -3l-5 -2zM285 64l-3 3l3 3l2 -3zM266 48l5 0l-2 2zM339 48l5 0l-3 1zM363 48l5 0l0 3l2 3l5 -3l2 -3l22 0l-3 3l1 3l5 2l1 -2l1 -6l35 0l5 3l7 -3l5 3l0 3l-4 3l-5 -1l-3 3l3 1l8 -1l2 2l1 11l-1 5l2 8l-4 4l-5 -1l-4 5l3 5l6 5l-1 3l-2 1l-3 -1l-3 -8l0 -3l-3 0l-4 4l0 4l2 5l-1 3l-6 -1l-5 6l-4 3l1 2l10 2l1 4l-3 1l-5 -3l-3 0l0 8l-3 3l-5 0l1 6l-5 5l1 4l3 0l5 -8l19 -1l5 -4l3 1l-2 3l-10 8l8 13l-1 3l-2 2l-7 1l-4 -6l-3 0l-6 -4l-5 0l-8 -4l-1 -2l3 -11l-2 -2l-3 0l-5 0l2 7l-8 3l-1 5l7 5l0 3l-3 1l-8 -1l-10 7l-11 2l-5 -3l-6 2l-18 -4l-3 -2l-5 2l-8 -1l8 -8l5 3l3 -3l-6 -7l-2 -1l-3 1l-3 -1l6 -8l3 -10l0 -5l15 -6l4 -7l0 -3l-3 -3l3 -5l-1 -2l-7 -3l1 -3l3 -2l5 2l4 8l5 5l-3 6l0 5l-5 13l5 11l5 2l11 -5l0 -6l7 -2l2 -3l-3 -8l-8 -5l2 -8l-2 -2l0 -5l-1 -3l3 -8l-8 -2l-3 -3l1 -3l9 -2l2 -3l-6 -4l-6 2l-2 -2l-2 -1l-3 -8l5 -5l0 -8zM386 77l-5 3l8 5l2 -1l1 -2l-3 -7zM394 120l-2 9l2 8l5 2l3 -6l3 -1l-3 -1l-5 -7l0 -3zM399 87l-1 3l1 2zM402 107l-2 4l2 1l1 -1zM407 60l-1 1l1 3l2 -3zM410 76l-1 1l0 3l4 2l2 -2l-1 -3zM429 53l-6 2l0 2l2 2l4 -1l1 -4zM439 68l-8 6l3 1l6 -1l2 -2zM407 98l-4 3l1 2l5 -2zM413 119l-2 2l2 4l3 -1l2 -3zM423 79l-5 8l3 8l10 -2l-3 -3l4 -5l-1 -4l-5 -3zM405 113l2 2l1 -1zM421 100l0 6l2 1l4 -4zM514 51l3 -3l4 0l1 3l-3 4l-3 0l-2 -1zM655 51l4 -3l40 0l2 6l-2 5l1 2l-2 11l2 5l3 1l13 -7l2 0l14 14l3 -3l-1 -2l0 -5l7 5l1 2l-4 5l-1 10l-8 -2l-4 6l-9 7l-1 3l3 5l8 3l3 0l4 -3l1 -4l4 9l7 3l3 4l6 1l8 8l7 1l3 2l3 7l14 11l1 4l13 4l2 5l0 3l-6 7l-1 8l-13 1l-5 -2l-7 1l-7 6l-16 -3l2 -3l0 -2l-12 -12l-14 4l-8 -1l-15 -6l-11 2l-11 -3l-10 3l-3 5l3 3l8 -3l2 0l3 3l12 2l3 5l1 5l3 0l4 3l2 8l4 1l5 -5l4 1l1 3l-3 8l5 5l-1 5l2 6l-2 2l-3 0l-12 -5l-1 2l3 3l-3 3l-4 7l-9 5l-7 0l-9 -4l-3 -11l-8 -9l-8 -3l-32 -6l-14 -13l-5 -13l-5 -5l-45 -1l-8 -2l-5 -8l2 -8l4 -10l23 -21l-3 -3l3 -1l2 2l11 1l4 -4l12 -2l5 2l3 0l3 -3l2 0l7 5l15 4l8 -4l16 -1l5 -3l8 1l5 3l14 -2l0 -6l4 -5l0 -2l-2 -4l-5 -1l-8 2l-5 5l-6 3l-2 -3l4 -8l-2 -6l-2 -1l-3 2l1 5l-1 2l-3 1l-2 -3l2 -5l-2 -2l-8 -1l-11 -12l-3 -1l-13 2l-3 -1l-1 -6l1 -2l6 2l2 -1l3 -3l5 -1l6 -8l6 -2l2 -8zM784 51l2 -3l58 0l-2 6l5 5l-2 5l-3 3l-1 4l-3 1l-2 -2l-3 2l3 2l0 6l2 3l3 0l3 -8l2 0l6 5l2 6l5 2l6 5l5 2l5 8l3 16l-1 2l-7 6l-13 5l-5 -1l-6 1l-8 -1l-8 1l-5 -2l-3 1l-12 -7l0 -3l4 -2l3 -5l8 -4l0 -4l-3 -2l-5 1l-3 -7l2 -3l-4 -3l-2 1l-1 3l-3 0l-2 -4l-3 2l-8 -1l-4 -3l0 -3l-4 0l-2 -2l5 -7l5 1l1 -2l-4 -2l-5 2l-4 -5l0 -5l4 -3l1 -3zM801 53l0 2l2 -1zM804 71l-1 3l1 1l2 -1l-1 -2zM852 87l-4 3l1 1l3 -1l1 -3zM946 51l2 -3l11 0l0 3l2 1l11 -4l4 3l3 3l-3 5l1 2l2 -2l3 2l-1 3l-4 3l2 7l-2 6l-3 1l-3 -1l-9 -8l0 -3l2 -2l6 -3l-7 -6l-2 0l-3 3l1 8l-4 5l-6 -2l-2 -3l6 -4l0 -4l-7 -7zM273 54l1 -3l0 4zM165 59l0 -2l5 2l-5 3zM353 77l1 -2l5 1l0 10l-7 -4zM508 80l3 0l-3 2zM292 98l6 -2l2 2l-2 2l-3 -1l-5 4l-2 -2zM316 103l1 0l2 3l-5 5l-2 0l0 -5zM372 103l1 -2l2 2l-1 3l-2 0zM496 103l7 -2l2 2l-2 4l-3 3l-5 -3zM306 121l3 -1l2 0l6 4l0 5l-5 3l-4 5l1 9l-8 3l-11 -3l-5 -4l-3 -8l6 -4l2 0l3 6l5 3l5 -7l-3 -5zM201 129l1 -1l3 1l3 5l0 6l2 2l6 0l6 5l-3 6l2 0l1 -3l2 -1l5 3l11 1l2 2l-7 5l-1 3l9 3l1 2l-2 3l-2 1l-3 -1l-8 1l-8 -6l-3 0l-5 3l-2 -1l-3 -4l-11 6l-2 -4l2 -8l-3 -4l-2 -1l-6 5l-3 0l0 -3l1 -8l5 0l3 -8l5 1l4 -3l1 -3zM246 134l4 0l5 3l-5 5l-8 4l-1 -1l1 -3l4 -2zM316 134l1 -1l4 1l-2 2zM967 140l2 -2l8 5l8 -1l8 2l0 17l-3 0l-3 5l-8 5l-10 -11l-2 -7l4 -3l1 -3zM954 147l1 -1l6 -1l2 2l2 6l-1 2l-3 1l-3 -2zM848 163l4 -1l0 1l0 5l-3 2l-3 -2zM316 168l1 -1l2 1l-2 2zM314 171l1 0l0 5l7 7l3 1l8 -1l8 3l8 1l5 6l5 1l3 -5l8 -3l3 0l2 3l6 1l5 3l5 -1l3 2l3 5l8 0l2 2l11 -1l5 1l8 6l13 3l3 6l8 5l0 10l-3 0l-1 -5l-4 -1l-13 6l-5 -3l-3 1l-4 2l0 8l-1 1l-8 -3l-10 -1l-4 -3l-12 -2l1 5l-2 3l-5 -2l-3 2l-1 5l-7 3l-3 -2l-10 14l-3 0l-5 -2l-3 3l-5 1l-5 -7l0 -2l-3 -3l0 -6l2 -2l24 -3l3 -3l2 -7l0 -2l-5 -6l-2 -5l-7 -2l0 -6l2 -5l-1 -2l-2 0l-2 5l-4 2l-8 -3l-10 1l-8 -3l-16 -2l-11 0l0 2l2 3l-7 4l-2 4l1 7l-1 3l-6 8l-5 1l-3 4l-1 3l4 -1l0 3l-3 8l-4 3l2 8l7 5l3 -2l3 -6l10 -5l1 2l-3 6l2 2l3 0l4 -5l6 -4l24 -1l7 5l-1 3l-3 2l-5 -3l-6 0l-5 5l-5 0l-8 6l-4 10l3 6l-4 2l4 8l-32 0l2 -8l-2 -5l2 -5l-3 -11l-1 -1l-8 4l-2 -1l-5 -15l-1 -1l-5 1l0 -2l0 -3l5 -3l2 -2l-1 -5l-3 -6l2 -4l3 -2l5 1l4 -2l-1 -3l-3 -3l1 -7l-3 -5l-5 5l4 7l-7 2l-8 9l0 3l5 8l-8 2l-8 -3l-2 0l0 3l8 5l2 5l5 3l-2 3l-2 7l1 3l-7 2l-6 -4l-8 0l1 -3l-6 -6l-5 2l-14 -2l-1 -2l0 -5l5 -8l0 -3l-2 -2l-4 -16l-3 -3l-16 5l-3 -1l-5 0l0 -19l3 0l5 5l3 0l2 -3l0 -5l6 -1l8 18l2 0l3 0l8 -6l5 0l8 -6l11 4l3 0l5 -3l11 2l2 -12l3 -1l3 3l3 0l-1 -11l-10 -5l0 -3l2 -3l8 0l6 -3l8 2l5 -4l5 5l3 0l3 -5l5 3l5 -1l4 1l-2 3l-5 1l-7 0l-3 1l2 3l6 -2l4 2l4 0l2 0l2 -3l-1 -2l2 -3zM362 203l-2 2l2 2zM264 203l-3 2l3 1zM269 222l-1 1l2 0zM277 212l-1 1l1 3zM825 171l8 -2l5 5l1 2l-2 5l0 6l-7 3l-8 -1l-5 3l-8 1l-3 -2l-2 -2l0 -5l2 -6l3 -2l5 2l1 3l2 2l3 -1zM989 171l4 -2l0 7l-3 -1zM507 200l6 0l3 1l3 7l8 3l4 7l4 21l9 2l0 3l-6 4l-3 -3l-3 0l-2 7l0 21l-3 2l-5 -3l-5 -5l2 -3l3 1l4 -3l3 -5l-1 -3l-14 2l-8 -1l-6 -6l0 -5l3 -3l-3 -5l0 -8l-4 -2l-2 -3l8 -5l-5 -5l0 -6l6 -2zM914 207l4 -1l11 3l5 -2l8 0l8 6l11 -7l3 1l6 11l4 3l3 -1l5 -8l11 -3l0 58l-6 0l-5 -7l-3 -1l-2 -1l-3 4l-3 1l-5 -1l-5 -5l-4 0l1 -3l3 3l2 -2l2 -6l2 -3l0 -5l-5 -8l0 -2l5 -5l-4 -4l-5 0l-4 6l-9 4l-6 -9l-3 -8l-2 -2l-6 7l2 6l-1 2l-6 2l-8 -1l-10 -7l-8 -2l-2 -2l7 -5l0 -3l3 -1l5 2zM446 210l4 0l0 2zM823 218l4 0l7 5l0 5l-4 2l-8 -5l-2 0l-3 9l-8 -2l-1 -4l4 -7l5 0zM853 218l2 0l4 5l6 -1l3 4l7 1l1 9l-3 8l2 6l14 2l8 -2l13 1l11 9l-1 7l-12 6l-2 2l-1 3l1 5l-1 6l-6 0l-3 7l-19 0l-4 -5l0 -11l-2 -2l2 -3l2 2l3 -3l0 -3l-3 -1l-2 1l-6 -1l-9 3l-3 7l0 3l5 3l-6 10l-59 0l4 -5l-5 -5l1 -3l-3 -8l4 -6l-3 -1l-3 2l-2 -3l4 -5l-2 -2l-1 -6l4 -1l8 4l5 1l8 -1l3 3l3 -2l5 -2l8 -1l3 2l8 0l5 4l3 -5l2 -15l-2 -3l-2 1l-4 4l-2 2l-2 -1l-3 -16l2 -3zM859 237l-2 7l2 5l3 1l2 -1l-4 -8l2 -2zM894 273l0 5l1 -3zM875 278l-2 2l5 2l2 -2zM809 269l-3 1l-1 3l5 7l0 6l2 1l2 -1l1 -6l2 -1l8 1l5 3l4 0l1 -3l-2 -4l-5 1l-8 -1l-8 2l0 -6zM825 289l-2 2l5 1l0 -3zM748 223l2 8l5 5l1 5l-16 3l-8 -5l-2 -3l4 -5l6 -5zM737 235l-1 4l1 2l3 -2zM631 231l4 0l0 2l-2 1l-5 -1zM457 239l1 -1l5 0l4 6l-4 1l-3 -1l-3 -3zM766 241l3 -1l8 6l5 2l3 4l-1 5l-7 1l-3 2l-1 2l-3 0l-4 -8l-2 -8zM537 252l1 -2l8 1l1 3l0 3l-1 2l-6 -1l-4 -4zM486 254l1 -1l3 0l-1 4l-2 3l-3 1l-1 -1zM565 257l5 -2l5 1l2 9l8 10l-1 5l1 3l6 0l1 3l0 2l-4 1l-1 2l1 2l4 3l-31 0l-2 -5l-3 -1l-1 -2l1 -4l4 -4l-3 -10l0 -8l2 -2zM417 260l5 0l3 2l0 3l-7 2l-2 -2zM337 262l3 0l0 3l-2 1l-3 -1zM438 262l4 -1l2 3l8 1l2 5l-2 1l-5 0l-3 1l-5 6l-11 0l-2 -3l5 -6l5 -2zM459 262l4 -2l5 2l6 -2l5 2l3 -1l1 6l-7 3l6 2l2 0l6 -5l2 -5l6 2l5 -1l7 4l9 15l3 0l5 -6l5 -1l3 -6l3 0l5 4l1 -8l4 -4l3 1l-2 3l2 5l0 3l-5 2l-6 5l-2 6l7 2l3 3l-2 5l-27 0l0 -1l0 1l-36 0l-1 -3l2 -2l6 0l0 -3l-6 -1l-2 -2l-2 1l-5 10l-23 0l1 -5l-4 -5l3 -6l5 -2l1 -3l-2 -2l1 -3l3 -3zM487 280l-2 0l7 7l5 -4l-1 -3l-4 -1zM532 287l-1 1l1 1l5 -1l-2 -2zM344 270l2 -2l13 3l4 2l2 2l7 3l1 3l-5 5l1 10l-35 0l-2 -8l5 -8l0 -5zM178 273l2 2l-1 3l-9 4l-3 -2l1 -2l2 -3zM920 273l6 0l3 -3l3 5l-3 11l-3 2l-6 -8l-1 -5zM230 275l2 -2l5 5l5 2l1 11l-3 5l-3 0l0 -3zM630 280l1 -2l3 2l4 8l-2 2zM622 283l1 0l0 3l-3 0zM172 286l1 -2l4 2l0 2l-3 3l1 5l-4 0l2 -5zM942 286l3 -2l4 2l2 5l-3 5l-4 0l-1 -5l-2 -3zM303 288l1 0l-1 2zM424 288l2 -2l3 2l1 3l-4 1l-2 4l-5 0l2 -5zM624 291l1 -2l2 2l-1 5l-4 0zM660 291l0 -2l3 0l1 4l-1 2zM932 291l5 -1l0 1l-1 5l-22 0l9 -4zM431 293l3 -1l5 4l-9 0z"/><path fill="#e9d39d" fill-rule="evenodd" d="M170 48l6 0l8 8l-3 1l-5 -3l-3 0zM191 51l2 -3l8 0l2 8l-2 5l4 11l0 2l-6 3l-1 5l-4 2l-1 -7l4 -8l-6 0l-11 -2l6 -7l6 3l2 0l3 -2l0 -2l-6 -5zM286 51l2 -3l15 0l-4 8l-2 3l1 3l8 -8l5 0l2 -3l4 -3l5 0l0 6l2 5l-1 10l-4 3l-1 8l-1 1l-8 -6l-6 -1l-2 1l-3 4l-3 1l-2 -2l-1 2l3 5l-2 2l-3 2l-5 0l0 -7l-3 -1l-2 1l-3 -1l-2 -4l7 2l6 -10l1 -5l-1 -2l-3 0l-3 2l-2 5l-8 -1l-3 -4l1 -3l7 -4l8 -2zM293 72l-1 0l1 1zM378 51l1 -3l17 0l-1 6l7 5l3 8l2 0l3 -6l-5 -5l1 -8l31 0l10 4l3 -2l2 1l2 3l-7 0l-3 2l-1 3l1 3l11 -1l1 0l1 11l-1 5l2 8l-3 3l-5 -3l-8 9l-5 1l2 14l-5 0l-7 7l-6 4l-11 -4l0 -4l-5 -2l-2 -4l5 -3l2 -2l-1 -3l-4 -1l-6 6l-1 8l1 2l11 5l0 6l3 2l8 -2l2 2l2 6l-2 2l-5 0l-3 5l-8 -1l-2 -1l2 -5l-7 -5l-3 -8l-3 0l-3 2l2 16l6 5l3 5l-3 -1l-2 2l-3 7l7 5l-1 3l-9 0l-10 6l-11 2l-5 -4l-3 3l-5 0l-8 -4l-7 0l-1 -3l1 -5l-10 -11l5 -13l1 -7l13 -4l2 -2l4 -7l-1 -3l-3 -3l1 -2l2 -3l1 -3l0 3l7 5l-4 6l1 5l-5 10l0 5l6 11l5 1l11 -4l2 -2l0 -6l7 -2l1 -3l-3 -8l-4 -4l-3 -1l2 -5l-3 -16l6 -4l3 2l0 -3l-13 -3l-4 -2l9 -4l8 5l5 -1l3 -3l-3 -5l1 -3l-1 -2l-2 0l-3 2l-5 2l-8 -4l-6 1l-3 -1l-1 -3l0 -5l3 -3l0 -5l1 -1l6 -1zM399 68l-1 1l1 3l2 -3zM410 75l-3 2l1 3l2 2l5 1l2 2l2 10l-2 6l2 2l2 8l7 -5l0 -3l-7 -5l5 -3l5 1l5 -1l-6 -5l2 -8l-1 -4l-5 -2l-8 6l-5 -7zM415 69l0 4l5 -1l0 -3zM423 53l-1 3l1 4l6 0l2 -7zM436 64l0 5l-7 5l2 3l12 -3l-1 -5zM351 144l-1 1l1 2l3 1l1 -3zM359 152l-8 3l6 0l5 6l2 -6zM399 85l-3 2l0 3l1 3l2 1l2 -1l1 -3l0 -3zM515 51l4 -3l2 3l-2 3l-3 0zM657 51l3 -3l38 0l1 6l-2 5l2 2l-2 8l3 9l3 1l13 -6l2 0l11 12l7 2l-1 8l-6 -1l-14 14l-1 3l4 8l3 -1l5 2l6 -2l2 1l3 3l5 1l6 6l2 1l3 -1l3 2l5 7l10 2l1 2l-4 5l6 1l3 2l10 8l3 6l6 0l7 4l-3 11l-4 7l-11 4l-5 -4l-3 0l-5 2l-6 6l-10 -2l-3 -6l-13 -12l-14 3l-8 0l-15 -6l-8 2l-14 -3l-10 1l-4 8l1 2l3 2l8 -3l5 2l10 2l4 5l0 5l2 2l3 -1l3 2l1 8l10 2l1 -5l4 3l-2 8l4 5l-1 5l2 5l-1 2l-11 -4l-2 -2l-3 1l-1 3l1 3l-2 2l-1 6l-2 3l-8 4l-6 0l-10 -5l-2 -10l-9 -11l-27 -4l-13 -4l-14 -12l-4 -13l-6 -6l-42 0l-11 -3l-3 -4l1 -14l5 -7l2 0l2 -6l4 -2l8 -8l7 -5l11 0l5 -5l16 1l8 -3l6 4l16 5l8 -4l16 0l5 -3l11 3l16 -1l2 -2l-1 -6l4 -5l-1 -5l-2 -2l-5 -1l-8 2l-3 1l-2 5l-6 1l0 -3l3 -6l-3 -10l-5 2l-13 -1l-4 -6l-4 -2l-3 -4l-16 0l-3 -2l0 -3l6 2l2 -1l3 -4l6 -2l5 -7l5 -1l5 1l2 -1l1 -2l-4 -6l0 -7zM668 58l0 3l2 3l-1 5l2 2l1 -2l-1 -8zM782 167l-1 1l3 3l4 1l1 -1l-1 -5zM796 172l-2 2l2 1l4 -1l-2 -3zM660 180l0 2l1 -1zM787 48l56 0l-2 5l-3 -2l-3 3l1 2l5 -2l5 5l-1 2l-1 3l-6 1l-5 0l-2 7l3 2l2 8l2 2l3 0l5 -7l5 3l1 2l-6 9l-7 2l5 2l8 -3l2 -3l3 0l11 6l7 8l-1 5l2 3l-6 1l-1 2l1 2l5 1l2 2l-1 2l-6 5l-3 0l-2 -2l-8 7l-5 -1l-6 1l-8 -1l-8 1l-5 -2l-3 0l-2 -3l-7 -2l0 -3l4 -6l3 -2l5 -1l2 -4l-1 -2l-4 -5l-5 1l0 -4l3 -1l0 -2l-5 -2l-3 -4l-6 2l-2 -3l-3 4l-5 1l-5 -3l-1 -7l-5 2l3 -5l5 3l3 -1l8 5l0 -2l-3 -5l6 -6l-1 -5l-2 -1l-3 1l0 6l-3 2l-8 -3l-5 0l-3 -5l1 -2l3 -3l1 -8l-2 -5zM796 64l-5 3l2 1l6 -1zM804 51l-5 3l2 3l3 -3zM828 60l-2 1l2 2l5 -2l-3 -2zM830 92l1 3l6 0l0 -2zM949 48l9 0l-3 5l-5 1l-2 0zM969 51l2 -1l4 1l2 3l-6 7l-8 -4l-2 0l-3 3l-2 -1l2 -3l5 -4zM248 54l5 2l5 5l-2 1l-6 -2zM165 59l1 0l-1 1zM955 61l0 -1l1 7l-1 3l-2 2l-4 -3l5 -2zM173 64l0 -2l4 5l-1 3l-4 -1zM250 67l5 2l0 3l-5 0l-1 -3zM970 67l4 1l3 4l1 5l-1 2l-4 1l-8 -11zM258 72l3 -2l9 4l-7 11l0 2l3 3l0 3l-5 8l-5 -3l0 -8l-6 -8l1 -2l7 -6zM354 77l3 -1l1 1l0 5l-1 1l-3 -1l-1 -2zM736 80l4 2l-3 2zM268 87l6 0l-2 2zM350 95l1 -1l3 1l1 3l-5 0zM449 103l1 -1l2 0l1 1l0 3zM497 103l6 -1l0 4l-3 2l-2 -1l-2 -1zM313 106l4 -2l1 2l-1 2l-3 2l-2 -2zM665 106l2 0l0 2l-2 0zM734 116l0 -1l0 2zM309 121l0 6l2 2l-4 8l1 8l-2 1l-5 2l-3 -2l-7 -1l-6 -5l-2 -3l1 -3l4 -3l2 1l1 5l7 4l7 -9l-4 -5zM431 124l4 0l0 3l-2 0zM313 127l1 -2l3 2l-3 2zM249 137l2 0l-1 3l-1 0zM199 140l6 -2l4 4l9 3l1 2l-3 8l5 1l3 -4l13 1l1 2l-6 5l1 3l1 2l6 1l2 2l-2 3l-3 -1l-8 2l-8 -8l-3 0l-5 4l-3 -5l-2 -1l-3 1l-2 3l-6 3l-1 -3l0 -3l4 -5l-9 -11l1 -5zM446 140l4 0l-3 2zM438 142l4 1l1 2l-7 5l9 13l0 3l-3 2l-5 0l-2 -2l0 -8l-2 0l1 2l-5 2l-6 -3l-5 -1l-8 -5l3 -4l2 4l3 -1l5 -7l3 -1zM971 142l0 -1l1 1zM974 145l8 -2l5 1l3 2l3 -1l0 15l-5 0l-1 3l-8 7l-8 -10l0 -7zM990 149l-2 1l2 1l2 -1zM974 154l-1 1l1 0zM955 147l6 0l2 6l-2 1zM184 150l2 -2l4 2l0 3l-4 4l-2 -1zM331 160l2 -1l4 4l-4 3l-5 0zM848 166l1 -2l3 2l-3 2zM827 171l6 0l5 5l-2 11l-6 2l-8 -2l-5 4l-8 0l-3 -1l-2 -6l2 -5l3 -2l4 2l1 3l3 1l3 0l3 -4l1 -5zM991 171l2 -1l0 5l-3 -1zM263 176l9 2l5 -4l8 10l8 0l2 2l11 -2l-1 -5l3 -3l3 -1l11 8l3 1l8 0l8 3l5 0l4 2l2 5l7 2l6 -4l3 2l1 -2l-1 -3l2 -2l2 0l3 3l8 2l3 4l3 1l2 -2l1 2l-2 3l15 1l5 8l2 -2l-2 -5l8 -1l5 1l13 8l6 1l5 7l5 2l3 3l-3 4l-2 -3l-3 -1l-3 3l-10 4l-5 -2l-4 0l-4 3l0 8l-8 -3l5 -5l-3 -3l-5 7l-3 0l-2 1l-6 -5l-5 1l-8 -3l-1 2l1 6l-5 -1l-3 2l-2 6l-3 1l-4 -1l-2 -5l-2 2l-2 8l-6 8l-3 0l-5 -2l-6 3l-3 -1l-2 -7l-4 -4l0 -2l17 -5l6 1l4 -1l3 -3l1 -10l-4 -6l-2 -5l-2 -2l-6 0l0 -6l2 -5l-2 -4l-3 2l-2 5l-3 1l-5 -3l-13 1l-8 -3l-27 -3l-8 13l-2 1l-8 -2l2 6l3 2l3 -3l2 1l1 4l-6 9l-7 2l-4 8l0 2l5 0l-7 11l2 13l-8 3l-2 -1l-5 -18l5 -10l0 -3l-6 -1l0 -2l0 -2l3 -4l6 1l4 -2l1 -3l-4 -3l-1 -10l2 -2l3 -1l2 -2l-7 -8l-1 -9l-2 -3l-6 -1l0 -3l3 -3l5 2zM266 220l-2 3l5 2l3 -2l-1 -3zM359 200l-1 2l1 5l3 2l1 -7l-1 -2zM287 176l1 -2l4 2l-2 2l-2 0zM297 176l2 0l-1 2zM181 202l3 1l1 2l-1 8l2 0l3 5l-5 4l-14 0l-5 1l2 -8l-2 -2l0 -7l3 1l3 3l5 1l3 -1zM250 202l0 -1l3 -1l3 3l2 -1l0 4l-2 -1l-6 4zM505 202l3 -2l8 2l3 7l5 1l6 8l4 18l-2 5l-1 5l-4 7l-8 0l-5 3l-8 -2l-4 -5l-1 -3l3 -5l-2 -5l-1 -8l-5 -5l7 -5l0 -4l-5 -1l0 -3l1 -3l4 -1zM915 207l6 0l5 3l8 -2l8 0l3 2l2 3l3 1l11 -7l3 3l1 5l9 6l4 -1l4 -7l8 -3l3 3l0 53l-6 0l-4 -6l-5 -3l-1 -7l-3 11l-3 1l-7 -2l0 -8l4 -6l1 -2l-2 -5l1 -6l-3 -2l4 -3l0 -2l-6 -5l-5 0l-3 2l-2 5l-8 2l-8 -16l-3 -2l-7 8l2 7l-3 2l-5 0l-5 -1l-2 -2l-9 -6l-6 1l-2 -3l5 -2l3 -5l5 1zM921 220l-6 4l3 0l5 -1l1 -3zM215 210l3 -2l14 4l5 -4l3 1l9 4l1 2l1 3l-1 2l-5 3l-6 8l-1 2l3 6l0 2l-4 2l-8 -4l-3 0l-2 2l10 9l1 4l4 6l-1 5l-4 5l-5 -2l-3 -4l-2 2l-3 -1l-8 -7l-8 2l-11 -2l-1 -1l1 -8l3 -4l6 -1l0 -3l-6 -2l-1 -3l-3 -13l1 -3l6 0l5 -5l5 -1zM822 220l3 -2l3 1l5 7l-1 2l-4 0l-5 -5zM850 220l4 0l3 5l2 1l2 -3l4 0l2 4l8 1l0 8l-3 8l1 5l2 2l8 2l24 -2l3 1l9 8l1 5l-2 2l-11 5l-5 6l3 5l0 3l-6 2l-4 8l-18 0l-3 -5l0 -5l1 -3l3 0l5 -3l1 -2l-4 0l-2 -9l-11 0l-11 4l-3 7l0 3l4 3l1 2l-6 8l-57 0l5 -3l0 -2l-6 -13l0 -3l4 -5l0 -8l-5 -1l-2 -1l-1 -3l1 -3l4 0l6 5l11 0l2 3l3 1l5 -5l8 -2l8 3l6 -1l5 4l3 -2l2 -16l5 6l3 1l3 -1l-3 -16l-3 0l-2 5l-8 -1l-3 3l-3 0l-3 -8l1 -5zM862 228l-2 0l2 1l2 -1zM886 267l-1 3l1 2l2 -2zM894 271l-2 2l0 5l2 1l3 -4l0 -3zM806 269l-2 1l-1 3l4 5l0 8l2 2l3 1l2 -2l3 -6l3 -1l10 4l7 -1l-3 -8l-6 1l-8 -1l-6 1l-2 -7zM825 287l-4 4l1 2l6 2l1 -4l-1 -3zM811 223l5 0l2 3l-1 4l-3 2l-5 -1zM742 226l6 -1l1 6l5 5l0 5l-4 1l-2 -2l-6 2l-2 -1l0 -10zM630 233l3 -1l1 1zM733 233l1 -1l2 1l-2 5l-2 0l-1 -2zM459 241l1 -2l3 1l2 4l-3 0zM537 241l5 0l0 3l-4 1l-2 -1zM766 244l3 -3l5 3l3 3l5 2l2 5l-1 3l-9 1l-2 2l-5 -6l-2 -8zM247 249l2 0l-1 3l-1 0zM302 254l4 1l11 -1l2 0l0 2l3 1l3 -3l6 3l0 3l-12 -3l-5 6l-5 0l-6 4l-5 0l-1 13l0 6l-2 2l4 8l-30 0l2 -5l-1 -8l3 -10l-4 -8l5 1l3 -2l4 -7l7 -2l-1 5l2 2l4 1l5 -6zM538 254l5 -2l3 1l1 1l-1 4l-3 0zM567 257l3 -1l4 1l1 8l2 1l7 9l-2 8l3 5l0 5l5 3l-28 0l-1 -5l-5 -3l0 -3l5 -5l-3 -10l0 -5l3 -5zM417 262l1 -2l5 2l-5 2zM442 262l2 3l6 1l2 1l-1 3l-4 -1l-3 1l-5 6l-5 1l-4 -2l1 -4l7 -4zM463 262l5 1l6 -2l8 3l-1 3l-6 3l1 3l8 1l6 -5l5 -3l11 -1l3 2l9 16l-1 5l2 3l3 -1l1 -2l-1 -5l5 -5l4 2l1 3l-4 5l0 3l7 0l5 -3l5 3l0 5l-24 0l1 -5l-3 0l-3 1l0 4l-32 0l0 -3l7 -2l7 -8l-1 -3l-5 -3l-19 3l5 6l-1 5l-3 5l-21 0l2 -4l3 1l3 -2l-3 -2l-3 1l-4 -4l1 -5l6 -2l0 -6l1 -3l3 -3zM526 265l1 -1l1 1l1 5l-2 4l-5 -3l-2 -4zM545 267l3 -1l2 4l-1 3l-2 0zM343 273l6 -3l10 2l3 1l3 3l6 2l1 2l-5 6l-2 6l1 4l-21 0l-4 -3l-3 3l-3 -2l-2 -6l5 -6l6 -2l-4 -5zM537 273l4 2l-1 3l-5 1l-1 -1l0 -3zM920 275l9 -1l1 1l-1 8l-3 3l-5 -6zM232 278l2 -1l7 3l2 11l-3 4l-4 -7l-2 -8zM484 286l3 -2l3 2l-3 1zM944 286l3 0l1 2l-1 6l-4 -6zM426 288l0 3l-1 0zM420 293l3 0l0 3l-3 0zM433 293l3 1l2 2l-7 0zM922 293l7 0l5 -2l2 2l0 3l-19 0zM173 296l0 -2l1 2z"/><path fill="#e4ca8c" fill-rule="evenodd" d="M170 48l5 0l2 3l-4 2zM193 51l2 -3l5 0l1 8l-1 3l-7 -5zM288 51l2 -3l4 0l5 3l-2 5l-7 3l-2 -1l-2 -2zM300 48l1 0l0 2zM314 51l6 -3l0 6l-6 1zM379 51l2 -3l14 0l-2 8l5 3l-4 1l-3 4l5 5l-2 3l-5 -2l-8 4l-8 -3l-6 1l-2 -1l-1 -4l4 -6l-1 -3zM378 57l-2 2l1 2l4 2l2 -2l-1 -2zM407 51l1 -3l27 0l1 2l9 4l-3 5l2 4l11 0l1 9l-1 5l2 8l-2 2l-4 -2l2 -5l-6 -1l-1 6l-4 6l-8 0l-2 -1l2 -12l2 -1l9 0l-1 -8l-8 -7l-3 2l2 5l-6 2l-3 3l-5 4l-3 1l-1 -5l5 -2l-1 -5l-6 1l-2 4l-8 5l0 3l10 6l1 9l-12 0l-2 -13l3 -2l-3 -2l-5 7l-4 -8l9 -6l5 -2l4 -8l-1 -2l-4 -3zM431 51l-10 3l2 8l6 1l1 -2l3 -7zM517 51l3 0l-1 1zM659 51l3 -3l19 0l3 2l1 -2l13 0l0 6l-2 5l2 5l-1 8l3 8l13 -2l2 -4l3 0l3 9l3 0l5 3l5 1l1 3l-1 4l-8 -3l-2 2l0 5l-8 8l-3 5l3 5l0 4l5 0l5 1l6 -1l5 4l5 0l6 6l5 0l11 11l2 -2l3 1l1 2l-6 3l1 2l4 3l5 -1l14 11l-3 4l-6 2l0 2l3 3l16 6l1 2l-3 6l-8 4l-3 0l-5 -4l-8 2l-6 6l-5 0l-5 -3l-3 -5l-3 -1l-8 -9l-5 -2l-8 2l-3 -2l-3 3l-5 1l-7 -4l-11 -2l-5 1l-14 -2l-20 1l-2 3l-1 10l2 1l5 -4l3 3l3 1l8 -4l13 3l5 5l0 7l3 3l3 -3l3 1l1 3l-2 5l13 5l2 5l3 3l-1 5l2 4l-3 0l-10 -4l-3 0l-2 3l-1 13l-2 2l-8 4l-6 0l-9 -4l-3 -10l-5 -5l-3 -8l-9 -2l-5 1l-8 -2l-6 1l-13 -4l-13 -12l-6 -15l-5 -4l-42 0l-11 -4l-3 -3l2 -14l4 -4l2 2l3 -11l13 -11l8 -4l8 1l5 -5l16 1l8 -2l6 3l16 4l2 0l6 -3l10 -1l6 1l5 -3l11 3l16 0l2 -2l0 -7l4 -3l-1 -8l-11 -5l-2 3l-6 0l-2 5l-3 2l-1 -2l2 -3l1 -5l-5 -10l-5 3l-8 -2l-3 1l-2 -1l-3 -6l-5 -1l-3 -4l-8 0l-2 -1l2 -5l8 -3l3 -6l8 0l2 1l3 -1l2 -4l-1 -3l-3 -3l-1 -7zM665 56l2 13l6 5l-1 -13l-4 -7zM753 173l-1 3l1 1l3 -1l1 -2zM649 75l-1 2l1 2l3 -2zM787 48l55 0l-1 2l-5 0l-3 6l-5 2l-6 6l-3 0l11 3l-1 5l5 5l0 5l4 3l3 1l5 -7l3 0l2 3l-5 7l-18 1l-3 5l13 2l6 -1l11 -6l4 1l3 3l5 2l7 7l-8 11l1 3l9 2l-3 5l-3 1l-5 -5l-8 10l-13 0l-6 -1l-5 2l-3 -1l-13 -8l2 -6l6 -2l3 -6l-4 -10l1 -3l-9 -2l-4 -7l-6 1l-2 -5l-1 -2l5 -6l1 -5l-3 -4l-5 0l-5 -2l-7 4l2 2l7 0l2 3l-2 3l-2 0l-6 -3l-5 0l-1 -3l3 -5l1 -8l-2 -5zM801 51l-3 3l0 2l3 3l3 -1l2 -7l-2 -1zM812 68l-2 1l7 4l3 -3l0 -2zM950 48l8 0l-3 4l-2 0l-3 -1zM969 54l2 -2l4 2l-1 3l-3 0l-2 -1zM307 56l5 0l4 5l3 1l3 2l-1 5l-3 3l-1 8l-11 -7l-5 0l-3 3l-3 1l1 -8l-2 -2l1 -2l6 -1zM309 64l-1 3l0 2l3 1l3 -3l-2 -3zM839 56l2 -1l4 4l-1 3l-6 1l-2 -1zM276 59l4 -2l4 2l-1 2l-6 5l-5 1l-3 -3zM185 64l4 -1l5 2l6 -3l1 5l-12 1l-4 -1zM969 69l3 0l0 3l5 2l0 4l-3 0l-2 -1zM195 74l2 -1l3 0l1 1l-4 6l-3 -1l0 -2zM256 80l2 -3l6 0l-3 8l4 8l-4 5l-3 -1l-1 -2l0 -8l-4 -5zM354 80l3 -2l0 2l0 1zM287 82l3 -2l4 5l-4 3l-2 0l-2 -3zM378 82l3 3l-3 2l-2 -2zM394 85l2 0l-1 8l-1 2l-3 1l-2 -3l0 -6zM795 85l6 2l0 3l-3 1l-5 -1l0 -4zM378 95l3 -1l2 0l3 2l5 7l2 5l3 3l0 5l-6 3l-1 7l-2 -5l-6 -5l1 -5l-2 -5zM394 98l3 -2l2 0l3 2l-3 4l-5 2l-2 -1zM424 98l2 -1l8 0l2 3l1 3l-1 3l-5 3l-8 8l-5 1l-5 -2l-2 -5l-4 0l-2 -3l0 -2l10 -4l3 2l1 7l2 2l2 -2l3 -3l5 -2zM500 103l2 0l-2 3l-2 0zM314 106l3 0l-3 2zM356 106l1 -1l4 3l-2 4l-4 -4zM356 116l3 -2l1 2l0 3l-3 6l-3 -1zM397 116l5 -1l5 4l1 5l5 4l5 -2l3 0l3 6l-6 0l-5 5l-3 -1l-2 -2l1 -2l-7 -4l-3 -4zM303 127l3 -1l3 4l0 2l-3 0l0 -3zM340 127l6 -2l5 1l3 4l5 15l8 2l6 -3l6 -2l2 -2l0 -3l2 -3l6 -3l2 2l2 7l5 2l1 3l-3 2l-4 8l2 4l6 1l-1 2l-8 0l-10 7l-11 1l-3 -2l-2 -3l-2 3l-4 2l-6 -2l-8 -8l1 -4l5 2l6 -1l5 6l3 -6l4 -4l-2 -3l-2 3l-6 -2l-10 -1l-1 -3l1 -2l2 4l3 1l2 -3l0 -2l-2 -3l-3 0l-2 3l-6 -2l-2 2l5 10l-3 1l-2 -2l-7 -7l4 -10l2 -3l-1 -5zM286 134l2 -1l2 7l4 0l3 2l-4 2l-3 -4l-2 0l-3 -2zM303 137l1 0l2 6l0 2l-5 2l-3 -2zM197 142l5 -2l8 4l6 1l2 2l-1 3l-5 5l-2 4l-2 1l-3 0l-4 -7l-6 -6l-1 -4zM425 145l14 -2l2 2l-2 2l-3 0l-5 14l-2 0l-3 -3l-9 -3zM978 145l7 0l-2 5l4 3l6 0l0 6l-6 -3l-1 2l0 5l-7 6l-6 -9l5 -5l-3 -8zM186 150l2 0l1 3l-3 3l-1 -1l-1 -2zM232 155l3 0l-1 2zM217 158l3 0l4 2l5 0l5 7l6 1l-11 3l-5 -6l-6 -3zM438 160l1 -1l5 4l0 3l-2 2l-3 0l-4 -2l1 -3zM197 163l3 -1l3 1l-2 3l-4 1zM331 163l2 -1l0 1zM791 166l5 -1l4 3l-7 3l-3 -3zM665 174l0 3l-1 -1zM825 174l3 -2l5 0l4 4l-1 7l-3 4l-3 1l-8 -2l-5 4l-8 0l-3 -1l-1 -5l1 -4l3 -2l2 1l3 4l6 1l4 -5zM263 179l1 -1l5 2l8 -4l5 4l3 5l8 1l1 3l0 5l-6 4l-6 10l-2 2l-8 -2l-2 2l4 9l3 1l3 -2l2 2l-5 7l-3 1l-2 -2l2 -6l-10 -1l-2 -1l-1 -8l5 -2l1 -3l-1 -3l-6 -8l-1 -7l4 -6zM272 191l0 6l5 3l1 -3l-1 -2zM307 179l2 -2l2 0l14 8l8 -1l8 3l5 1l3 2l1 7l-4 3l-3 5l-4 -3l-1 -2l-1 2l-10 2l-30 -7l2 -5l-2 -3l1 -2l8 -1l2 -2zM374 192l8 0l7 9l8 0l7 1l3 7l3 1l8 0l-3 -5l1 -3l7 1l13 9l3 0l3 1l4 5l1 2l-2 3l-3 3l-8 2l-8 -1l-5 3l-6 -3l-8 7l-2 0l-6 -4l-5 1l-8 -3l-2 3l-1 4l-5 1l-5 8l-7 -8l-1 -5l1 -5l-4 -6l-2 -7l4 -6l-1 -10l2 -2l5 1l3 4l1 -3zM353 197l5 0l-1 5l2 8l-2 2l-3 0l-2 -2l2 -7l2 -1l-2 0zM506 202l2 -2l6 2l5 9l5 1l5 6l4 18l-1 3l-2 7l-3 5l-8 0l-5 3l-3 0l-5 -2l0 -3l-3 -3l2 -5l-3 -13l-5 -5l5 -3l4 -5l-1 -2l-2 -2l-3 1l-1 -2zM181 205l3 0l0 2l-3 0zM165 207l5 4l8 1l3 2l5 2l1 2l-3 3l-8 -1l-11 2l2 -7l-2 -3zM917 207l9 4l7 -1l-4 7l-3 2l-8 0l-8 4l-5 -5l0 -3l5 -2zM217 210l4 0l8 3l3 0l5 -4l3 0l9 6l1 3l-12 13l0 5l1 3l-1 2l-4 1l-2 -3l-8 -2l-6 7l8 1l8 7l-3 5l1 2l5 -1l1 4l-1 3l-3 2l-2 0l-3 -5l-8 1l-8 -6l-8 2l-3 -1l-8 -1l0 -5l1 -3l5 -4l4 -1l1 -3l-5 -1l-3 -3l-3 -14l8 -2l3 -5l8 -2zM934 210l8 -1l5 5l3 1l11 -7l3 2l-1 8l-8 3l-2 6l-6 2l-2 -1l-3 -7zM983 213l4 -1l6 2l0 52l-6 -1l-3 -5l-4 -3l-3 -10l-3 2l-1 11l-2 1l-5 -1l-1 -8l5 -6l0 -2l-2 -5l2 -3l0 -5l1 -3l-5 -8l3 0l5 2l6 -2l1 -5zM824 220l1 -1l2 1l3 6l-3 0zM848 223l4 -1l6 6l1 3l-2 6l-3 0l-2 -1l-6 1l-3 -1l-2 -3l1 -5zM925 223l3 3l-4 2l-4 0l0 -2zM266 226l4 2l-2 3l-4 10l3 3l0 2l-4 6l1 5l-1 8l-5 2l-2 -2l-3 -16l4 -8l0 -5l-1 -2l-4 -1l-1 -2l2 -3l8 1zM811 226l1 -2l2 0l3 2l-1 2l-4 2zM743 228l2 -2l8 11l0 3l-3 1l-2 -3l-6 2l-1 -7zM869 228l5 0l0 8l-1 3l-6 1l-4 -7l1 -2zM345 241l6 -1l11 0l1 4l-7 10l-7 0l-6 2l-3 -2l0 -5l-3 -3l-1 -2zM767 244l2 -1l3 1l2 3l7 2l2 3l-1 4l-10 2l-3 -2l-3 -10zM865 244l2 -2l3 1l3 8l5 1l5 4l3 -2l8 -2l5 2l8 -2l6 5l5 3l1 2l-1 4l-11 4l-7 8l4 5l-1 3l-4 0l-4 5l-2 5l-7 -1l0 1l-7 0l-4 -10l11 -6l3 -6l2 4l-3 5l1 1l2 0l8 -6l-2 -9l-7 1l0 -3l2 -2l-1 -3l-5 3l-5 6l-3 -3l-3 0l-8 0l-10 2l-3 -2l-2 1l-2 4l2 2l-1 8l4 3l1 2l-2 5l-5 3l-3 -1l-1 1l-14 0l-2 -10l7 -1l3 -2l-3 -5l0 -5l-8 2l-14 -1l0 -4l-2 -2l-8 1l-3 -2l-1 -5l4 -2l8 1l2 3l3 0l5 -5l8 -1l8 2l6 -1l8 4l1 -1l1 -15l7 5l4 0l2 -3zM540 254l3 -1l3 1l-3 3zM282 257l5 0l1 6l7 3l2 4l-1 8l1 5l-1 3l-3 2l5 8l-27 0l2 -8l-1 -10l3 -5l-1 -3l3 -5l2 -5zM300 257l3 -1l5 4l-2 5l-3 1l-7 -4zM309 257l5 -3l4 3l-4 5l-3 0zM569 257l3 0l1 3l-1 5l5 3l6 7l-2 8l3 5l1 8l-22 0l-1 -7l-4 -1l0 -2l3 -6l-2 -15l3 -4zM792 257l1 -2l3 2l-3 3zM465 265l9 -3l6 3l-6 3l-1 2l3 5l4 0l-10 3l0 2l2 3l4 2l1 3l-1 3l-2 2l-3 1l-1 2l-16 0l1 -2l5 0l2 -3l-2 -3l-8 -2l1 -3l5 -3l1 -7l5 -6zM441 267l1 -1l2 1l-5 8l-6 0l-2 -2zM448 267l2 0l0 1zM503 267l3 -1l2 1l7 13l-2 8l2 8l-30 0l15 -13l-1 -3l-7 -4l-5 1l-1 -2l4 -5l2 -1l6 -1l2 2l3 0zM523 267l4 1l0 4l-3 0l-3 -2zM346 273l3 -2l8 3l2 -1l6 4l5 1l1 2l-6 6l-2 5l1 5l-15 0l-8 -5l-3 1l-3 -2l0 -2l4 -5l8 -3l-3 -5zM798 273l3 -2l3 3l2 4l-1 2l-7 2l-1 -2l-2 -2l0 -3zM882 273l1 -2l0 3l-2 2zM921 278l2 -3l5 3l-2 6l-3 -2zM237 280l3 0l1 3l1 5l-2 4l-4 -6zM526 280l3 0l1 3l-3 4l-3 -1l-1 -3zM817 283l3 -2l2 1l5 4l-7 2l0 3l1 5l-8 0l-4 -2l-3 2l-10 0l6 -3l-1 -6l3 -1l5 4l3 0l4 -2zM539 291l1 -1l3 1l0 5l-21 0l2 -2zM933 293l2 3l-15 0l3 -2zM432 296l2 -2l3 2z"/><path fill="#ddbe78" fill-rule="evenodd" d="M172 48l2 0l0 3l-1 0zM196 51l1 -1l0 4zM291 51l2 -1l4 4l-2 2l-6 0l-1 -2zM316 51l2 0l-1 3zM381 51l4 -3l8 0l-3 19l-9 5l-8 -3l-6 1l-2 -1l0 -2l5 -3l3 1l5 -2l3 2l2 -1l1 -3l-1 -2l-5 -3l0 -2zM411 48l23 0l-8 3l-5 1l-2 4l2 3l0 5l-6 3l-5 5l-3 1l-1 1l-4 1l-5 6l-2 -4l9 -5l3 0l6 -13l3 -3l-3 -2l-1 2l-4 0l0 -2l3 -3zM660 51l4 -3l7 0l0 3l-6 1l-2 10l-3 0l-1 -3zM677 48l2 0l1 3l1 1l3 0l2 -4l11 0l0 6l-2 5l2 5l-1 8l2 10l2 1l8 -3l8 1l4 4l0 5l3 5l0 3l-12 13l4 5l0 5l1 2l2 0l3 -2l5 2l6 -2l5 4l5 0l3 1l3 5l5 0l3 2l6 9l1 5l3 3l8 1l2 2l1 4l3 -1l4 2l2 2l-1 3l-8 1l0 5l5 4l11 3l4 3l-1 4l-8 5l-3 0l-5 -5l-8 3l-6 4l-5 2l-4 -3l0 -2l1 -2l3 3l3 0l1 -1l-4 -5l-11 1l-8 -9l-5 -2l-3 0l-2 1l-8 -1l-6 4l-7 -4l-11 -2l-5 1l-24 -3l-12 3l-3 3l1 10l3 3l4 0l1 -2l6 2l8 -5l13 3l4 4l1 10l3 2l2 -4l3 0l1 3l-3 5l2 2l12 3l2 5l2 3l0 6l-5 1l-5 -3l-5 1l-2 8l0 8l-4 4l-5 1l-6 0l-7 -3l-5 -13l-4 -3l-2 -8l-9 -2l-5 -4l-1 2l0 2l-4 1l-5 -1l-6 0l-13 -4l-12 -11l-6 -16l-6 -4l-42 0l-8 -2l-5 -4l2 -14l3 -2l2 3l3 -1l1 -7l-1 -3l1 -3l7 -4l3 1l2 -7l5 0l3 -4l8 1l5 -5l8 -1l6 2l10 -2l6 3l16 4l2 0l6 -4l10 0l6 1l5 -3l11 3l8 -1l3 1l2 3l3 -1l0 -2l4 -3l-1 -5l2 -2l6 -1l-3 -2l-3 -9l-11 -6l-5 2l-5 -1l-3 -9l-3 -3l-2 3l-6 2l-9 -3l-1 -5l-6 0l-2 -2l-3 -5l-1 2l-4 1l-4 -1l0 -3l4 -3l3 1l2 2l7 -2l2 -3l-1 -3l3 -2l5 1l3 -5l2 0l3 4l5 3l1 -1l0 -13l-3 -5l6 -5zM687 76l0 2l2 -1zM689 58l-1 3l2 0l1 -2zM753 172l-2 4l2 3l3 -1l2 -4l-2 -3zM764 167l-5 4l5 2l1 -5zM607 133l-2 1l-1 3l3 2l1 -2zM787 51l2 -3l16 0l-7 3l-2 3l0 2l4 5l-10 3l-2 -3l1 -5zM808 51l1 -2l5 3l1 -4l26 0l-5 1l-3 5l-5 2l-3 3l-3 2l-5 0l-5 3l-7 -5zM951 48l6 0l-2 2l-2 1zM434 54l0 -2l2 0l7 2l-3 7l-6 -1l-1 -1zM375 56l3 0l-3 1l0 4l-2 2l-4 -4zM278 59l4 0l-1 2l-4 1zM307 59l4 -1l1 3l-4 0zM839 59l2 -3l2 3l-2 2zM271 64l1 -1l3 1l-3 1zM318 64l1 -1l1 4l-3 2l-1 5l-2 3l-4 -5l6 -3zM187 67l2 -3l6 3l-3 1zM299 67l4 -2l3 3l0 3l-5 1l-2 -3zM430 67l1 -2l3 4l-5 0zM450 67l2 -1l3 6l0 2l-3 3l-4 0l-2 -3l1 -5zM823 67l4 0l0 5l5 5l1 5l7 5l-4 2l-6 -1l-2 -4l-5 -2l-1 -3l0 6l2 5l-1 3l-3 0l-5 -3l-3 -6l-3 1l-4 -3l-1 -2l5 -4l5 2l6 -4zM425 69l2 0l-1 2zM793 72l3 -2l2 2l-2 1zM197 74l1 0l-1 3zM434 80l2 -2l6 0l2 2l0 3l-2 4l-6 2l-2 -2zM289 82l1 0l3 3l-3 3l-3 -3zM454 82l1 0l0 4l-2 -1zM404 85l3 -2l5 2l3 5l-2 2l-6 2l-2 0zM724 85l3 2l-3 2l-2 -2zM258 87l0 -1l6 7l-3 3l-3 -2zM795 87l2 0l-1 2zM391 90l0 -1l1 1l-1 3zM853 93l4 -2l3 2l2 4l5 1l5 5l-10 12l-3 12l-5 2l-10 1l-8 -3l-2 2l-4 0l-1 -2l-6 -3l-3 -5l5 -4l5 -7l-4 -7l1 -3l14 0zM380 95l3 1l3 2l3 5l1 5l4 3l0 3l-5 2l-3 3l-2 -3l1 -5l-4 -5zM395 98l4 -1l2 1l-4 3zM427 98l7 1l1 4l-1 2zM407 106l6 -1l2 -1l3 4l-1 6l-2 1l-2 -5l-6 -1zM427 108l2 0l0 3l-3 2l-1 -2zM423 114l1 0l-1 1zM402 116l2 3l-2 2l-3 -2zM870 119l3 0l1 2l-4 3l-2 -3zM401 124l1 -2l6 5l-1 1l-5 -1zM346 127l6 2l3 5l0 6l-6 2l-8 0l-3 -2l1 -3l6 -3l-5 -5zM385 134l4 -1l1 1l2 6l5 2l0 3l-7 10l3 5l-10 6l-13 3l-5 -6l0 -5l6 -5l-1 -6l3 -2l5 -1l4 -2l0 -5zM199 145l1 -3l2 2l6 0l8 3l0 3l-8 7l-8 -10zM337 145l1 -1l1 3l-1 2l-1 -2zM423 147l3 -2l3 0l5 2l-5 12l-10 -4zM978 147l2 0l-1 4zM186 153l0 -2l0 3zM981 155l2 0l2 8l-6 4l-4 -7zM991 155l2 -1l0 4zM352 160l5 -2l4 5l0 5l-2 1l-5 -1l-4 -5zM225 163l4 -1l4 6l-4 1l-2 -1zM437 163l2 -1l3 0l1 4l-4 1l-3 -1zM792 166l4 0l1 2l-4 2l-2 -2zM826 174l6 0l4 2l0 4l-3 1l0 3l-3 2l-8 -2l3 -5l2 0zM274 179l3 -1l5 3l3 5l6 1l1 2l-1 5l-9 8l-1 -8l-4 -2l-3 -5l-2 0l-3 10l13 8l-2 3l-11 -1l-3 -7l-5 -6l0 -8zM310 181l1 -2l3 1l11 6l8 -1l13 4l3 5l-1 3l-5 2l-5 -3l-4 6l-7 1l-10 -3l-11 -1l-4 -2l1 -7l-2 -1l5 -1l4 -4zM806 181l3 -2l3 2l2 4l5 2l-2 3l-8 -1l-3 -2zM378 192l3 0l8 11l8 -2l5 1l5 9l11 1l4 -2l-4 -5l3 -1l5 1l10 10l6 0l2 3l0 5l-2 2l-8 2l-5 -1l-8 2l-8 -4l-3 7l-3 2l-2 0l-6 -4l-5 2l-3 -1l-5 -3l-4 6l-7 3l-2 5l-7 -8l1 -7l-4 -6l-1 -7l3 -8l0 -8l3 0l5 4l2 -2l1 -5zM507 202l1 -1l5 1l2 3l3 8l5 0l5 5l4 18l-2 3l0 7l-3 4l-3 0l-5 -3l-5 6l-3 0l-3 -1l-2 -6l0 -5l-3 -13l-4 -5l7 -5l1 -3l0 -2l-3 -3zM353 207l1 -1l3 1l0 3l-3 1zM218 210l11 4l3 -1l5 -3l3 0l8 5l0 3l-10 10l-2 8l1 4l-3 0l-2 -4l-6 -2l-2 1l-7 6l-1 3l2 2l8 0l6 6l-3 8l-5 2l-3 0l-5 -5l-3 -1l-5 1l-6 -1l-5 1l-3 -3l3 -7l8 -2l2 -4l-2 -2l-5 0l-3 -3l-1 -8l1 -5l5 0l5 -5l6 -3zM914 210l4 -2l5 4l7 1l-1 3l-3 1l-10 1l-6 3l-3 -3l0 -3l3 -1zM938 210l5 0l4 6l6 -1l8 -6l1 1l0 3l-2 5l-5 2l-2 6l-6 2l-2 -2l-3 -8l-3 -3l-1 -2zM170 213l6 0l9 5l-4 3l-3 -2l-8 0l-1 -1l0 -3zM263 213l3 -3l3 0l3 4l0 4l-8 -1zM982 215l3 -2l8 3l0 49l-6 -2l-1 -3l-5 -3l-4 -13l0 -8l-5 -3l-1 -10l11 -2zM848 226l3 2l6 2l0 3l-2 3l-3 -1l-8 0l0 -7zM252 231l1 -1l11 0l2 2l-1 4l-3 5l2 5l-3 6l1 13l-4 1l-1 -4l3 -2l-4 -3l-2 -8l6 -8l-3 -8zM743 231l2 -2l4 4l0 3l-4 2l-3 -1l0 -4zM867 231l6 -2l-1 7l-2 1l-3 -1l-2 -3zM348 241l3 -1l8 2l3 2l-5 5l-6 -1l-1 4l-7 3l-2 -2l0 -3l2 -6zM767 246l2 -2l3 2l2 6l6 -3l2 2l1 3l-3 2l-8 1l-4 -3zM968 249l3 -2l1 2l1 5l-2 6l-2 -1l-3 -5l0 -2zM854 252l3 -3l2 4l3 0l8 -3l3 2l5 1l5 6l3 -4l3 -1l5 -1l5 3l8 -3l6 5l3 2l2 2l0 3l-3 2l-10 3l-3 4l-3 -1l0 -6l-8 -7l-5 2l-3 -1l-1 1l1 3l-2 3l-14 -2l-8 2l-3 -3l0 -11zM310 257l4 -1l2 1l-2 4l-3 -1zM234 260l3 0l0 2l-3 3l-2 -1l-1 -2zM280 260l5 -3l1 8l-1 3l3 0l5 -1l2 3l0 3l-2 5l3 5l-4 5l6 8l-24 0l0 -7l3 -9l-3 -2l3 -5l-1 -6zM299 260l4 -2l4 4l-4 3l-4 -3zM567 260l3 -2l1 2l-1 5l2 2l5 2l5 6l-3 11l4 3l1 7l-20 0l-2 -10l1 -8l-3 -8l0 -5l2 -3zM572 285l0 2l3 1l2 -2zM802 262l2 -1l5 0l4 4l-4 2l-5 1l-2 -3zM820 262l2 -2l22 0l7 5l0 2l-3 6l1 10l6 5l-1 4l-2 2l-8 -2l-4 1l2 3l-9 0l-2 -3l0 -5l2 -2l5 0l3 -3l-4 -5l1 -5l-5 -1l-5 2l-12 -1l-2 -6zM466 267l2 -2l4 2l0 6l-4 3l0 4l3 4l5 2l1 2l-3 4l-3 0l-3 4l-7 0l2 -8l-7 -2l1 -3l3 -3l0 -7zM505 267l3 1l2 5l3 7l-2 8l3 8l-28 0l8 -5l11 -11l-7 -1l-8 -6l2 -3l3 -1l8 3zM523 270l1 -1l2 1zM433 273l5 0l-2 0zM346 275l3 -2l5 3l5 -1l11 5l-6 6l-3 5l1 5l-13 -1l-4 -2l-2 -3l-4 -2l0 -2l2 -2l5 -1l2 -3l0 -2zM797 275l4 -2l4 5l-1 2l-6 0l-2 -2zM923 278l0 -1l3 1l-3 2zM896 280l6 3l-13 9l-6 1l-4 -5l0 -2l4 -3l8 2zM236 283l4 -2l1 2l-1 6l-3 -2zM525 283l2 -2l1 2l-1 2zM818 283l4 0l2 3l-4 1zM803 288l5 3l-2 2l-2 -1zM812 291l5 -2l1 4l0 3l-7 -3zM536 293l4 -1l2 4l-18 0zM433 296l1 -1l2 1zM922 296l4 -1l8 1z"/><path fill="#d4ac62" fill-rule="evenodd" d="M383 51l5 -3l3 0l-2 13l-3 0l-1 -2l-4 -3l-1 -2zM415 48l4 0l-1 4l-3 -1zM421 48l11 0l-6 2zM667 48l2 0l-1 1zM688 48l7 0l0 8l-3 1l-3 -2l-5 6l3 3l5 -3l3 0l1 3l-1 16l-1 2l1 3l2 1l11 -3l8 0l6 12l-2 6l-11 10l5 5l-1 5l3 5l2 1l3 -4l3 0l2 2l6 -3l3 2l2 4l5 -2l6 6l2 1l3 -1l4 2l7 16l10 4l2 4l-2 5l1 5l2 3l19 8l-1 2l-7 7l-4 -1l-2 -6l-8 4l-8 1l-5 -5l-4 -2l1 -4l3 -2l3 2l1 -1l2 -6l-3 -3l-14 8l-1 3l3 5l-2 1l-8 -8l-8 -4l-2 2l-8 -2l-6 5l-7 -5l-11 -1l-5 1l-24 -3l-8 1l-5 3l-4 3l2 5l0 5l4 5l5 -1l6 1l8 -6l13 3l3 3l2 12l3 2l2 4l12 3l3 3l2 10l-3 0l-3 -2l-2 0l-6 1l-2 9l1 8l-4 3l-5 2l-12 -3l-4 -8l-1 -5l-3 -2l-2 -8l-2 -2l-8 -2l-6 -4l-2 2l-1 3l-2 1l-5 -2l-6 1l-13 -5l-11 -10l-6 -16l-7 -5l-5 -1l-16 2l-21 -1l-8 -2l-4 -3l2 -8l-1 -4l3 -2l2 3l4 -3l1 -7l-1 -3l2 -3l10 -2l0 -6l9 1l-1 -6l8 0l5 -4l8 -1l5 3l-4 2l0 3l5 3l3 -3l1 -3l-4 -2l10 -2l22 6l10 -4l8 -1l6 2l5 -2l8 3l8 -3l3 1l5 4l5 1l-1 -3l4 -5l0 -5l8 0l-5 -8l-1 -5l-2 -2l-6 -3l-2 -3l-8 1l-4 -1l-2 -2l-2 -12l-5 6l-6 2l-2 -2l2 -5l-5 -5l-5 3l-6 1l-3 -4l0 -3l7 -2l2 -6l5 1l3 -4l2 0l8 5l3 -2l-3 -18l14 -3l2 -2zM740 132l-3 5l3 1l1 -1zM617 134l-1 0l1 3l3 -1l0 -3zM684 74l0 3l3 2l2 1l3 -3l-3 -3zM684 87l-1 0l1 4l3 0l1 -4zM790 48l12 0l-4 1l-4 5l0 2l2 3l-6 3l0 -4l2 -2l-2 -5zM817 48l9 0l2 3l4 0l-2 3l-2 -2l-3 -1l-1 5l-2 3l-5 0l-5 2l-3 0l-3 -2l0 -4l3 -4l5 4l3 -4zM952 48l4 0l-1 1zM660 54l2 5l-2 1zM434 56l2 -2l3 1l0 4l-4 0zM414 59l4 -2l2 4l-1 3l-4 1l-2 3l-2 -1zM385 64l1 -2l2 2l-2 3l-1 0zM377 67l3 0l2 2l-4 1zM301 69l2 -2l2 2l-2 2zM822 69l3 -1l1 1l-1 5l-3 0zM448 72l2 -1l2 1l1 2l-3 2l-2 -2zM436 80l6 -1l1 3l-4 5l-3 0l-1 -2zM805 80l4 -2l1 4l-4 1zM816 80l1 -2l2 2l2 5l1 5l-2 2l-4 -2l-1 -3zM636 82l3 -2l3 2l-3 3l-2 0zM289 85l1 -2l2 2l-2 2zM831 85l2 -1l3 1l1 2l-4 1zM405 87l2 -2l3 0l3 2l0 3l-6 3l-2 -3zM260 93l1 -3l1 3l-1 2zM854 93l3 -1l1 1l4 8l3 -2l2 0l4 4l-4 3l-8 10l-2 11l-13 1l-5 -1l-3 -7l-3 0l-4 4l-4 0l-3 -3l0 -2l10 -11l-4 -8l2 -1l14 0zM846 103l-3 3l3 0zM383 98l4 5l0 3l-1 2l-3 -2zM430 101l4 -1l0 3zM414 108l1 -2l0 4zM870 121l3 -1l0 1zM343 129l3 -1l5 2l3 7l-3 3l-2 -1zM387 134l2 0l0 6l6 2l1 3l-7 8l-3 0l-2 -6l3 -7l-3 -3zM340 140l1 -2l3 2zM205 145l3 0l6 5l-6 3l-4 -3l-1 -3zM372 147l5 0l-1 6l5 5l2 2l6 -3l1 3l-4 4l-16 4l-4 -5l0 -3l0 -2l6 -5zM424 147l2 -1l5 1l-2 9l-8 -1zM355 160l2 0l3 3l1 3l-1 2l-3 1l-4 -3l-1 -3zM778 160l2 -2l2 0l3 2l-3 2zM438 166l1 -3l3 1l0 2zM273 181l4 -2l4 2l2 6l7 2l-1 5l-4 2l-3 -4l-9 -8zM808 181l1 -1l5 6l3 1l-8 2l-3 -2l0 -3zM824 181l4 -1l2 4l-5 1l-2 -1zM311 184l3 -3l11 5l8 -1l10 4l5 5l-1 3l-4 1l-5 -3l-3 1l-2 5l-6 2l-10 -4l-6 0l-6 -2l0 -3zM263 187l3 -2l4 2l-4 10l-2 -1l-3 -4zM377 194l4 0l8 10l8 -2l2 0l4 3l4 8l-1 5l2 2l1 11l-4 1l-3 -3l-3 -1l-5 2l-8 -4l-5 6l-6 2l-2 3l-3 -1l-3 -5l1 -5l-4 -8l-1 -5l3 -8l-1 -5l2 -2l6 4l3 -2zM702 200l3 0l-2 1zM269 202l3 -1l7 4l-2 2l-8 -2zM508 202l3 0l3 3l0 2l-2 6l7 3l5 0l4 4l2 13l-1 13l-2 3l-3 0l-5 -3l-5 6l-3 0l-4 -6l0 -5l-2 -5l0 -10l-2 -1l-1 -2l7 -8l1 -2l-4 -3l-1 -3zM514 219l-2 1l2 3l2 -3zM508 224l-2 2l2 2l2 -2zM426 207l4 3l6 7l6 0l-1 6l-7 3l-5 -1l-8 2l-7 -4l-2 -5l-4 -3l13 -2zM915 210l3 -1l7 6l-10 1l-5 3l-1 -1zM218 213l6 -1l5 2l8 -3l3 0l6 4l1 3l-7 7l-3 1l-3 9l-8 -3l-2 1l-7 6l-3 5l2 2l10 3l5 3l-3 5l-4 4l-3 0l-3 -4l-10 -2l-3 -2l-8 3l-2 -2l0 -2l2 -4l3 -2l5 0l3 -2l1 -3l-1 -3l-8 0l-2 -2l0 -10l6 -3l4 -4l5 -2zM265 213l4 -1l2 3l-2 2l-3 0l-2 -2zM939 213l3 -2l2 2l-1 2l-1 1zM170 215l3 -1l4 1l-4 3l-3 0zM954 215l4 -2l1 2l-1 3l-4 2l-2 6l-5 1l-3 -9l1 -2zM984 215l9 2l0 47l-5 -2l0 -2l3 -3l0 -3l-2 -2l2 -6l-4 0l0 8l-2 3l-3 -1l-2 -4l-1 -13l-2 -6l-4 -2l0 -5l1 -2l8 -1l2 -3l-1 -2zM845 231l1 -2l3 1l4 3l-7 1zM259 233l2 -1l3 0l1 1l-4 7zM743 233l2 -2l3 2l-3 4l-2 -1zM345 244l6 -3l5 3l-5 2l-3 6l-5 2l-2 -2zM769 246l2 6l-2 0zM255 249l3 -1l2 1l0 5l-2 2l-2 -1zM776 252l4 -2l2 4l-2 2l-5 -2zM967 252l2 -2l2 0l0 6l-2 0zM771 254l1 -2l2 2zM861 254l6 -1l11 1l2 3l0 8l-5 1l-6 -1l0 -5l-7 -2zM893 254l3 3l-2 2l-8 1l0 -3zM905 254l2 0l3 3l5 3l2 2l0 3l-4 2l-8 -1l-4 -9zM281 260l2 0l1 5l-1 2l2 3l8 -1l1 1l-1 5l-6 3l6 2l2 3l-4 5l1 3l3 2l2 3l-18 0l-2 -3l0 -2l3 -3l-3 -2l1 -6l-1 -5l1 -2l0 -6l2 -5zM303 260l3 2l-3 2l-2 -2zM233 262l1 -1l2 1l-2 1zM566 262l4 0l-4 8l1 2l8 -4l2 2l4 5l-4 9l-5 0l-5 4l-4 -5l1 -5l-3 -8l1 -5zM804 262l4 0l3 3l-5 2l-3 -2zM822 262l4 0l1 3l-5 5l-2 0l-3 -3zM833 262l11 -1l5 4l1 2l-3 6l0 10l7 5l0 3l-2 2l-8 -2l-12 2l0 -5l6 0l5 -8l-4 -2l1 -5l-2 -1l-5 -1l-3 2l-4 0l3 -8zM859 262l5 3l-5 1l-1 -1zM468 267l1 0l1 3l-2 2zM506 270l3 0l0 5l-9 4l-3 -1l-4 -5l2 -3l8 4zM462 273l6 0l-2 7l2 6l-2 1l-7 -1l0 -3l2 -3zM799 275l3 0l2 3l-3 1l-3 -1zM352 278l7 -1l9 3l-6 6l-5 7l-8 1l-3 -2l-2 -6zM239 283l1 0l0 2zM505 283l3 -2l2 2l-6 13l-17 0l5 -3l3 1l3 -6zM470 286l4 0l1 2l-1 2l-4 -2zM882 286l1 -2l3 1l4 3l-2 3l-5 -1zM465 291l3 2l-1 3l-5 0l1 -4zM565 291l2 -2l8 1l5 -2l2 3l1 5l-18 0zM814 291l2 0l1 3l-4 -1zM356 296l1 -3l4 3zM510 296l1 -1l1 1zM529 296l9 -1l2 1z"/><path fill="#cd9d50" fill-rule="evenodd" d="M792 48l4 0l-3 2zM818 48l6 0l-3 6l0 2l-1 1l-2 -1l1 -2zM381 54l5 -2l1 4l-1 2l-3 -1zM808 54l5 2l-1 3l-4 0l-1 -3zM675 59l1 -2l5 1l1 1l-2 5l4 2l11 -4l0 5l-2 5l-1 1l-8 0l-2 1l0 3l8 8l7 3l14 -4l5 1l1 5l3 5l0 3l-15 15l-5 -6l-4 -1l-4 -9l-1 4l-4 2l-3 0l-4 -2l5 -3l5 -11l-1 -1l-8 0l-5 -2l-3 2l-2 7l-6 2l1 -5l-6 -7l-8 5l-3 0l-2 -3l1 -3l6 -2l1 -4l5 1l3 -4l2 0l8 4l3 -1l1 -2l-2 -7zM415 61l3 -2l0 4l-3 0zM436 82l3 -2l2 2l-2 3l-3 1zM638 82l1 -1l1 1l-1 3zM817 82l3 3l0 6l-3 -1l-1 -3zM407 87l4 0l-4 3zM679 90l2 -2l2 5l-4 4zM852 95l5 -2l2 8l3 2l3 -2l2 0l1 2l-11 13l-3 10l-8 1l-6 -3l-3 -10l-3 -3l-1 -5l-3 -3l3 -2l3 0l5 1l0 4l3 1l2 0l2 -1l1 -3l-2 -5zM705 116l0 -2l6 0l2 2l-2 6zM827 116l3 -2l2 5l-4 4l-4 -2zM730 124l2 -1l4 4l0 10l1 3l3 0l3 -3l2 -6l5 7l2 -1l0 -3l4 1l2 7l6 9l8 2l2 2l0 3l-2 5l2 8l8 4l6 1l5 2l1 3l-6 6l-3 0l-3 -8l-8 5l-2 -2l-6 2l-5 -5l-2 0l0 -3l2 -1l3 2l2 0l6 4l1 -2l0 -3l-4 0l-2 -2l1 -11l-4 -3l-4 0l2 3l-1 3l-9 5l-4 5l-14 -8l-5 3l-5 -3l-6 5l-10 -5l-16 0l-3 1l-21 -3l-14 5l-2 3l3 5l0 5l5 8l5 -3l6 2l5 -6l5 -1l5 3l3 5l3 -2l3 4l1 8l4 2l1 3l7 2l8 4l-2 5l-9 3l-3 10l1 8l-6 4l-13 -2l-4 -8l0 -5l-4 -2l-2 -3l-1 -8l-8 -2l-8 -4l-2 1l-3 5l-11 -1l-13 -5l-12 -12l-4 -13l-11 -7l-10 2l-14 0l-7 -1l-8 1l-8 -2l-4 -3l4 -10l5 -1l2 -3l2 -7l-1 -4l2 -2l10 0l0 -7l6 2l4 -2l-1 -4l8 0l2 -4l9 0l-4 2l9 8l5 -6l5 3l3 -1l5 -5l14 4l10 -4l8 -1l6 2l5 -2l3 1l5 7l2 -6l6 -2l5 5l8 3l0 4l6 -6l8 -1l-3 -5l-9 2l0 -2l4 -6l10 0l3 2l2 1l6 -3l2 2zM684 228l3 1l0 -1zM596 141l-2 1l2 1zM689 140l-1 2l1 3l8 0zM721 135l0 3l5 5l0 -6zM695 162l0 3l2 -2zM742 127l2 2l-2 2l-1 -2zM348 132l3 1l0 5l-2 -2zM388 142l4 0l2 3l-5 6l-3 -4zM205 147l3 -1l3 4l-3 1zM426 147l2 0l-2 8l-3 -1l-1 -1zM372 155l3 0l5 5l0 3l-2 2l-8 1l-3 -3l0 -5zM354 163l3 -2l2 2l1 3l-1 2l-2 0l-3 -2zM276 181l3 0l1 4l-3 0zM313 184l1 -1l11 4l8 -1l5 3l5 1l3 4l-3 2l-5 -3l-3 1l-2 6l-4 2l-4 0l-6 -4l-10 -1l-2 -3l0 -2zM807 184l2 -3l3 3l0 3l-3 1zM266 187l2 2l-1 3l-1 2l-2 0l-2 -2l0 -3zM284 192l1 -1l3 0l0 1l0 1zM367 200l6 3l8 -6l4 5l-2 6l14 -5l4 2l3 8l0 2l3 5l0 11l-5 -3l-8 2l-8 -5l-8 8l-8 1l-2 -3l1 -5l-4 -6l0 -7l2 -8zM507 205l1 -2l4 2l1 2l-2 3l-3 0l-2 -3zM915 210l3 0l2 3l-5 2l-1 -2zM235 213l2 -1l4 1l3 2l1 3l-5 6l-5 2l-1 6l-2 1l-8 -2l-6 4l-3 1l-2 7l-5 -6l-9 -1l-1 -5l1 -5l6 -3l3 -3l8 -3l5 -3l3 -1l5 2zM428 213l1 -3l0 3zM941 213l1 0l0 1zM266 215l3 -1l0 1zM413 215l10 -1l3 6l3 -1l2 -3l8 4l-1 3l-4 2l-5 -1l-8 2l-6 -4zM519 218l3 -1l2 0l3 3l1 6l-3 2l4 5l-2 3l1 5l-1 5l-3 1l-5 -3l-5 6l-3 1l-3 -5l0 -5l-2 -5l2 -4l3 0l1 -4l4 -4zM946 218l7 0l-3 8l-3 -1l-2 -5zM986 218l7 0l0 28l-6 -1l-2 1l0 9l-3 -1l-2 -15l-2 -6l-4 -3l0 -4l3 -2l6 -1zM744 233l2 0l-1 3zM260 236l1 -2l2 2l-2 1zM348 244l3 0l-2 2zM206 246l4 -2l3 3l7 2l2 3l4 1l2 1l-1 3l-6 2l-3 -4l-6 -1l-7 -3l-8 3l-1 -2l1 -3l3 -2zM345 249l1 -2l0 5l-3 1l0 -1zM257 252l1 -2l0 4zM778 252l2 0l1 2l-4 0zM869 257l6 -3l3 1l1 5l-1 5l-6 0zM903 257l4 -2l3 4l6 3l0 3l-9 0zM991 260l2 -3l0 5l-2 0zM281 262l1 -1l0 5l-1 -1zM843 262l4 3l1 2l-4 11l-2 -3l0 -2l-9 -4l-3 1l3 -6zM804 265l2 -2l3 2l-3 1zM821 265l1 -1l1 1l-1 1zM572 270l3 -1l2 2l4 4l-1 2l-3 5l-5 1l-5 3l-3 -3l1 -3l2 -5zM280 273l2 -2l8 0l3 2l-8 5l2 2l6 2l1 1l-5 8l6 2l1 3l-9 0l-2 -2l-3 1l-2 -2l1 -5l-3 -5l1 -3l-1 -5zM495 273l3 -1l4 3l-2 3l-2 -1zM462 275l1 -1l3 1l-3 5l3 3l-3 3l-2 0l-1 -3l3 -3zM352 280l5 -2l8 2l-6 6l-2 1l-3 -2l-2 1l2 5l-5 2l-2 -2l0 -5l4 -3zM841 286l3 -3l2 1l6 4l0 3l-3 1l-8 -2l-2 -2zM883 286l4 2l-4 1zM500 288l3 -1l1 1l1 3l-2 5l-7 0l2 -5zM569 291l6 2l1 -2l4 -1l2 6l-7 0l0 -2l-4 2l-4 0l-1 -3l1 -2zM464 293l2 -1l1 1l-1 3l-1 0zM488 296l4 -2l2 2z"/><path fill="#c48b3a" fill-rule="evenodd" d="M819 48l4 0l-3 2zM808 56l1 -1l2 1l-2 2zM676 64l8 5l8 -5l3 0l0 3l-3 3l-8 0l-4 4l5 8l-4 1l-5 -1l-3 1l-2 8l-3 2l-2 -6l-6 -7l-3 1l-2 5l-6 1l-1 -2l1 -2l8 -4l3 0l5 -5l8 5l3 -1l2 -4zM710 87l3 1l3 3l3 4l0 3l-3 1l-5 8l-6 3l-9 -7l-1 -7l-6 -2l-1 -1l4 -5l5 2l6 -2l5 4l3 -2zM683 101l4 -2l1 2zM834 103l5 0l2 5l8 0l3 3l0 -8l2 -2l3 0l5 5l0 2l-7 8l0 3l-3 5l-6 1l-4 -4l7 0l1 -2l-2 -3l-7 -1l-5 -6zM708 116l4 0l-1 4l-3 -1zM826 121l2 -2l0 2zM730 127l2 -3l3 3l0 10l2 4l3 1l5 -5l3 1l2 3l8 5l6 7l8 1l1 4l-1 3l-3 1l-5 -4l-5 0l-2 2l1 6l-8 4l-2 4l-3 0l-11 -7l-5 3l-5 -3l-3 1l-3 3l-2 0l-8 -4l-5 0l-6 -6l-2 -1l-3 6l-3 2l-21 -3l-11 4l-5 0l-3 2l1 5l3 3l1 5l3 5l-2 5l2 2l4 1l2 -5l2 -1l6 1l2 0l3 -6l5 -1l5 4l1 4l5 0l1 1l1 3l1 7l3 1l2 3l8 2l5 3l1 2l-2 3l-9 2l-2 11l2 8l-6 3l-13 -2l-3 -7l0 -2l0 -1l6 2l1 -4l-1 -3l-3 0l-5 1l-3 -2l-3 -11l-7 0l-9 -5l-4 2l-1 3l-3 0l-10 0l-11 -4l-11 -12l-1 -8l-4 -6l-11 -7l-4 0l-6 2l-6 -1l-8 2l-5 -2l-10 1l-8 -2l-3 -2l3 -7l8 -7l2 -7l-1 -3l9 -1l5 3l2 -7l4 -3l2 -5l4 0l2 3l2 6l5 -1l3 -5l6 3l5 -5l5 3l3 -1l5 -6l14 5l8 -2l2 -3l8 -1l6 2l5 -1l3 0l5 7l2 -1l3 -6l3 -1l2 4l0 5l3 5l8 -1l8 -6l6 0l1 -3l-1 -5l1 -3l1 0l5 2l6 -3l5 4zM636 142l-2 3l2 1l1 -1zM721 133l-2 1l2 6l4 5l4 0l-3 -10zM729 160l0 1l1 -1zM703 129l2 -1l2 1l-2 2zM388 145l3 -1l1 1l-3 4l-2 -2zM370 158l5 -1l4 3l0 3l-6 2l-3 -1l-3 -4zM356 163l3 3l-2 1l-2 -1zM769 168l3 1l2 5l-6 0zM776 176l1 -2l4 2l-4 5l-3 1zM783 176l3 0l4 3l1 2l-3 5l-3 -1zM765 181l1 -2l2 2l-2 2zM808 184l1 -1l1 1l0 3l-2 0zM312 187l2 -3l11 4l8 -2l3 3l-1 5l-3 6l-5 2l-5 -2l-3 -4l-8 1l-2 -5zM264 189l2 0l0 3l-2 1zM339 192l4 0l1 2l-3 0zM380 200l3 2l-2 5l2 3l11 -3l3 -3l3 1l3 13l3 2l-1 5l-6 1l-5 3l-8 -4l-8 6l-8 1l0 -6l-5 -6l2 -14l3 -2l5 -1zM508 205l2 0l1 2l-3 2zM237 213l5 2l1 3l-3 5l-8 0l-3 -3l-3 2l0 1l6 0l2 5l-2 4l-8 -2l-11 5l-13 0l0 -8l5 -2l5 -5l9 -2l5 -3l5 1zM415 215l7 0l3 8l-2 2l-5 -2l-4 -5zM429 220l5 -1l3 1l-1 3l-2 1l-5 -1zM519 220l3 -2l4 2l0 3l-3 5l4 5l0 12l-3 1l-5 -3l-5 5l-3 1l-2 -3l-1 -2l2 -3l-2 -5l0 -1l3 1l0 3l3 1l2 -1l-3 -11l4 -2zM946 220l1 -2l3 1l1 1l0 3l-1 1l-3 -1zM991 220l2 0l0 25l-6 -2l-2 2l-2 -1l-3 -11l-5 -5l0 -2l7 -1l5 -4zM987 230l0 1l3 0zM198 249l4 -1l4 1l-6 4l-3 -1zM215 249l2 0l2 3l-3 2l-5 -2zM872 257l3 -1l3 1l-3 7l-2 -2zM905 257l2 0l3 4l4 1l-1 3l-6 -4zM834 265l10 -2l3 4l-3 5l-11 -5zM283 273l6 0l-5 5l0 2l9 3l-5 8l-4 0l-4 -8l1 -3l-2 -5zM571 273l4 -3l2 2l3 3l-1 3l-2 3l-5 1l-5 2l-1 -1l0 -3zM842 286l2 -1l2 1l4 2l-1 2l-8 -1zM499 291l1 -1l3 1l-2 2l0 3l-1 0zM290 293l3 0l2 3l-6 0zM576 293l1 -1l3 0l1 4l-4 0z"/><path fill="#bb7d2a" fill-rule="evenodd" d="M663 77l2 -1l7 4l-1 6l-3 2l-5 -6l-2 -2zM677 80l2 -2l3 2zM649 85l3 -2l2 2l-2 1zM712 93l5 2l-6 10l-3 2l-3 1l-8 -6l0 -9l11 1zM853 106l1 -2l3 0l3 2l1 2l-2 3l-2 2l-2 -2zM843 111l3 -1l3 0l1 4l-6 0zM731 127l1 -1l1 1l-1 5l2 2l0 6l6 3l5 -4l3 0l2 6l3 -1l5 3l3 6l1 2l-9 0l2 5l-1 6l-6 6l-3 1l-11 -9l-5 5l-8 -2l-5 3l-5 -4l-8 0l-4 -6l-4 -1l-3 1l-1 6l-2 1l-18 -3l-2 -1l-1 -3l-3 0l0 3l-5 5l-5 0l-6 -3l-2 3l2 12l3 1l4 8l-2 5l2 3l4 1l3 0l2 -5l8 0l3 -5l5 -2l4 3l-2 8l1 4l3 -4l5 -2l1 5l-2 5l8 5l9 1l3 2l1 2l-1 3l-11 2l0 11l2 8l-5 2l-13 -4l-1 -4l2 0l2 2l3 -7l-3 -3l-6 -2l-2 1l-2 -1l-1 -8l2 -5l-2 -2l-5 5l-6 -4l-8 -2l-7 6l-9 0l-8 -5l-5 0l-11 -11l1 -5l7 -3l2 -2l-2 -2l-8 3l-5 -7l-8 -5l-5 -1l-8 2l-6 -1l-8 2l-3 -2l0 -5l-2 -1l0 4l-2 1l-8 2l-8 -2l-2 -1l2 -5l9 -9l5 -7l4 -2l5 3l2 -1l2 -8l7 -5l5 9l7 -4l1 -3l6 2l2 0l3 -4l5 4l3 -1l5 -8l10 5l-2 5l3 2l3 -2l0 -5l2 -1l6 0l5 -2l3 1l2 -4l3 3l8 -2l3 0l8 10l2 0l0 -8l3 -2l0 7l3 6l2 1l22 -8l2 -4l0 -6l4 1l6 13l9 4l1 -2l-4 -13l3 -2zM729 157l-2 3l5 4l1 -1l0 -3zM765 155l6 0l1 3l-3 1zM369 160l6 -2l3 2l-1 3l-4 1zM313 187l4 -2l5 3l8 -1l3 1l1 1l0 5l-4 6l-5 0l-6 -5l-5 1l-1 -2zM374 205l4 -3l2 3l0 2l3 4l8 -2l3 3l5 -1l2 7l4 2l0 3l-6 1l-5 4l-5 -3l-6 -1l-5 6l-5 0l-7 -10l0 -2l2 -11l2 -2zM234 215l3 -1l3 1l1 3l-1 3l-6 0l-5 -3zM415 218l3 -2l3 0l3 7l-4 0zM215 220l9 -1l2 6l6 1l1 2l-1 3l-8 -2l-14 4l-2 -3l-3 3l-3 1l-2 -1l1 -5l4 0l3 -5l2 -2zM431 220l4 0l-1 3l-2 0zM521 220l3 0l0 3l-2 1zM982 226l5 -2l3 1l3 -2l0 3l-3 0l-8 5l-6 -3l1 -2zM515 228l4 -1l6 6l1 8l-2 3l-6 -5l-3 -8zM992 231l1 13l-8 -2l-3 -6l0 -4l8 3zM510 244l1 -2l3 0l2 2l-2 3l-3 1zM199 249l4 0l-3 2zM875 257l1 3l-1 2l-2 -2zM837 265l6 0l2 2l-1 2l-6 0l-3 -2zM573 273l2 -1l2 1l2 2l-1 3l-3 2l-5 1l0 -6zM282 275l1 0l-1 3zM282 283l0 -1l7 4l-4 1zM842 288l2 -2l3 2zM290 296l3 -2l1 2z"/><path fill="#ad7021" fill-rule="evenodd" d="M664 80l1 -2l3 2l2 2l-1 3zM699 95l4 -1l5 3l3 -1l1 2l-1 4l-3 2l-3 -2l-5 0l-2 -4zM856 106l2 0l2 2l-3 3l-2 -3zM715 134l1 0l2 6l1 5l10 4l3 4l3 0l0 -6l-2 -5l7 3l5 -5l3 2l3 11l0 2l2 5l-2 6l-6 5l-7 -5l-1 -3l5 -2l3 -3l-5 -2l-3 4l-3 0l-2 -4l-3 -1l-3 3l0 2l4 6l-1 1l-11 -1l-2 3l-5 -5l-6 0l-2 -1l-3 -4l-5 -3l-3 2l-3 8l-16 -3l-5 -5l-3 -1l-2 6l-3 4l-5 0l-6 -5l-6 6l5 13l7 8l-2 5l2 3l5 2l3 0l5 -4l5 -1l6 -6l2 0l2 1l-2 11l3 3l11 7l13 2l3 3l-3 3l-8 0l-3 1l-1 7l5 13l-4 1l-6 -1l-1 -6l1 -7l-7 -4l-5 0l-2 -2l0 -5l2 -5l0 -3l-6 1l-5 -3l-5 2l-6 0l-8 4l-8 1l-7 -5l-6 0l-10 -10l0 -3l2 -2l7 -3l2 -2l-1 -3l-5 0l-6 2l-5 -6l-8 -5l-5 -1l-8 3l-6 -2l-8 1l-2 -8l-3 -1l-3 1l-3 6l-4 2l-9 -2l1 -4l10 -9l3 -2l5 3l3 -1l0 -3l-3 -3l0 -2l3 2l5 -1l2 -1l2 -8l4 -2l5 8l11 -7l5 1l3 -1l8 4l2 -1l0 -5l3 -5l6 3l2 2l-2 3l2 2l3 1l4 -3l1 -6l3 0l3 2l13 -1l8 -5l3 1l2 5l6 6l16 7l0 -2l-2 -2l10 -4l5 0l6 -6zM604 165l0 3l3 0l0 -3zM631 173l0 5l2 -1l0 -4zM647 144l-2 3l2 2l6 -2zM731 134l1 0l0 3zM755 147l3 3l-2 2l-3 -2zM372 160l3 -1l2 1l-2 2zM314 187l3 -1l8 4l5 -2l2 1l1 5l-3 4l-3 2l-2 -1l-3 -3l-7 -4zM689 197l3 -1l0 4l-3 2l-1 -2zM370 207l8 0l2 3l3 2l6 0l5 5l8 3l-8 7l-11 -4l-5 6l-5 -1l-6 -8l0 -4l3 -3zM237 215l3 3l-3 3l-4 -3zM417 218l4 0l0 1zM218 220l5 3l3 5l3 -1l2 1l-10 0l-8 4l-3 -1l-2 -6l2 -2zM516 231l3 -2l4 4l1 9l-2 0l-3 -3zM991 233l2 -1l0 11l-4 -2zM837 267l4 -2l2 2l-2 1zM572 275l3 -2l3 2l-3 4l-4 -1z"/><path fill="#a16518" fill-rule="evenodd" d="M699 98l4 -2l3 2l-3 3l-3 0zM666 137l4 0l2 5l10 8l2 4l3 -1l3 2l0 8l-1 3l-2 0l-3 -3l-8 0l-3 -1l-5 -6l-3 0l-3 2l0 5l-2 3l-5 0l-6 -6l-5 6l-5 2l1 3l4 3l3 7l7 8l-2 5l3 4l5 3l3 -1l10 -4l6 -7l1 3l-1 8l6 7l10 5l11 1l3 2l-1 2l-11 -1l-5 6l-13 -1l-1 -6l3 -8l-2 -2l-6 1l-5 -3l-5 2l-6 1l-8 4l-8 0l-5 -3l-8 -2l-3 -4l-6 -4l1 -4l8 -3l2 -3l5 -11l-1 -5l-3 1l-2 2l0 7l-6 1l-6 3l-5 -6l-8 -5l-5 -2l-3 0l-5 4l-6 -2l-5 0l-6 -8l4 -8l5 -3l1 -2l2 -8l2 -1l2 6l3 2l11 -6l11 0l8 3l1 -2l1 -7l6 2l-2 3l2 3l7 -1l3 -5l3 -1l1 1l-1 7l8 2l3 -4l-1 -2l1 -2l8 -3zM604 164l-2 2l0 2l5 2l1 -4l-1 -2zM617 157l-4 3l2 5l5 2l8 -1l1 -3l-2 -3l-2 0l-5 2zM716 140l0 2l-1 3l3 7l3 1l1 -3l2 -1l4 1l1 3l-3 2l0 8l-2 1l-8 -2l-11 0l-1 -2l1 -6l-5 3l-4 -2l1 -5l6 -3l7 0zM745 142l3 5l1 6l-1 2l-3 1l-8 -4l0 -2l0 -3l3 3zM749 160l1 0l1 3l-3 3l-2 -3zM563 163l4 -2l3 2l0 3l-6 2l-2 6l-4 0l-2 -3zM315 189l2 -2l5 4l8 -1l1 4l-4 4l-5 -5l-5 -1zM373 210l2 -1l14 4l7 7l0 3l-2 2l-11 -3l-2 1l-3 5l-3 0l-8 -8l0 -2l3 -4l3 -1zM217 223l4 0l1 3l-9 4l-2 -2l-1 -3l6 0zM692 231l3 -1l0 3l5 3l0 3l-6 0l-1 -6zM992 236l1 -2l0 8z"/><path fill="#93580f" fill-rule="evenodd" d="M666 140l2 -2l1 2l-1 1zM662 142l3 0l3 2l3 -1l8 7l1 3l-1 2l2 5l-5 1l-3 -1l-3 -5l-5 0l-4 3l0 5l-1 2l-3 1l-2 -1l-3 -5l0 -2l5 -8l-1 -5zM603 147l12 0l8 4l2 -3l11 1l5 -2l1 3l2 2l7 1l0 5l-2 0l-5 6l-3 1l-2 -2l-5 0l-1 3l3 3l-5 0l-5 7l1 3l-4 0l-3 3l-3 1l-2 -4l-6 -2l-4 -3l5 -6l-2 -5l-1 -1l-3 1l-3 3l-1 2l3 3l-2 1l-5 -1l-5 3l-11 -2l-3 -6l0 -2l6 0l0 -6l5 -8l3 3l0 5l2 1l2 -1l0 -5zM604 151l-1 2l1 2l3 0l1 -2zM615 155l-4 5l0 3l9 7l13 -4l0 -3l-8 -5l-2 0zM743 147l2 -1l2 4l-2 4l-3 -1l0 -3zM700 150l3 -2l5 2l5 -2l3 2l2 4l3 1l3 -5l2 0l1 3l-3 2l0 8l-3 0l-3 -2l-7 -1l-4 -2l-2 -7l-5 2zM565 163l2 0l0 3l-4 0zM686 163l1 -2l2 2l-2 1zM637 174l2 -2l5 3l2 6l6 8l-2 5l5 6l5 2l6 0l-17 6l-5 -2l-5 1l-8 -3l-3 -2l0 -3l-5 0l-3 -2l0 -3l3 -2l7 -3zM633 193l-1 1l4 3l3 0l2 -3zM316 189l2 0l-1 1zM673 197l3 -1l3 7l-6 1l-2 -4zM683 210l1 -1l9 4l-1 2l-5 4l-8 0l0 -4zM375 213l3 -2l8 3l7 6l-2 2l-8 -2l-5 3l0 3l-3 1l-7 -7l0 -2l2 -3z"/><path fill="#844c09" fill-rule="evenodd" d="M659 145l4 -1l10 3l4 6l-1 2l1 3l-1 2l-3 -2l-1 -5l-1 -1l-8 1l-3 2l0 -2l1 -3zM612 150l3 -1l8 3l5 -2l11 -1l2 5l6 -1l1 2l0 3l-4 5l-3 1l-2 -3l-6 0l-5 -3l-8 -2l-7 -3zM712 150l10 8l-1 2l-8 -1l-3 -1l-2 -5zM744 150l1 -2l0 5zM588 153l2 2l-1 3l2 3l2 0l3 -2l1 -6l2 -2l2 4l7 3l0 2l-6 3l-4 5l-7 5l-8 -2l-2 -3l3 -2zM654 158l3 -3l3 4l0 5l-3 1l-2 -1l-2 -4zM609 171l3 -3l3 1l3 2l-1 3l-5 3l-3 -1l-2 -2zM637 176l2 -2l4 2l2 5l6 8l-3 5l5 6l5 2l-2 3l-7 2l-5 -4l-11 1l-3 -2l1 -3l2 -1l6 2l5 -6l-2 -2l-10 -3zM621 194l4 -2l3 0l2 2l-2 3l-3 1l-3 -1zM378 213l7 2l0 3l-12 4l-4 -2l0 -2l1 -2zM683 213l4 0l1 2l-4 3l-4 0l1 -3z"/><path fill="#774508" fill-rule="evenodd" d="M662 147l3 -1l2 1l-2 3zM617 153l11 -1l8 -2l3 1l2 6l6 -2l0 3l-3 3l-3 0l-2 -2l-6 0l-5 -4l-5 1zM711 153l2 -1l4 6l-4 0l-2 -3zM600 158l3 0l1 2l-5 0zM587 160l1 -1l3 3l5 0l2 1l0 3l-7 5l-4 0l-3 -3zM655 160l2 -2l2 5l-3 0zM609 174l3 -3l3 3l-3 1zM638 176l2 0l2 5l5 6l1 2l-1 2l-3 -2l-5 2l-4 -2l-1 -2l4 -6zM623 194l2 -1l3 1l-3 2zM648 202l1 -2l6 2l-1 3l-2 1l-4 -1zM375 215l3 -1l5 1l-2 4l-6 -1l-2 2l-3 -1l0 -2z"/><path fill="#683c07" fill-rule="evenodd" d="M631 153l5 -2l2 2l1 4l-3 1l-3 -1zM643 158l2 0l-1 1zM588 163l7 3l-7 4l-2 -2zM636 187l3 -3l3 3l-3 2zM378 215l3 0l0 2z"/><path fill="#5b3406" fill-rule="evenodd" d="M633 153l3 -1l1 3l-1 2l-2 -2zM587 166l1 -1l3 1l-1 2l-3 0z"/></g>
<path d="M179.3 95.1L177.4 99.0L173.7 100.5L171.4 106.7L168.4 110.8L164.1 112.8L160.8 116.2L157.6 121.2L155.5 127.0L157.0 130.2L157.4 133.4L156.5 137.8L154.4 140.6L155.9 143.3L156.1 145.7L159.3 148.5L162.6 151.5L164.1 154.5L167.3 157.3L171.6 160.8L175.9 162.7L180.2 161.4L185.6 161.2L189.9 161.4L194.1 159.3L197.4 158.6L201.7 158.6L204.0 161.4L206.0 162.9L208.1 162.5L210.3 162.3L212.6 164.0L213.1 166.8L212.2 170.0L212.0 173.3L210.9 174.8L213.5 178.7L217.4 182.5L218.4 185.1L219.9 190.5L221.0 195.9L218.9 201.3L217.4 206.6L217.4 209.4L218.9 213.1L222.1 219.6L223.2 222.8L224.2 229.3L227.5 233.8L229.6 238.9L231.3 242.8L231.5 245.8L233.9 246.9L235.0 247.1L239.3 245.4L247.0 245.4L250.0 244.3L253.2 242.2L257.5 237.9L260.8 234.2L262.1 230.3L262.7 228.2L264.0 226.7L267.2 224.9L268.3 219.6L267.2 215.7L270.4 212.0L274.7 209.9L278.0 207.7L279.2 204.5L279.0 195.9L276.9 189.4L276.2 186.2L276.9 181.9L278.6 178.2L281.2 175.4L284.4 172.2L287.6 169.0L290.9 166.6L295.2 162.5L298.4 157.1L301.2 150.7L302.2 146.8L298.4 147.7L293.0 148.5L288.7 149.8L285.5 147.4L285.1 145.3L283.3 143.8L280.8 141.4L278.0 138.8L276.5 138.0L275.0 133.4L272.4 127.0L271.1 124.4L268.5 121.4L265.5 115.8L264.0 113.4L262.1 108.0L261.6 104.8L258.6 104.2L256.0 105.0L252.2 105.5L246.2 104.2L241.4 102.0L238.2 101.4L235.0 104.4L233.9 106.5L230.7 105.9L225.3 104.4L220.4 101.4L216.1 100.7L213.9 98.4L215.9 96.4L214.6 93.6L215.6 92.3L213.1 91.9L209.2 92.8L202.7 93.0L198.4 93.0L194.1 93.6L189.9 96.0L187.3 96.6L182.3 96.4ZM953.0 95.1L951.0 99.0L947.4 100.5L945.0 106.7L942.0 110.8L937.7 112.8L934.5 116.2L931.3 121.2L929.1 127.0L930.6 130.2L931.0 133.4L930.2 137.8L928.0 140.6L929.5 143.3L929.8 145.7L933.0 148.5L936.2 151.5L937.7 154.5L940.9 157.3L945.2 160.8L949.5 162.7L953.8 161.4L959.2 161.2L963.5 161.4L967.8 159.3L971.0 158.6L975.3 158.6L977.7 161.4L979.6 162.9L981.8 162.5L983.9 162.3L986.3 164.0L986.7 166.8L985.8 170.0L985.6 173.3L984.6 174.8L987.1 178.7L991.0 182.5L992.1 185.1L993.6 190.5L994.7 195.9L992.5 201.3L991.0 206.6L991.0 209.4L992.5 213.1L995.7 219.6L996.8 222.8L997.9 229.3L1001.1 233.8L1003.2 238.9L1005.0 242.8L1005.2 245.8L1007.5 246.9L1008.6 247.1L1012.9 245.4L1020.7 245.4L1023.7 244.3L1026.9 242.2L1031.2 237.9L1034.4 234.2L1035.7 230.3L1036.3 228.2L1037.6 226.7L1040.9 224.9L1041.9 219.6L1040.9 215.7L1044.1 212.0L1048.4 209.9L1051.6 207.7L1052.9 204.5L1052.7 195.9L1050.5 189.4L1049.9 186.2L1050.5 181.9L1052.2 178.2L1054.8 175.4L1058.0 172.2L1061.3 169.0L1064.5 166.6L1068.8 162.5L1072.0 157.1L1074.8 150.7L1075.9 146.8L1072.0 147.7L1066.6 148.5L1062.3 149.8L1059.1 147.4L1058.7 145.3L1057.0 143.8L1054.4 141.4L1051.6 138.8L1050.1 138.0L1048.6 133.4L1046.0 127.0L1044.7 124.4L1042.1 121.4L1039.1 115.8L1037.6 113.4L1035.7 108.0L1035.3 104.8L1032.3 104.2L1029.7 105.0L1025.8 105.5L1019.8 104.2L1015.1 102.0L1011.8 101.4L1008.6 104.4L1007.5 106.5L1004.3 105.9L998.9 104.4L994.0 101.4L989.7 100.7L987.6 98.4L989.5 96.4L988.2 93.6L989.3 92.3L986.7 91.9L982.8 92.8L976.4 93.0L972.1 93.0L967.8 93.6L963.5 96.0L960.9 96.6L956.0 96.4ZM188.8 78.8L189.2 76.4L189.4 73.2L187.3 70.8L182.3 69.3L181.3 68.0L182.3 66.7L183.4 53.8L256.5 21.5L406.9 10.7L503.6 21.5L496.1 58.1L493.9 67.8L489.6 73.2L484.3 77.5L477.8 79.6L474.6 80.1L472.9 81.1L470.7 83.9L467.1 86.1L466.0 87.2L468.1 89.7L470.1 93.6L469.9 96.4L467.7 97.1L463.6 98.1L463.4 94.7L464.1 91.7L461.3 90.8L460.2 89.1L460.8 87.2L459.1 86.3L454.8 87.4L452.7 88.7L453.5 86.9L454.8 85.0L452.0 84.1L448.8 86.5L445.6 87.8L444.7 89.3L446.7 90.4L447.7 92.1L451.2 91.0L455.3 92.1L454.6 93.0L451.0 94.7L448.4 96.8L450.5 98.4L451.8 102.0L454.0 103.9L454.0 105.7L453.1 107.2L454.2 108.0L453.1 110.6L451.2 112.8L449.0 115.6L447.7 117.7L445.6 119.7L442.4 122.7L438.7 123.5L435.9 124.4L432.7 125.5L429.7 126.6L429.0 128.5L428.0 126.1L425.2 125.7L423.0 126.1L421.1 128.3L419.4 131.1L420.9 134.5L423.0 137.1L425.6 139.5L426.7 142.5L426.7 147.4L424.1 149.2L421.9 149.8L420.9 151.7L417.2 153.7L417.6 150.9L416.4 149.6L413.3 148.5L411.6 145.7L408.8 144.9L406.9 143.3L405.2 149.6L406.7 152.4L407.5 154.3L409.0 157.3L412.1 159.1L414.2 162.5L414.4 166.2L416.1 169.2L414.4 169.4L412.3 167.9L409.7 166.0L408.0 163.6L407.5 160.4L405.8 157.6L403.2 154.5L403.9 150.7L403.7 144.2L402.2 140.3L401.5 136.7L398.7 136.0L396.2 138.2L394.7 137.3L394.4 133.4L392.9 130.6L390.4 127.8L389.7 125.9L388.6 123.8L386.5 124.8L383.3 125.3L381.5 125.7L379.0 127.0L377.9 128.7L374.7 130.9L372.5 132.8L369.3 135.2L366.7 136.9L364.3 138.8L364.6 143.1L363.7 146.4L363.5 150.0L361.8 150.2L360.1 153.0L358.5 154.8L356.4 152.8L354.9 148.5L352.7 144.6L351.7 141.0L350.0 137.8L348.7 131.5L348.4 127.0L347.8 124.4L345.7 127.0L343.5 127.4L340.3 124.2L342.9 123.1L340.3 122.9L339.0 121.6L336.6 118.8L334.9 117.5L329.5 117.7L324.2 118.2L318.8 117.5L315.1 116.7L313.8 114.1L312.6 113.6L309.8 114.9L307.0 114.5L302.7 112.1L301.2 109.8L299.4 107.2L296.9 107.6L295.2 108.7L296.2 110.8L297.7 113.0L299.4 114.7L299.9 116.2L301.2 119.0L302.2 116.0L302.9 119.2L304.8 120.1L308.0 120.1L311.3 117.3L312.6 115.6L313.2 117.7L313.2 119.5L315.6 121.0L317.9 121.4L320.5 123.8L318.4 128.1L316.2 131.3L314.1 132.4L311.3 134.1L308.0 135.8L304.2 138.6L299.4 139.9L295.2 142.1L288.7 144.6L285.5 144.9L284.0 139.9L282.3 135.6L279.0 130.2L276.2 125.9L274.7 121.6L271.5 118.4L268.3 114.1L266.6 111.9L267.2 108.7L266.4 110.2L265.7 112.6L264.0 111.3L262.1 107.8L261.4 105.0L265.5 104.8L266.1 104.2L267.2 101.6L268.3 99.4L269.1 96.8L268.9 95.1L269.8 93.4L268.3 93.4L266.6 93.0L264.0 94.5L260.8 93.6L257.8 93.0L256.5 94.3L252.2 93.2L250.7 91.9L250.0 89.3L248.9 87.2L249.4 85.2L251.1 85.2L254.3 83.9L253.2 84.8L250.0 85.6L248.3 85.4L247.9 84.4L244.0 84.4L242.5 85.4L241.0 87.2L242.1 88.7L243.6 90.0L241.4 91.5L240.4 93.8L238.6 93.0L237.8 90.8L237.1 89.7L235.4 86.9L233.5 85.2L233.9 83.9L232.8 81.8L229.6 79.6L225.3 77.5L223.2 74.9L221.4 73.8L218.4 74.5L218.4 76.4L221.0 78.3L222.1 80.7L226.4 83.1L230.7 84.8L231.8 85.9L229.2 85.0L227.7 85.4L228.7 88.2L226.6 90.4L225.5 90.4L226.4 88.4L225.7 86.1L222.1 84.4L218.4 82.4L215.6 80.7L213.9 77.7L210.9 76.6L208.1 77.9L204.9 79.4L201.7 78.8L198.4 79.0L198.9 81.8L196.7 83.1L193.9 84.6L191.4 87.2L192.4 88.7L190.5 91.2L187.5 93.2L182.3 93.2L180.0 94.7L178.5 93.0L175.9 92.1L172.7 92.5L173.1 90.6L171.6 88.7L172.9 83.9L173.1 81.8L172.0 79.6L174.8 78.1ZM962.4 78.8L962.8 76.4L963.1 73.2L960.9 70.8L956.0 69.3L954.9 68.0L956.0 66.7L957.0 53.8L1030.1 21.5L1180.5 10.7L1277.2 21.5L1269.7 58.1L1267.6 67.8L1263.3 73.2L1257.9 77.5L1251.5 79.6L1248.2 80.1L1246.5 81.1L1244.4 83.9L1240.7 86.1L1239.6 87.2L1241.8 89.7L1243.7 93.6L1243.5 96.4L1241.4 97.1L1237.3 98.1L1237.1 94.7L1237.7 91.7L1234.9 90.8L1233.8 89.1L1234.5 87.2L1232.8 86.3L1228.5 87.4L1226.3 88.7L1227.2 86.9L1228.5 85.0L1225.7 84.1L1222.4 86.5L1219.2 87.8L1218.4 89.3L1220.3 90.4L1221.4 92.1L1224.8 91.0L1228.9 92.1L1228.2 93.0L1224.6 94.7L1222.0 96.8L1224.2 98.4L1225.5 102.0L1227.6 103.9L1227.6 105.7L1226.7 107.2L1227.8 108.0L1226.7 110.6L1224.8 112.8L1222.7 115.6L1221.4 117.7L1219.2 119.7L1216.0 122.7L1212.3 123.5L1209.6 124.4L1206.3 125.5L1203.3 126.6L1202.7 128.5L1201.6 126.1L1198.8 125.7L1196.7 126.1L1194.7 128.3L1193.0 131.1L1194.5 134.5L1196.7 137.1L1199.2 139.5L1200.3 142.5L1200.3 147.4L1197.7 149.2L1195.6 149.8L1194.5 151.7L1190.9 153.7L1191.3 150.9L1190.0 149.6L1187.0 148.5L1185.3 145.7L1182.5 144.9L1180.5 143.3L1178.8 149.6L1180.3 152.4L1181.2 154.3L1182.7 157.3L1185.7 159.1L1187.8 162.5L1188.1 166.2L1189.8 169.2L1188.1 169.4L1185.9 167.9L1183.3 166.0L1181.6 163.6L1181.2 160.4L1179.5 157.6L1176.9 154.5L1177.5 150.7L1177.3 144.2L1175.8 140.3L1175.2 136.7L1172.4 136.0L1169.8 138.2L1168.3 137.3L1168.1 133.4L1166.6 130.6L1164.0 127.8L1163.3 125.9L1162.3 123.8L1160.1 124.8L1156.9 125.3L1155.2 125.7L1152.6 127.0L1151.5 128.7L1148.3 130.9L1146.2 132.8L1142.9 135.2L1140.4 136.9L1138.0 138.8L1138.2 143.1L1137.3 146.4L1137.1 150.0L1135.4 150.2L1133.7 153.0L1132.2 154.8L1130.0 152.8L1128.5 148.5L1126.4 144.6L1125.3 141.0L1123.6 137.8L1122.3 131.5L1122.1 127.0L1121.4 124.4L1119.3 127.0L1117.1 127.4L1113.9 124.2L1116.5 123.1L1113.9 122.9L1112.6 121.6L1110.3 118.8L1108.5 117.5L1103.2 117.7L1097.8 118.2L1092.4 117.5L1088.8 116.7L1087.5 114.1L1086.2 113.6L1083.4 114.9L1080.6 114.5L1076.3 112.1L1074.8 109.8L1073.1 107.2L1070.5 107.6L1068.8 108.7L1069.9 110.8L1071.4 113.0L1073.1 114.7L1073.5 116.2L1074.8 119.0L1075.9 116.0L1076.5 119.2L1078.5 120.1L1081.7 120.1L1084.9 117.3L1086.2 115.6L1086.8 117.7L1086.8 119.5L1089.2 121.0L1091.6 121.4L1094.2 123.8L1092.0 128.1L1089.9 131.3L1087.7 132.4L1084.9 134.1L1081.7 135.8L1077.8 138.6L1073.1 139.9L1068.8 142.1L1062.3 144.6L1059.1 144.9L1057.6 139.9L1055.9 135.6L1052.7 130.2L1049.9 125.9L1048.4 121.6L1045.2 118.4L1041.9 114.1L1040.2 111.9L1040.9 108.7L1040.0 110.2L1039.4 112.6L1037.6 111.3L1035.7 107.8L1035.1 105.0L1039.1 104.8L1039.8 104.2L1040.9 101.6L1041.9 99.4L1042.8 96.8L1042.6 95.1L1043.4 93.4L1041.9 93.4L1040.2 93.0L1037.6 94.5L1034.4 93.6L1031.4 93.0L1030.1 94.3L1025.8 93.2L1024.3 91.9L1023.7 89.3L1022.6 87.2L1023.0 85.2L1024.7 85.2L1028.0 83.9L1026.9 84.8L1023.7 85.6L1021.9 85.4L1021.5 84.4L1017.6 84.4L1016.1 85.4L1014.6 87.2L1015.7 88.7L1017.2 90.0L1015.1 91.5L1014.0 93.8L1012.3 93.0L1011.4 90.8L1010.8 89.7L1009.0 86.9L1007.1 85.2L1007.5 83.9L1006.5 81.8L1003.2 79.6L998.9 77.5L996.8 74.9L995.1 73.8L992.1 74.5L992.1 76.4L994.7 78.3L995.7 80.7L1000.0 83.1L1004.3 84.8L1005.4 85.9L1002.8 85.0L1001.3 85.4L1002.4 88.2L1000.2 90.4L999.2 90.4L1000.0 88.4L999.4 86.1L995.7 84.4L992.1 82.4L989.3 80.7L987.6 77.7L984.6 76.6L981.8 77.9L978.5 79.4L975.3 78.8L972.1 79.0L972.5 81.8L970.4 83.1L967.6 84.6L965.0 87.2L966.1 88.7L964.1 91.2L961.1 93.2L956.0 93.2L953.6 94.7L952.1 93.0L949.5 92.1L946.3 92.5L946.7 90.6L945.2 88.7L946.5 83.9L946.7 81.8L945.7 79.6L948.4 78.1ZM297.9 198.0L299.9 203.4L300.5 206.4L298.6 208.8L296.9 215.3L294.1 224.9L293.0 226.2L289.1 227.3L286.6 226.0L285.1 220.6L285.9 218.1L287.6 214.8L286.6 209.9L287.6 207.1L290.9 206.2L293.4 203.4L295.2 201.3L296.7 199.1ZM363.7 158.2L363.5 154.5L363.9 151.1L366.1 153.7L368.0 156.5L367.4 158.9L365.0 159.5ZM396.8 160.1L401.5 161.0L404.1 164.0L407.8 167.5L410.1 168.5L414.4 172.2L416.4 174.4L419.8 178.7L419.4 184.7L416.6 184.7L411.8 180.8L409.0 177.6L407.3 173.3L404.8 169.0L402.6 166.8L399.4 164.0L396.6 161.4ZM418.1 186.8L419.8 184.9L424.7 185.8L429.2 187.1L434.2 187.1L437.8 188.8L438.1 190.9L432.7 190.1L428.4 189.6L424.1 189.0L420.7 188.1ZM426.2 169.0L427.5 167.9L430.5 168.8L434.8 165.3L437.0 162.5L440.2 161.0L443.0 157.1L444.7 158.2L447.7 161.0L445.6 162.9L444.7 165.7L447.3 170.0L445.2 171.1L444.5 173.9L442.4 176.5L441.7 180.8L438.1 180.0L434.8 179.1L431.6 178.7L428.8 178.4L428.4 175.4L426.7 172.8L426.0 170.5ZM448.6 184.0L450.7 184.3L450.7 178.4L452.0 178.0L455.0 182.5L456.8 182.1L453.1 176.3L457.0 174.1L452.7 174.4L451.2 173.3L452.0 171.1L457.4 170.5L461.1 168.8L459.1 171.3L453.1 171.6L450.3 171.3L449.5 172.0L447.3 178.2L448.6 179.7ZM473.1 174.4L476.7 173.1L480.0 174.1L480.6 177.6L482.1 179.3L487.5 175.4L492.9 177.4L495.0 177.8L502.5 180.4L505.8 184.0L509.0 185.5L509.6 189.4L512.2 191.8L516.1 194.6L513.3 194.4L507.9 193.9L505.8 189.6L501.5 189.0L500.2 191.6L498.2 192.2L495.0 191.8L490.7 189.6L489.0 190.3L487.7 188.3L490.1 186.8L488.6 183.8L484.3 182.1L480.0 180.6L477.8 180.8L475.7 178.4L477.8 177.4L475.7 176.3L473.9 175.4ZM510.7 184.3L514.4 183.0L517.6 181.2L519.1 181.9L517.6 184.0L514.4 185.5L510.9 185.1ZM544.4 215.7L547.7 217.4L550.9 220.2L549.8 220.6L546.6 218.7L544.4 216.6ZM436.3 219.6L437.4 219.1L440.2 217.4L443.4 216.6L447.7 215.3L452.0 214.2L454.8 209.9L457.4 207.5L460.6 204.5L464.5 201.9L467.5 204.3L470.3 204.3L472.0 200.2L473.5 198.5L477.0 197.0L478.9 197.6L485.3 198.0L486.0 200.6L483.4 204.5L486.4 206.4L491.4 209.7L494.6 209.7L496.3 204.5L496.1 199.3L498.2 195.2L500.2 199.1L501.0 203.2L504.2 204.5L504.7 208.2L506.4 213.1L511.8 215.9L514.4 219.8L516.9 223.2L521.0 227.7L522.1 233.6L520.8 238.9L518.6 242.8L516.9 245.2L514.4 251.9L514.1 252.9L510.1 253.6L506.6 256.4L503.6 254.4L502.1 254.7L496.1 254.9L492.9 252.9L492.0 250.1L489.0 248.8L489.6 246.5L488.6 243.2L487.5 246.0L486.4 248.2L486.0 245.8L488.1 242.2L485.3 244.3L483.8 247.1L482.5 245.8L480.4 242.8L475.7 241.1L473.5 240.0L469.2 240.5L462.8 241.7L458.5 243.2L457.6 245.2L453.1 245.0L448.8 246.3L445.6 247.6L442.4 247.6L439.3 246.0L440.6 243.9L440.6 240.2L439.1 235.7L437.4 231.0L435.9 229.3L436.3 225.2L435.7 223.9L436.3 221.7ZM502.7 259.8L510.7 260.3L510.7 263.1L508.5 265.9L505.8 266.1L504.0 263.1L503.0 260.9ZM563.1 246.3L565.9 248.0L568.1 251.4L570.2 253.2L574.5 253.2L575.6 255.5L572.4 256.6L571.9 258.8L568.7 261.8L567.2 261.1L568.5 259.0L565.9 257.2L567.2 255.5L567.4 252.5L563.8 248.0ZM563.1 259.4L566.6 261.1L565.5 263.7L563.3 266.1L559.9 267.8L559.0 271.0L555.8 272.5L549.8 271.2L550.9 269.1L553.7 266.9L558.4 264.3L560.6 261.5L561.6 259.4ZM450.1 122.7L451.8 124.8L454.0 119.5L453.1 117.7L451.2 119.5ZM425.4 130.9L429.5 128.9L430.5 130.0L428.4 132.8L425.6 132.4ZM466.0 168.3L467.1 170.0L468.6 171.1L467.1 172.2L468.1 173.9L466.6 173.3L466.2 170.5ZM467.1 179.1L473.1 179.5L472.4 180.6L467.5 180.0ZM462.8 178.9L465.4 179.1L464.9 180.4L463.0 180.2ZM261.4 96.8L266.4 95.3L265.1 97.7L261.8 97.5ZM242.5 95.6L248.5 96.2L247.9 96.8L243.6 96.8ZM218.6 90.2L225.5 89.7L224.4 93.2L218.6 91.2ZM209.6 84.1L212.6 83.5L213.1 87.2L211.3 88.4L210.1 87.8ZM210.5 80.7L212.2 79.6L212.4 81.8L211.8 83.1L210.7 82.2ZM697.7 68.0L699.2 72.7L698.9 78.1L697.9 80.1L698.7 85.2L699.6 87.2L702.4 90.8L703.7 93.4L706.5 97.9L711.0 99.0L713.8 101.8L714.9 104.2L716.6 107.0L718.5 108.7L720.2 111.3L719.6 112.6L721.7 114.5L723.4 116.2L724.7 119.0L727.1 121.6L729.5 122.9L730.5 121.8L728.6 120.1L726.0 116.7L724.3 111.9L721.7 108.7L719.1 104.2L722.8 104.8L724.5 108.7L727.1 112.3L730.3 115.1L733.5 118.4L737.0 122.3L739.4 125.9L738.9 128.5L741.5 131.1L746.4 133.7L751.0 136.0L755.0 137.5L758.3 138.6L761.9 137.3L765.8 138.8L769.0 142.1L772.2 142.9L776.5 143.8L777.6 144.4L779.8 146.4L781.5 148.5L781.3 150.7L783.0 151.1L785.1 152.8L787.3 154.5L790.1 154.5L792.6 156.3L793.7 155.8L794.8 153.0L796.9 153.9L798.0 156.1L799.1 158.0L799.5 162.5L798.7 166.6L796.3 169.0L793.7 171.1L792.6 174.4L793.7 177.2L791.6 181.5L790.9 184.0L793.7 187.3L795.9 190.5L799.1 197.0L801.2 201.3L803.4 204.5L807.7 207.3L812.0 209.9L814.6 211.6L815.0 217.4L814.1 222.8L813.5 230.3L812.0 235.7L811.8 243.2L809.8 248.6L807.7 252.3L807.5 258.3L807.0 262.6L805.5 265.9L803.4 272.3L803.8 276.6L803.4 284.2L815.2 292.8L823.8 290.6L819.5 284.2L818.4 279.9L820.2 277.7L824.2 275.1L820.6 271.2L824.9 269.1L825.5 266.9L827.0 263.7L829.2 263.9L826.0 260.5L831.8 259.6L832.4 256.2L841.0 255.1L842.1 253.8L843.8 250.6L842.5 248.6L839.9 246.5L841.4 246.3L847.4 247.3L850.7 245.4L852.6 243.2L856.0 237.9L861.2 233.1L861.4 228.2L863.6 225.8L866.1 223.9L870.0 222.4L873.2 221.7L875.6 220.6L877.5 218.5L879.3 215.3L881.4 210.3L882.0 200.2L885.1 195.9L888.7 192.7L890.6 188.3L890.0 184.0L885.1 182.3L881.8 179.3L877.5 178.2L871.1 177.4L865.7 174.4L861.4 174.8L858.2 173.3L857.5 171.6L856.0 167.9L855.0 163.2L850.7 160.1L846.4 159.3L842.1 158.6L837.8 154.5L834.6 153.7L831.3 149.6L828.1 149.4L823.8 149.4L819.5 149.6L816.3 147.4L813.1 147.4L810.9 146.8L808.1 147.9L805.5 148.5L803.4 149.8L801.7 152.2L799.5 153.5L798.0 152.2L794.8 151.5L791.6 153.3L789.0 152.8L786.2 148.9L785.8 145.3L786.6 140.1L784.0 138.0L779.8 138.2L776.1 138.4L775.9 134.5L777.6 130.2L778.7 125.9L775.5 125.9L771.6 127.0L771.2 129.6L770.1 131.3L766.9 132.2L762.6 133.0L759.8 131.7L758.3 129.6L756.5 127.0L755.5 123.8L755.9 118.4L756.8 114.1L757.2 111.9L761.5 109.1L764.7 108.0L769.0 108.7L773.3 109.3L773.3 107.0L776.5 106.5L780.8 107.0L785.1 107.8L787.3 109.8L788.1 113.0L789.9 115.8L791.6 117.9L793.3 117.1L793.7 114.5L792.4 110.8L790.9 106.5L791.1 103.7L793.7 101.6L796.9 99.4L800.2 97.7L803.4 96.2L801.7 92.8L802.5 91.5L804.3 89.3L806.6 86.5L806.6 84.8L810.9 83.9L815.2 82.6L815.2 82.2L813.5 80.7L815.2 78.1L819.5 76.6L822.7 75.3L823.8 77.9L829.2 76.2L834.6 74.7L836.7 73.2L834.6 71.0L828.1 68.9L828.1 64.5L836.7 62.4L845.3 60.2L836.7 43.0L707.8 32.3L686.3 53.8L697.0 64.5ZM838.2 69.7L845.3 69.7L851.7 71.7L852.6 69.9L850.7 66.7L846.4 65.6L846.4 61.1L843.1 61.5L838.8 67.8ZM783.0 125.0L785.1 123.3L788.3 122.5L792.6 122.5L798.0 124.2L802.3 126.6L806.2 128.7L803.4 129.4L799.1 129.4L799.5 127.6L796.9 125.7L792.6 125.0L789.4 124.2L786.2 124.8L783.2 125.3ZM805.5 132.6L809.2 129.4L815.2 129.8L818.9 132.2L818.0 133.0L815.2 133.0L812.0 134.3L809.2 133.2L805.8 133.0ZM797.4 132.6L801.9 133.0L800.6 133.9L797.6 133.2ZM821.2 132.4L824.7 132.6L824.7 133.4L821.2 133.4ZM630.2 129.8L632.5 130.2L631.3 131.5ZM439.1 189.6L440.6 190.3L439.6 191.1ZM441.3 190.1L442.8 190.1L442.4 191.4L441.3 191.1ZM443.0 190.5L447.7 189.6L447.9 190.9L443.4 191.6ZM449.5 190.3L456.3 189.9L455.9 190.9L449.9 191.4ZM457.4 194.4L460.6 191.6L465.6 190.3L464.9 191.1L459.6 194.2ZM447.7 192.9L451.6 193.1L451.0 194.4L448.2 193.5ZM528.3 186.8L530.5 187.9L529.4 189.4L527.9 187.9ZM533.7 189.9L537.6 192.0L536.9 193.3L534.1 192.0ZM537.3 190.3L539.1 192.2L538.4 192.9L536.9 191.1ZM538.6 194.2L540.8 194.8L540.1 195.5L538.6 194.8ZM473.3 99.0L474.6 97.7L477.8 95.8L483.2 95.6L485.3 93.0L487.1 91.5L489.6 91.7L492.0 89.3L492.9 86.1L492.6 84.4L495.4 83.3L496.1 85.0L497.2 87.2L495.0 89.7L495.0 92.5L494.6 95.1L492.4 97.1L490.7 97.7L486.4 97.7L486.0 98.4L483.8 100.1L482.1 98.4L477.8 98.1L474.6 99.0ZM476.7 101.2L477.8 101.8L480.4 100.5L481.5 98.8L478.9 98.1L476.7 99.2ZM470.5 100.5L472.4 99.2L474.6 99.9L475.7 101.2L474.4 104.6L472.9 105.5L471.8 104.8L471.6 101.8L470.7 101.6ZM492.9 82.9L495.4 82.2L500.0 81.8L504.9 79.0L504.2 76.8L501.5 77.5L496.5 74.2L496.1 78.5L493.9 79.2L492.9 80.7ZM496.9 73.2L500.4 72.7L499.3 65.6L497.2 65.6ZM451.0 132.4L454.6 132.4L454.8 135.6L453.1 138.8L453.3 141.6L458.5 144.2L458.7 145.3L456.3 143.1L452.0 142.9L451.2 141.4L449.9 140.1L449.5 137.1L450.7 136.7L451.2 132.8ZM459.1 145.3L461.7 145.9L462.1 148.5L460.6 150.7L458.5 149.4L459.6 147.4ZM454.2 146.8L456.3 148.5L456.8 150.7L455.3 151.7L454.2 149.6ZM457.0 148.7L458.5 150.2L457.4 151.5L456.3 150.2ZM452.0 145.9L453.1 143.6L450.5 143.1L451.6 145.3ZM454.2 157.1L457.0 155.4L458.5 154.5L461.7 151.1L463.8 154.5L463.2 158.2L461.5 160.1L458.9 158.4L454.8 157.6ZM443.9 154.1L448.8 149.6L449.2 147.7L446.7 150.7Z" fill="#808080" stroke="#fff" stroke-width="2.4" stroke-linejoin="round" paint-order="stroke"/>
<g clip-path="url(#bsC)"><use href="#fldC"/></g>
<path d="M293.0 74.2L297.3 71.9L302.7 71.0L305.9 71.7L306.1 74.7L302.7 76.4L301.6 77.9L304.8 80.7L305.5 83.5L307.6 85.2L305.9 87.2L307.0 91.5L302.7 93.0L299.4 91.7L297.3 89.7L298.4 85.4L296.2 82.2L294.1 79.6L294.1 76.4ZM317.1 72.1L319.9 72.5L322.9 74.2L323.3 76.8L320.5 78.5L317.5 77.9L317.1 74.9ZM767.7 71.7L772.2 71.9L776.5 72.1L779.8 72.1L783.8 72.1L783.4 69.9L780.8 67.8L774.4 67.8L767.9 71.0ZM777.0 81.3L777.6 78.5L777.4 76.4L778.7 74.2L780.8 73.4L782.3 74.2L781.3 76.4L780.4 78.5L779.8 81.3ZM784.0 73.4L786.2 72.9L790.5 73.4L792.6 74.7L793.3 76.2L790.9 76.2L790.1 78.3L788.6 79.6L788.1 78.3L786.4 77.7L786.6 76.2L784.9 74.7ZM786.4 82.4L789.4 82.9L793.7 81.6L795.9 80.1L792.6 80.5L788.3 81.6ZM794.1 79.0L798.0 78.9L801.7 78.5L801.9 77.3L799.1 77.7L795.0 78.1Z" fill="#ffffff"/>
<line x1="320.9" y1="68.8" x2="320.9" y2="277.7" stroke="#000" stroke-width="1" stroke-dasharray="1.5,1.5" opacity="0.85"/>
<line x1="449.9" y1="68.8" x2="449.9" y2="277.7" stroke="#000" stroke-width="1" stroke-dasharray="1.5,1.5" opacity="0.85"/>
<line x1="578.8" y1="68.8" x2="578.8" y2="277.7" stroke="#000" stroke-width="1" stroke-dasharray="1.5,1.5" opacity="0.85"/>
<line x1="707.8" y1="68.8" x2="707.8" y2="277.7" stroke="#000" stroke-width="1" stroke-dasharray="1.5,1.5" opacity="0.85"/>
<line x1="836.7" y1="68.8" x2="836.7" y2="277.7" stroke="#000" stroke-width="1" stroke-dasharray="1.5,1.5" opacity="0.85"/>
<line x1="195.3" y1="107.6" x2="962.5" y2="107.6" stroke="#000" stroke-width="1" stroke-dasharray="1.5,1.5" opacity="0.85"/>
<line x1="195.3" y1="172.2" x2="962.5" y2="172.2" stroke="#000" stroke-width="1" stroke-dasharray="1.5,1.5" opacity="0.85"/>
<line x1="195.3" y1="236.8" x2="962.5" y2="236.8" stroke="#000" stroke-width="1" stroke-dasharray="1.5,1.5" opacity="0.85"/>
</g>
<rect x="195.3" y="68.8" width="767.2" height="208.9" fill="none" stroke="#333" stroke-width="1.3"/>
<text x="578.9" y="63.2" font-size="27.2" text-anchor="middle">Interannual EOF 1 OC-CCI</text>
<text x="187.4" y="115.2" font-size="25.3" text-anchor="end">30°N</text>
<text x="187.4" y="179.8" font-size="25.3" text-anchor="end">0°</text>
<text x="187.4" y="244.4" font-size="25.3" text-anchor="end">30°S</text>
<text x="320.9" y="304.6" font-size="25.3" text-anchor="middle">60°E</text>
<text x="449.9" y="304.6" font-size="25.3" text-anchor="middle">120°E</text>
<text x="578.8" y="304.6" font-size="25.3" text-anchor="middle">180°</text>
<text x="707.8" y="304.6" font-size="25.3" text-anchor="middle">120°W</text>
<text x="836.7" y="304.6" font-size="25.3" text-anchor="middle">60°W</text>
</g>
<rect x="75.3" y="547.40" width="21.6" height="11.60" fill="#5b3406"/>
<rect x="75.3" y="536.20" width="21.6" height="11.60" fill="#683c07"/>
<rect x="75.3" y="525.00" width="21.6" height="11.60" fill="#774508"/>
<rect x="75.3" y="513.80" width="21.6" height="11.60" fill="#844c09"/>
<rect x="75.3" y="502.60" width="21.6" height="11.60" fill="#93580f"/>
<rect x="75.3" y="491.40" width="21.6" height="11.60" fill="#a16518"/>
<rect x="75.3" y="480.20" width="21.6" height="11.60" fill="#ad7021"/>
<rect x="75.3" y="469.00" width="21.6" height="11.60" fill="#bb7d2a"/>
<rect x="75.3" y="457.80" width="21.6" height="11.60" fill="#c48b3a"/>
<rect x="75.3" y="446.60" width="21.6" height="11.60" fill="#cd9d50"/>
<rect x="75.3" y="435.40" width="21.6" height="11.60" fill="#d4ac62"/>
<rect x="75.3" y="424.20" width="21.6" height="11.60" fill="#ddbe78"/>
<rect x="75.3" y="413.00" width="21.6" height="11.60" fill="#e4ca8c"/>
<rect x="75.3" y="401.80" width="21.6" height="11.60" fill="#e9d39d"/>
<rect x="75.3" y="390.60" width="21.6" height="11.60" fill="#f0deb0"/>
<rect x="75.3" y="379.40" width="21.6" height="11.60" fill="#f5e7c0"/>
<rect x="75.3" y="368.20" width="21.6" height="11.60" fill="#f6ebcf"/>
<rect x="75.3" y="357.00" width="21.6" height="11.60" fill="#f6eedb"/>
<rect x="75.3" y="345.80" width="21.6" height="11.60" fill="#f5f2e8"/>
<rect x="75.3" y="334.60" width="21.6" height="11.60" fill="#f4f5f5"/>
<rect x="75.3" y="323.40" width="21.6" height="11.60" fill="#e9f2f1"/>
<rect x="75.3" y="312.20" width="21.6" height="11.60" fill="#ddefed"/>
<rect x="75.3" y="301.00" width="21.6" height="11.60" fill="#d2ede9"/>
<rect x="75.3" y="289.80" width="21.6" height="11.60" fill="#c4e9e4"/>
<rect x="75.3" y="278.60" width="21.6" height="11.60" fill="#b4e2db"/>
<rect x="75.3" y="267.40" width="21.6" height="11.60" fill="#a0dad1"/>
<rect x="75.3" y="256.20" width="21.6" height="11.60" fill="#8fd3c9"/>
<rect x="75.3" y="245.00" width="21.6" height="11.60" fill="#7ccabe"/>
<rect x="75.3" y="233.80" width="21.6" height="11.60" fill="#67bbb0"/>
<rect x="75.3" y="222.60" width="21.6" height="11.60" fill="#55aea5"/>
<rect x="75.3" y="211.40" width="21.6" height="11.60" fill="#419f97"/>
<rect x="75.3" y="200.20" width="21.6" height="11.60" fill="#31938b"/>
<rect x="75.3" y="189.00" width="21.6" height="11.60" fill="#23867e"/>
<rect x="75.3" y="177.80" width="21.6" height="11.60" fill="#167a72"/>
<rect x="75.3" y="166.60" width="21.6" height="11.60" fill="#086d65"/>
<rect x="75.3" y="155.40" width="21.6" height="11.60" fill="#016058"/>
<rect x="75.3" y="144.20" width="21.6" height="11.60" fill="#01564d"/>
<rect x="75.3" y="133.00" width="21.6" height="11.60" fill="#004b40"/>
<rect x="75.3" y="121.80" width="21.6" height="11.60" fill="#004135"/>
<path d="M75.3 122.6 L75.3 121.8 L86.10 99.5 L96.9 121.8 L96.9 122.6Z" fill="#003c30"/>
<path d="M75.3 557.8 L75.3 558.6 L86.10 581 L96.9 558.6 L96.9 557.8Z" fill="#543005"/>
<path d="M75.3 121.8 L86.10 99.5 L96.9 121.8 L96.9 558.6 L86.10 581 L75.3 558.6Z" fill="none" stroke="#333" stroke-width="1.1"/>
<line x1="70.8" y1="121.8" x2="75.3" y2="121.8" stroke="#222" stroke-width="1"/>
<text x="67.9" y="130.9" font-size="25.3" text-anchor="end">1.5</text>
<line x1="70.8" y1="194.6" x2="75.3" y2="194.6" stroke="#222" stroke-width="1"/>
<text x="67.9" y="203.7" font-size="25.3" text-anchor="end">1</text>
<line x1="70.8" y1="267.4" x2="75.3" y2="267.4" stroke="#222" stroke-width="1"/>
<text x="67.9" y="276.5" font-size="25.3" text-anchor="end">0.5</text>
<line x1="70.8" y1="340.2" x2="75.3" y2="340.2" stroke="#222" stroke-width="1"/>
<text x="67.9" y="349.3" font-size="25.3" text-anchor="end">0</text>
<line x1="70.8" y1="413.0" x2="75.3" y2="413.0" stroke="#222" stroke-width="1"/>
<text x="67.9" y="422.1" font-size="25.3" text-anchor="end">-0.5</text>
<line x1="70.8" y1="485.8" x2="75.3" y2="485.8" stroke="#222" stroke-width="1"/>
<text x="67.9" y="494.9" font-size="25.3" text-anchor="end">-1</text>
<line x1="70.8" y1="558.6" x2="75.3" y2="558.6" stroke="#222" stroke-width="1"/>
<text x="67.9" y="567.7" font-size="25.3" text-anchor="end">-1.5</text>
<line x1="1151.8" y1="35.8" x2="1151.8" y2="310.6" stroke="#b0b0b0" stroke-width="1.2"/>
<line x1="1151.8" y1="310.6" x2="1151.8" y2="314.1" stroke="#b0b0b0" stroke-width="1.2"/>
<line x1="1326.6" y1="35.8" x2="1326.6" y2="310.6" stroke="#b0b0b0" stroke-width="1.2"/>
<line x1="1326.6" y1="310.6" x2="1326.6" y2="314.1" stroke="#b0b0b0" stroke-width="1.2"/>
<line x1="1500.9" y1="35.8" x2="1500.9" y2="310.6" stroke="#b0b0b0" stroke-width="1.2"/>
<line x1="1500.9" y1="310.6" x2="1500.9" y2="314.1" stroke="#b0b0b0" stroke-width="1.2"/>
<line x1="1675.2" y1="35.8" x2="1675.2" y2="310.6" stroke="#b0b0b0" stroke-width="1.2"/>
<line x1="1675.2" y1="310.6" x2="1675.2" y2="314.1" stroke="#b0b0b0" stroke-width="1.2"/>
<line x1="1849.5" y1="35.8" x2="1849.5" y2="310.6" stroke="#b0b0b0" stroke-width="1.2"/>
<line x1="1849.5" y1="310.6" x2="1849.5" y2="314.1" stroke="#b0b0b0" stroke-width="1.2"/>
<line x1="1116.6" y1="173.3" x2="1884.5" y2="173.3" stroke="#000" stroke-width="1.8"/>
<polyline points="1151.8,254.6 1166.6,208.9 1181.5,153.2 1196.3,80.1 1211.2,54.5 1226.0,53.6 1240.9,82.8 1255.7,147.7 1270.6,214.4 1285.4,257.4 1300.2,283.0 1315.1,284.8 1329.9,265.6 1344.8,214.4 1359.6,132.2 1374.5,82.8 1389.3,48.5 1404.2,48.1 1419.0,83.7 1433.9,156.8 1448.7,217.2 1463.5,254.6 1478.4,277.2 1493.2,287.6 1508.1,267.4 1522.9,219.7 1537.8,143.5 1552.6,84.9 1567.5,54.8 1582.3,52.5 1597.2,82.2 1612.0,141.6 1626.8,208.0 1641.7,254.1 1656.5,279.0 1671.4,286.1 1686.2,261.0 1701.1,213.8 1715.9,137.7 1730.8,86.8 1745.6,54.8 1760.4,53.7 1775.3,86.1 1790.1,140.8 1805.0,208.0 1819.8,258.8 1834.7,280.2 1849.5,282.2" fill="none" stroke="#000000" stroke-width="2.7" stroke-linejoin="round"/>
<polyline points="1151.8,259.2 1166.6,206.2 1181.5,131.3 1196.3,83.7 1211.2,59.3 1226.0,61.9 1240.9,94.8 1255.7,158.7 1270.6,218.8 1285.4,257.4 1300.2,290.8 1315.1,284.1 1329.9,257.4 1344.8,200.7 1359.6,118.5 1374.5,70.4 1389.3,61.3 1404.2,76.1 1419.0,106.9 1433.9,161.4 1448.7,208.0 1463.5,247.3 1478.4,280.2 1493.2,280.2 1508.1,262.7 1522.9,208.0 1537.8,137.6 1552.6,86.8 1567.5,62.6 1582.3,64.2 1597.2,92.6 1612.0,147.4 1626.8,204.1 1641.7,252.9 1656.5,282.9 1671.4,272.3 1686.2,257.4 1701.1,211.9 1715.9,133.7 1730.8,86.8 1745.6,56.4 1760.4,64.2 1775.3,92.7 1790.1,145.5 1805.0,196.2 1819.8,249.0 1834.7,276.1 1849.5,284.1" fill="none" stroke="#1bb0a6" stroke-width="2.7" stroke-linejoin="round"/>
<polyline points="1151.8,266.5 1166.6,204.4 1181.5,134.9 1196.3,81.9 1211.2,55.8 1226.0,60.3 1240.9,98.8 1255.7,161.4 1270.6,226.9 1285.4,267.4 1300.2,288.8 1315.1,285.8 1329.9,264.7 1344.8,203.5 1359.6,113.9 1374.5,63.3 1389.3,52.2 1404.2,63.9 1419.0,100.9 1433.9,160.0 1448.7,210.8 1463.5,250.1 1478.4,275.7 1493.2,282.1 1508.1,261.9 1522.9,211.9 1537.8,145.5 1552.6,77.1 1567.5,54.8 1582.3,57.6 1597.2,98.6 1612.0,153.3 1626.8,219.7 1641.7,260.8 1656.5,279.0 1671.4,281.3 1686.2,262.9 1701.1,208.0 1715.9,127.9 1730.8,70.5 1745.6,42.0 1760.4,52.5 1775.3,90.8 1790.1,137.7 1805.0,200.2 1819.8,250.9 1834.7,274.2 1849.5,282.2" fill="none" stroke="#ef4123" stroke-width="2.7" stroke-linejoin="round"/>
<rect x="1116.6" y="35.8" width="767.9" height="274.8" fill="none" stroke="#d6d6d6" stroke-width="1.2"/>
<line x1="1113.1" y1="81.9" x2="1116.6" y2="81.9" stroke="#c8c8c8" stroke-width="1.2"/>
<text x="1109.3" y="91.7" font-size="25.3" text-anchor="end">1</text>
<line x1="1113.1" y1="173.3" x2="1116.6" y2="173.3" stroke="#c8c8c8" stroke-width="1.2"/>
<text x="1109.3" y="183.1" font-size="25.3" text-anchor="end">0</text>
<line x1="1113.1" y1="264.7" x2="1116.6" y2="264.7" stroke="#c8c8c8" stroke-width="1.2"/>
<text x="1109.3" y="274.5" font-size="25.3" text-anchor="end">−1</text>
<text x="1151.8" y="336.8" font-size="25.3" text-anchor="middle">2012</text>
<text x="1326.6" y="336.8" font-size="25.3" text-anchor="middle">2013</text>
<text x="1500.9" y="336.8" font-size="25.3" text-anchor="middle">2014</text>
<text x="1675.2" y="336.8" font-size="25.3" text-anchor="middle">2015</text>
<text x="1849.5" y="336.8" font-size="25.3" text-anchor="middle">2016</text>
<text transform="translate(1061.9,172.8) rotate(-90)" font-size="27.3" text-anchor="middle">PC Amplitude</text>
<line x1="1151.8" y1="365.5" x2="1151.8" y2="640.3" stroke="#b0b0b0" stroke-width="1.2"/>
<line x1="1151.8" y1="640.3" x2="1151.8" y2="643.8" stroke="#b0b0b0" stroke-width="1.2"/>
<line x1="1326.6" y1="365.5" x2="1326.6" y2="640.3" stroke="#b0b0b0" stroke-width="1.2"/>
<line x1="1326.6" y1="640.3" x2="1326.6" y2="643.8" stroke="#b0b0b0" stroke-width="1.2"/>
<line x1="1500.9" y1="365.5" x2="1500.9" y2="640.3" stroke="#b0b0b0" stroke-width="1.2"/>
<line x1="1500.9" y1="640.3" x2="1500.9" y2="643.8" stroke="#b0b0b0" stroke-width="1.2"/>
<line x1="1675.2" y1="365.5" x2="1675.2" y2="640.3" stroke="#b0b0b0" stroke-width="1.2"/>
<line x1="1675.2" y1="640.3" x2="1675.2" y2="643.8" stroke="#b0b0b0" stroke-width="1.2"/>
<line x1="1849.5" y1="365.5" x2="1849.5" y2="640.3" stroke="#b0b0b0" stroke-width="1.2"/>
<line x1="1849.5" y1="640.3" x2="1849.5" y2="643.8" stroke="#b0b0b0" stroke-width="1.2"/>
<polyline points="1151.8,554.4 1166.6,563.9 1181.5,582.4 1196.3,583.4 1211.2,587.4 1226.0,587.4 1240.9,591.4 1255.7,584.4 1270.6,593.5 1285.4,592.4 1300.2,594.5 1315.1,584.3 1329.9,561.9 1344.8,558.4 1359.6,559.9 1374.5,547.3 1389.3,555.4 1404.2,553.9 1419.0,560.9 1433.9,567.7 1448.7,556.6 1463.5,556.2 1478.4,544.5 1493.2,529.0 1508.1,482.6 1522.9,485.0 1537.8,469.1 1552.6,480.3 1567.5,483.3 1582.3,484.8 1597.2,482.8 1612.0,484.5 1626.8,480.0 1641.7,468.2 1656.5,473.0 1671.4,472.0 1686.2,411.9 1701.1,404.4 1715.9,399.6 1730.8,399.8 1745.6,384.8 1760.4,384.7 1775.3,377.2 1790.1,374.1 1805.0,380.2 1819.8,394.4 1834.7,400.5 1849.5,425.8" fill="none" stroke="#000000" stroke-width="2.7" stroke-linejoin="round"/>
<polyline points="1151.8,529.4 1166.6,529.0 1181.5,525.0 1196.3,529.0 1211.2,537.1 1226.0,527.6 1240.9,527.6 1255.7,518.8 1270.6,521.9 1285.4,528.6 1300.2,530.0 1315.1,515.2 1329.9,518.9 1344.8,535.1 1359.6,531.1 1374.5,524.6 1389.3,531.5 1404.2,522.4 1419.0,525.5 1433.9,524.5 1448.7,527.8 1463.5,524.8 1478.4,522.5 1493.2,536.2 1508.1,499.7 1522.9,492.9 1537.8,500.9 1552.6,504.4 1567.5,493.4 1582.3,494.6 1597.2,508.8 1612.0,504.2 1626.8,509.0 1641.7,507.2 1656.5,492.6 1671.4,497.7 1686.2,462.1 1701.1,453.6 1715.9,452.5 1730.8,453.4 1745.6,448.5 1760.4,466.0 1775.3,448.7 1790.1,464.0 1805.0,452.2 1819.8,450.5 1834.7,466.0 1849.5,462.1" fill="none" stroke="#1bb0a6" stroke-width="2.7" stroke-linejoin="round"/>
<polyline points="1151.8,527.4 1166.6,534.7 1181.5,526.3 1196.3,538.2 1211.2,534.4 1226.0,546.3 1240.9,537.7 1255.7,540.2 1270.6,532.7 1285.4,536.1 1300.2,551.3 1315.1,526.6 1329.9,519.9 1344.8,538.9 1359.6,543.7 1374.5,538.2 1389.3,552.5 1404.2,536.5 1419.0,531.6 1433.9,537.0 1448.7,530.2 1463.5,517.8 1478.4,530.1 1493.2,524.9 1508.1,496.2 1522.9,475.2 1537.8,495.4 1552.6,499.3 1567.5,490.0 1582.3,490.0 1597.2,505.2 1612.0,488.6 1626.8,505.0 1641.7,503.4 1656.5,490.2 1671.4,480.8 1686.2,465.3 1701.1,462.6 1715.9,444.9 1730.8,435.4 1745.6,435.3 1760.4,439.4 1775.3,436.9 1790.1,445.7 1805.0,443.0 1819.8,453.5 1834.7,440.1 1849.5,478.6" fill="none" stroke="#ef4123" stroke-width="2.7" stroke-linejoin="round"/>
<polygon points="1151.8,502.9 1151.8,564.1 1166.6,541.0 1181.5,536.5 1196.3,527.2 1211.2,523.1 1226.0,518.7 1240.9,485.8 1255.7,504.6 1270.6,519.7 1285.4,515.0 1300.2,506.9 1315.1,506.5 1329.9,505.5 1344.8,506.9 1359.6,510.1 1374.5,530.9 1389.3,550.1 1404.2,569.5 1419.0,549.8 1433.9,532.6 1448.7,520.6 1463.5,512.4 1478.4,513.4 1493.2,522.9 1508.1,530.9 1522.9,527.1 1537.8,507.6 1552.6,511.1 1567.5,512.9 1582.3,503.2 1597.2,484.9 1612.0,490.0 1626.8,508.6 1641.7,500.6 1656.5,483.5 1671.4,483.5 1686.2,490.6 1701.1,499.7 1715.9,495.7 1730.8,482.0 1745.6,440.0 1760.4,396.4 1775.3,403.1 1790.1,392.4 1805.0,376.2 1819.8,382.2 1834.7,395.0 1849.5,393.8 1849.5,502.9" fill="#808080" fill-opacity="0.5"/>
<line x1="1116.6" y1="502.9" x2="1884.5" y2="502.9" stroke="#555" stroke-width="2"/>
<rect x="1116.6" y="365.5" width="767.9" height="274.8" fill="none" stroke="#d6d6d6" stroke-width="1.2"/>
<line x1="1113.1" y1="378.1" x2="1116.6" y2="378.1" stroke="#c8c8c8" stroke-width="1.2"/>
<text x="1109.3" y="387.9" font-size="25.3" text-anchor="end">1.0</text>
<line x1="1113.1" y1="440.4" x2="1116.6" y2="440.4" stroke="#c8c8c8" stroke-width="1.2"/>
<text x="1109.3" y="450.2" font-size="25.3" text-anchor="end">0.5</text>
<line x1="1113.1" y1="502.8" x2="1116.6" y2="502.8" stroke="#c8c8c8" stroke-width="1.2"/>
<text x="1109.3" y="512.6" font-size="25.3" text-anchor="end">0.0</text>
<line x1="1113.1" y1="565.2" x2="1116.6" y2="565.2" stroke="#c8c8c8" stroke-width="1.2"/>
<text x="1109.3" y="575.0" font-size="25.3" text-anchor="end">−0.5</text>
<line x1="1113.1" y1="627.5" x2="1116.6" y2="627.5" stroke="#c8c8c8" stroke-width="1.2"/>
<text x="1109.3" y="637.3" font-size="25.3" text-anchor="end">−1.0</text>
<line x1="1884.5" y1="388.5" x2="1888.0" y2="388.5" stroke="#c8c8c8" stroke-width="1.2"/>
<text x="1891.0" y="397.7" font-size="23.3" fill="#808080">2</text>
<line x1="1884.5" y1="445.7" x2="1888.0" y2="445.7" stroke="#c8c8c8" stroke-width="1.2"/>
<text x="1891.0" y="454.9" font-size="23.3" fill="#808080">1</text>
<line x1="1884.5" y1="502.9" x2="1888.0" y2="502.9" stroke="#c8c8c8" stroke-width="1.2"/>
<text x="1891.0" y="512.1" font-size="23.3" fill="#808080">0</text>
<line x1="1884.5" y1="560.1" x2="1888.0" y2="560.1" stroke="#c8c8c8" stroke-width="1.2"/>
<text x="1891.0" y="569.3" font-size="23.3" fill="#808080">−1</text>
<line x1="1884.5" y1="617.3" x2="1888.0" y2="617.3" stroke="#c8c8c8" stroke-width="1.2"/>
<text x="1891.0" y="626.5" font-size="23.3" fill="#808080">−2</text>
<text x="1151.8" y="666" font-size="25.3" text-anchor="middle">2012</text>
<text x="1326.6" y="666" font-size="25.3" text-anchor="middle">2013</text>
<text x="1500.9" y="666" font-size="25.3" text-anchor="middle">2014</text>
<text x="1675.2" y="666" font-size="25.3" text-anchor="middle">2015</text>
<text x="1849.5" y="666" font-size="25.3" text-anchor="middle">2016</text>
<text transform="translate(1037.3,502.8) rotate(-90)" font-size="27.3" text-anchor="middle">PC Amplitude</text>
<text transform="translate(1947.6,502.6) rotate(-90)" font-size="27.1" text-anchor="middle" fill="#808080">MEI Index</text>
<rect x="1684.3" y="509.1" width="186.9" height="117.8" rx="4" fill="#ffffff" fill-opacity="0.8" stroke="#cccccc" stroke-width="1.2"/>
<line x1="1693.1" y1="528.7" x2="1745.7" y2="528.7" stroke="#000000" stroke-width="2.7"/>
<text x="1765.8" y="538.0" font-size="25.3">OC-CCI</text>
<line x1="1693.1" y1="566.1" x2="1745.7" y2="566.1" stroke="#1bb0a6" stroke-width="2.7"/>
<text x="1765.8" y="575.4" font-size="25.3">CNN<tspan font-size="17.5" dy="5">1</tspan></text>
<line x1="1693.1" y1="603.2" x2="1745.7" y2="603.2" stroke="#ef4123" stroke-width="2.7"/>
<text x="1765.8" y="612.5" font-size="25.3">CNN<tspan font-size="17.5" dy="4.5"><tspan font-style="italic">MM</tspan>8</tspan></text>
<text x="-0.4" y="23.8" font-family="'Liberation Sans', Arial, sans-serif" font-weight="bold" font-size="29.3">A</text>
<text x="1018.6" y="23.8" font-family="'Liberation Sans', Arial, sans-serif" font-weight="bold" font-size="29.3">B</text>
<text x="-0.2" y="349.4" font-family="'Liberation Sans', Arial, sans-serif" font-weight="bold" font-size="29.3">C</text>
<text x="1018.6" y="349.4" font-family="'Liberation Sans', Arial, sans-serif" font-weight="bold" font-size="29.3">D</text>
</svg></body></html>
